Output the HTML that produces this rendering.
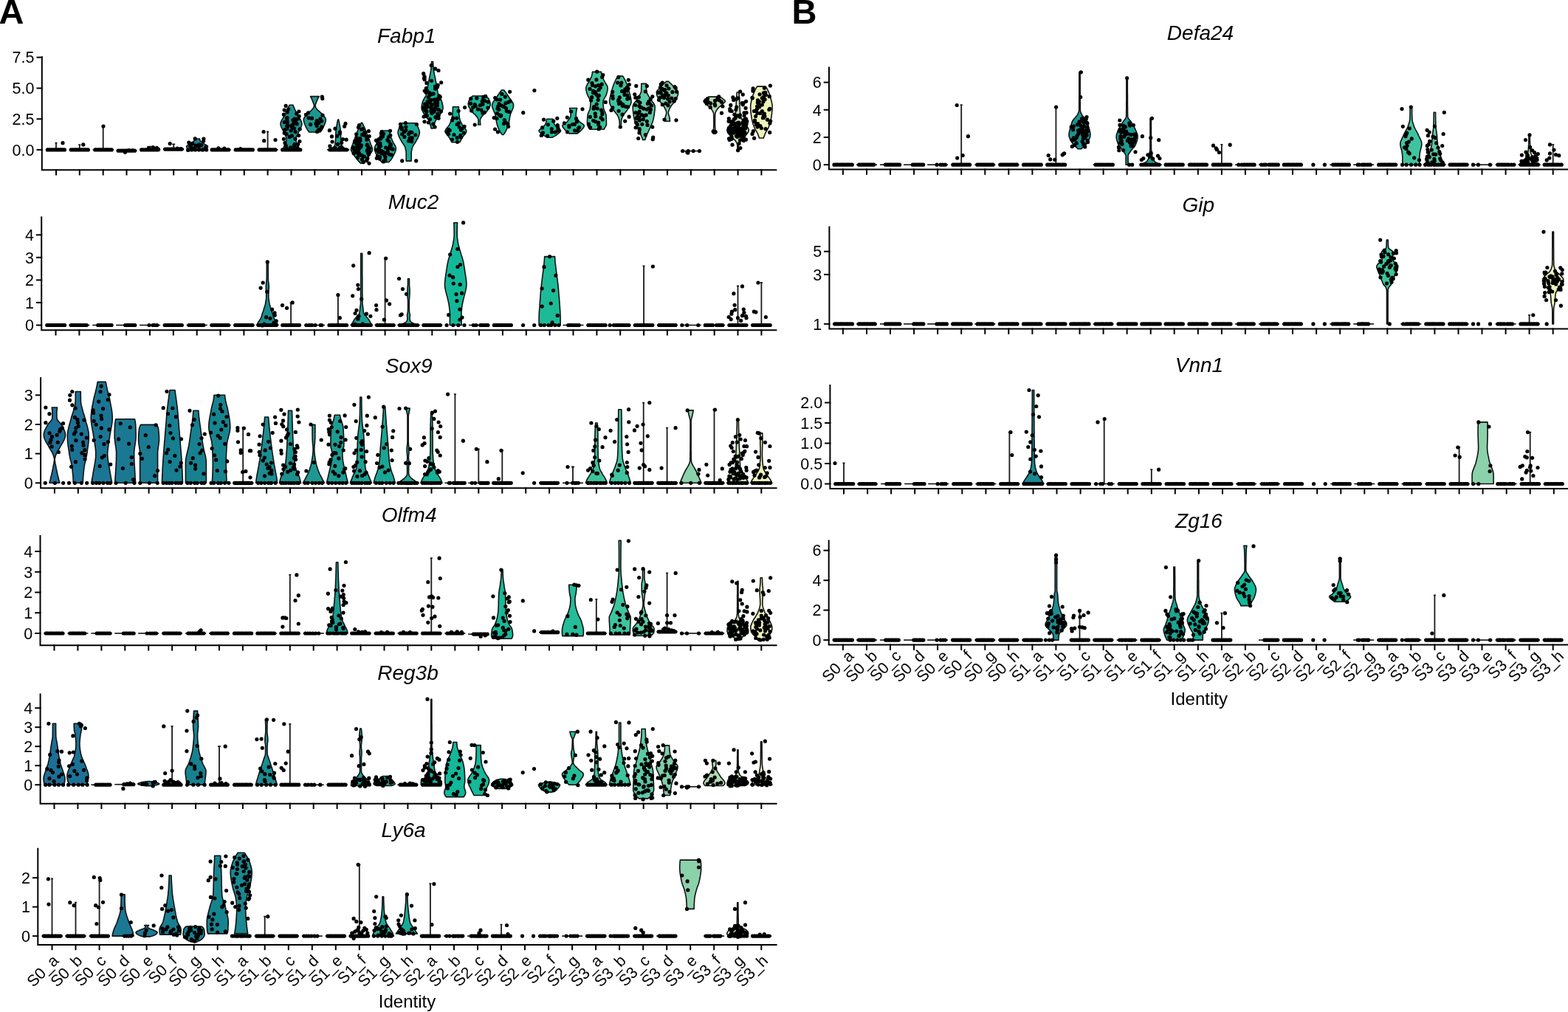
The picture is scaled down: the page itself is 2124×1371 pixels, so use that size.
<!DOCTYPE html>
<html><head><meta charset="utf-8"><title>Violin plots</title>
<style>
html,body{margin:0;padding:0;background:#fff;}
svg{display:block;}
text{font-family:"Liberation Sans", Arial, Helvetica, sans-serif;fill:#000;}
.tl{font-size:21.5px;}
.tt{font-size:28px;font-style:italic;}
.id{font-size:24px;}
.pl{font-size:47px;font-weight:bold;}
.ax{stroke:#000;stroke-width:2;fill:none;stroke-linecap:square;}
.v{stroke:#111;stroke-width:1.6;stroke-linejoin:round;}
.d{fill:none;stroke:#000;stroke-width:5.2;stroke-linecap:round;}
.zl{stroke:#111;stroke-width:1.6;fill:none;}
.vl{stroke:#1a1a1a;stroke-width:1.8;fill:none;}
</style></head><body>
<svg width="2124" height="1371" viewBox="0 0 2124 1371" xmlns="http://www.w3.org/2000/svg">
<rect width="2124" height="1371" fill="#fff"/>
<text x="-1.5" y="32.3" class="pl">A</text>
<text x="1072.5" y="32.3" class="pl">B</text>
<g>
<path d="M62 202.9H90" class="zl"/>
<path d="M76 202.9V193.6M74.5 193.6H77.5" class="vl"/>
<path class="d" d="M64.4 202.9h0M65.7 202.9h0M67.6 202.9h0M68.9 202.9h0M70.6 202.9h0M72.8 202.9h0M74.3 202.9h0M75 202.9h0M77.2 202.9h0M78.2 202.9h0M79.4 202.9h0M80.7 202.9h0M83 202.9h0M84.6 202.9h0M86 202.9h0M87.4 202.9h0M85 193.7h0"/>
<path d="M93.8 202.9H121.8" class="zl"/>
<path d="M107.8 202.9V196.2M106.3 196.2H109.3" class="vl"/>
<path class="d" d="M96.3 202.9h0M98.2 202.9h0M100 202.9h0M101.7 202.9h0M102.7 202.9h0M103.5 202.9h0M105.4 202.9h0M106.5 202.9h0M108.6 202.9h0M110.1 202.9h0M111.8 202.9h0M113.5 202.9h0M114.6 202.9h0M116.1 202.9h0M117.4 202.9h0M119.3 202.9h0M112.8 195.9h0"/>
<path d="M125.7 202.9H153.7" class="zl"/>
<path d="M139.7 202.9V171M138.2 171H141.2" class="vl"/>
<path class="d" d="M128.9 202.9h0M129.6 202.9h0M130.8 202.9h0M132.8 202.9h0M133.2 202.9h0M135 202.9h0M135.8 202.9h0M137.4 202.9h0M138.5 202.9h0M139.9 202.9h0M141.8 202.9h0M143.5 202.9h0M144.3 202.9h0M145.7 202.9h0M146.5 202.9h0M148.2 202.9h0M149.6 202.9h0M151.2 202.9h0M140 171h0"/>
<path d="M157.5 204.2H185.5" class="zl"/>
<path class="d" d="M160.3 204.2h0M162.5 204.2h0M164.7 204.2h0M166.8 204.2h0M168.8 204.2h0M171.1 204.2h0M172.5 204.2h0M175.2 204.2h0M176.4 204.2h0M178.4 204.2h0M180.1 204.2h0M182.5 204.2h0M169.5 206.2h0M174.5 203.7h0M179.5 203.7h0"/>
<path d="M189.4 202.9H217.4" class="zl"/>
<path d="M203.4 202.9V198.7M199.4 198.7H207.4" class="vl"/>
<path class="d" d="M191.6 202.9h0M193.7 202.9h0M196.5 202.9h0M198 202.9h0M200.9 202.9h0M202.4 202.9h0M204.2 202.9h0M205.9 202.9h0M208.9 202.9h0M210.1 202.9h0M212.8 202.9h0M214.1 202.9h0M201.4 200.9h0M207.4 199.6h0M212.4 200.4h0M214.4 202.1h0"/>
<path d="M221.2 202.1H249.2" class="zl"/>
<path d="M235.2 202.1V195.4M233.2 195.4H237.2" class="vl"/>
<path class="d" d="M223.6 202.1h0M225.5 202.1h0M226.9 202.1h0M227.9 202.1h0M229.8 202.1h0M230.5 202.1h0M232.3 202.1h0M232.8 202.1h0M234.2 202.1h0M235.9 202.1h0M236.9 202.1h0M238.3 202.1h0M239.3 202.1h0M240.8 202.1h0M242.8 202.1h0M243.5 202.1h0M244.7 202.1h0M246.3 202.1h0M230.2 194.6h0M240.2 201.2h0M245.2 201.6h0"/>
<path d="M257.1 203.9L256.6 203.6L256.2 203.2L255.7 202.9L255.3 202.6L254.9 202.2L254.6 201.9L254.3 201.5L254.1 201.2L253.8 200.9L253.6 200.5L253.4 200.2L253.2 199.9L253 199.5L252.8 199.2L252.7 198.8L252.7 198.5L252.7 198.2L252.9 197.8L253.2 197.5L253.7 197.2L254.2 196.8L254.7 196.5L255.4 196.1L256 195.8L256.6 195.5L257.2 195.1L257.7 194.8L258.2 194.5L258.7 194.1L259.2 193.8L259.6 193.4L260.1 193.1L260.6 192.8L261.1 192.4L261.5 192.1L262 191.8L262.3 191.4L262.6 191.1L262.9 190.7L263.1 190.4L263.2 190.1L263.3 189.7L263.4 189.4L263.5 189.1L263.6 188.7L263.7 188.4L263.7 188L270.5 188L270.5 188.4L270.5 188.7L270.6 189.1L270.7 189.4L270.8 189.7L271 190.1L271.1 190.4L271.3 190.7L271.5 191.1L271.8 191.4L272.2 191.8L272.6 192.1L273.1 192.4L273.5 192.8L274 193.1L274.5 193.4L275 193.8L275.5 194.1L275.9 194.5L276.4 194.8L276.9 195.1L277.5 195.5L278.2 195.8L278.8 196.1L279.4 196.5L280 196.8L280.5 197.2L280.9 197.5L281.3 197.8L281.4 198.2L281.5 198.5L281.4 198.8L281.3 199.2L281.2 199.5L281 199.9L280.8 200.2L280.6 200.5L280.3 200.9L280.1 201.2L279.8 201.5L279.6 201.9L279.2 202.2L278.8 202.6L278.4 202.9L278 203.2L277.6 203.6L277.1 203.9Z" fill="#178190" class="v"/>
<path class="d" d="M259.5 201.6h0M258.8 199.1h0M272.6 196.6h0M257.9 197.8h0M269.5 195.8h0M256.1 193.4h0M265.1 197h0M264.3 187.9h0M261.7 202.4h0M264.2 200.5h0M255.8 193h0M269.4 198.5h0M254.8 203.4h0M260.1 200.9h0M278.9 199.5h0M275.7 191h0M274.1 203.1h0M260.8 194.4h0M254.6 202.9h0M259.6 202.9h0M264.4 202.9h0M269.5 202.9h0M274.8 202.9h0M279.7 202.9h0M275.9 188h0"/>
<path d="M284.9 202.9H312.9" class="zl"/>
<path class="d" d="M287.3 202.9h0M288.9 202.9h0M290.6 202.9h0M292.2 202.9h0M294.2 202.9h0M295.6 202.9h0M296.5 202.9h0M298 202.9h0M299.1 202.9h0M301 202.9h0M302.7 202.9h0M304.3 202.9h0M305.5 202.9h0M307.6 202.9h0M309.2 202.9h0M309.6 202.9h0M295.9 200.9h0M303.9 201.2h0"/>
<path d="M316.8 202.9H344.8" class="zl"/>
<path class="d" d="M319.3 202.9h0M321.5 202.9h0M322.2 202.9h0M323.8 202.9h0M324.8 202.9h0M327 202.9h0M327.4 202.9h0M328.9 202.9h0M330.5 202.9h0M332 202.9h0M333.5 202.9h0M334.7 202.9h0M336.4 202.9h0M337.4 202.9h0M338.6 202.9h0M340.2 202.9h0M342.3 202.9h0M325.8 201.6h0"/>
<path d="M348.6 202.9H376.6" class="zl"/>
<path d="M362.6 202.9V178.5M361.1 178.5H364.1" class="vl"/>
<path class="d" d="M351.2 202.9h0M352.8 202.9h0M353.9 202.9h0M355.6 202.9h0M357 202.9h0M359.4 202.9h0M360.4 202.9h0M362.4 202.9h0M363.5 202.9h0M364.7 202.9h0M366 202.9h0M367.4 202.9h0M369.1 202.9h0M370.6 202.9h0M372.3 202.9h0M373.2 202.9h0M357.1 178.5h0M357.7 190.7h0M373 189.5h0"/>
<path d="M383 202.9L383.5 201.6L384 200.3L384.5 199L385 197.7L385.6 196.5L386.2 195.2L386.7 193.9L387.3 192.6L387.7 191.3L388.1 190L388.2 188.7L388 187.4L387.7 186.1L387.2 184.9L386.6 183.6L385.9 182.3L385.3 181L384.7 179.7L384.2 178.4L383.6 177.1L382.9 175.8L382.2 174.5L381.6 173.3L381 172L380.5 170.7L380.2 169.4L380.1 168.1L380.1 166.8L380.4 165.5L380.9 164.2L381.6 162.9L382.3 161.7L383.1 160.4L383.8 159.1L384.6 157.8L385.3 156.5L385.9 155.2L386.6 153.9L387.3 152.6L387.9 151.3L388.6 150L389.3 148.8L389.9 147.5L390.5 146.2L391 144.9L391.5 143.6L392 142.3L397 142.3L397.4 143.6L397.9 144.9L398.5 146.2L399.1 147.5L399.7 148.8L400.3 150L401 151.3L401.7 152.6L402.3 153.9L403 155.2L403.6 156.5L404.3 157.8L405.1 159.1L405.9 160.4L406.7 161.7L407.4 162.9L408 164.2L408.5 165.5L408.8 166.8L408.9 168.1L408.7 169.4L408.4 170.7L407.9 172L407.3 173.3L406.7 174.5L406 175.8L405.4 177.1L404.7 178.4L404.2 179.7L403.6 181L403 182.3L402.3 183.6L401.7 184.9L401.2 186.1L400.9 187.4L400.8 188.7L400.9 190L401.2 191.3L401.6 192.6L402.2 193.9L402.8 195.2L403.4 196.5L403.9 197.7L404.4 199L404.9 200.3L405.4 201.6L406 202.9Z" fill="#1c9290" class="v"/>
<path class="d" d="M400.2 164h0M387.3 197.4h0M400.1 178.6h0M395.5 172.1h0M384.4 155.2h0M402.4 200.5h0M398.4 197.7h0M403.6 195.5h0M388.5 201.3h0M385.2 149.1h0M390 171.1h0M400.6 203h0M392.2 185.4h0M386 193.7h0M388.9 163.1h0M389.2 165.5h0M395.7 169.7h0M388.6 170.5h0M388.5 160h0M397.7 167.7h0M388.1 181.6h0M390.6 148h0M385.3 165.5h0M384.4 188.3h0M385.2 180.2h0M399.2 161.1h0M402.2 167.8h0M388.8 174.3h0M389.1 159.5h0M405.2 157.4h0M394.2 177h0M400 188.1h0M398.4 173.7h0M397.1 162.7h0M390.4 170h0M404.9 151h0M404.6 183.6h0M405.9 191.6h0M401.7 154.1h0M385.8 175.9h0M406.2 174.8h0M403.7 160.8h0M395.4 183.9h0M393.6 199.8h0M399.1 195.5h0M389.2 152h0M387.2 143.4h0M382.7 202.9h0M385.4 202.9h0M387.9 202.9h0M391.2 202.9h0M392.6 202.9h0M396.1 202.9h0M398.1 202.9h0M400.8 202.9h0M403.5 202.9h0M406.8 202.9h0"/>
<path d="M418.8 179L418 178L417.3 177L416.6 175.9L415.9 174.9L415.3 173.9L414.8 172.9L414.3 171.8L413.9 170.8L413.4 169.8L413 168.7L412.6 167.7L412.2 166.7L411.9 165.6L411.6 164.6L411.4 163.6L411.3 162.6L411.3 161.5L411.6 160.5L412.2 159.5L412.9 158.4L413.8 157.4L414.7 156.4L415.6 155.3L416.5 154.3L417.5 153.3L418.6 152.3L419.9 151.2L421.1 150.2L422.2 149.2L423.1 148.1L423.8 147.1L424.5 146.1L425.1 145L425.5 144L425.5 143L425.3 142L425 140.9L424.6 139.9L424.2 138.9L423.8 137.8L423.4 136.8L423 135.8L422.6 134.8L422.1 133.7L421.6 132.7L421.1 131.7L420.5 130.6L432.1 130.6L431.6 131.7L431 132.7L430.5 133.7L430.1 134.8L429.6 135.8L429.2 136.8L428.8 137.8L428.4 138.9L428 139.9L427.6 140.9L427.3 142L427.1 143L427.2 144L427.5 145L428.1 146.1L428.8 147.1L429.5 148.1L430.4 149.2L431.6 150.2L432.8 151.2L434 152.3L435.2 153.3L436.2 154.3L437 155.3L438 156.4L438.9 157.4L439.7 158.4L440.4 159.5L441 160.5L441.3 161.5L441.3 162.6L441.2 163.6L441 164.6L440.8 165.6L440.4 166.7L440.1 167.7L439.6 168.7L439.2 169.8L438.7 170.8L438.3 171.8L437.8 172.9L437.3 173.9L436.7 174.9L436.1 175.9L435.3 177L434.6 178L433.8 179Z" fill="#1d9890" class="v"/>
<path class="d" d="M433.9 161.2h0M429.6 178.4h0M434.3 174.7h0M431.5 175.9h0M435.7 164.1h0M417.6 152.8h0M414.5 155.3h0M429.2 163.5h0M429.2 170.6h0M422.5 160.2h0M431.8 166.6h0M435.7 171.8h0M428 167.4h0M418.2 159.8h0M420.6 168.7h0M437 156.2h0M436.3 131.1h0M436.8 133.6h0"/>
<path d="M443.7 202.9L446.4 202L448.8 201.2L450.3 200.3L451.4 199.4L452.3 198.5L453 197.7L453.5 196.8L453.7 195.9L453.9 195.1L454 194.2L454.1 193.3L454.2 192.5L454.3 191.6L454.4 190.7L454.5 189.8L454.5 189L454.6 188.1L454.6 187.2L454.7 186.4L454.7 185.5L454.7 184.6L454.8 183.8L454.8 182.9L454.8 182L454.8 181.1L454.9 180.3L454.9 179.4L454.9 178.5L455 177.7L455 176.8L455.1 175.9L455.2 175.1L455.4 174.2L455.5 173.3L455.7 172.4L455.8 171.6L456 170.7L456.1 169.8L456.3 169L456.4 168.1L456.6 167.2L456.7 166.4L456.9 165.5L457.1 164.6L457.3 163.7L457.5 162.9L457.7 162L458.7 162L458.9 162.9L459 163.7L459.2 164.6L459.4 165.5L459.6 166.4L459.8 167.2L459.9 168.1L460.1 169L460.2 169.8L460.4 170.7L460.5 171.6L460.7 172.4L460.8 173.3L461 174.2L461.1 175.1L461.2 175.9L461.3 176.8L461.3 177.7L461.4 178.5L461.4 179.4L461.5 180.3L461.5 181.1L461.5 182L461.5 182.9L461.6 183.8L461.6 184.6L461.6 185.5L461.7 186.4L461.7 187.2L461.8 188.1L461.8 189L461.9 189.8L461.9 190.7L462 191.6L462.1 192.5L462.2 193.3L462.3 194.2L462.4 195.1L462.6 195.9L462.8 196.8L463.3 197.7L464 198.5L465 199.4L466 200.3L467.6 201.2L469.9 202L472.7 202.9Z" fill="#1c9c92" class="v"/>
<path class="d" d="M454 174.2h0M462.6 199.4h0M462.7 193.4h0M457.5 195.4h0M446.4 176.7h0M469.1 189.2h0M460.7 200.4h0M468 167.4h0M464.4 188.6h0M449.3 202.1h0M467.6 202.7h0M446.9 197.8h0M449.5 184.9h0M453.9 200.7h0M460.4 178.8h0M450.1 192h0M466.6 171.2h0M459.3 202.9h0M456.5 184.3h0M460.4 180.8h0M446.9 202.9h0M448.3 202.9h0M451.2 202.9h0M454.4 202.9h0M457.5 202.9h0M459.4 202.9h0M462.1 202.9h0M465.4 202.9h0M467.9 202.9h0M469.7 202.9h0"/>
<path d="M488.5 221.3L487.4 220.1L486.3 218.9L485.3 217.7L484.3 216.6L483.3 215.4L482.4 214.2L481.5 213.1L480.6 211.9L479.8 210.7L479 209.5L478.3 208.4L477.6 207.2L476.8 206L476.1 204.9L475.6 203.7L475.5 202.5L475.7 201.3L475.9 200.2L476.3 199L476.8 197.8L477.2 196.7L477.7 195.5L478.1 194.3L478.5 193.1L478.9 192L479.3 190.8L479.7 189.6L480.2 188.4L480.6 187.3L481 186.1L481.5 184.9L481.9 183.8L482.3 182.6L482.8 181.4L483.2 180.2L483.7 179.1L484.1 177.9L484.6 176.7L485.1 175.6L485.6 174.4L486.1 173.2L486.6 172L487.2 170.9L487.7 169.7L488.3 168.5L488.9 167.4L489.5 166.2L490.5 166.2L491.1 167.4L491.7 168.5L492.3 169.7L492.8 170.9L493.4 172L493.9 173.2L494.4 174.4L494.9 175.6L495.4 176.7L495.9 177.9L496.3 179.1L496.8 180.2L497.2 181.4L497.7 182.6L498.1 183.8L498.5 184.9L499 186.1L499.4 187.3L499.8 188.4L500.3 189.6L500.7 190.8L501.1 192L501.5 193.1L501.9 194.3L502.3 195.5L502.8 196.7L503.3 197.8L503.7 199L504.1 200.2L504.4 201.3L504.5 202.5L504.4 203.7L503.9 204.9L503.2 206L502.4 207.2L501.7 208.4L501 209.5L500.2 210.7L499.4 211.9L498.5 213.1L497.6 214.2L496.7 215.4L495.7 216.6L494.8 217.7L493.7 218.9L492.6 220.1L491.5 221.3Z" fill="#1aa193" class="v"/>
<path class="d" d="M500.2 184.5h0M480.5 191.6h0M500.6 201.2h0M486.2 193.9h0M487.8 187.6h0M484.6 213.6h0M497.9 214.3h0M489.5 196.8h0M485.9 209.7h0M491.7 174.5h0M496.8 217.7h0M479.1 207.7h0M490.7 182.4h0M499.4 209.2h0M497.4 195.8h0M498.8 208.1h0M486.4 207.3h0M481.8 193.4h0M485.3 191.6h0M483.6 198.2h0M499.3 201.6h0M499.4 177.6h0M492.2 219.7h0M479.3 202.2h0M497.7 188.5h0M483.8 206.7h0M478.5 199.7h0M489.7 175.2h0M488 190.5h0M497.6 215.2h0M482.6 191.1h0M494.4 179.8h0M486.5 169.5h0M482.3 202.9h0M493.2 212h0M483.4 195.3h0M497.6 203.2h0M482 206.3h0M485.6 198.9h0M496.6 189.2h0M500.3 205.3h0M497.1 185.7h0M483.5 187h0M489.9 210.4h0M498.5 198.1h0M485.2 204h0M497.1 196.7h0M493.8 179.6h0M485.5 172.4h0M497.4 204.6h0M486.5 201.3h0M493.4 183.2h0M488.7 199h0M490.5 215.9h0M482.7 181.8h0M500 221.3h0"/>
<path d="M516.9 219.6L516.1 218.7L515.3 217.8L514.5 216.9L513.8 216L513.2 215.1L512.6 214.2L512 213.3L511.6 212.3L511.1 211.4L510.6 210.5L510.1 209.6L509.6 208.7L509.2 207.8L508.8 206.9L508.4 206L508.1 205.1L507.8 204.2L507.6 203.3L507.4 202.4L507.4 201.5L507.4 200.6L507.6 199.7L507.9 198.8L508.2 197.9L508.7 197L509.2 196L509.8 195.1L510.3 194.2L510.8 193.3L511.3 192.4L511.7 191.5L512.1 190.6L512.5 189.7L512.8 188.8L513.2 187.9L513.6 187L513.9 186.1L514.3 185.2L514.6 184.3L514.9 183.4L515.1 182.5L515.3 181.6L515.4 180.7L515.6 179.7L515.7 178.8L515.8 177.9L515.9 177L527.9 177L527.9 177.9L528 178.8L528.1 179.7L528.3 180.7L528.4 181.6L528.6 182.5L528.9 183.4L529.1 184.3L529.4 185.2L529.8 186.1L530.1 187L530.5 187.9L530.9 188.8L531.2 189.7L531.6 190.6L532 191.5L532.4 192.4L532.9 193.3L533.4 194.2L534 195.1L534.5 196L535 197L535.5 197.9L535.8 198.8L536.1 199.7L536.3 200.6L536.4 201.5L536.3 202.4L536.1 203.3L535.9 204.2L535.6 205.1L535.3 206L534.9 206.9L534.5 207.8L534.1 208.7L533.6 209.6L533.1 210.5L532.6 211.4L532.2 212.3L531.7 213.3L531.1 214.2L530.5 215.1L529.9 216L529.2 216.9L528.4 217.8L527.6 218.7L526.9 219.6Z" fill="#19a694" class="v"/>
<path class="d" d="M526.8 191.7h0M520.9 210.2h0M510.2 214.3h0M511.5 211.6h0M514.9 194.1h0M514.5 212.9h0M526.4 185.6h0M527.2 209h0M513.3 188.5h0M517.1 207.9h0M509.5 190.2h0M515.9 186.9h0M518.5 205.4h0M516.4 180.6h0M520.4 217.8h0M519.5 218.9h0M528.8 183.3h0M529.1 195.4h0M512.8 206h0M509.6 203.1h0M519.5 181.2h0M515.6 197.8h0M532.2 202.2h0M528.5 177.3h0M525.1 205.3h0M518.3 185.1h0M529.4 196.8h0M517.1 178.7h0M522.7 200.1h0M522 212.5h0M530.2 209.9h0M525.7 200.9h0M522.5 207h0M524.9 189.8h0M513.5 199.2h0M523.7 206.7h0M527.1 200.9h0M512 193.6h0M512.8 195.6h0M513.1 194.2h0M528.3 197.4h0M530.4 201.5h0M514.1 215.1h0M513.5 202.2h0M516.1 204.4h0M515.7 188h0M521.8 216.6h0"/>
<path d="M550.2 218.1L550.2 217L550.2 215.9L550.2 214.8L550.2 213.7L550.2 212.6L550.2 211.5L550.2 210.4L550.2 209.3L550.2 208.2L550.2 207.2L550.1 206.1L550 205L549.8 203.9L549.5 202.8L549.3 201.7L549 200.6L548.7 199.5L548.3 198.4L547.7 197.3L547 196.2L546.2 195.1L545.4 194L544.7 192.9L544 191.8L543.5 190.7L542.9 189.7L542.3 188.6L541.7 187.5L541.2 186.4L540.7 185.3L540.2 184.2L539.8 183.1L539.4 182L539.2 180.9L539.1 179.8L539.1 178.7L539.3 177.6L539.6 176.5L539.9 175.4L540.4 174.3L540.8 173.2L541.3 172.2L541.8 171.1L542.3 170L542.9 168.9L543.5 167.8L544.2 166.7L563.2 166.7L563.9 167.8L564.5 168.9L565.1 170L565.6 171.1L566.1 172.2L566.6 173.2L567 174.3L567.5 175.4L567.8 176.5L568.1 177.6L568.3 178.7L568.3 179.8L568.2 180.9L568 182L567.6 183.1L567.2 184.2L566.7 185.3L566.2 186.4L565.7 187.5L565.1 188.6L564.5 189.7L563.9 190.7L563.4 191.8L562.7 192.9L562 194L561.2 195.1L560.4 196.2L559.7 197.3L559.1 198.4L558.7 199.5L558.4 200.6L558.1 201.7L557.9 202.8L557.6 203.9L557.4 205L557.3 206.1L557.2 207.2L557.2 208.2L557.2 209.3L557.2 210.4L557.2 211.5L557.2 212.6L557.2 213.7L557.2 214.8L557.2 215.9L557.2 217L557.2 218.1Z" fill="#18aa96" class="v"/>
<path class="d" d="M544.4 175.1h0M557.7 179.4h0M544.2 173.1h0M549.4 166.6h0M547.5 178.8h0M549.9 172h0M558 188.1h0M544.7 181.8h0M558.2 186.5h0M549.8 176.6h0M555.1 186.8h0M542.8 172.4h0M557.8 191.8h0M553.6 181.4h0M547.9 185.4h0M553.6 190.9h0M542.5 168.3h0M564.4 168.5h0M555.4 179.1h0M562.8 182.8h0M544.7 217.9h0M563.7 217.9h0"/>
<path d="M584 174L583.7 172.1L583.2 170.2L582.7 168.3L582.2 166.3L581.5 164.4L580.4 162.5L578.9 160.6L577.3 158.6L575.9 156.7L574.7 154.8L573.6 152.9L572.5 150.9L571.6 149L571.1 147.1L571.1 145.2L571.3 143.2L571.7 141.3L572.1 139.4L572.6 137.5L573.5 135.5L574.6 133.6L575.7 131.7L576.8 129.8L577.5 127.8L578 125.9L578.3 124L578.6 122.1L578.9 120.1L579.2 118.2L579.5 116.3L579.9 114.4L580.3 112.4L580.7 110.5L581.1 108.6L581.4 106.7L581.8 104.7L582.2 102.8L582.6 100.9L583 99L583.4 97L583.7 95.1L583.9 93.2L584.1 91.3L584.2 89.3L584.4 87.4L584.5 85.5L584.5 83.6L586.5 83.6L586.6 85.5L586.7 87.4L586.9 89.3L587 91.3L587.2 93.2L587.4 95.1L587.7 97L588.1 99L588.4 100.9L588.9 102.8L589.3 104.7L589.7 106.7L590 108.6L590.4 110.5L590.8 112.4L591.2 114.4L591.6 116.3L591.9 118.2L592.2 120.1L592.5 122.1L592.8 124L593.1 125.9L593.6 127.8L594.3 129.8L595.4 131.7L596.5 133.6L597.6 135.5L598.4 137.5L599 139.4L599.4 141.3L599.8 143.2L600 145.2L600 147.1L599.5 149L598.6 150.9L597.5 152.9L596.4 154.8L595.2 156.7L593.8 158.6L592.2 160.6L590.7 162.5L589.6 164.4L588.9 166.3L588.4 168.3L587.9 170.2L587.4 172.1L587 174Z" fill="#15b198" class="v"/>
<path class="d" d="M588 151.3h0M594.1 156.7h0M593.2 115.3h0M594 95.5h0M575.2 104.5h0M589.9 145.4h0M592.4 135.5h0M592.1 159.2h0M578.9 144.5h0M589.1 172h0M584.6 147.6h0M592.4 118h0M577.4 123.1h0M595.2 132.4h0M584.4 142.2h0M592.2 134.1h0M585.1 142.4h0M592.3 143h0M595.5 133.6h0M597.7 111.8h0M594.1 160.2h0M575 164.8h0M578.8 141.1h0M582.5 161.5h0M581.8 129.6h0M588.2 135.2h0M589.3 140.2h0M589.6 93.2h0M585.1 153.6h0M584.6 152.2h0M577.9 151.2h0M584.6 109.3h0M577 146.9h0M578.8 143.3h0M585.4 127.3h0M577.2 155.5h0M591.7 118.4h0M574.9 103.7h0M588.8 149.5h0M574.1 158.1h0M592.4 139.9h0M584.7 141.3h0M583.9 150.4h0M575.2 123h0M576.1 149.8h0M578.8 123.4h0M580.2 131.8h0M578.4 156.8h0M580.4 166h0M573.7 99.7h0M596.2 131h0M582 125.9h0M582.7 136.7h0M586.8 168h0M575.7 141.2h0M593 154.4h0M577.9 112.4h0M587.1 127h0M594.1 148.7h0M577.1 125.3h0M587.2 148.3h0M590 158.7h0M574.8 147.5h0M589.5 117h0M579.1 137.5h0M597.4 150.9h0M594.9 129.9h0M584.1 135.6h0M581.6 138.6h0M577.3 119.6h0M583.7 145.5h0M589.5 120.2h0M592.4 137.3h0M574.5 106.2h0M584.2 88.5h0M575.1 107.7h0M577 157.4h0M573.7 145.7h0"/>
<path d="M611.9 192.7L611.4 191.7L610.9 190.7L610.3 189.7L609.8 188.6L609.2 187.6L608.6 186.6L608 185.6L607.2 184.6L606.4 183.5L605.5 182.5L604.7 181.5L603.9 180.5L603.4 179.5L603 178.5L603 177.4L603.3 176.4L603.9 175.4L604.6 174.4L605.5 173.4L606.3 172.3L607.2 171.3L607.9 170.3L608.5 169.3L609 168.3L609.5 167.2L610.1 166.2L610.5 165.2L611 164.2L611.4 163.2L611.8 162.1L612.1 161.1L612.3 160.1L612.4 159.1L612.6 158.1L612.7 157L612.8 156L612.9 155L613 154L613.1 153L613.1 152L613.2 150.9L613.3 149.9L613.3 148.9L613.3 147.9L613.4 146.9L613.4 145.8L613.4 144.8L621.4 144.8L621.4 145.8L621.4 146.9L621.4 147.9L621.5 148.9L621.5 149.9L621.6 150.9L621.7 152L621.7 153L621.8 154L621.9 155L622 156L622.1 157L622.2 158.1L622.3 159.1L622.5 160.1L622.7 161.1L623 162.1L623.4 163.2L623.8 164.2L624.2 165.2L624.7 166.2L625.2 167.2L625.8 168.3L626.3 169.3L626.8 170.3L627.6 171.3L628.4 172.3L629.3 173.4L630.2 174.4L630.9 175.4L631.5 176.4L631.8 177.4L631.7 178.5L631.4 179.5L630.9 180.5L630.1 181.5L629.3 182.5L628.4 183.5L627.6 184.6L626.8 185.6L626.2 186.6L625.6 187.6L625 188.6L624.5 189.7L623.9 190.7L623.4 191.7L622.9 192.7Z" fill="#12b899" class="v"/>
<path class="d" d="M625.9 174.3h0M621.1 166.9h0M613.7 160.2h0M618.7 160h0M606 178.6h0M623.7 183.4h0M622.3 172.3h0M624.3 176.1h0M609.6 154h0M615 182.5h0M619.5 192.3h0M619.1 168.5h0M629 171.4h0M628.2 180h0M619.2 186.7h0M612.4 189h0M607.9 175.6h0M609.2 176.6h0M612.5 163h0M624.5 186.1h0M621.1 150.3h0M607.6 181.5h0M629.6 145.6h0"/>
<path d="M647.4 169L647.7 168.2L647.8 167.4L647.9 166.5L648 165.7L648 164.9L648 164L648 163.2L648 162.4L647.8 161.5L647.5 160.7L647 159.9L646.5 159L646 158.2L645.4 157.4L644.7 156.6L643.9 155.7L643 154.9L642 154.1L641.1 153.2L640.3 152.4L639.5 151.6L639 150.7L638.4 149.9L637.8 149.1L637.2 148.2L636.7 147.4L636.2 146.6L635.7 145.8L635.2 144.9L634.9 144.1L634.6 143.3L634.4 142.4L634.3 141.6L634.2 140.8L634.3 139.9L634.5 139.1L634.7 138.3L635 137.4L635.3 136.6L635.6 135.8L636 135L636.4 134.1L637 133.3L637.6 132.5L638.4 131.6L639.3 130.8L640.2 130L658.2 130L659.2 130.8L660 131.6L660.8 132.5L661.5 133.3L662.1 134.1L662.5 135L662.8 135.8L663.2 136.6L663.5 137.4L663.8 138.3L664 139.1L664.1 139.9L664.2 140.8L664.2 141.6L664.1 142.4L663.9 143.3L663.6 144.1L663.2 144.9L662.8 145.8L662.3 146.6L661.8 147.4L661.3 148.2L660.7 149.1L660.1 149.9L659.5 150.7L658.9 151.6L658.2 152.4L657.4 153.2L656.4 154.1L655.5 154.9L654.6 155.7L653.7 156.6L653 157.4L652.5 158.2L652 159L651.5 159.9L651 160.7L650.7 161.5L650.5 162.4L650.4 163.2L650.4 164L650.5 164.9L650.5 165.7L650.6 166.5L650.7 167.4L650.8 168.2L651 169Z" fill="#15b899" class="v"/>
<path class="d" d="M645.8 133.1h0M637.5 140.2h0M643.1 141.5h0M652 149.1h0M637.8 133.7h0M647.5 148.1h0M653.9 153h0M653.2 137.7h0M654.2 135.3h0M657.7 130.4h0M640.8 145.3h0M656.2 152.3h0M656.5 136.7h0M638.6 149.9h0M653.9 141.3h0M660.9 146.1h0M644.2 143.7h0M654.7 131.3h0M650.4 142.7h0M661 138.1h0M643.2 169h0"/>
<path d="M680.3 182.5L679.3 181.2L678.3 180L677.6 178.7L676.9 177.4L676.2 176.1L675.6 174.8L675 173.5L674.5 172.2L674 170.9L673.6 169.6L673.2 168.4L672.9 167.1L672.6 165.8L672.4 164.5L672.2 163.2L672 161.9L671.9 160.6L671.7 159.3L671.5 158L671.2 156.8L670.9 155.5L670.5 154.2L670 152.9L669.4 151.6L668.8 150.3L668.3 149L667.7 147.7L667.2 146.4L666.9 145.2L666.6 143.9L666.6 142.6L666.8 141.3L667.2 140L667.8 138.7L668.6 137.4L669.5 136.1L670.5 134.8L671.4 133.6L672.3 132.3L673.2 131L674 129.7L674.9 128.4L675.8 127.1L676.7 125.8L677.6 124.5L678.6 123.2L679.6 122L682.6 122L683.6 123.2L684.5 124.5L685.5 125.8L686.4 127.1L687.3 128.4L688.2 129.7L689 131L689.8 132.3L690.8 133.6L691.7 134.8L692.7 136.1L693.5 137.4L694.3 138.7L695 140L695.4 141.3L695.6 142.6L695.5 143.9L695.3 145.2L694.9 146.4L694.5 147.7L693.9 149L693.3 150.3L692.8 151.6L692.2 152.9L691.7 154.2L691.3 155.5L691 156.8L690.7 158L690.5 159.3L690.3 160.6L690.1 161.9L689.9 163.2L689.7 164.5L689.5 165.8L689.3 167.1L689 168.4L688.6 169.6L688.2 170.9L687.7 172.2L687.1 173.5L686.6 174.8L685.9 176.1L685.3 177.4L684.6 178.7L683.8 180L682.9 181.2L681.9 182.5Z" fill="#18b998" class="v"/>
<path class="d" d="M688 167.8h0M673.5 153.5h0M679.6 143.1h0M669.2 159.6h0M674.8 143.8h0M673 134.8h0M691.1 137.2h0M670.7 132.6h0M690.6 124.3h0M685.5 146.6h0M683.4 162.6h0M688.2 138.5h0M686.3 150.6h0M670.6 175h0M682.4 167.4h0M672.9 160.5h0M688.6 171.4h0M684.4 131.1h0M675.9 148.3h0M677.7 135h0M684.9 139.9h0M685 165.8h0M689.6 151.4h0M676.4 155.8h0M679.9 127.4h0M678.8 156.3h0M674 147.2h0M678.4 157.3h0M676.1 140.7h0M674.4 178.8h0M682.3 144.6h0"/>
<path class="d" d="M723.9 122.6h0M708.7 152.7h0"/>
<path d="M741.8 186.2L740.7 185.7L739.6 185.1L738.6 184.6L737.6 184.1L736.7 183.5L736 183L735.3 182.5L734.5 181.9L733.8 181.4L733.1 180.9L732.5 180.4L731.8 179.8L731.3 179.3L730.8 178.8L730.4 178.2L730.2 177.7L730.1 177.2L730.2 176.6L730.5 176.1L731.1 175.6L731.8 175L732.6 174.5L733.4 174L734.1 173.4L734.7 172.9L735.3 172.4L735.8 171.8L736.3 171.3L736.8 170.8L737.2 170.2L737.7 169.7L738.1 169.2L738.4 168.6L738.7 168.1L738.9 167.6L739.1 167L739.3 166.5L739.5 166L739.7 165.4L739.8 164.9L740 164.4L740.1 163.8L740.3 163.3L740.3 162.8L740.4 162.2L740.5 161.7L740.5 161.2L749.1 161.2L749.1 161.7L749.1 162.2L749.2 162.8L749.3 163.3L749.4 163.8L749.6 164.4L749.7 164.9L749.9 165.4L750.1 166L750.3 166.5L750.5 167L750.7 167.6L750.9 168.1L751.2 168.6L751.5 169.2L751.9 169.7L752.3 170.2L752.8 170.8L753.3 171.3L753.8 171.8L754.3 172.4L754.8 172.9L755.4 173.4L756.1 174L756.9 174.5L757.7 175L758.5 175.6L759 176.1L759.4 176.6L759.5 177.2L759.4 177.7L759.1 178.2L758.8 178.8L758.3 179.3L757.7 179.8L757.1 180.4L756.4 180.9L755.7 181.4L755 181.9L754.3 182.5L753.6 183L752.8 183.5L751.9 184.1L751 184.6L750 185.1L748.9 185.7L747.8 186.2Z" fill="#1dba98" class="v"/>
<path class="d" d="M755.6 171.8h0M749.8 164.2h0M755.2 169.5h0M756.3 174.8h0M747.3 174.6h0M755.9 176h0M734.6 172.9h0M756.6 177.2h0M735.5 179.8h0M741.5 184.2h0M736.5 162.1h0M752.1 179h0M742.4 168.8h0M733.3 183.5h0M747.4 178.8h0M734.6 181.6h0M754.8 160.3h0"/>
<path d="M771.1 180.9L770.1 180.1L769.1 179.4L768.2 178.7L767.3 177.9L766.6 177.2L765.9 176.5L765.2 175.7L764.6 175L764 174.3L763.4 173.6L762.8 172.8L762.4 172.1L762.1 171.4L761.9 170.6L762 169.9L762.5 169.2L763.3 168.4L764.3 167.7L765.4 167L766.6 166.2L767.6 165.5L768.4 164.8L769 164L769.5 163.3L770.1 162.6L770.6 161.8L771.2 161.1L771.6 160.4L772.1 159.7L772.4 158.9L772.7 158.2L773 157.5L773.1 156.7L773.1 156L773.1 155.3L773.1 154.5L773 153.8L772.9 153.1L772.8 152.3L772.7 151.6L772.6 150.9L772.5 150.1L772.3 149.4L772.2 148.7L772 148L771.8 147.2L771.6 146.5L781.6 146.5L781.4 147.2L781.3 148L781.1 148.7L780.9 149.4L780.8 150.1L780.7 150.9L780.6 151.6L780.5 152.3L780.4 153.1L780.3 153.8L780.2 154.5L780.2 155.3L780.1 156L780.2 156.7L780.3 157.5L780.5 158.2L780.8 158.9L781.2 159.7L781.6 160.4L782.1 161.1L782.6 161.8L783.2 162.6L783.7 163.3L784.3 164L784.8 164.8L785.7 165.5L786.7 166.2L787.8 167L788.9 167.7L789.9 168.4L790.8 169.2L791.2 169.9L791.3 170.6L791.2 171.4L790.8 172.1L790.4 172.8L789.9 173.6L789.3 174.3L788.6 175L788 175.7L787.4 176.5L786.7 177.2L785.9 177.9L785 178.7L784.1 179.4L783.1 180.1L782.1 180.9Z" fill="#25bc99" class="v"/>
<path class="d" d="M770.8 170.4h0M784.6 172.6h0M780.6 160.7h0M771 172.1h0M778.2 168.5h0M783.6 173.6h0M778.5 176.8h0M781.3 164.9h0M773.6 151h0M768.5 178.8h0M789 147.8h0M782.5 177.1h0M775.6 168.5h0M768.3 159.1h0M764.4 166.9h0"/>
<path d="M799 175.2L797.8 173.5L796.8 171.9L796 170.2L795.5 168.6L795.5 166.9L795.5 165.3L795.5 163.6L795.6 162L795.7 160.3L795.8 158.6L795.9 157L796.1 155.3L796.6 153.7L797.3 152L798.1 150.4L798.8 148.7L799.3 147.1L799.5 145.4L799.7 143.8L799.8 142.1L799.9 140.4L800 138.8L799.9 137.1L799.5 135.5L798.7 133.8L797.7 132.2L796.7 130.5L795.9 128.9L795.3 127.2L794.8 125.6L794.4 123.9L794 122.2L793.8 120.6L793.8 118.9L794.2 117.3L794.9 115.6L795.8 114L796.9 112.3L797.8 110.7L798.7 109L799.5 107.3L800.3 105.7L801.1 104L801.6 102.4L802 100.7L802.3 99.1L802.5 97.4L814.5 97.4L814.7 99.1L815 100.7L815.4 102.4L815.9 104L816.6 105.7L817.4 107.3L818.3 109L819.1 110.7L820.1 112.3L821.1 114L822.1 115.6L822.8 117.3L823.1 118.9L823.1 120.6L822.9 122.2L822.5 123.9L822.1 125.6L821.6 127.2L821.1 128.9L820.3 130.5L819.3 132.2L818.3 133.8L817.5 135.5L817 137.1L817 138.8L817 140.4L817.1 142.1L817.3 143.8L817.4 145.4L817.6 147.1L818.1 148.7L818.9 150.4L819.7 152L820.4 153.7L820.9 155.3L821 157L821.2 158.6L821.3 160.3L821.3 162L821.4 163.6L821.4 165.3L821.5 166.9L821.4 168.6L821 170.2L820.1 171.9L819.1 173.5L818 175.2Z" fill="#3cc39c" class="v"/>
<path class="d" d="M815.8 154.8h0M804.7 144.6h0M810.1 130.6h0M799 120.4h0M811.3 129.4h0M812.7 172.6h0M796.8 108.2h0M806.6 164.8h0M814 159.6h0M814.4 149.1h0M799.4 158.4h0M810.6 168.9h0M810.7 166h0M797.5 168.1h0M811.1 121.7h0M801.7 131.7h0M807.8 127.9h0M802.6 115.5h0M816.1 161.9h0M799.5 172.6h0M803.7 123.4h0M802 112.6h0M806.3 153.9h0M815.9 152.5h0M810.4 115.5h0M806.7 157.8h0M808.7 97.1h0M808.3 141h0M810.2 135.3h0M815.7 104.4h0M806.7 124.8h0M813.2 118.7h0M811.1 174.7h0M804.1 147.2h0M820.3 138.4h0M815.2 114.2h0M806.6 116.8h0M800.6 135.9h0M803.7 163.3h0M803.6 125.7h0M807.9 107.9h0M816.8 101.5h0M809.1 146.9h0"/>
<path d="M839.3 172.9L839.3 171.4L839.3 169.9L839.3 168.4L839.2 166.9L839.2 165.4L839.1 164L838.8 162.5L838.4 161L837.9 159.5L837.4 158L836.7 156.5L835.6 155L834.4 153.6L833.2 152.1L832 150.6L831.1 149.1L830.2 147.6L829.2 146.1L828.2 144.7L827.3 143.2L826.6 141.7L826 140.2L825.7 138.7L825.6 137.2L825.7 135.7L825.9 134.3L826.2 132.8L826.5 131.3L826.9 129.8L827.3 128.3L827.6 126.8L828 125.4L828.4 123.9L828.8 122.4L829.2 120.9L829.6 119.4L830.1 117.9L830.6 116.5L831.1 115L831.7 113.5L832.3 112L833 110.5L833.7 109L834.4 107.5L835.2 106.1L836.1 104.6L836.9 103.1L843.7 103.1L844.6 104.6L845.4 106.1L846.2 107.5L847 109L847.7 110.5L848.3 112L849 113.5L849.5 115L850 116.5L850.5 117.9L851 119.4L851.5 120.9L851.9 122.4L852.3 123.9L852.6 125.4L853 126.8L853.4 128.3L853.7 129.8L854.1 131.3L854.4 132.8L854.7 134.3L854.9 135.7L855 137.2L855 138.7L854.6 140.2L854.1 141.7L853.3 143.2L852.4 144.7L851.5 146.1L850.5 147.6L849.5 149.1L848.6 150.6L847.4 152.1L846.2 153.6L845 155L844 156.5L843.3 158L842.7 159.5L842.2 161L841.8 162.5L841.6 164L841.5 165.4L841.4 166.9L841.4 168.4L841.3 169.9L841.3 171.4L841.3 172.9Z" fill="#3fc4a0" class="v"/>
<path class="d" d="M828 149.4h0M849.6 118.1h0M829.8 145.9h0M843.9 141.7h0M841.8 112.1h0M845.6 124.6h0M838.1 150.3h0M849.4 122.9h0M849.8 134.1h0M836.7 112h0M841 115.8h0M837.6 136.7h0M852.4 114.5h0M849.7 129.1h0M852.1 158.2h0M847.7 144.4h0M839.3 131.9h0M846.9 120.9h0M837.7 104.6h0M830.2 133.3h0M829.8 129.9h0M851.1 119.8h0M846.7 164.1h0M852.5 133.1h0M851.3 108.3h0M829.7 124.4h0M843 141h0M850.7 144.8h0M843.1 155.2h0M842.6 123.7h0M846.1 128.5h0M840.2 138.6h0M838.5 140.6h0M838 135h0M843.3 143.6h0M840.3 172h0"/>
<path d="M870.7 189.4L870.1 187.8L869.5 186.1L868.8 184.5L868.2 182.9L867.5 181.3L866.8 179.7L866 178.1L865.3 176.5L864.5 174.8L863.8 173.2L863.1 171.6L862.4 170L861.7 168.4L861 166.8L860.3 165.1L859.8 163.5L859.3 161.9L859 160.3L858.7 158.7L858.4 157.1L858.2 155.5L857.9 153.8L857.7 152.2L857.5 150.6L857.4 149L857.2 147.4L857.2 145.8L857.2 144.1L857.6 142.5L858.3 140.9L859.4 139.3L860.7 137.7L862 136.1L863.2 134.4L864.2 132.8L865 131.2L866 129.6L866.9 128L867.7 126.4L868.3 124.8L868.7 123.1L868.7 121.5L868.7 119.9L868.7 118.3L868.8 116.7L868.8 115.1L868.8 113.4L875.6 113.4L875.6 115.1L875.6 116.7L875.6 118.3L875.6 119.9L875.6 121.5L875.7 123.1L876 124.8L876.6 126.4L877.4 128L878.3 129.6L879.3 131.2L880.2 132.8L881.2 134.4L882.4 136.1L883.7 137.7L884.9 139.3L886 140.9L886.8 142.5L887.2 144.1L887.2 145.8L887.1 147.4L887 149L886.8 150.6L886.6 152.2L886.4 153.8L886.2 155.5L885.9 157.1L885.6 158.7L885.3 160.3L885 161.9L884.6 163.5L884 165.1L883.4 166.8L882.7 168.4L881.9 170L881.2 171.6L880.5 173.2L879.8 174.8L879.1 176.5L878.3 178.1L877.6 179.7L876.8 181.3L876.1 182.9L875.5 184.5L874.9 186.1L874.3 187.8L873.7 189.4Z" fill="#5bc9a6" class="v"/>
<path class="d" d="M880.1 140.3h0M869.8 168.3h0M860.8 132.2h0M861.8 116.4h0M863.4 168.9h0M866.9 139.1h0M869.3 155.7h0M874.4 182.7h0M862.2 160.2h0M868.4 145.4h0M875.2 155.8h0M882.7 143h0M876.3 116.5h0M877.4 140.4h0M883.8 172.1h0M883.8 130.8h0M866 179.9h0M872.5 156.9h0M877 169.4h0M864.2 137h0M880.3 152.5h0M866.4 163h0M866.3 176.3h0M879.1 146.6h0M876.3 164.3h0M863.4 158.2h0M859.8 127.8h0M866 143.7h0M866.2 151.1h0M860.7 142.5h0M874.3 124.1h0M866.2 161.8h0M876.4 148.2h0M871.3 161.7h0M881.4 148.4h0M871.9 147.2h0M865.9 159.1h0M864.7 187.5h0M864.7 153.5h0M861.1 152.7h0M861.7 166.2h0M878.8 137.7h0M866.2 174.7h0M881.2 134.3h0M865.4 131.5h0M861.1 172.8h0M867.7 145.5h0M884.2 188.7h0M884.7 186.2h0"/>
<path d="M900.5 164.3L900.6 163.2L900.7 162.1L900.8 160.9L901 159.8L901.2 158.6L901.5 157.5L901.9 156.3L902.3 155.2L902.6 154L902.7 152.9L902.6 151.7L902.4 150.6L902 149.4L901.5 148.3L900.9 147.1L900.3 146L899.7 144.8L899.1 143.7L898.3 142.6L897.4 141.4L896.4 140.3L895.3 139.1L894.3 138L893.4 136.8L892.6 135.7L892 134.5L891.6 133.4L891.1 132.2L890.6 131.1L890.2 129.9L889.8 128.8L889.6 127.6L889.4 126.5L889.3 125.3L889.5 124.2L890.1 123.1L891 121.9L892.1 120.8L893.2 119.6L894.4 118.5L895.4 117.3L896.5 116.2L897.6 115L898.7 113.9L900 112.7L901.2 111.6L902.5 110.4L905.5 110.4L906.8 111.6L908.1 112.7L909.3 113.9L910.4 115L911.6 116.2L912.6 117.3L913.6 118.5L914.8 119.6L915.9 120.8L917 121.9L917.9 123.1L918.5 124.2L918.7 125.3L918.6 126.5L918.5 127.6L918.2 128.8L917.8 129.9L917.4 131.1L917 132.2L916.5 133.4L916 134.5L915.4 135.7L914.6 136.8L913.7 138L912.7 139.1L911.7 140.3L910.7 141.4L909.7 142.6L909 143.7L908.3 144.8L907.7 146L907.1 147.1L906.6 148.3L906.1 149.4L905.7 150.6L905.4 151.7L905.3 152.9L905.4 154L905.7 155.2L906.1 156.3L906.5 157.5L906.8 158.6L907 159.8L907.2 160.9L907.3 162.1L907.4 163.2L907.5 164.3Z" fill="#7ccdaa" class="v"/>
<path class="d" d="M904.7 134.1h0M916.5 124.3h0M892.5 135.3h0M900.6 122.8h0M894.4 118.6h0M913.3 137.1h0M910.9 124.7h0M905.3 129.3h0M915.2 119.2h0M900.7 121.6h0M907.1 137.8h0M895.3 114.2h0M897.3 141.8h0M891.7 125.6h0M903.1 115.8h0M897.3 131.2h0M896 121.8h0M901.4 127.6h0M898.4 130.3h0M899.6 132.5h0M906 120h0M903 128.8h0M914 117.6h0M894 132h0M897.2 112.2h0M905 142.8h0M892.9 125h0M909.8 133h0M895.4 126.1h0M903 126h0M915.2 133.6h0M912.8 137h0M901.9 140.2h0M899.4 129.5h0M897 120.3h0M916 162.8h0M900 162h0"/>
<path d="M921.9 204.6H949.9" class="zl"/>
<path class="d" d="M924.8 204.6h0M932.2 204.6h0M939.2 204.6h0M947.4 204.6h0M930.9 206.2h0M931.9 207.1h0"/>
<path d="M966.2 180.7L964.9 179.6L964.9 178.6L965.7 177.5L966.4 176.5L966.6 175.4L966.6 174.4L966.7 173.3L966.8 172.3L966.8 171.2L966.9 170.2L966.9 169.1L966.9 168L966.9 167L966.9 165.9L966.9 164.9L966.9 163.8L966.9 162.8L966.9 161.7L966.9 160.7L966.8 159.6L966.8 158.6L966.8 157.5L966.8 156.4L966.7 155.4L966.7 154.3L966.5 153.3L966.2 152.2L965.7 151.2L965.1 150.1L964.5 149.1L963.8 148L963.1 147L962.1 145.9L960.9 144.8L959.7 143.8L958.4 142.7L957.2 141.7L956.2 140.6L954.9 139.6L953.8 138.5L953.1 137.5L953.2 136.4L954.3 135.4L955.8 134.3L957.2 133.2L958.6 132.2L960.1 131.1L975.3 131.1L976.8 132.2L978.2 133.2L979.6 134.3L981.1 135.4L982.2 136.4L982.3 137.5L981.6 138.5L980.5 139.6L979.2 140.6L978.2 141.7L977 142.7L975.8 143.8L974.5 144.8L973.4 145.9L972.4 147L971.6 148L970.9 149.1L970.3 150.1L969.7 151.2L969.2 152.2L968.9 153.3L968.7 154.3L968.7 155.4L968.6 156.4L968.6 157.5L968.6 158.6L968.6 159.6L968.5 160.7L968.5 161.7L968.5 162.8L968.5 163.8L968.5 164.9L968.5 165.9L968.5 167L968.5 168L968.5 169.1L968.6 170.2L968.6 171.2L968.6 172.3L968.7 173.3L968.8 174.4L968.8 175.4L969 176.5L969.7 177.5L970.5 178.6L970.5 179.6L969.2 180.7Z" fill="#afdcb0" class="v"/>
<path class="d" d="M978.9 144h0M974.9 136h0M962.2 145.4h0M956.2 135.6h0M973.7 130.9h0M968.7 142.9h0M968.6 136.4h0M960.1 138.6h0M973.2 135.3h0M972 132.7h0M955.9 138h0M968.3 141.2h0M962.7 140h0M957.4 140.4h0M977.4 138.2h0M958.5 133.5h0M977.5 153.2h0M967.7 179.5h0M966.2 177.9h0M969.2 178.7h0"/>
<path d="M999.1 204.1L999 202.4L999 200.7L998.9 199L998.8 197.3L998.7 195.7L998.1 194L997.2 192.3L996.1 190.6L994.4 188.9L992.5 187.2L991 185.6L989.5 183.9L988 182.2L986.6 180.5L985.6 178.8L985 177.1L984.9 175.5L985.5 173.8L986.5 172.1L987.8 170.4L989 168.7L990.1 167L991.3 165.4L992.7 163.7L994 162L995.1 160.3L995.9 158.6L996.2 156.9L996.4 155.3L996.5 153.6L996.6 151.9L996.8 150.2L996.8 148.5L996.9 146.8L997 145.2L997.1 143.5L997.2 141.8L997.2 140.1L997.3 138.4L997.4 136.7L997.4 135.1L997.5 133.4L997.6 131.7L997.8 130L998 128.3L998.1 126.6L998.4 125L1000.8 125L1001 126.6L1001.2 128.3L1001.3 130L1001.5 131.7L1001.6 133.4L1001.7 135.1L1001.7 136.7L1001.8 138.4L1001.9 140.1L1001.9 141.8L1002 143.5L1002.1 145.2L1002.2 146.8L1002.3 148.5L1002.4 150.2L1002.5 151.9L1002.6 153.6L1002.7 155.3L1002.9 156.9L1003.2 158.6L1004 160.3L1005.1 162L1006.4 163.7L1007.8 165.4L1009 167L1010.1 168.7L1011.3 170.4L1012.6 172.1L1013.6 173.8L1014.2 175.5L1014.2 177.1L1013.5 178.8L1012.5 180.5L1011.1 182.2L1009.6 183.9L1008.1 185.6L1006.6 187.2L1004.7 188.9L1003 190.6L1001.9 192.3L1001 194L1000.4 195.7L1000.3 197.3L1000.2 199L1000.1 200.7L1000.1 202.4L1000.1 204.1Z" fill="#c6e5b4" class="v"/>
<path class="d" d="M1006.3 141.8h0M1004 174.3h0M1010 173.4h0M1007.6 170.8h0M1002.8 178.9h0M1005.8 166.4h0M991.1 188.3h0M1010.4 189.2h0M1008.1 152.9h0M1006.2 184.2h0M1010.6 137.3h0M1001.9 184.2h0M996.1 178.5h0M1011.7 164.2h0M1002.9 181.6h0M989.8 170.6h0M1003.3 184.2h0M998.9 156.8h0M1001.3 168.7h0M1010.1 146.4h0M989.6 172.6h0M1008.8 172.3h0M994.2 173.9h0M1000.5 166.2h0M1011.1 152.7h0M1007.1 187.6h0M987.4 173.4h0M995.1 178h0M994 175.1h0M1004.6 179.1h0M990.3 174.4h0M988 179.8h0M1006.9 170.7h0M996.1 160h0M989.5 164.4h0M993 165.8h0M1001.7 176.7h0M1008.1 156.8h0M988.2 189.5h0M998.9 166.7h0M999.8 132.8h0M991.1 166.5h0M1002.6 189.9h0M991.2 186.1h0M1009.2 180.1h0M994.2 161.7h0M990.6 177.4h0M1006.4 165.6h0M989.8 142.4h0M998.6 177.7h0M997 167.9h0M992 196.2h0M988.8 147.7h0M993.8 176.8h0M999.8 182.8h0M1002.2 158.3h0M998.1 183h0M1006.3 128.1h0M1010.6 161.2h0M1008.2 175.2h0M994.9 155.2h0M1009.4 171.7h0M1007.7 170.7h0M1008 183.6h0M1001.1 194.6h0M989.6 181h0M1008.3 179.7h0M1009.5 168.5h0M1007.8 162.4h0M1002.4 182.2h0M987.1 164.3h0M998.5 175.7h0M1002.7 124.1h0M987.8 175.7h0M1007.1 139.5h0M1000.9 177.2h0M995 170.1h0M987.1 177.6h0M988.9 150.1h0M994.1 168.6h0M1009.5 172.4h0M996.5 175.2h0M988.3 176.3h0M992.9 131.9h0M1004.2 182.2h0M1000.3 172.2h0M987.3 160.5h0M997.8 177.7h0M1011 168.5h0M995 167.4h0M1007.5 190.6h0M1011.5 165.4h0M998.5 185.3h0M993.7 135.5h0M1005.6 185.9h0M999.1 179.6h0M1007.2 178.6h0M1005.4 139.7h0M1002.4 155.8h0M997.7 134.1h0M993.1 180.2h0M1008 175.4h0M987.5 187.8h0M997.4 184.1h0M1008.2 178.3h0M991 185h0M1000.7 179.7h0M1002.9 200.6h0M1007.3 187.1h0M999.4 171.7h0M989.7 173.3h0M991.2 150.5h0M996.9 148.6h0M1007.9 166.6h0M997.8 145h0M999.9 179.8h0M995.9 170.4h0M999.6 203.7h0"/>
<path d="M1028.4 187L1028 185.6L1027.5 184.1L1026.9 182.6L1026.4 181.1L1025.6 179.6L1024.8 178.1L1023.9 176.6L1023 175.1L1022.2 173.7L1021.6 172.2L1021.1 170.7L1020.5 169.2L1020 167.7L1019.6 166.2L1019.1 164.7L1018.8 163.2L1018.5 161.8L1018.3 160.3L1018 158.8L1017.8 157.3L1017.6 155.8L1017.4 154.3L1017.2 152.8L1017.1 151.3L1016.9 149.8L1016.8 148.4L1016.7 146.9L1016.7 145.4L1016.7 143.9L1016.8 142.4L1017 140.9L1017.3 139.4L1017.6 137.9L1017.9 136.5L1018.3 135L1018.8 133.5L1019.2 132L1019.6 130.5L1020 129L1020.5 127.5L1021.1 126L1021.6 124.6L1022.3 123.1L1023 121.6L1023.8 120.1L1024.7 118.6L1025.6 117.1L1037.2 117.1L1038.1 118.6L1039 120.1L1039.8 121.6L1040.5 123.1L1041.2 124.6L1041.7 126L1042.3 127.5L1042.8 129L1043.2 130.5L1043.6 132L1044 133.5L1044.5 135L1044.9 136.5L1045.2 137.9L1045.5 139.4L1045.8 140.9L1046 142.4L1046.1 143.9L1046.1 145.4L1046.1 146.9L1046 148.4L1045.9 149.8L1045.7 151.3L1045.6 152.8L1045.4 154.3L1045.2 155.8L1045 157.3L1044.8 158.8L1044.5 160.3L1044.3 161.8L1044 163.2L1043.7 164.7L1043.2 166.2L1042.8 167.7L1042.3 169.2L1041.7 170.7L1041.2 172.2L1040.6 173.7L1039.8 175.1L1038.9 176.6L1038 178.1L1037.2 179.6L1036.4 181.1L1035.9 182.6L1035.3 184.1L1034.8 185.6L1034.4 187Z" fill="#edf4b8" class="v"/>
<path class="d" d="M1032.3 142h0M1042.7 147.4h0M1036.8 125.3h0M1035 130h0M1042.9 166.9h0M1023.6 157.5h0M1035.4 119.3h0M1036.1 134.7h0M1037.1 174.6h0M1020.4 177.7h0M1026.5 167.7h0M1042.3 130.7h0M1034.2 159.7h0M1026 172h0M1029.8 170.5h0M1033.9 137.8h0M1022.5 163.2h0M1029.8 153.4h0M1032.4 132.9h0M1028.1 141.1h0M1026.3 139h0M1032.3 150.7h0M1034.4 156.4h0M1042.7 179.4h0M1019 181.4h0M1020.1 119.9h0M1025.9 153.3h0M1027.5 140.7h0M1020 122.1h0M1028.4 137.5h0M1021.5 150.5h0M1034.5 125.8h0M1043.7 164h0M1031.4 173.6h0M1026.6 144.7h0M1019.4 132.8h0M1029.1 127.8h0M1022.6 165h0M1024.7 149.4h0M1026.5 135.9h0M1020 123.2h0M1033.5 159.7h0M1025.6 147.3h0M1035.5 154h0M1039.5 162.2h0M1041.9 148.5h0M1028.8 144.8h0M1026.3 168.2h0M1034.7 155.9h0M1024.4 169.1h0M1018.9 132.4h0M1037.5 128.5h0M1035.9 157.6h0M1025.6 144h0M1021.6 187.2h0M1043.4 116.1h0"/>
<path d="M56.8 77.2V230.2H1051.4" class="ax"/>
<path d="M50.5 202.9H56.8" class="ax"/>
<text x="46.5" y="210.6" class="tl" text-anchor="end">0.0</text>
<path d="M50.5 161.2H56.8" class="ax"/>
<text x="46.5" y="168.9" class="tl" text-anchor="end">2.5</text>
<path d="M50.5 119.5H56.8" class="ax"/>
<text x="46.5" y="127.2" class="tl" text-anchor="end">5.0</text>
<path d="M50.5 77.7H56.8" class="ax"/>
<text x="46.5" y="85.4" class="tl" text-anchor="end">7.5</text>
<path d="M76 230.2V236.5" class="ax"/>
<path d="M107.8 230.2V236.5" class="ax"/>
<path d="M139.7 230.2V236.5" class="ax"/>
<path d="M171.5 230.2V236.5" class="ax"/>
<path d="M203.4 230.2V236.5" class="ax"/>
<path d="M235.2 230.2V236.5" class="ax"/>
<path d="M267.1 230.2V236.5" class="ax"/>
<path d="M298.9 230.2V236.5" class="ax"/>
<path d="M330.8 230.2V236.5" class="ax"/>
<path d="M362.6 230.2V236.5" class="ax"/>
<path d="M394.5 230.2V236.5" class="ax"/>
<path d="M426.3 230.2V236.5" class="ax"/>
<path d="M458.2 230.2V236.5" class="ax"/>
<path d="M490 230.2V236.5" class="ax"/>
<path d="M521.9 230.2V236.5" class="ax"/>
<path d="M553.7 230.2V236.5" class="ax"/>
<path d="M585.5 230.2V236.5" class="ax"/>
<path d="M617.4 230.2V236.5" class="ax"/>
<path d="M649.2 230.2V236.5" class="ax"/>
<path d="M681.1 230.2V236.5" class="ax"/>
<path d="M712.9 230.2V236.5" class="ax"/>
<path d="M744.8 230.2V236.5" class="ax"/>
<path d="M776.6 230.2V236.5" class="ax"/>
<path d="M808.5 230.2V236.5" class="ax"/>
<path d="M840.3 230.2V236.5" class="ax"/>
<path d="M872.2 230.2V236.5" class="ax"/>
<path d="M904 230.2V236.5" class="ax"/>
<path d="M935.9 230.2V236.5" class="ax"/>
<path d="M967.7 230.2V236.5" class="ax"/>
<path d="M999.6 230.2V236.5" class="ax"/>
<path d="M1031.4 230.2V236.5" class="ax"/>
<text x="550.7" y="58.4" class="tt" text-anchor="middle">Fabp1</text>
</g>
<g>
<path d="M61.5 440.5H89.5" class="zl"/>
<path class="d" d="M63.8 440.5h0M65.1 440.5h0M66.8 440.5h0M68.1 440.5h0M69.6 440.5h0M70.4 440.5h0M72.3 440.5h0M73.6 440.5h0M74.9 440.5h0M76.7 440.5h0M77.7 440.5h0M79 440.5h0M80.9 440.5h0M82.6 440.5h0M83.4 440.5h0M85.3 440.5h0M86.3 440.5h0M87.7 440.5h0"/>
<path d="M93.4 440.5H121.4" class="zl"/>
<path class="d" d="M96.3 440.5h0M97.5 440.5h0M98.8 440.5h0M100.2 440.5h0M101.2 440.5h0M102.8 440.5h0M104.2 440.5h0M105.5 440.5h0M107.5 440.5h0M108.5 440.5h0M110 440.5h0M110.9 440.5h0M113 440.5h0M113.7 440.5h0M115.1 440.5h0M117.2 440.5h0"/>
<path d="M125.2 440.5H153.2" class="zl"/>
<path class="d" d="M132.7 440.5h0M134.3 440.5h0M134.9 440.5h0M136.3 440.5h0M137.7 440.5h0M139 440.5h0M140.8 440.5h0M141.6 440.5h0M143.1 440.5h0M144 440.5h0M145.7 440.5h0M147.1 440.5h0M148.3 440.5h0M149.5 440.5h0M151.1 440.5h0"/>
<path d="M157.1 440.5H185.1" class="zl"/>
<path class="d" d="M169.7 440.5h0M171.5 440.5h0M172.6 440.5h0M174.2 440.5h0M175.3 440.5h0M177 440.5h0M178.6 440.5h0M180 440.5h0M181 440.5h0M182.8 440.5h0"/>
<path d="M189 440.5H217" class="zl"/>
<path class="d" d="M202 440.5h0M207 440.5h0M209.6 440.5h0M212.7 440.5h0"/>
<path d="M220.8 440.5H248.8" class="zl"/>
<path class="d" d="M223.2 440.5h0M224.5 440.5h0M226.2 440.5h0M227.3 440.5h0M228.8 440.5h0M229.9 440.5h0M231.7 440.5h0M233.2 440.5h0M234.1 440.5h0M235.8 440.5h0M236.5 440.5h0M238 440.5h0M239.6 440.5h0M240.8 440.5h0M241.9 440.5h0M243.7 440.5h0M245 440.5h0M246.3 440.5h0"/>
<path d="M252.7 440.5H280.7" class="zl"/>
<path class="d" d="M256 440.5h0M257.9 440.5h0M259.3 440.5h0M260.5 440.5h0M261.7 440.5h0M263 440.5h0M264.8 440.5h0M266 440.5h0M267.5 440.5h0M268.9 440.5h0M270.5 440.5h0M271.1 440.5h0M272.9 440.5h0M274.6 440.5h0M275.8 440.5h0"/>
<path d="M284.5 440.5H312.5" class="zl"/>
<path class="d" d="M286.9 440.5h0M288.8 440.5h0M290 440.5h0M291 440.5h0M292.5 440.5h0M294.2 440.5h0M294.9 440.5h0M296.8 440.5h0M298.3 440.5h0M299.4 440.5h0M300.7 440.5h0M301.6 440.5h0M303.5 440.5h0M304.9 440.5h0M306.1 440.5h0M307.4 440.5h0M308.3 440.5h0M309.6 440.5h0"/>
<path d="M316.4 440.5H344.4" class="zl"/>
<path class="d" d="M318.7 440.5h0M320 440.5h0M321.9 440.5h0M323.1 440.5h0M324.7 440.5h0M325.5 440.5h0M327.1 440.5h0M328.8 440.5h0M329.8 440.5h0M331.1 440.5h0M332.7 440.5h0M334.1 440.5h0M335.5 440.5h0M336.3 440.5h0M337.7 440.5h0M339.3 440.5h0M340.9 440.5h0M342.1 440.5h0"/>
<path d="M347.8 440.5L348.7 438.7L349.7 436.9L350.8 435L352.1 433.2L353.2 431.4L353.9 429.6L354.5 427.7L355 425.9L355.6 424.1L356.3 422.3L356.9 420.5L357.4 418.6L358 416.8L358.5 415L359.1 413.2L359.5 411.4L359.8 409.5L360.1 407.7L360.4 405.9L360.6 404.1L360.7 402.2L360.8 400.4L360.7 398.6L360.6 396.8L360.5 395L360.4 393.1L360.3 391.3L360.3 389.5L360.3 387.7L360.4 385.9L360.6 384L360.8 382.2L361 380.4L361.2 378.6L361.3 376.7L361.3 374.9L361.3 373.1L361.3 371.3L361.3 369.5L361.3 367.6L361.3 365.8L361.3 364L361.3 362.2L361.3 360.4L361.3 358.5L361.3 356.7L361.3 354.9L363.3 354.9L363.3 356.7L363.3 358.5L363.3 360.4L363.3 362.2L363.3 364L363.3 365.8L363.3 367.6L363.3 369.5L363.3 371.3L363.3 373.1L363.3 374.9L363.3 376.7L363.4 378.6L363.5 380.4L363.7 382.2L364 384L364.1 385.9L364.3 387.7L364.3 389.5L364.2 391.3L364.1 393.1L364 395L363.9 396.8L363.8 398.6L363.8 400.4L363.8 402.2L363.9 404.1L364.2 405.9L364.4 407.7L364.7 409.5L365 411.4L365.5 413.2L366 415L366.5 416.8L367.1 418.6L367.7 420.5L368.3 422.3L368.9 424.1L369.5 425.9L370 427.7L370.6 429.6L371.3 431.4L372.4 433.2L373.7 435L374.8 436.9L375.8 438.7L376.8 440.5Z" fill="#1b8d91" class="v"/>
<path class="d" d="M372.3 427.1h0M371.1 437.2h0M366 431.3h0M368.6 419.2h0M372 423.8h0M360.6 429.7h0M355.3 440.9h0M374.2 434.8h0M358 439.1h0M350 440.5h0M352.4 440.5h0M354.4 440.5h0M357.4 440.5h0M359.8 440.5h0M361.9 440.5h0M363.5 440.5h0M366.1 440.5h0M367.7 440.5h0M370.1 440.5h0M371.3 440.5h0M374.2 440.5h0M356.2 383h0M353.1 390.1h0M362.3 354.9h0M361.7 395.2h0"/>
<path d="M380.1 440.5H408.1" class="zl"/>
<path d="M394.1 440.5V410.5M392.6 410.5H395.6" class="vl"/>
<path class="d" d="M382.9 440.5h0M384 440.5h0M385.3 440.5h0M386.7 440.5h0M388.1 440.5h0M390 440.5h0M391.5 440.5h0M392.7 440.5h0M394.3 440.5h0M395.7 440.5h0M396.9 440.5h0M398.2 440.5h0M400 440.5h0M401.7 440.5h0M402.4 440.5h0M404.2 440.5h0M405.5 440.5h0M396.1 409.9h0M382.5 413.6h0M388.6 417.3h0"/>
<path d="M412 440.5H440" class="zl"/>
<path class="d" d="M415 440.5h0M418.7 440.5h0M421 440.5h0M422.8 440.5h0M427 440.5h0M434.2 440.5h0M435.8 440.5h0"/>
<path d="M443.9 440.5H471.9" class="zl"/>
<path d="M457.9 440.5V399.5M456.4 399.5H459.4" class="vl"/>
<path class="d" d="M446 440.5h0M447.7 440.5h0M449.1 440.5h0M451.1 440.5h0M451.9 440.5h0M453.5 440.5h0M455.4 440.5h0M456.3 440.5h0M457.5 440.5h0M459 440.5h0M460.4 440.5h0M462 440.5h0M463.9 440.5h0M464.8 440.5h0M466.5 440.5h0M468.3 440.5h0M469.6 440.5h0M457.9 399.5h0M460.3 430.7h0"/>
<path d="M475.2 440.5L476.7 438.4L478 436.4L479.1 434.3L480.4 432.2L482.1 430.2L483.9 428.1L485.9 426L486.9 424L487.2 421.9L487.5 419.8L487.7 417.7L487.9 415.7L488.2 413.6L488.5 411.5L488.5 409.5L488.5 407.4L488.6 405.3L488.6 403.3L488.6 401.2L488.6 399.1L488.6 397.1L488.6 395L488.6 392.9L488.6 390.9L488.6 388.8L488.7 386.7L488.7 384.6L488.7 382.6L488.7 380.5L488.7 378.4L488.7 376.4L488.7 374.3L488.7 372.2L488.7 370.2L488.7 368.1L488.7 366L488.7 364L488.7 361.9L488.7 359.8L488.7 357.8L488.7 355.7L488.7 353.6L488.7 351.5L488.7 349.5L488.7 347.4L488.7 345.3L488.7 343.3L490.7 343.3L490.7 345.3L490.7 347.4L490.7 349.5L490.7 351.5L490.7 353.6L490.7 355.7L490.7 357.8L490.7 359.8L490.7 361.9L490.7 364L490.7 366L490.7 368.1L490.7 370.2L490.7 372.2L490.8 374.3L490.8 376.4L490.8 378.4L490.8 380.5L490.8 382.6L490.8 384.6L490.8 386.7L490.8 388.8L490.8 390.9L490.8 392.9L490.8 395L490.8 397.1L490.9 399.1L490.9 401.2L490.9 403.3L490.9 405.3L490.9 407.4L490.9 409.5L491 411.5L491.2 413.6L491.5 415.7L491.8 417.7L492 419.8L492.2 421.9L492.6 424L493.6 426L495.6 428.1L497.3 430.2L499.1 432.2L500.4 434.3L501.5 436.4L502.7 438.4L504.2 440.5Z" fill="#1aa193" class="v"/>
<path class="d" d="M480.8 439h0M491.3 438.9h0M484.9 432.2h0M477.8 440.5h0M480.2 440.5h0M482 440.5h0M482.9 440.5h0M485.4 440.5h0M487.5 440.5h0M489.5 440.5h0M489.9 440.5h0M491.7 440.5h0M494.1 440.5h0M496.6 440.5h0M497.9 440.5h0M499.9 440.5h0M502.3 440.5h0M478.7 359.8h0M484.8 386.1h0M485.4 391.6h0M477.7 400.8h0M489.7 405h0M500.1 342.7h0M496.4 425.2h0M501.9 428.3h0M481.1 424.6h0M483 420.3h0M486 428.3h0"/>
<path d="M507.6 440.5H535.6" class="zl"/>
<path d="M521.6 440.5V350M520.1 350H523.1" class="vl"/>
<path class="d" d="M510.5 440.5h0M511.2 440.5h0M513.1 440.5h0M514.6 440.5h0M515.6 440.5h0M516.9 440.5h0M518.3 440.5h0M519.9 440.5h0M521.3 440.5h0M522.9 440.5h0M524.4 440.5h0M526.3 440.5h0M527.3 440.5h0M529 440.5h0M529.8 440.5h0M532 440.5h0M533.1 440.5h0M522.6 350h0M509.6 413.6h0M510 419.7h0M523.4 406.9h0M527.6 411.8h0M520.4 433.2h0"/>
<path d="M539 440.5L544.1 439.2L547.5 437.8L549.9 436.5L550.9 435.1L551.5 433.8L551.8 432.5L551.9 431.1L551.8 429.8L551.6 428.4L551.5 427.1L551.6 425.8L552 424.4L552.3 423.1L552.5 421.7L552.5 420.4L552.5 419.1L552.6 417.7L552.6 416.4L552.6 415L552.6 413.7L552.6 412.4L552.6 411L552.6 409.7L552.6 408.3L552.5 407L552.5 405.7L552.3 404.3L552.2 403L552.1 401.6L552 400.3L552 399L552 397.6L552 396.3L552 394.9L552 393.6L552 392.3L552 390.9L552.1 389.6L552.2 388.2L552.4 386.9L552.4 385.6L552.5 384.2L552.5 382.9L552.5 381.5L552.5 380.2L552.5 378.9L552.5 377.5L554.5 377.5L554.5 378.9L554.5 380.2L554.5 381.5L554.5 382.9L554.5 384.2L554.5 385.6L554.5 386.9L554.7 388.2L554.8 389.6L554.9 390.9L555 392.3L555 393.6L555 394.9L555 396.3L555 397.6L554.9 399L554.9 400.3L554.8 401.6L554.7 403L554.6 404.3L554.4 405.7L554.4 407L554.3 408.3L554.3 409.7L554.3 411L554.3 412.4L554.3 413.7L554.3 415L554.3 416.4L554.3 417.7L554.4 419.1L554.4 420.4L554.4 421.7L554.6 423.1L554.9 424.4L555.3 425.8L555.4 427.1L555.3 428.4L555.1 429.8L555 431.1L555.1 432.5L555.4 433.8L556 435.1L557 436.5L559.4 437.8L562.8 439.2L568 440.5Z" fill="#18aa96" class="v"/>
<path class="d" d="M541.4 440.5h0M543 440.5h0M544.7 440.5h0M547.5 440.5h0M549 440.5h0M550.8 440.5h0M552.2 440.5h0M554.6 440.5h0M556 440.5h0M558.8 440.5h0M559.9 440.5h0M561.9 440.5h0M563.3 440.5h0M565.5 440.5h0M540.6 377.5h0M545.5 391.6h0M550.5 398.3h0M542.5 427h0M544.2 425.8h0"/>
<path d="M571.3 440.5H599.3" class="zl"/>
<path class="d" d="M573.9 440.5h0M575.5 440.5h0M576.8 440.5h0M577.7 440.5h0M579.7 440.5h0M581.4 440.5h0M582.2 440.5h0M583.9 440.5h0M585.5 440.5h0M587 440.5h0M588.3 440.5h0M589.9 440.5h0M590.9 440.5h0M592.3 440.5h0M594.3 440.5h0M595.6 440.5h0M596.4 440.5h0"/>
<path d="M609.2 440.5L609.3 437.5L609.3 434.6L609.4 431.6L609.4 428.7L609.4 425.7L609.3 422.8L609.1 419.8L608.7 416.9L608.3 413.9L607.8 411L607.2 408L606.5 405.1L605.8 402.1L605 399.2L604.2 396.2L603.5 393.2L602.9 390.3L602.5 387.3L602.5 384.4L602.7 381.4L603 378.5L603.4 375.5L603.8 372.6L604.3 369.6L604.7 366.7L605.2 363.7L605.6 360.8L606.1 357.8L606.7 354.9L607.4 351.9L608.3 348.9L609.2 346L610.2 343L611 340.1L611.9 337.1L612.7 334.2L613.4 331.2L614 328.3L614.5 325.3L614.9 322.4L615.1 319.4L615.2 316.5L615.2 313.5L615.1 310.5L615.1 307.6L615 304.6L614.8 301.7L619.6 301.7L619.4 304.6L619.3 307.6L619.2 310.5L619.2 313.5L619.2 316.5L619.2 319.4L619.5 322.4L619.9 325.3L620.3 328.3L620.9 331.2L621.7 334.2L622.5 337.1L623.3 340.1L624.2 343L625.1 346L626.1 348.9L626.9 351.9L627.7 354.9L628.2 357.8L628.7 360.8L629.2 363.7L629.6 366.7L630 369.6L630.5 372.6L631 375.5L631.4 378.5L631.7 381.4L631.9 384.4L631.8 387.3L631.4 390.3L630.8 393.2L630.1 396.2L629.3 399.2L628.6 402.1L627.9 405.1L627.2 408L626.5 411L626 413.9L625.6 416.9L625.3 419.8L625 422.8L625 425.7L625 428.7L625 431.6L625 434.6L625.1 437.5L625.2 440.5Z" fill="#12b899" class="v"/>
<path class="d" d="M623.2 385.4h0M622.8 433h0M619.9 361.5h0M625.6 397.2h0M614.2 384.1h0M609.7 344.8h0M618.9 407.7h0M619.8 337.3h0M618 398.6h0M626 430.1h0M622.8 419.1h0M613.7 375.7h0M609.1 373h0M623.6 358.5h0M605.1 440.5h0M613.8 440.5h0M620.9 440.5h0M629 440.5h0M627.6 301.7h0M607.7 426.7h0"/>
<path d="M635 440.5H663" class="zl"/>
<path class="d" d="M641.3 440.5h0M645 440.5h0M650.8 440.5h0M653.1 440.5h0M654 440.5h0M656.2 440.5h0M657.9 440.5h0M659.6 440.5h0M660.9 440.5h0"/>
<path d="M666.9 440.5H694.9" class="zl"/>
<path class="d" d="M669.3 440.5h0M670.8 440.5h0M672.2 440.5h0M673.6 440.5h0M674.9 440.5h0M676.9 440.5h0M678.1 440.5h0M679.7 440.5h0M680.8 440.5h0M682.1 440.5h0M684 440.5h0M685.2 440.5h0M686.6 440.5h0M688.3 440.5h0M689.9 440.5h0M690.8 440.5h0M692.4 440.5h0"/>
<path class="d" d="M708.6 440.5h0M723.7 440.5h0"/>
<path d="M730.1 440.5L730.1 438.5L730.1 436.5L730.1 434.6L730.1 432.6L730.1 430.6L730.2 428.6L730.2 426.7L730.3 424.7L730.4 422.7L730.6 420.7L730.7 418.7L730.9 416.8L731 414.8L731.1 412.8L731.3 410.8L731.4 408.9L731.6 406.9L731.7 404.9L731.9 402.9L732 400.9L732.2 399L732.3 397L732.5 395L732.7 393L732.9 391.1L733.1 389.1L733.3 387.1L733.5 385.1L733.7 383.1L734 381.2L734.2 379.2L734.5 377.2L734.7 375.2L735 373.3L735.2 371.3L735.5 369.3L735.7 367.3L736 365.4L736.2 363.4L736.4 361.4L736.7 359.4L736.9 357.4L737.1 355.5L737.3 353.5L737.4 351.5L737.6 349.5L737.6 347.6L751.6 347.6L751.7 349.5L751.8 351.5L751.9 353.5L752.1 355.5L752.3 357.4L752.6 359.4L752.8 361.4L753.1 363.4L753.3 365.4L753.5 367.3L753.8 369.3L754 371.3L754.3 373.3L754.5 375.2L754.8 377.2L755.1 379.2L755.3 381.2L755.5 383.1L755.8 385.1L756 387.1L756.2 389.1L756.4 391.1L756.6 393L756.7 395L756.9 397L757.1 399L757.2 400.9L757.4 402.9L757.6 404.9L757.7 406.9L757.9 408.9L758 410.8L758.1 412.8L758.3 414.8L758.4 416.8L758.5 418.7L758.7 420.7L758.8 422.7L758.9 424.7L759 426.7L759.1 428.6L759.1 430.6L759.1 432.6L759.1 434.6L759.1 436.5L759.1 438.5L759.1 440.5Z" fill="#1dba98" class="v"/>
<path class="d" d="M734.1 390.8h0M734.2 415.1h0M737 361.7h0M752.9 373.2h0M755.2 427.4h0M746.2 411h0M749.6 393.6h0M748.1 436.9h0M732.5 440.5h0M737.2 440.5h0M743 440.5h0M746.6 440.5h0M751.9 440.5h0M756.9 440.5h0M744.6 347.6h0"/>
<path d="M762.5 440.5H790.5" class="zl"/>
<path class="d" d="M769.7 440.5h0M771.7 440.5h0M774.1 440.5h0M776 440.5h0M778.1 440.5h0M780.2 440.5h0M782.1 440.5h0M784.2 440.5h0"/>
<path d="M794.4 440.5H822.4" class="zl"/>
<path class="d" d="M796.9 440.5h0M798.5 440.5h0M799.5 440.5h0M800.9 440.5h0M803 440.5h0M804.3 440.5h0M805.2 440.5h0M807.1 440.5h0M808.1 440.5h0M809.4 440.5h0M811 440.5h0M813 440.5h0M814.4 440.5h0M815.4 440.5h0M817.3 440.5h0M818.6 440.5h0M820 440.5h0"/>
<path d="M826.2 440.5H854.2" class="zl"/>
<path class="d" d="M826.2 440.5h0M831.4 440.5h0M832.7 440.5h0M834.9 440.5h0M836.4 440.5h0M838.2 440.5h0M839.5 440.5h0M841.4 440.5h0M843 440.5h0M844.2 440.5h0M846.2 440.5h0M848.9 440.5h0M850.4 440.5h0M851.9 440.5h0"/>
<path d="M858.1 440.5H886.1" class="zl"/>
<path d="M872.1 440.5V360.4M870.6 360.4H873.6" class="vl"/>
<path class="d" d="M860.4 440.5h0M862 440.5h0M863.6 440.5h0M864.5 440.5h0M866.3 440.5h0M867.5 440.5h0M869.1 440.5h0M870.8 440.5h0M872.1 440.5h0M873.1 440.5h0M874.9 440.5h0M876.5 440.5h0M877.6 440.5h0M879 440.5h0M881.1 440.5h0M882 440.5h0M883.9 440.5h0M884.4 361h0"/>
<path d="M889.9 440.5H917.9" class="zl"/>
<path class="d" d="M892.8 440.5h0M893.5 440.5h0M894.9 440.5h0M896.4 440.5h0M898.4 440.5h0M899.3 440.5h0M901.1 440.5h0M902 440.5h0M903.7 440.5h0M905.5 440.5h0M906.7 440.5h0M907.8 440.5h0M909.1 440.5h0M910.9 440.5h0M911.9 440.5h0M913.2 440.5h0M915 440.5h0"/>
<path d="M921.8 440.5H949.8" class="zl"/>
<path class="d" d="M923.8 440.5h0M930.8 440.5h0M945.8 440.5h0"/>
<path d="M953.7 440.5H981.7" class="zl"/>
<path class="d" d="M955.3 440.5h0M957.5 440.5h0M958.7 440.5h0M960.7 440.5h0M962.4 440.5h0M964.1 440.5h0M965.5 440.5h0M970.6 440.5h0M972.6 440.5h0M975 440.5h0M976.3 440.5h0M978.9 440.5h0"/>
<path d="M985.5 440.5H1013.5" class="zl"/>
<path d="M999.5 440.5V387.3M998 387.3H1001" class="vl"/>
<path class="d" d="M988 440.5h0M989.5 440.5h0M991.2 440.5h0M992.4 440.5h0M993.9 440.5h0M994.8 440.5h0M996.6 440.5h0M998.2 440.5h0M999.6 440.5h0M1000.6 440.5h0M1002.3 440.5h0M1004.2 440.5h0M1005.3 440.5h0M1006.5 440.5h0M1007.9 440.5h0M1009.8 440.5h0M1010.8 440.5h0M993.9 397.7h0M1005.5 387.9h0M995.1 413.3h0M995.7 419.7h0M991.5 422.2h0M990.9 425.2h0M987.2 429.5h0M990.2 432.6h0M999.5 430.7h0M1003.7 434.4h0M1007.3 419.1h0M1007.9 423.4h0M1005.5 427.7h0M1011 430.7h0M1010.5 428.3h0"/>
<path d="M1017.4 440.5H1045.4" class="zl"/>
<path d="M1031.4 440.5V383M1029.9 383H1032.9" class="vl"/>
<path class="d" d="M1019.6 440.5h0M1021.3 440.5h0M1022.5 440.5h0M1024.6 440.5h0M1026 440.5h0M1026.8 440.5h0M1028.5 440.5h0M1030.1 440.5h0M1031.7 440.5h0M1033 440.5h0M1034.6 440.5h0M1035.7 440.5h0M1037 440.5h0M1038.3 440.5h0M1040 440.5h0M1041.6 440.5h0M1043.2 440.5h0M1027 383h0M1021.4 422.2h0M1023.9 422.8h0M1037.4 429.5h0"/>
<path d="M56.2 294.3V447.2H1051.4" class="ax"/>
<path d="M49.9 440.5H56.2" class="ax"/>
<text x="45.9" y="448.2" class="tl" text-anchor="end">0</text>
<path d="M49.9 409.9H56.2" class="ax"/>
<text x="45.9" y="417.6" class="tl" text-anchor="end">1</text>
<path d="M49.9 379.4H56.2" class="ax"/>
<text x="45.9" y="387.1" class="tl" text-anchor="end">2</text>
<path d="M49.9 348.8H56.2" class="ax"/>
<text x="45.9" y="356.5" class="tl" text-anchor="end">3</text>
<path d="M49.9 318.2H56.2" class="ax"/>
<text x="45.9" y="325.9" class="tl" text-anchor="end">4</text>
<path d="M75.5 447.2V453.5" class="ax"/>
<path d="M107.4 447.2V453.5" class="ax"/>
<path d="M139.2 447.2V453.5" class="ax"/>
<path d="M171.1 447.2V453.5" class="ax"/>
<path d="M203 447.2V453.5" class="ax"/>
<path d="M234.8 447.2V453.5" class="ax"/>
<path d="M266.7 447.2V453.5" class="ax"/>
<path d="M298.5 447.2V453.5" class="ax"/>
<path d="M330.4 447.2V453.5" class="ax"/>
<path d="M362.3 447.2V453.5" class="ax"/>
<path d="M394.1 447.2V453.5" class="ax"/>
<path d="M426 447.2V453.5" class="ax"/>
<path d="M457.9 447.2V453.5" class="ax"/>
<path d="M489.7 447.2V453.5" class="ax"/>
<path d="M521.6 447.2V453.5" class="ax"/>
<path d="M553.5 447.2V453.5" class="ax"/>
<path d="M585.3 447.2V453.5" class="ax"/>
<path d="M617.2 447.2V453.5" class="ax"/>
<path d="M649 447.2V453.5" class="ax"/>
<path d="M680.9 447.2V453.5" class="ax"/>
<path d="M712.8 447.2V453.5" class="ax"/>
<path d="M744.6 447.2V453.5" class="ax"/>
<path d="M776.5 447.2V453.5" class="ax"/>
<path d="M808.4 447.2V453.5" class="ax"/>
<path d="M840.2 447.2V453.5" class="ax"/>
<path d="M872.1 447.2V453.5" class="ax"/>
<path d="M903.9 447.2V453.5" class="ax"/>
<path d="M935.8 447.2V453.5" class="ax"/>
<path d="M967.7 447.2V453.5" class="ax"/>
<path d="M999.5 447.2V453.5" class="ax"/>
<path d="M1031.4 447.2V453.5" class="ax"/>
<text x="560" y="282.8" class="tt" text-anchor="middle">Muc2</text>
</g>
<g>
<path d="M66.9 654.3L67.5 652.1L68.1 649.9L68.6 647.8L69.1 645.6L69.7 643.4L70.2 641.2L70.7 639.1L71.1 636.9L71.6 634.7L72 632.5L72.4 630.3L72.9 628.2L73.3 626L73.5 623.8L73.6 621.6L73.1 619.5L72.4 617.3L71.6 615.1L70.6 612.9L69.3 610.7L68 608.6L66.7 606.4L65.6 604.2L64.3 602L63 599.9L61.8 597.7L60.7 595.5L59.9 593.3L59.4 591.1L59.2 589L59.5 586.8L60.1 584.6L60.9 582.4L62 580.3L63.2 578.1L64.4 575.9L65.7 573.7L67.7 571.6L69.7 569.4L70.7 567.2L70.8 565L70.9 562.8L70.9 560.7L70.9 558.5L70.8 556.3L70.5 554.1L70.2 552L77.6 552L77.3 554.1L77 556.3L76.9 558.5L76.9 560.7L76.9 562.8L77 565L77.1 567.2L78.1 569.4L80.1 571.6L82.1 573.7L83.4 575.9L84.6 578.1L85.8 580.3L86.9 582.4L87.7 584.6L88.3 586.8L88.6 589L88.4 591.1L87.9 593.3L87.1 595.5L86 597.7L84.8 599.9L83.5 602L82.2 604.2L81.1 606.4L79.8 608.6L78.5 610.7L77.2 612.9L76.2 615.1L75.4 617.3L74.7 619.5L74.2 621.6L74.3 623.8L74.5 626L74.9 628.2L75.4 630.3L75.8 632.5L76.2 634.7L76.7 636.9L77.1 639.1L77.6 641.2L78.1 643.4L78.7 645.6L79.2 647.8L79.7 649.9L80.3 652.1L80.9 654.3Z" fill="#1c6f96" class="v"/>
<path class="d" d="M69 595.9h0M84.5 579.9h0M79.4 612.4h0M81.6 581.7h0M61.9 572.7h0M78.3 599.3h0M67.7 599.7h0M67.1 586.8h0M70.5 591.7h0M77.1 589.3h0M70.1 605h0M85.5 573.7h0M80.8 584.6h0M61.3 654.3h0M74.4 654.3h0M85.6 654.3h0M61.9 552h0M66.9 560.7h0"/>
<path d="M99.3 654.3L99.2 651.7L99.1 649L99 646.4L98.8 643.8L98.5 641.1L98.2 638.5L98 635.9L97.7 633.2L97.2 630.6L96.7 628L96.1 625.3L95.4 622.7L94.8 620.1L94.3 617.4L93.8 614.8L93.5 612.2L93.1 609.5L92.7 606.9L92.3 604.3L92 601.6L91.7 599L91.5 596.4L91.4 593.7L91.3 591.1L91.4 588.5L91.7 585.8L92.1 583.2L92.7 580.6L93.3 577.9L94 575.3L94.8 572.7L95.5 570L96.2 567.4L96.9 564.8L97.7 562.1L98.6 559.5L99.4 556.9L100 554.2L100.7 551.6L101.4 549L101.9 546.3L102.2 543.7L102.2 541.1L102.3 538.4L102.3 535.8L102.3 533.2L102.3 530.5L109.3 530.5L109.3 533.2L109.3 535.8L109.4 538.4L109.4 541.1L109.4 543.7L109.7 546.3L110.2 549L110.9 551.6L111.6 554.2L112.3 556.9L113 559.5L113.9 562.1L114.7 564.8L115.4 567.4L116.1 570L116.8 572.7L117.6 575.3L118.3 577.9L119 580.6L119.5 583.2L120 585.8L120.2 588.5L120.3 591.1L120.3 593.7L120.1 596.4L119.9 599L119.6 601.6L119.3 604.3L118.9 606.9L118.5 609.5L118.2 612.2L117.8 614.8L117.3 617.4L116.8 620.1L116.2 622.7L115.6 625.3L114.9 628L114.4 630.6L114 633.2L113.7 635.9L113.4 638.5L113.1 641.1L112.9 643.8L112.7 646.4L112.5 649L112.4 651.7L112.3 654.3Z" fill="#1c7295" class="v"/>
<path class="d" d="M97.3 604.3h0M117.2 593h0M110.3 588h0M110.9 613.7h0M94.5 542.2h0M100.4 588h0M112.6 599.1h0M115 622h0M102.9 596.7h0M102.1 553h0M105 568.4h0M106.2 577.4h0M102.9 579.8h0M97.9 548.8h0M96.6 632.3h0M113.1 603.3h0M114.9 616.4h0M113.9 569.1h0M114.7 609.7h0M102.2 585.1h0M102.4 625.7h0M105.5 572.6h0M101.3 565.4h0M97.7 609.3h0M93.5 654.3h0M101.4 654.3h0M110.3 654.3h0M117.7 654.3h0M94.8 535.3h0M97.8 530.5h0"/>
<path d="M123.7 654.3L124.3 651.4L124.8 648.5L125.4 645.6L125.9 642.7L126.3 639.7L126.8 636.8L127.4 633.9L127.9 631L128.4 628.1L128.9 625.2L129.3 622.3L129.6 619.4L129.7 616.4L129.7 613.5L129.6 610.6L129.3 607.7L128.9 604.8L128.5 601.9L128 599L127.5 596.1L127.1 593.1L126.6 590.2L126.2 587.3L125.7 584.4L125.1 581.5L124.6 578.6L124.1 575.7L123.7 572.8L123.4 569.9L123.2 566.9L123.3 564L123.5 561.1L123.8 558.2L124.2 555.3L124.7 552.4L125.2 549.5L125.8 546.6L126.3 543.6L126.9 540.7L127.6 537.8L128.3 534.9L129.1 532L129.8 529.1L130.5 526.2L131.1 523.3L131.7 520.4L132.2 517.4L143.2 517.4L143.8 520.4L144.4 523.3L145 526.2L145.6 529.1L146.4 532L147.2 534.9L147.9 537.8L148.6 540.7L149.1 543.6L149.7 546.6L150.2 549.5L150.8 552.4L151.3 555.3L151.7 558.2L152 561.1L152.2 564L152.2 566.9L152.1 569.9L151.8 572.8L151.4 575.7L150.9 578.6L150.3 581.5L149.8 584.4L149.3 587.3L148.8 590.2L148.4 593.1L147.9 596.1L147.5 599L147 601.9L146.6 604.8L146.2 607.7L145.9 610.6L145.7 613.5L145.7 616.4L145.9 619.4L146.2 622.3L146.6 625.2L147 628.1L147.6 631L148.1 633.9L148.6 636.8L149.1 639.7L149.6 642.7L150.1 645.6L150.6 648.5L151.2 651.4L151.7 654.3Z" fill="#1b7594" class="v"/>
<path class="d" d="M139.5 553.7h0M138.2 619.8h0M133.7 544.1h0M127.2 570.3h0M137.1 523.2h0M148 534.5h0M137.3 579.9h0M149.7 629.1h0M136.1 591.5h0M126.1 555.7h0M146.1 541.6h0M130.2 575.3h0M137 563h0M146.4 598.6h0M136 530.6h0M147.9 581.9h0M137.6 567.6h0M127.2 596.4h0M135.1 631.6h0M141.3 617.6h0M141 601.7h0M126.6 559.4h0M125.7 654.3h0M130.5 654.3h0M134.6 654.3h0M140 654.3h0M145.7 654.3h0M149.4 654.3h0"/>
<path d="M155.6 654.3L155.8 652.5L155.9 650.6L156 648.8L156.1 646.9L156.3 645.1L156.4 643.3L156.5 641.4L156.6 639.6L156.7 637.7L156.8 635.9L156.9 634.1L157 632.2L157.1 630.4L157.2 628.5L157.3 626.7L157.4 624.9L157.5 623L157.5 621.2L157.6 619.3L157.6 617.5L157.6 615.7L157.6 613.8L157.6 612L157.4 610.1L157.2 608.3L157 606.5L156.7 604.6L156.4 602.8L156.1 600.9L155.8 599.1L155.6 597.3L155.4 595.4L155.2 593.6L155.2 591.7L155.1 589.9L155.2 588.1L155.2 586.2L155.2 584.4L155.3 582.5L155.4 580.7L155.4 578.9L155.5 577L155.6 575.2L155.8 573.3L156.1 571.5L156.4 569.7L156.7 567.8L182.5 567.8L182.9 569.7L183.2 571.5L183.5 573.3L183.7 575.2L183.8 577L183.8 578.9L183.9 580.7L184 582.5L184 584.4L184.1 586.2L184.1 588.1L184.1 589.9L184.1 591.7L184 593.6L183.9 595.4L183.7 597.3L183.4 599.1L183.2 600.9L182.9 602.8L182.6 604.6L182.3 606.5L182.1 608.3L181.9 610.1L181.7 612L181.6 613.8L181.6 615.7L181.7 617.5L181.7 619.3L181.8 621.2L181.8 623L181.9 624.9L182 626.7L182.1 628.5L182.2 630.4L182.3 632.2L182.4 634.1L182.5 635.9L182.6 637.7L182.7 639.6L182.8 641.4L182.9 643.3L183 645.1L183.1 646.9L183.3 648.8L183.4 650.6L183.5 652.5L183.6 654.3Z" fill="#1b7893" class="v"/>
<path class="d" d="M180.6 649.7h0M163.2 573.8h0M160.6 594.9h0M166.4 634.5h0M178.3 619.5h0M178.3 628.5h0M174.6 601.2h0M176.2 578.9h0M157.1 654.3h0M170.2 654.3h0M181.9 654.3h0"/>
<path d="M189.6 654.3L189.6 652.6L189.6 650.9L189.6 649.3L189.6 647.6L189.6 645.9L189.6 644.2L189.6 642.5L189.6 640.9L189.6 639.2L189.6 637.5L189.6 635.8L189.6 634.1L189.6 632.5L189.6 630.8L189.6 629.1L189.6 627.4L189.6 625.7L189.6 624.1L189.6 622.4L189.6 620.7L189.6 619L189.6 617.3L189.6 615.7L189.5 614L189.5 612.3L189.3 610.6L189.2 608.9L188.9 607.3L188.7 605.6L188.4 603.9L188.2 602.2L188 600.6L187.8 598.9L187.6 597.2L187.6 595.5L187.6 593.8L187.6 592.2L187.7 590.5L187.8 588.8L187.9 587.1L188 585.4L188.2 583.8L188.4 582.1L188.6 580.4L189.1 578.7L189.8 577L190.6 575.4L212.6 575.4L213.3 577L214 578.7L214.5 580.4L214.7 582.1L214.9 583.8L215.1 585.4L215.2 587.1L215.3 588.8L215.4 590.5L215.5 592.2L215.5 593.8L215.5 595.5L215.5 597.2L215.3 598.9L215.1 600.6L214.9 602.2L214.7 603.9L214.4 605.6L214.2 607.3L214 608.9L213.8 610.6L213.6 612.3L213.6 614L213.6 615.7L213.6 617.3L213.6 619L213.6 620.7L213.6 622.4L213.6 624.1L213.6 625.7L213.6 627.4L213.6 629.1L213.6 630.8L213.6 632.5L213.6 634.1L213.6 635.8L213.6 637.5L213.6 639.2L213.6 640.9L213.6 642.5L213.6 644.2L213.6 645.9L213.6 647.6L213.6 649.3L213.6 650.9L213.6 652.6L213.6 654.3Z" fill="#1a7b92" class="v"/>
<path class="d" d="M213.5 637.5h0M201.2 605.7h0M192.4 621.3h0M211.2 575.8h0M209.7 644.7h0M189.8 614.6h0M197.3 589.7h0M189.8 654.3h0M202.3 654.3h0M213.2 654.3h0"/>
<path d="M219.5 654.3L219.5 651.6L219.6 648.9L219.7 646.3L219.8 643.6L220 640.9L220.1 638.2L220.2 635.6L220.3 632.9L220.5 630.2L220.6 627.5L220.8 624.9L221 622.2L221.2 619.5L221.4 616.8L221.6 614.2L221.8 611.5L222 608.8L222.2 606.1L222.4 603.5L222.6 600.8L222.8 598.1L223.1 595.4L223.3 592.8L223.5 590.1L223.7 587.4L224 584.7L224.2 582.1L224.4 579.4L224.6 576.7L224.9 574L225.1 571.4L225.3 568.7L225.5 566L225.7 563.3L225.9 560.7L226.2 558L226.4 555.3L226.7 552.6L227.1 550L227.4 547.3L227.7 544.6L228.1 541.9L228.5 539.2L228.8 536.6L229.2 533.9L229.6 531.2L230 528.5L237 528.5L237.4 531.2L237.7 533.9L238.1 536.6L238.5 539.2L238.8 541.9L239.2 544.6L239.5 547.3L239.9 550L240.2 552.6L240.5 555.3L240.7 558L241 560.7L241.2 563.3L241.4 566L241.7 568.7L241.9 571.4L242.1 574L242.3 576.7L242.5 579.4L242.7 582.1L243 584.7L243.2 587.4L243.4 590.1L243.7 592.8L243.9 595.4L244.1 598.1L244.3 600.8L244.5 603.5L244.7 606.1L244.9 608.8L245.2 611.5L245.4 614.2L245.6 616.8L245.8 619.5L246 622.2L246.1 624.9L246.3 627.5L246.5 630.2L246.6 632.9L246.7 635.6L246.9 638.2L247 640.9L247.1 643.6L247.2 646.3L247.3 648.9L247.4 651.6L247.5 654.3Z" fill="#187e91" class="v"/>
<path class="d" d="M234.4 593.8h0M230.1 625.5h0M236.8 617.4h0M233.8 553h0M227.7 609h0M230.9 586.6h0M226 530.3h0M239 637.1h0M245.3 627.1h0M243.8 632h0M227.4 560.5h0M245.5 594.8h0M238.4 564.7h0M225.5 613.8h0M229.8 576.6h0M221.2 654.3h0M225.5 654.3h0M229.4 654.3h0M232.9 654.3h0M238.1 654.3h0M241.8 654.3h0M245.4 654.3h0M221.2 552.7h0"/>
<path d="M251.4 654.3L251.4 652.2L251.4 650.1L251.4 648L251.4 646L251.4 643.9L251.4 641.8L251.4 639.7L251.4 637.6L251.4 635.5L251.4 633.5L251.4 631.4L251.4 629.3L251.4 627.2L251.5 625.1L251.6 623L251.9 620.9L252.3 618.9L252.7 616.8L253.2 614.7L253.7 612.6L254.2 610.5L254.7 608.4L255.2 606.3L255.6 604.3L256 602.2L256.3 600.1L256.6 598L256.9 595.9L257.2 593.8L257.5 591.8L257.8 589.7L258.1 587.6L258.4 585.5L258.7 583.4L259 581.3L259.3 579.2L259.6 577.2L259.9 575.1L260.2 573L260.5 570.9L260.7 568.8L261 566.7L261.2 564.7L261.4 562.6L261.6 560.5L261.7 558.4L261.9 556.3L268.9 556.3L269 558.4L269.2 560.5L269.3 562.6L269.5 564.7L269.8 566.7L270 568.8L270.3 570.9L270.6 573L270.9 575.1L271.2 577.2L271.5 579.2L271.8 581.3L272 583.4L272.3 585.5L272.6 587.6L272.9 589.7L273.2 591.8L273.5 593.8L273.8 595.9L274.1 598L274.5 600.1L274.8 602.2L275.1 604.3L275.6 606.3L276 608.4L276.5 610.5L277 612.6L277.5 614.7L278 616.8L278.5 618.9L278.8 620.9L279.1 623L279.3 625.1L279.4 627.2L279.4 629.3L279.4 631.4L279.4 633.5L279.4 635.5L279.4 637.6L279.4 639.7L279.4 641.8L279.4 643.9L279.4 646L279.4 648L279.4 650.1L279.4 652.2L279.4 654.3Z" fill="#178190" class="v"/>
<path class="d" d="M277.3 588h0M264.6 630.2h0M273 593.6h0M263.2 568.4h0M261.2 620.7h0M258.6 627.3h0M270.1 601.6h0M264.6 635.1h0M275.9 641.8h0M273.8 610h0M260.5 575.8h0M271.1 613.8h0M254 654.3h0M258.2 654.3h0M263.7 654.3h0M267.1 654.3h0M273.1 654.3h0M276.6 654.3h0M257 556.3h0"/>
<path d="M287.3 654.3L287.5 651.8L287.6 649.2L287.8 646.7L287.9 644.2L288 641.6L288.1 639.1L288.2 636.6L288.2 634L288.3 631.5L288.3 629L288.3 626.4L288.3 623.9L288.2 621.4L288.1 618.9L288.1 616.3L287.9 613.8L287.8 611.3L287.7 608.7L287.5 606.2L287.4 603.7L287.1 601.1L286.8 598.6L286.2 596.1L285.6 593.5L284.9 591L284.3 588.5L283.7 585.9L283.2 583.4L282.9 580.9L282.8 578.3L282.9 575.8L283 573.3L283.3 570.7L283.7 568.2L284.1 565.7L284.5 563.1L285 560.6L285.5 558.1L286 555.5L286.5 553L287.1 550.5L287.7 548L288.4 545.4L289 542.9L289.4 540.4L289.7 537.8L290 535.3L304.6 535.3L304.8 537.8L305.2 540.4L305.6 542.9L306.2 545.4L306.8 548L307.5 550.5L308.1 553L308.6 555.5L309.1 558.1L309.6 560.6L310.1 563.1L310.5 565.7L310.9 568.2L311.3 570.7L311.5 573.3L311.7 575.8L311.8 578.3L311.7 580.9L311.4 583.4L310.9 585.9L310.3 588.5L309.6 591L309 593.5L308.4 596.1L307.8 598.6L307.4 601.1L307.2 603.7L307.1 606.2L306.9 608.7L306.8 611.3L306.6 613.8L306.5 616.3L306.4 618.9L306.4 621.4L306.3 623.9L306.3 626.4L306.3 629L306.3 631.5L306.4 634L306.4 636.6L306.5 639.1L306.6 641.6L306.7 644.2L306.8 646.7L306.9 649.2L307.1 651.8L307.3 654.3Z" fill="#16848f" class="v"/>
<path class="d" d="M304.6 601.3h0M289.6 561.2h0M295.7 536.1h0M292.7 622.9h0M294.3 637.6h0M305.4 638.7h0M287.1 607.6h0M305.7 576.4h0M298.4 553.6h0M307.7 624.9h0M295.1 590.3h0M298.2 593.3h0M302.4 571.7h0M299.8 582h0M290.5 616.8h0M307 564.6h0M298.7 548.3h0M301 557.4h0M291 573h0M285.5 586.1h0M286.1 654.3h0M289.8 654.3h0M295.5 654.3h0M299.3 654.3h0M304.6 654.3h0M309.9 654.3h0"/>
<path d="M315.2 654.3H343.2" class="zl"/>
<path d="M329.2 654.3V579.7M327.7 579.7H330.7" class="vl"/>
<path class="d" d="M317.8 654.3h0M318.8 654.3h0M320.3 654.3h0M321.6 654.3h0M323.3 654.3h0M324.6 654.3h0M325.8 654.3h0M327.3 654.3h0M328.5 654.3h0M330.1 654.3h0M331.1 654.3h0M332.6 654.3h0M334.1 654.3h0M335.4 654.3h0M336.7 654.3h0M337.7 654.3h0M339.6 654.3h0M340.8 654.3h0M321.9 579.7h0M321.9 583.3h0M330.4 580.1h0M336.5 588.4h0M322.5 598.8h0M326.2 609.9h0M326.2 613.4h0M338.4 610.7h0M339.6 610.7h0M328.6 639.6h0M332.9 638.4h0M339 646.8h0"/>
<path d="M346.6 654.3L346.8 652.4L347 650.5L347.3 648.6L347.6 646.7L347.9 644.8L348.2 642.9L348.6 641L349 639.1L349.3 637.2L349.7 635.3L350 633.4L350.4 631.5L350.7 629.6L351 627.7L351.3 625.8L351.7 623.9L352 622L352.3 620.1L352.6 618.2L352.9 616.3L353.2 614.4L353.4 612.5L353.7 610.6L353.9 608.7L354.2 606.8L354.4 604.9L354.7 603L354.9 601.1L355.1 599.2L355.4 597.3L355.6 595.4L355.8 593.5L356 591.6L356.2 589.7L356.5 587.8L356.7 585.9L356.9 584L357.1 582.1L357.3 580.2L357.5 578.3L357.7 576.4L357.9 574.5L358 572.6L358.2 570.7L358.3 568.8L358.5 566.9L358.6 565L363.6 565L363.8 566.9L363.9 568.8L364.1 570.7L364.2 572.6L364.4 574.5L364.6 576.4L364.7 578.3L364.9 580.2L365.1 582.1L365.3 584L365.6 585.9L365.8 587.8L366 589.7L366.2 591.6L366.4 593.5L366.7 595.4L366.9 597.3L367.1 599.2L367.3 601.1L367.6 603L367.8 604.9L368.1 606.8L368.3 608.7L368.6 610.6L368.8 612.5L369.1 614.4L369.4 616.3L369.7 618.2L370 620.1L370.3 622L370.6 623.9L370.9 625.8L371.2 627.7L371.5 629.6L371.9 631.5L372.2 633.4L372.6 635.3L372.9 637.2L373.2 639.1L373.6 641L374 642.9L374.4 644.8L374.7 646.7L374.9 648.6L375.2 650.5L375.4 652.4L375.6 654.3Z" fill="#1b8d91" class="v"/>
<path class="d" d="M351.1 602.2h0M363.6 598.3h0M359.2 609.9h0M367.8 637.4h0M356.2 623.9h0M366.4 606.8h0M369.2 586.3h0M361.2 629h0M365.1 632.8h0M351.2 612.3h0M352 616.7h0M367.5 627h0M365.1 641.2h0M358.4 620.1h0M356.2 575.1h0M373.4 573.4h0M362.9 634.4h0M358.5 644.8h0M352.1 590.8h0M367.9 642h0M349.7 654.3h0M353.9 654.3h0M358.7 654.3h0M363.7 654.3h0M367.5 654.3h0M373.1 654.3h0M372.6 565h0"/>
<path d="M378.5 654.3L379 652.2L379.5 650.1L380 648L380.7 646L381.5 643.9L382.5 641.8L383.5 639.7L384.5 637.6L385.3 635.5L385.7 633.5L386.1 631.4L386.5 629.3L386.8 627.2L387 625.1L387.3 623L387.5 620.9L387.7 618.9L387.9 616.8L388 614.7L388.2 612.6L388.3 610.5L388.5 608.4L388.6 606.3L388.7 604.3L388.8 602.2L388.9 600.1L389 598L389.1 595.9L389.2 593.8L389.3 591.8L389.4 589.7L389.5 587.6L389.6 585.5L389.7 583.4L389.7 581.3L389.8 579.2L389.9 577.2L390 575.1L390 573L390.1 570.9L390.2 568.8L390.3 566.7L390.3 564.7L390.4 562.6L390.4 560.5L390.5 558.4L390.5 556.3L395.5 556.3L395.6 558.4L395.6 560.5L395.7 562.6L395.8 564.7L395.8 566.7L395.9 568.8L395.9 570.9L396 573L396.1 575.1L396.2 577.2L396.2 579.2L396.3 581.3L396.4 583.4L396.5 585.5L396.6 587.6L396.7 589.7L396.7 591.8L396.8 593.8L396.9 595.9L397 598L397.1 600.1L397.2 602.2L397.4 604.3L397.5 606.3L397.6 608.4L397.7 610.5L397.9 612.6L398 614.7L398.2 616.8L398.4 618.9L398.6 620.9L398.8 623L399 625.1L399.3 627.2L399.6 629.3L400 631.4L400.3 633.5L400.8 635.5L401.6 637.6L402.5 639.7L403.6 641.8L404.6 643.9L405.4 646L406 648L406.6 650.1L407.1 652.2L407.5 654.3Z" fill="#1c9290" class="v"/>
<path class="d" d="M380.8 610.3h0M404.9 572h0M402.4 603.8h0M383.7 577.7h0M380.8 555.3h0M388.6 581.9h0M380.9 597.2h0M381.8 574.8h0M384 635.5h0M397.4 633.2h0M403 606.2h0M402.5 642.6h0M390.4 587.4h0M399 608.4h0M398.3 620.6h0M381.8 642h0M398.5 629h0M386.6 632.4h0M389.8 639.2h0M398.9 635.2h0M403.2 564.1h0M400.6 622.6h0M399 619.9h0M389.2 589.9h0M403.6 639.9h0M393.8 637.1h0M393.4 627.6h0M383.6 630.1h0M381.2 614.3h0M387.5 592.9h0M400.1 618.2h0M393.5 601.5h0M400.4 612.6h0M383.5 569.9h0M400.4 585.4h0M381.1 654.3h0M383.9 654.3h0M387.4 654.3h0M391.4 654.3h0M394.7 654.3h0M398.3 654.3h0M402.3 654.3h0M404.7 654.3h0M403.3 555.1h0M385 561.1h0"/>
<path d="M410.4 654.3L411.3 652.6L412.2 650.9L413.1 649.3L414 647.6L414.9 645.9L415.8 644.2L416.7 642.5L417.4 640.9L418.1 639.2L418.7 637.5L419.4 635.8L419.9 634.1L420.5 632.5L421 630.8L421.4 629.1L421.8 627.4L422.1 625.7L422.4 624.1L422.7 622.4L423 620.7L423.3 619L423.5 617.3L423.7 615.7L423.9 614L424 612.3L424.1 610.6L424.1 608.9L424.1 607.3L424 605.6L423.9 603.9L423.7 602.2L423.5 600.6L423.4 598.9L423.3 597.2L423.2 595.5L423.1 593.8L423.1 592.2L423.1 590.5L423 588.8L423 587.1L423 585.4L423 583.8L423 582.1L423 580.4L423 578.7L422.9 577L422.9 575.4L426.9 575.4L426.9 577L426.9 578.7L426.9 580.4L426.9 582.1L426.9 583.8L426.9 585.4L426.9 587.1L426.8 588.8L426.8 590.5L426.8 592.2L426.8 593.8L426.7 595.5L426.6 597.2L426.5 598.9L426.4 600.6L426.2 602.2L426 603.9L425.9 605.6L425.8 607.3L425.7 608.9L425.8 610.6L425.9 612.3L426 614L426.2 615.7L426.4 617.3L426.6 619L426.9 620.7L427.2 622.4L427.5 624.1L427.8 625.7L428.1 627.4L428.5 629.1L428.9 630.8L429.4 632.5L430 634.1L430.5 635.8L431.1 637.5L431.8 639.2L432.5 640.9L433.2 642.5L434.1 644.2L435 645.9L435.9 647.6L436.8 649.3L437.7 650.9L438.6 652.6L439.4 654.3Z" fill="#1d9890" class="v"/>
<path class="d" d="M413.1 654.3h0M417 654.3h0M423.1 654.3h0M427.6 654.3h0M432.2 654.3h0M436.4 654.3h0M421 575h0M435.2 596h0M425.3 626.5h0M414.9 638h0"/>
<path d="M442.4 654.3L442.9 652.3L443.3 650.4L443.8 648.4L444.3 646.5L444.7 644.5L445.2 642.6L445.6 640.6L446.1 638.6L446.5 636.7L447 634.7L447.5 632.8L448 630.8L448.4 628.8L448.8 626.9L449.1 624.9L449.3 623L449.5 621L449.7 619.1L449.8 617.1L449.9 615.1L449.8 613.2L449.5 611.2L449 609.3L448.5 607.3L448.1 605.3L447.9 603.4L447.9 601.4L447.9 599.5L447.9 597.5L448 595.6L448 593.6L448.1 591.6L448.2 589.7L448.3 587.7L448.4 585.8L448.5 583.8L448.6 581.8L448.8 579.9L449 577.9L449.4 576L450 574L450.7 572.1L451.5 570.1L452.1 568.1L452.5 566.2L452.9 564.2L453.3 562.3L460.5 562.3L460.8 564.2L461.2 566.2L461.6 568.1L462.3 570.1L463 572.1L463.7 574L464.3 576L464.7 577.9L464.9 579.9L465.1 581.8L465.2 583.8L465.3 585.8L465.4 587.7L465.5 589.7L465.6 591.6L465.7 593.6L465.8 595.6L465.8 597.5L465.8 599.5L465.9 601.4L465.8 603.4L465.6 605.3L465.2 607.3L464.7 609.3L464.3 611.2L463.9 613.2L463.9 615.1L463.9 617.1L464.1 619.1L464.2 621L464.4 623L464.6 624.9L465 626.9L465.3 628.8L465.8 630.8L466.2 632.8L466.7 634.7L467.2 636.7L467.6 638.6L468.1 640.6L468.5 642.6L469 644.5L469.4 646.5L469.9 648.4L470.4 650.4L470.9 652.3L471.4 654.3Z" fill="#1c9c92" class="v"/>
<path class="d" d="M446.2 626h0M453.8 631.3h0M454 602.3h0M453.8 641.9h0M468.1 595.8h0M449.9 616.3h0M459.6 604.6h0M452.6 613.6h0M446.5 588.8h0M458.8 620.9h0M467.7 634.5h0M466.5 635.6h0M449.3 578.5h0M462 592.4h0M445.8 628.8h0M445.3 581.6h0M451.2 639h0M460.7 570.5h0M445.8 585.2h0M464.8 640.1h0M447.9 622.9h0M468.7 578.5h0M448.3 572.6h0M458.8 644.7h0M445 602.2h0M457.2 584.8h0M465.2 610h0M455 613.9h0M461.7 599.6h0M467.1 562.9h0M445 654.3h0M449.7 654.3h0M454.7 654.3h0M459.7 654.3h0M464.1 654.3h0M468.7 654.3h0M446.4 563.1h0M446.4 569h0"/>
<path d="M474.3 654.3L475.3 651.8L476.3 649.4L477.2 646.9L478.3 644.4L479.5 641.9L480.7 639.5L481.8 637L482.6 634.5L482.9 632L483.1 629.6L483.2 627.1L483.4 624.6L483.5 622.2L483.6 619.7L483.7 617.2L483.8 614.7L483.9 612.3L484 609.8L484.1 607.3L484.2 604.8L484.2 602.4L484.3 599.9L484.4 597.4L484.6 594.9L484.7 592.5L484.8 590L485 587.5L485.3 585.1L485.6 582.6L486 580.1L486.3 577.6L486.6 575.2L486.9 572.7L487.1 570.2L487.2 567.7L487.3 565.3L487.4 562.8L487.5 560.3L487.5 557.9L487.6 555.4L487.6 552.9L487.7 550.4L487.7 548L487.7 545.5L487.8 543L487.8 540.5L487.8 538.1L489.8 538.1L489.8 540.5L489.8 543L489.8 545.5L489.8 548L489.9 550.4L489.9 552.9L490 555.4L490 557.9L490.1 560.3L490.2 562.8L490.2 565.3L490.3 567.7L490.4 570.2L490.7 572.7L490.9 575.2L491.3 577.6L491.6 580.1L491.9 582.6L492.2 585.1L492.5 587.5L492.7 590L492.9 592.5L493 594.9L493.1 597.4L493.2 599.9L493.3 602.4L493.4 604.8L493.5 607.3L493.6 609.8L493.7 612.3L493.8 614.7L493.9 617.2L494 619.7L494.1 622.2L494.2 624.6L494.3 627.1L494.5 629.6L494.7 632L495 634.5L495.7 637L496.8 639.5L498.1 641.9L499.3 644.4L500.3 646.9L501.3 649.4L502.3 651.8L503.3 654.3Z" fill="#1aa193" class="v"/>
<path class="d" d="M496.9 576.4h0M496 640.1h0M482.4 610h0M483.9 645.4h0M497.3 563.2h0M482.7 593.3h0M490.4 602.3h0M498.3 588.1h0M479.6 638.1h0M490.5 644.5h0M478.9 632.6h0M487.4 637.7h0M483.7 626.2h0M481.5 630.3h0M489.2 599.5h0M494 642.6h0M489.3 609.4h0M495.1 625.7h0M490.2 618.9h0M493.7 583.6h0M480 613.8h0M496.6 611.5h0M482.2 570.6h0M479.9 548.3h0M490.5 597.7h0M476.8 654.3h0M479.6 654.3h0M483 654.3h0M486.3 654.3h0M490.1 654.3h0M494.7 654.3h0M497.5 654.3h0M500.7 654.3h0M499.4 538.1h0"/>
<path d="M506.2 654.3L506.6 652.1L507.2 649.9L507.8 647.7L508.5 645.5L509.3 643.3L510.2 641.1L510.9 638.9L511.6 636.7L512.2 634.5L512.7 632.3L513.2 630.1L513.6 627.9L513.9 625.7L514.1 623.5L514.3 621.3L514.5 619.1L514.7 616.8L514.9 614.6L515 612.4L515.1 610.2L515.3 608L515.4 605.8L515.6 603.6L515.8 601.4L516 599.2L516.2 597L516.3 594.8L516.5 592.6L516.7 590.4L516.9 588.2L517.1 586L517.3 583.8L517.4 581.6L517.6 579.4L517.8 577.2L518 575L518.1 572.8L518.3 570.6L518.5 568.4L518.6 566.2L518.8 564L518.9 561.8L519.1 559.6L519.2 557.4L519.4 555.2L519.5 553L519.7 550.8L521.7 550.8L521.8 553L522 555.2L522.1 557.4L522.3 559.6L522.4 561.8L522.6 564L522.8 566.2L522.9 568.4L523.1 570.6L523.2 572.8L523.4 575L523.6 577.2L523.8 579.4L523.9 581.6L524.1 583.8L524.3 586L524.5 588.2L524.7 590.4L524.8 592.6L525 594.8L525.2 597L525.4 599.2L525.6 601.4L525.8 603.6L525.9 605.8L526.1 608L526.2 610.2L526.4 612.4L526.5 614.6L526.7 616.8L526.8 619.1L527 621.3L527.2 623.5L527.5 625.7L527.8 627.9L528.1 630.1L528.6 632.3L529.2 634.5L529.8 636.7L530.5 638.9L531.2 641.1L532.1 643.3L532.9 645.5L533.6 647.7L534.2 649.9L534.7 652.1L535.2 654.3Z" fill="#19a694" class="v"/>
<path class="d" d="M532.7 583.8h0M508.3 565.7h0M517.9 632h0M520.2 606.8h0M511.8 616.3h0M531.1 623.6h0M518.1 578.1h0M514.2 633.3h0M523.7 601.6h0M531.6 592.4h0M530.3 610.1h0M526.1 637.1h0M510.5 627.5h0M521.4 639.8h0M509.3 654.3h0M514 654.3h0M517.7 654.3h0M523.2 654.3h0M528.3 654.3h0M533.1 654.3h0M519.7 551.2h0"/>
<path d="M538.1 654.3L542 652.1L545.2 650L548 647.8L549.9 645.7L551.3 643.5L551.6 641.4L551.6 639.2L551.6 637.1L551.6 634.9L551.6 632.8L551.4 630.6L550.9 628.5L550.9 626.3L551.3 624.2L551.7 622L551.8 619.9L551.7 617.7L551.5 615.6L551.3 613.4L551.2 611.3L551.1 609.1L551.2 606.9L551.4 604.8L551.7 602.6L551.9 600.5L552 598.3L552 596.2L552 594L552 591.9L552 589.7L552 587.6L552 585.4L552 583.3L552 581.1L552 579L552 576.8L552 574.7L552 572.5L552 570.4L552 568.2L552 566.1L552 563.9L551.8 561.8L551.2 559.6L550.8 557.4L550.4 555.3L550.1 553.1L555.1 553.1L554.8 555.3L554.4 557.4L554 559.6L553.4 561.8L553.2 563.9L553.2 566.1L553.2 568.2L553.2 570.4L553.2 572.5L553.2 574.7L553.2 576.8L553.2 579L553.2 581.1L553.2 583.3L553.2 585.4L553.2 587.6L553.2 589.7L553.2 591.9L553.2 594L553.2 596.2L553.2 598.3L553.3 600.5L553.5 602.6L553.8 604.8L554 606.9L554.1 609.1L554 611.3L553.9 613.4L553.7 615.6L553.5 617.7L553.4 619.9L553.5 622L553.9 624.2L554.3 626.3L554.3 628.5L553.8 630.6L553.6 632.8L553.6 634.9L553.6 637.1L553.6 639.2L553.6 641.4L553.9 643.5L555.3 645.7L557.2 647.8L560 650L563.2 652.1L567.1 654.3Z" fill="#18aa96" class="v"/>
<path class="d" d="M539.9 654.3h0M543.5 654.3h0M544.2 654.3h0M547 654.3h0M549.4 654.3h0M551.2 654.3h0M553.4 654.3h0M555.5 654.3h0M557.6 654.3h0M561 654.3h0M562.1 654.3h0M564.8 654.3h0M541 553.5h0M549.6 553.1h0M555.6 608.3h0M549.6 627.3h0M554.4 627.7h0"/>
<path d="M570 654.3L570.7 652.3L571.6 650.2L572.6 648.2L573.8 646.2L575.2 644.1L576.5 642.1L577.6 640.1L578.6 638L579.6 636L580.3 634L580.8 631.9L581.2 629.9L581.6 627.9L581.9 625.8L582.1 623.8L582.3 621.8L582.4 619.7L582.6 617.7L582.7 615.7L582.8 613.6L582.9 611.6L582.9 609.5L582.9 607.5L582.9 605.5L582.9 603.4L583 601.4L583 599.4L583 597.3L583 595.3L583 593.3L583 591.2L583 589.2L583 587.2L583 585.1L583 583.1L583 581.1L583.1 579L583.1 577L583.1 575L583.2 572.9L583.3 570.9L583.3 568.9L583.4 566.8L583.5 564.8L583.5 562.8L583.6 560.7L583.7 558.7L585.3 558.7L585.4 560.7L585.5 562.8L585.6 564.8L585.6 566.8L585.7 568.9L585.8 570.9L585.8 572.9L585.9 575L585.9 577L586 579L586 581.1L586 583.1L586 585.1L586 587.2L586 589.2L586 591.2L586.1 593.3L586.1 595.3L586.1 597.3L586.1 599.4L586.1 601.4L586.1 603.4L586.1 605.5L586.1 607.5L586.1 609.5L586.2 611.6L586.2 613.6L586.3 615.7L586.5 617.7L586.6 619.7L586.7 621.8L586.9 623.8L587.2 625.8L587.5 627.9L587.8 629.9L588.2 631.9L588.7 634L589.4 636L590.4 638L591.5 640.1L592.6 642.1L593.8 644.1L595.2 646.2L596.4 648.2L597.4 650.2L598.3 652.3L599 654.3Z" fill="#15b198" class="v"/>
<path class="d" d="M594.1 572h0M575.1 600.6h0M575.6 631.6h0M580.9 620.7h0M575.6 642.5h0M583.2 635.8h0M578.6 625.3h0M593.4 637.5h0M585.2 580.6h0M591.8 610.1h0M587.8 567.4h0M596.2 592.4h0M578.2 642.7h0M592.5 640.2h0M572.2 602.9h0M574.4 592.7h0M586.6 629.1h0M593.4 585.6h0M585.4 559.2h0M575.9 624h0M580.1 639.2h0M596.2 617h0M595.3 639.1h0M583.9 628.4h0M593.2 612.3h0M583.4 636.2h0M587.9 633h0M596.7 577.6h0M572.3 654.3h0M574.8 654.3h0M577.5 654.3h0M580.1 654.3h0M583.4 654.3h0M585.5 654.3h0M587.9 654.3h0M590.6 654.3h0M593.2 654.3h0M596.1 654.3h0M589.5 557.1h0"/>
<path d="M602.4 654.3H630.4" class="zl"/>
<path d="M616.4 654.3V534.1M614.9 534.1H617.9" class="vl"/>
<path class="d" d="M608.4 654.3h0M609.7 654.3h0M614.4 654.3h0M615.8 654.3h0M618 654.3h0M619.5 654.3h0M620.7 654.3h0M623 654.3h0M624.6 654.3h0M626.1 654.3h0M627.5 654.3h0M629.3 654.3h0M606.6 534.1h0M627.4 597.2h0"/>
<path d="M634.3 654.3H662.3" class="zl"/>
<path d="M648.3 654.3V608.3M646.8 608.3H649.8" class="vl"/>
<path class="d" d="M639.3 654.3h0M643.6 654.3h0M650.5 654.3h0M651.6 654.3h0M653.3 654.3h0M654.8 654.3h0M656.8 654.3h0M658.4 654.3h0M660.1 654.3h0M661.1 654.3h0M645.3 608.3h0M659.9 625.7h0"/>
<path d="M666.3 654.3H694.3" class="zl"/>
<path d="M680.3 654.3V610.3M678.8 610.3H681.8" class="vl"/>
<path class="d" d="M668.6 654.3h0M669.6 654.3h0M671.2 654.3h0M673.4 654.3h0M674.7 654.3h0M676.1 654.3h0M678.2 654.3h0M679.5 654.3h0M680.8 654.3h0M682.7 654.3h0M684.6 654.3h0M686.1 654.3h0M687.6 654.3h0M688.9 654.3h0M690.4 654.3h0M692.2 654.3h0M679 610.3h0M675.3 648.7h0"/>
<path class="d" d="M708.2 640.8h0M723.6 654.3h0"/>
<path d="M730.1 654.3H758.1" class="zl"/>
<path class="d" d="M733 654.3h0M734.5 654.3h0M736.2 654.3h0M737.8 654.3h0M739.7 654.3h0M741.3 654.3h0M743.1 654.3h0M745.1 654.3h0M746.4 654.3h0M748.2 654.3h0M750.4 654.3h0M751.6 654.3h0M753.2 654.3h0M755.4 654.3h0"/>
<path d="M762 654.3H790" class="zl"/>
<path d="M776 654.3V632.5M774 632.5H778" class="vl"/>
<path class="d" d="M768 654.3h0M775.6 654.3h0M778.5 654.3h0M780.6 654.3h0M783.3 654.3h0M769 632.5h0"/>
<path d="M793.4 654.3L794 652.6L794.7 650.8L795.5 649.1L796.4 647.4L797.6 645.6L798.7 643.9L799.8 642.2L800.8 640.5L801.7 638.7L802.6 637L803.4 635.3L803.9 633.5L804.2 631.8L804.4 630.1L804.7 628.3L804.9 626.6L805.1 624.9L805.3 623.2L805.4 621.4L805.5 619.7L805.6 618L805.7 616.2L805.7 614.5L805.7 612.8L805.8 611L805.8 609.3L805.8 607.6L805.8 605.9L805.8 604.1L805.8 602.4L805.8 600.7L805.8 598.9L805.8 597.2L805.9 595.5L805.9 593.7L805.9 592L805.9 590.3L806 588.5L806 586.8L806.1 585.1L806.1 583.4L806.2 581.6L806.3 579.9L806.4 578.2L806.5 576.4L806.6 574.7L806.7 573L809.1 573L809.2 574.7L809.3 576.4L809.4 578.2L809.5 579.9L809.6 581.6L809.7 583.4L809.7 585.1L809.8 586.8L809.9 588.5L809.9 590.3L809.9 592L809.9 593.7L810 595.5L810 597.2L810 598.9L810 600.7L810 602.4L810 604.1L810 605.9L810 607.6L810 609.3L810.1 611L810.1 612.8L810.1 614.5L810.1 616.2L810.2 618L810.3 619.7L810.4 621.4L810.5 623.2L810.7 624.9L810.9 626.6L811.1 628.3L811.4 630.1L811.7 631.8L812 633.5L812.5 635.3L813.2 637L814.1 638.7L815.1 640.5L816 642.2L817.1 643.9L818.3 645.6L819.4 647.4L820.3 649.1L821.1 650.8L821.8 652.6L822.4 654.3Z" fill="#3cc39c" class="v"/>
<path class="d" d="M811.3 581.5h0M809.4 641.4h0M806.6 595.9h0M804.1 630.7h0M799.7 634.6h0M811.8 624h0M802.8 638.6h0M808 577.5h0M802.9 626.7h0M820 592.7h0M816.1 605.7h0M796.6 637.1h0M805.8 604.9h0M803.8 610.3h0M807.9 641.3h0M805.7 619.5h0M796.4 654.3h0M797.8 654.3h0M800.6 654.3h0M804.4 654.3h0M806.9 654.3h0M808.7 654.3h0M812.7 654.3h0M813.9 654.3h0M817.8 654.3h0M820.2 654.3h0M800.9 573h0"/>
<path d="M825.3 654.3L825.9 652.2L826.5 650.1L827.2 647.9L827.9 645.8L828.6 643.7L829.4 641.6L830.3 639.5L831.2 637.4L832.1 635.2L832.9 633.1L833.6 631L834.4 628.9L835.1 626.8L835.7 624.6L836.2 622.5L836.4 620.4L836.6 618.3L836.7 616.2L836.8 614L836.9 611.9L837 609.8L837.1 607.7L837.2 605.6L837.2 603.5L837.2 601.3L837.3 599.2L837.3 597.1L837.3 595L837.4 592.9L837.4 590.7L837.4 588.6L837.4 586.5L837.4 584.4L837.5 582.3L837.5 580.2L837.5 578L837.5 575.9L837.5 573.8L837.6 571.7L837.6 569.6L837.6 567.4L837.6 565.3L837.7 563.2L837.7 561.1L837.7 559L837.8 556.8L837.8 554.7L841.8 554.7L841.9 556.8L841.9 559L841.9 561.1L842 563.2L842 565.3L842 567.4L842.1 569.6L842.1 571.7L842.1 573.8L842.1 575.9L842.1 578L842.2 580.2L842.2 582.3L842.2 584.4L842.2 586.5L842.2 588.6L842.2 590.7L842.3 592.9L842.3 595L842.3 597.1L842.4 599.2L842.4 601.3L842.4 603.5L842.5 605.6L842.5 607.7L842.6 609.8L842.7 611.9L842.8 614L842.9 616.2L843.1 618.3L843.2 620.4L843.5 622.5L843.9 624.6L844.5 626.8L845.2 628.9L846 631L846.8 633.1L847.5 635.2L848.4 637.4L849.3 639.5L850.2 641.6L851 643.7L851.7 645.8L852.4 647.9L853.1 650.1L853.7 652.2L854.3 654.3Z" fill="#3fc4a0" class="v"/>
<path class="d" d="M839.3 630.1h0M848.8 591.6h0M851.8 571.8h0M851.1 612.4h0M829.3 644.3h0M828.8 643.2h0M837.2 637.2h0M849.6 601.8h0M828.4 654.3h0M833.2 654.3h0M837.5 654.3h0M841.8 654.3h0M846.9 654.3h0M852.5 654.3h0M851.6 554.7h0M827.1 583.3h0M832.6 598.4h0M835.7 568.6h0M849.3 626.5h0M849.8 632.5h0M849.3 640.4h0"/>
<path d="M857.7 654.3H885.7" class="zl"/>
<path d="M871.7 654.3V545.6M870.2 545.6H873.2" class="vl"/>
<path class="d" d="M859.9 654.3h0M861.4 654.3h0M863.3 654.3h0M864.9 654.3h0M866.1 654.3h0M868.2 654.3h0M869.8 654.3h0M871.2 654.3h0M872.5 654.3h0M874 654.3h0M875.8 654.3h0M877.4 654.3h0M878.9 654.3h0M880.2 654.3h0M882 654.3h0M883.1 654.3h0M879.8 545.6h0M871.1 575h0M863.1 577.3h0M859.5 582.9h0M877.3 590.8h0M868 600.3h0M869.2 609.9h0M871.7 629.7h0M873.5 631.7h0M866.2 634.1h0M879.8 636.4h0"/>
<path d="M889.6 654.3H917.6" class="zl"/>
<path d="M903.6 654.3V579.7M902.1 579.7H905.1" class="vl"/>
<path class="d" d="M891.8 654.3h0M894 654.3h0M895.4 654.3h0M897.1 654.3h0M898.1 654.3h0M900 654.3h0M901.7 654.3h0M902.9 654.3h0M904.5 654.3h0M905.7 654.3h0M907.7 654.3h0M909.1 654.3h0M910.2 654.3h0M912.2 654.3h0M913.8 654.3h0M915.4 654.3h0M915.1 579.7h0M896.1 634.1h0"/>
<path d="M921.1 654.3L921.9 652.2L922.8 650.1L923.7 648L924.6 645.9L925.5 643.8L926.4 641.7L927.4 639.6L928.4 637.6L929.6 635.5L930.9 633.4L932.1 631.3L933.2 629.2L934.1 627.1L934.6 625L934.8 622.9L934.8 620.8L934.9 618.7L934.9 616.6L934.9 614.5L935 612.4L935 610.3L935 608.2L935 606.2L935 604.1L935 602L935.1 599.9L935.1 597.8L935.1 595.7L935.1 593.6L935.1 591.5L935.1 589.4L935.1 587.3L935.1 585.2L935.1 583.1L935.1 581L935.1 578.9L935.1 576.9L935.1 574.8L935.1 572.7L935.1 570.6L934.8 568.5L934.2 566.4L933.7 564.3L933.2 562.2L932.7 560.1L932.3 558L931.9 555.9L939.3 555.9L938.8 558L938.4 560.1L937.9 562.2L937.5 564.3L936.9 566.4L936.3 568.5L936.1 570.6L936.1 572.7L936.1 574.8L936.1 576.9L936.1 578.9L936.1 581L936.1 583.1L936.1 585.2L936.1 587.3L936.1 589.4L936.1 591.5L936.1 593.6L936.1 595.7L936.1 597.8L936.1 599.9L936.1 602L936.1 604.1L936.1 606.2L936.1 608.2L936.1 610.3L936.2 612.4L936.2 614.5L936.2 616.6L936.3 618.7L936.3 620.8L936.3 622.9L936.5 625L937 627.1L937.9 629.2L939 631.3L940.3 633.4L941.5 635.5L942.7 637.6L943.7 639.6L944.7 641.7L945.6 643.8L946.5 645.9L947.4 648L948.3 650.1L949.2 652.2L950.1 654.3Z" fill="#8bd1aa" class="v"/>
<path class="d" d="M922.9 654.3h0M935.8 654.3h0M947.4 654.3h0M931.2 555.9h0M947 636.4h0M945.9 642h0"/>
<path d="M953.5 654.3H981.5" class="zl"/>
<path d="M967.5 654.3V555.1M965.5 555.1H969.5" class="vl"/>
<path class="d" d="M955.9 654.3h0M957.9 654.3h0M959.2 654.3h0M961.1 654.3h0M963.1 654.3h0M964.9 654.3h0M966 654.3h0M967.8 654.3h0M969.7 654.3h0M971.8 654.3h0M973.3 654.3h0M975.3 654.3h0M977 654.3h0M978.8 654.3h0M968.5 555.1h0M956.9 629.3h0M958.7 644h0M978.3 634.9h0M975.2 650.7h0"/>
<path d="M984.9 654.3L985.8 652.5L986.8 650.7L987.8 648.8L989 647L990.1 645.2L991.2 643.4L992.3 641.5L993.4 639.7L994.4 637.9L995.2 636.1L995.7 634.2L996 632.4L996.1 630.6L996.3 628.8L996.4 627L996.5 625.1L996.6 623.3L996.6 621.5L996.7 619.7L996.8 617.8L996.8 616L996.9 614.2L997 612.4L997.1 610.5L997.2 608.7L997.3 606.9L997.3 605.1L997.4 603.3L997.5 601.4L997.6 599.6L997.7 597.8L997.7 596L997.8 594.1L997.8 592.3L997.9 590.5L997.9 588.7L998 586.8L998 585L998.1 583.2L998.1 581.4L998.2 579.6L998.2 577.7L998.3 575.9L998.3 574.1L998.3 572.3L998.4 570.4L998.4 568.6L1000.4 568.6L1000.4 570.4L1000.4 572.3L1000.5 574.1L1000.5 575.9L1000.5 577.7L1000.6 579.6L1000.6 581.4L1000.7 583.2L1000.7 585L1000.8 586.8L1000.8 588.7L1000.9 590.5L1000.9 592.3L1001 594.1L1001.1 596L1001.1 597.8L1001.2 599.6L1001.3 601.4L1001.3 603.3L1001.4 605.1L1001.5 606.9L1001.6 608.7L1001.7 610.5L1001.8 612.4L1001.8 614.2L1001.9 616L1002 617.8L1002.1 619.7L1002.1 621.5L1002.2 623.3L1002.3 625.1L1002.4 627L1002.5 628.8L1002.6 630.6L1002.8 632.4L1003 634.2L1003.6 636.1L1004.4 637.9L1005.3 639.7L1006.4 641.5L1007.6 643.4L1008.7 645.2L1009.8 647L1011 648.8L1012 650.7L1013 652.5L1013.9 654.3Z" fill="#c6e5b4" class="v"/>
<path class="d" d="M993.4 641.4h0M994.1 624.2h0M996.2 618.2h0M1003.2 595h0M992.2 626.7h0M1011.2 646.8h0M998.4 599h0M1006.4 643.4h0M986.9 649.4h0M994.8 639.7h0M1001.8 589.3h0M990.2 626.8h0M998.6 649.5h0M1011.2 637.2h0M1009.5 596.5h0M998.7 630.9h0M988.1 629.4h0M1003.8 645.3h0M1007.9 604.6h0M999.8 643.5h0M1001.9 648.4h0M1010.8 633.3h0M998.1 618.8h0M1002.6 635.4h0M994.1 649.2h0M1000.6 641.1h0M992.3 599.5h0M1006.6 642.3h0M1011.5 604.7h0M992.1 634.9h0M1000.2 632.7h0M1000.7 618.1h0M989 639.2h0M996.3 648.4h0M1007.1 613.5h0M1009.1 646.4h0M989.8 604.1h0M996.6 647.9h0M997 642.4h0M990.1 636h0M999.4 643.4h0M1008.8 645.5h0M996.4 591.7h0M1005.4 614.1h0M1003.7 646h0M1001.7 644.4h0M991.2 606.5h0M993.9 622h0M998.6 626.3h0M1008.9 611.3h0M1004.4 621.6h0M991.6 638.2h0M987.9 645.2h0M1006.2 616.5h0M989.5 646.4h0M1007.1 647.3h0M993.3 611.5h0M1003.9 638.6h0M997 634.3h0M1004.5 647.2h0M987 654.3h0M989.4 654.3h0M992.2 654.3h0M993.2 654.3h0M995.6 654.3h0M997.6 654.3h0M1000.8 654.3h0M1002 654.3h0M1004.4 654.3h0M1006.5 654.3h0M1009.9 654.3h0M1011.7 654.3h0M999.4 568.6h0"/>
<path d="M1016.8 654.3L1017.5 652.9L1018.2 651.4L1019 650L1019.9 648.6L1021 647.1L1022.1 645.7L1023.1 644.3L1024 642.8L1024.9 641.4L1025.8 640L1026.7 638.5L1027.5 637.1L1028.2 635.6L1028.6 634.2L1028.9 632.8L1029 631.3L1029.2 629.9L1029.4 628.5L1029.5 627L1029.6 625.6L1029.8 624.2L1029.9 622.7L1029.9 621.3L1030 619.9L1030.1 618.4L1030.1 617L1030.1 615.6L1030.1 614.1L1030.1 612.7L1030.1 611.3L1030 609.8L1030 608.4L1030 606.9L1029.9 605.5L1029.9 604.1L1029.8 602.6L1029.8 601.2L1029.8 599.8L1029.8 598.3L1029.8 596.9L1029.8 595.5L1029.8 594L1029.8 592.6L1029.8 591.2L1029.8 589.7L1029.8 588.3L1029.8 586.9L1032.8 586.9L1032.8 588.3L1032.8 589.7L1032.8 591.2L1032.8 592.6L1032.8 594L1032.8 595.5L1032.8 596.9L1032.8 598.3L1032.8 599.8L1032.8 601.2L1032.8 602.6L1032.7 604.1L1032.7 605.5L1032.6 606.9L1032.6 608.4L1032.6 609.8L1032.5 611.3L1032.5 612.7L1032.5 614.1L1032.5 615.6L1032.5 617L1032.5 618.4L1032.6 619.9L1032.7 621.3L1032.7 622.7L1032.8 624.2L1033 625.6L1033.1 627L1033.2 628.5L1033.4 629.9L1033.6 631.3L1033.7 632.8L1034 634.2L1034.4 635.6L1035.1 637.1L1035.9 638.5L1036.8 640L1037.7 641.4L1038.6 642.8L1039.5 644.3L1040.5 645.7L1041.6 647.1L1042.7 648.6L1043.6 650L1044.4 651.4L1045.1 652.9L1045.8 654.3Z" fill="#edf4b8" class="v"/>
<path class="d" d="M1029.4 645.6h0M1036.3 633.5h0M1024.7 637.1h0M1041.7 624.3h0M1020.6 639.4h0M1036.5 599.3h0M1039.1 640.9h0M1028.6 646.9h0M1027 619.4h0M1035.7 646.4h0M1042.9 604.5h0M1026.3 586.3h0M1027.8 629.8h0M1022.7 638.2h0M1023.6 612.1h0M1030.8 593.7h0M1037.1 645.5h0M1030.6 643.2h0M1043 633.4h0M1022 643.9h0M1019.3 654.3h0M1021.9 654.3h0M1024.6 654.3h0M1027.6 654.3h0M1029.4 654.3h0M1032.1 654.3h0M1035.7 654.3h0M1037.3 654.3h0M1039.9 654.3h0M1043.5 654.3h0M1028.3 586.9h0"/>
<path d="M55.1 512V661.3H1051.6" class="ax"/>
<path d="M48.8 654.3H55.1" class="ax"/>
<text x="44.8" y="662" class="tl" text-anchor="end">0</text>
<path d="M48.8 614.6H55.1" class="ax"/>
<text x="44.8" y="622.3" class="tl" text-anchor="end">1</text>
<path d="M48.8 575H55.1" class="ax"/>
<text x="44.8" y="582.7" class="tl" text-anchor="end">2</text>
<path d="M48.8 535.3H55.1" class="ax"/>
<text x="44.8" y="543" class="tl" text-anchor="end">3</text>
<path d="M73.9 661.3V667.6" class="ax"/>
<path d="M105.8 661.3V667.6" class="ax"/>
<path d="M137.7 661.3V667.6" class="ax"/>
<path d="M169.6 661.3V667.6" class="ax"/>
<path d="M201.6 661.3V667.6" class="ax"/>
<path d="M233.5 661.3V667.6" class="ax"/>
<path d="M265.4 661.3V667.6" class="ax"/>
<path d="M297.3 661.3V667.6" class="ax"/>
<path d="M329.2 661.3V667.6" class="ax"/>
<path d="M361.1 661.3V667.6" class="ax"/>
<path d="M393 661.3V667.6" class="ax"/>
<path d="M424.9 661.3V667.6" class="ax"/>
<path d="M456.9 661.3V667.6" class="ax"/>
<path d="M488.8 661.3V667.6" class="ax"/>
<path d="M520.7 661.3V667.6" class="ax"/>
<path d="M552.6 661.3V667.6" class="ax"/>
<path d="M584.5 661.3V667.6" class="ax"/>
<path d="M616.4 661.3V667.6" class="ax"/>
<path d="M648.3 661.3V667.6" class="ax"/>
<path d="M680.3 661.3V667.6" class="ax"/>
<path d="M712.2 661.3V667.6" class="ax"/>
<path d="M744.1 661.3V667.6" class="ax"/>
<path d="M776 661.3V667.6" class="ax"/>
<path d="M807.9 661.3V667.6" class="ax"/>
<path d="M839.8 661.3V667.6" class="ax"/>
<path d="M871.7 661.3V667.6" class="ax"/>
<path d="M903.6 661.3V667.6" class="ax"/>
<path d="M935.6 661.3V667.6" class="ax"/>
<path d="M967.5 661.3V667.6" class="ax"/>
<path d="M999.4 661.3V667.6" class="ax"/>
<path d="M1031.3 661.3V667.6" class="ax"/>
<text x="553.7" y="505" class="tt" text-anchor="middle">Sox9</text>
</g>
<g>
<path d="M59.5 858H87.5" class="zl"/>
<path class="d" d="M62.2 858h0M63.4 858h0M64.4 858h0M65.8 858h0M67.7 858h0M69.1 858h0M69.8 858h0M71.5 858h0M72.5 858h0M74.3 858h0M75.7 858h0M77.1 858h0M78 858h0M79.7 858h0M80.6 858h0M82.6 858h0M84 858h0M84.9 858h0"/>
<path d="M91.4 858H119.4" class="zl"/>
<path class="d" d="M94.8 858h0M96.1 858h0M97.9 858h0M99.2 858h0M99.9 858h0M101.6 858h0M103.2 858h0M104 858h0M105.8 858h0M106.9 858h0M107.9 858h0M109.9 858h0M110.6 858h0M112.1 858h0M113.2 858h0M114.6 858h0"/>
<path d="M123.4 858H151.4" class="zl"/>
<path class="d" d="M131.1 858h0M132.3 858h0M133.7 858h0M134.7 858h0M136.2 858h0M137.9 858h0M138.9 858h0M140.4 858h0M142 858h0M143 858h0M145 858h0M146 858h0M147.3 858h0M149 858h0"/>
<path d="M155.3 858H183.3" class="zl"/>
<path class="d" d="M167.4 858h0M169 858h0M171 858h0M171.8 858h0M173.5 858h0M175.2 858h0M176.1 858h0M178 858h0M179.3 858h0M181.1 858h0"/>
<path d="M187.2 858H215.2" class="zl"/>
<path class="d" d="M199.2 858h0M203.2 858h0M206.2 858h0M209.2 858h0M211.5 858h0"/>
<path d="M219.1 858H247.1" class="zl"/>
<path class="d" d="M222 858h0M223.1 858h0M224.7 858h0M225.8 858h0M227.3 858h0M228.6 858h0M229.9 858h0M230.9 858h0M232.9 858h0M234.2 858h0M235.2 858h0M236.8 858h0M238.3 858h0M239.2 858h0M240.6 858h0M242.3 858h0M243.7 858h0"/>
<path d="M251.1 858H279.1" class="zl"/>
<path class="d" d="M254.9 858h0M255.8 858h0M257.6 858h0M258.5 858h0M260.5 858h0M261.5 858h0M263.2 858h0M264.3 858h0M265.9 858h0M267.5 858h0M268.7 858h0M269.8 858h0M271.7 858h0M273.1 858h0M273.9 858h0M275.9 858h0M270.1 855.8h0M272.1 853.8h0"/>
<path d="M283 858H311" class="zl"/>
<path class="d" d="M286.7 858h0M287.8 858h0M289.2 858h0M290.8 858h0M291.9 858h0M293.6 858h0M294.9 858h0M295.7 858h0M297.5 858h0M298.7 858h0M300.3 858h0M301.4 858h0M303.1 858h0M304.8 858h0M305.6 858h0M307.5 858h0M308.2 858h0"/>
<path d="M314.9 858H342.9" class="zl"/>
<path class="d" d="M317.5 858h0M318.4 858h0M320.3 858h0M321.3 858h0M322.6 858h0M323.9 858h0M325.3 858h0M326.8 858h0M327.8 858h0M329.3 858h0M331.1 858h0M332.7 858h0M333.8 858h0M335.1 858h0M336.7 858h0M338 858h0M339 858h0M340.6 858h0"/>
<path d="M346.8 858H374.8" class="zl"/>
<path class="d" d="M348.9 858h0M350.4 858h0M351.9 858h0M353.7 858h0M354.7 858h0M356.5 858h0M357.9 858h0M359.2 858h0M360 858h0M362 858h0M363.1 858h0M364.5 858h0M365.9 858h0M367 858h0M368.2 858h0M369.8 858h0M371.6 858h0"/>
<path d="M378.8 858H406.8" class="zl"/>
<path d="M392.8 858V778.6M391.3 778.6H394.3" class="vl"/>
<path class="d" d="M380.9 858h0M382.4 858h0M383.9 858h0M385.9 858h0M386.8 858h0M388.2 858h0M389.5 858h0M391 858h0M392.8 858h0M393.8 858h0M395.3 858h0M396.9 858h0M398.6 858h0M399.7 858h0M401 858h0M402.5 858h0M404.2 858h0M401.9 778.9h0M404.3 806.7h0M400 813.6h0M382.9 836.9h0M385.9 836.9h0M387.8 837.5h0M382.9 849.1h0M404.3 845h0"/>
<path d="M410.7 858H438.7" class="zl"/>
<path class="d" d="M413.7 858h0M416.8 858h0M419.9 858h0M423.6 858h0M427.5 858h0M431.7 858h0"/>
<path d="M442.1 858L442.5 856L443.1 853.9L443.9 851.9L445 849.8L446 847.8L447.1 845.7L448.1 843.7L449 841.6L449.8 839.6L450.4 837.5L450.8 835.5L451.1 833.4L451.4 831.4L451.6 829.3L451.8 827.3L452 825.2L452.2 823.2L452.4 821.1L452.5 819.1L452.7 817L452.9 815L453.1 812.9L453.2 810.9L453.4 808.8L453.6 806.8L453.7 804.7L453.9 802.7L454 800.6L454.1 798.6L454.3 796.5L454.4 794.5L454.5 792.4L454.6 790.4L454.6 788.3L454.7 786.3L454.8 784.2L454.9 782.2L455 780.1L455 778.1L455.1 776L455.1 774L455.2 772L455.2 769.9L455.3 767.9L455.3 765.8L455.4 763.8L455.4 761.7L457.8 761.7L457.9 763.8L457.9 765.8L457.9 767.9L458 769.9L458 772L458.1 774L458.2 776L458.2 778.1L458.3 780.1L458.4 782.2L458.4 784.2L458.5 786.3L458.6 788.3L458.7 790.4L458.8 792.4L458.9 794.5L459 796.5L459.1 798.6L459.2 800.6L459.4 802.7L459.5 804.7L459.7 806.8L459.8 808.8L460 810.9L460.2 812.9L460.4 815L460.5 817L460.7 819.1L460.9 821.1L461.1 823.2L461.2 825.2L461.4 827.3L461.6 829.3L461.9 831.4L462.2 833.4L462.5 835.5L462.9 837.5L463.5 839.6L464.2 841.6L465.1 843.7L466.2 845.7L467.2 847.8L468.2 849.8L469.3 851.9L470.1 853.9L470.7 856L471.1 858Z" fill="#1c9c92" class="v"/>
<path class="d" d="M450.8 843.3h0M465 851.5h0M450.5 824h0M449.2 836.3h0M445.7 846.8h0M448.1 847.6h0M448 828.5h0M461.3 808.2h0M448.8 826.5h0M465 830.1h0M468.9 816.6h0M449.5 841.5h0M450.3 839.6h0M458.9 834h0M465.1 819.6h0M462.3 838h0M461 844.9h0M444.4 804.2h0M459.3 845.5h0M455.4 849.7h0M466.1 814.8h0M463.8 800.1h0M464.8 850.4h0M454.9 799.6h0M455.4 852.8h0M444 858h0M447.4 858h0M451.6 858h0M455.4 858h0M458.1 858h0M462.4 858h0M465.3 858h0M468 858h0M447.1 770.9h0M468.4 761.7h0M466 793.3h0M465.3 805.6h0M444.6 824.7h0M465.6 810.3h0"/>
<path d="M474.5 858H502.5" class="zl"/>
<path class="d" d="M476.7 858h0M478.3 858h0M479.6 858h0M481.4 858h0M483.2 858h0M484.5 858h0M485.8 858h0M487 858h0M488.2 858h0M490 858h0M491.2 858h0M493.1 858h0M494.3 858h0M495.9 858h0M497.3 858h0M498.3 858h0M500 858h0M480.8 852.5h0M485.5 855.8h0M490.5 856.3h0M494.5 855.8h0"/>
<path d="M506.5 858H534.5" class="zl"/>
<path class="d" d="M509.3 858h0M510.6 858h0M512.1 858h0M513.4 858h0M514.6 858h0M516.3 858h0M517.4 858h0M519.4 858h0M520.2 858h0M522.2 858h0M523.7 858h0M525.1 858h0M526.1 858h0M527.5 858h0M529.3 858h0M530.4 858h0M532.3 858h0M516.5 856.6h0M524.5 856.3h0"/>
<path d="M538.4 858H566.4" class="zl"/>
<path class="d" d="M542 858h0M543 858h0M545 858h0M546.3 858h0M547.6 858h0M548.9 858h0M550.5 858h0M551.2 858h0M552.8 858h0M554.6 858h0M555.9 858h0M556.9 858h0M558 858h0M559.6 858h0M561.3 858h0M562.7 858h0M564.1 858h0M546.4 856.3h0M555.4 856.6h0"/>
<path d="M570.3 858H598.3" class="zl"/>
<path d="M584.3 858V756.2M582.8 756.2H585.8" class="vl"/>
<path class="d" d="M572.6 858h0M574.6 858h0M576 858h0M576.9 858h0M578.3 858h0M580.1 858h0M581.7 858h0M582.9 858h0M584.2 858h0M585.5 858h0M587.2 858h0M588.8 858h0M589.7 858h0M591.6 858h0M592.7 858h0M594.4 858h0M596 858h0M595.1 756.2h0M596.3 783.6h0M579.8 788.6h0M584.7 807.8h0M581.6 808.9h0M586.5 809.4h0M593.8 810h0M580.4 821.1h0M585.9 822.2h0M572.4 825.3h0M571.3 827.2h0M573 833.3h0M589 835.2h0M584.7 837.5h0M579.8 843.3h0M595.7 848.3h0"/>
<path d="M602.3 858H630.3" class="zl"/>
<path class="d" d="M605.9 858h0M607.7 858h0M609.6 858h0M611.1 858h0M612.4 858h0M613.6 858h0M615.1 858h0M616.7 858h0M618.8 858h0M620.1 858h0M621.7 858h0M623.3 858h0M624.5 858h0M626.2 858h0M611.3 856.3h0M619.3 855.8h0M625.3 856.3h0"/>
<path d="M634.2 859.1H662.2" class="zl"/>
<path class="d" d="M641.3 859.1h0M642.9 859.1h0M644.9 859.1h0M646.1 859.1h0M647.7 859.1h0M650.2 859.1h0M651.2 859.1h0M652.9 859.1h0M655.4 859.1h0M656.7 859.1h0M658.1 859.1h0M660.2 859.1h0M651.2 862.2h0M657.2 860.8h0"/>
<path d="M667.1 865.2L666.2 863.2L665.6 861.2L665.6 859.3L665.8 857.3L666.1 855.3L666.4 853.3L667 851.3L668.1 849.3L669.5 847.4L670.7 845.4L671.5 843.4L672.3 841.4L672.8 839.4L673.3 837.4L673.8 835.5L674.1 833.5L674.4 831.5L674.7 829.5L674.9 827.5L675 825.5L675.1 823.6L675.2 821.6L675.3 819.6L675.3 817.6L675.3 815.6L675.4 813.6L675.4 811.7L675.5 809.7L675.5 807.7L675.6 805.7L675.8 803.7L676 801.7L676.3 799.7L676.6 797.8L677 795.8L677.3 793.8L677.6 791.8L677.8 789.8L678.1 787.8L678.4 785.9L678.6 783.9L678.8 781.9L678.9 779.9L679 777.9L679.1 775.9L679.1 774L679.1 772L681.1 772L681.1 774L681.2 775.9L681.2 777.9L681.3 779.9L681.4 781.9L681.6 783.9L681.8 785.9L682.1 787.8L682.4 789.8L682.7 791.8L682.9 793.8L683.3 795.8L683.6 797.8L683.9 799.7L684.2 801.7L684.4 803.7L684.6 805.7L684.7 807.7L684.7 809.7L684.8 811.7L684.8 813.6L684.9 815.6L684.9 817.6L684.9 819.6L685 821.6L685.1 823.6L685.2 825.5L685.3 827.5L685.5 829.5L685.8 831.5L686.1 833.5L686.5 835.5L686.9 837.4L687.4 839.4L688 841.4L688.7 843.4L689.5 845.4L690.7 847.4L692.1 849.3L693.2 851.3L693.8 853.3L694.1 855.3L694.4 857.3L694.6 859.3L694.6 861.2L694 863.2L693.1 865.2Z" fill="#18b998" class="v"/>
<path class="d" d="M684.8 859h0M684.9 854.5h0M683.1 841.4h0M671.3 856.4h0M682.6 860.9h0M684.8 821.6h0M691 842.6h0M690.2 814.9h0M669.5 857.3h0M668.6 862.8h0M688.4 826.5h0M686.3 830.1h0M671.7 858.6h0M686.8 811h0M681.3 850.4h0M674.7 846.8h0M688.8 852.3h0M690.5 834.3h0M672.5 847.2h0M674.5 864.7h0M682.8 853.9h0M681.2 837h0M667.9 807.8h0M668.5 836.9h0M689.3 808.9h0M689.3 815.8h0M683.8 803.6h0M678.9 772h0M672.1 863.5h0M676.1 864.1h0M680.1 863.5h0"/>
<path class="d" d="M708.3 813.9h0M723.6 854.9h0"/>
<path d="M730 856.6H758" class="zl"/>
<path class="d" d="M733.6 856.6h0M735.6 856.6h0M737.3 856.6h0M738.6 856.6h0M740.6 856.6h0M742.1 856.6h0M743.3 856.6h0M745.3 856.6h0M746.5 856.6h0M748.5 856.6h0M749.4 856.6h0M750.9 856.6h0M753 856.6h0M754.5 856.6h0M755.7 856.6h0M749 855.2h0"/>
<path d="M761.9 861.6L761.7 860.1L761.5 858.7L761.4 857.2L761.4 855.7L761.4 854.2L761.5 852.8L761.7 851.3L762 849.8L762.3 848.3L762.7 846.8L763.1 845.4L763.6 843.9L764 842.4L764.5 840.9L765.1 839.5L765.8 838L766.5 836.5L767.3 835L768 833.6L768.7 832.1L769.3 830.6L769.8 829.1L770.3 827.7L770.7 826.2L771.2 824.7L771.6 823.2L772 821.8L772.2 820.3L772.4 818.8L772.6 817.3L772.7 815.8L772.8 814.4L772.9 812.9L772.9 811.4L772.8 809.9L772.5 808.5L772.2 807L771.9 805.5L771.6 804L771.4 802.6L771.3 801.1L771.1 799.6L771 798.1L770.9 796.7L770.8 795.2L770.7 793.7L770.7 792.2L781.1 792.2L781 793.7L781 795.2L780.9 796.7L780.8 798.1L780.7 799.6L780.5 801.1L780.4 802.6L780.2 804L779.9 805.5L779.5 807L779.2 808.5L779 809.9L778.9 811.4L778.9 812.9L779 814.4L779.1 815.8L779.2 817.3L779.4 818.8L779.5 820.3L779.8 821.8L780.2 823.2L780.6 824.7L781 826.2L781.5 827.7L782 829.1L782.5 830.6L783.1 832.1L783.8 833.6L784.5 835L785.2 836.5L786 838L786.7 839.5L787.3 840.9L787.8 842.4L788.2 843.9L788.6 845.4L789.1 846.8L789.4 848.3L789.8 849.8L790.1 851.3L790.3 852.8L790.4 854.2L790.4 855.7L790.3 857.2L790.3 858.7L790.1 860.1L789.9 861.6Z" fill="#25bc99" class="v"/>
<path class="d" d="M777.9 792.2h0M780.9 792.8h0M783.9 793.3h0M768.9 834.7h0M779.3 849.4h0M767.9 859.4h0M775.9 859.4h0M780.9 860.2h0"/>
<path d="M793.8 858H821.8" class="zl"/>
<path d="M807.8 858V811.9M806.3 811.9H809.3" class="vl"/>
<path class="d" d="M796.4 858h0M797.7 858h0M799.5 858h0M800.8 858h0M801.9 858h0M803.6 858h0M805.3 858h0M806.7 858h0M808.1 858h0M809.1 858h0M810.3 858h0M812 858h0M813.5 858h0M815.3 858h0M816.6 858h0M817.8 858h0M818.9 858h0M800.3 812.5h0M809.9 839.1h0"/>
<path d="M826.2 859.9L826.1 857.2L826 854.5L825.9 851.8L825.8 849.1L825.6 846.4L825.5 843.6L825.3 840.9L825.3 838.2L825.3 835.5L826.5 832.8L827.8 830.1L828.9 827.4L830 824.6L831 821.9L831.9 819.2L832.6 816.5L833.3 813.8L833.9 811.1L834.4 808.3L835 805.6L835.4 802.9L835.9 800.2L836.2 797.5L836.6 794.8L836.9 792L837.2 789.3L837.4 786.6L837.7 783.9L838 781.2L838.2 778.5L838.3 775.7L838.5 773L838.5 770.3L838.5 767.6L838.5 764.9L838.5 762.2L838.5 759.5L838.5 756.7L838.5 754L838.5 751.3L838.5 748.6L838.5 745.9L838.4 743.2L838.4 740.4L838.4 737.7L838.3 735L838.2 732.3L841.2 732.3L841.2 735L841.1 737.7L841.1 740.4L841 743.2L841 745.9L841 748.6L841 751.3L841 754L841 756.7L840.9 759.5L840.9 762.2L840.9 764.9L840.9 767.6L840.9 770.3L841 773L841.1 775.7L841.3 778.5L841.5 781.2L841.8 783.9L842 786.6L842.3 789.3L842.6 792L842.9 794.8L843.2 797.5L843.6 800.2L844 802.9L844.5 805.6L845 808.3L845.6 811.1L846.2 813.8L846.9 816.5L847.6 819.2L848.4 821.9L849.5 824.6L850.6 827.4L851.7 830.1L853 832.8L854.1 835.5L854.2 838.2L854.1 840.9L854 843.6L853.9 846.4L853.7 849.1L853.6 851.8L853.5 854.5L853.4 857.2L853.2 859.9Z" fill="#3fc4a0" class="v"/>
<path class="d" d="M841.5 798.8h0M849.9 821.7h0M830.2 812h0M839.4 833.1h0M840.2 847.5h0M832.2 849.4h0M849.8 837.7h0M848.9 832.2h0M836.2 829.9h0M845.2 851.1h0M843.9 819.3h0M848.8 795.3h0M850.8 835.2h0M829 815.3h0M839.3 840.3h0M833.4 846.6h0M827.4 858h0M834.2 858h0M839.1 858h0M845.9 858h0M851.1 858h0M851.4 732.8h0M836.2 772h0"/>
<path d="M861.7 861.3L859.5 859.4L858 857.5L857.5 855.6L857.2 853.6L857.2 851.7L858 849.8L859.4 847.9L861.1 845.9L862.7 844L863.9 842.1L864.8 840.2L865.7 838.2L866.6 836.3L867.3 834.4L868 832.5L868.6 830.5L869.1 828.6L869.6 826.7L870.1 824.8L870.6 822.8L870.9 820.9L871 819L871.1 817.1L870.9 815.1L870.8 813.2L870.5 811.3L870.3 809.4L870.1 807.4L869.8 805.5L869.5 803.6L869.3 801.7L869.2 799.7L869.2 797.8L869.2 795.9L869.2 794L869.2 792L869.3 790.1L869.6 788.2L870 786.3L870.4 784.3L870.5 782.4L870.5 780.5L870.5 778.6L870.5 776.6L870.5 774.7L870.5 772.8L870.5 770.9L872.9 770.9L872.9 772.8L872.9 774.7L872.9 776.6L872.9 778.6L872.9 780.5L872.9 782.4L872.9 784.3L873.3 786.3L873.7 788.2L874.1 790.1L874.2 792L874.2 794L874.2 795.9L874.2 797.8L874.2 799.7L874.1 801.7L873.8 803.6L873.5 805.5L873.2 807.4L873 809.4L872.8 811.3L872.6 813.2L872.4 815.1L872.3 817.1L872.3 819L872.5 820.9L872.8 822.8L873.2 824.8L873.7 826.7L874.2 828.6L874.7 830.5L875.3 832.5L876 834.4L876.8 836.3L877.6 838.2L878.5 840.2L879.5 842.1L880.6 844L882.2 845.9L883.9 847.9L885.3 849.8L886.1 851.7L886.1 853.6L885.9 855.6L885.4 857.5L883.9 859.4L881.7 861.3Z" fill="#5bc9a6" class="v"/>
<path class="d" d="M879.9 855.3h0M873.8 861.3h0M865.1 842.2h0M868.3 830.2h0M860.3 853.9h0M875.8 792.9h0M881.4 845.1h0M879.4 848.2h0M871.1 770.7h0M864.9 808.6h0M859.6 860h0M874.4 849.1h0M875.1 796.2h0M871 842.3h0M863.8 857.1h0M874.9 833.8h0M868.8 829.2h0M862 852h0M879.3 850.4h0M861.5 838.3h0M868.1 857.1h0M868.6 845.8h0M879.7 817.1h0M874.8 853.8h0M879.8 860.2h0M865.7 782.5h0M872 856h0M879.9 861.8h0M883 854.4h0M879.6 844.4h0M881.2 852.1h0M872.9 801.1h0M869.2 838.7h0M880.7 847.2h0M859.7 770.9h0M879.7 775h0"/>
<path d="M889.6 855.8H917.6" class="zl"/>
<path d="M903.6 855.8V776.4M902.1 776.4H905.1" class="vl"/>
<path class="d" d="M892.2 855.8h0M894 855.8h0M895 855.8h0M896.6 855.8h0M898.1 855.8h0M899.9 855.8h0M901.2 855.8h0M903.1 855.8h0M904 855.8h0M906.2 855.8h0M907.8 855.8h0M908.7 855.8h0M910.7 855.8h0M912 855.8h0M913.3 855.8h0M914.8 855.8h0M915.2 776.4h0M914 833.6h0M903.6 833.6h0M891.4 844.4h0M903.6 843.8h0M908.5 843.8h0M898.6 852.5h0M900.6 851.1h0M905.6 852.5h0M909.6 853.8h0M912.6 854.7h0"/>
<path d="M921.5 858H949.5" class="zl"/>
<path class="d" d="M923.5 858h0M930.5 858h0M946.5 858h0"/>
<path d="M953.4 858H981.4" class="zl"/>
<path class="d" d="M956.3 858h0M958.2 858h0M959.4 858h0M961 858h0M963.1 858h0M964.7 858h0M966.5 858h0M967.5 858h0M969.1 858h0M970.8 858h0M972.9 858h0M973.9 858h0M975.7 858h0M977.6 858h0M964.4 856.6h0M972.4 856.3h0"/>
<path d="M998.4 866.3L995.7 864.6L993.2 863L991 861.3L988.9 859.6L986.7 857.9L985.2 856.2L984.9 854.5L985.3 852.9L985.9 851.2L986.7 849.5L987.7 847.8L989.4 846.1L991.5 844.4L993.3 842.8L994.7 841.1L996.1 839.4L997.1 837.7L997.8 836L998.2 834.4L998.4 832.7L998.6 831L998.6 829.3L998.6 827.6L998.6 825.9L998.6 824.3L998.7 822.6L998.7 820.9L998.7 819.2L998.7 817.5L998.7 815.8L998.7 814.2L998.7 812.5L998.7 810.8L998.7 809.1L998.7 807.4L998.7 805.7L998.8 804.1L998.8 802.4L998.8 800.7L998.8 799L998.8 797.3L998.8 795.7L998.8 794L998.8 792.3L998.8 790.6L998.8 788.9L998.8 787.2L1000 787.2L1000 788.9L1000 790.6L1000 792.3L1000 794L1000 795.7L1000 797.3L1000 799L1000 800.7L1000 802.4L1000 804.1L1000 805.7L1000 807.4L1000 809.1L1000 810.8L1000 812.5L1000 814.2L1000 815.8L1000.1 817.5L1000.1 819.2L1000.1 820.9L1000.1 822.6L1000.1 824.3L1000.1 825.9L1000.1 827.6L1000.2 829.3L1000.2 831L1000.3 832.7L1000.6 834.4L1000.9 836L1001.6 837.7L1002.7 839.4L1004 841.1L1005.4 842.8L1007.2 844.4L1009.3 846.1L1011.1 847.8L1012 849.5L1012.9 851.2L1013.5 852.9L1013.8 854.5L1013.6 856.2L1012 857.9L1009.9 859.6L1007.8 861.3L1005.6 863L1003.1 864.6L1000.4 866.3Z" fill="#c6e5b4" class="v"/>
<path class="d" d="M986.9 846.1h0M993.8 850.7h0M1011.4 848.1h0M996.8 854.3h0M988.1 845.2h0M987.4 847h0M989.9 847.7h0M1006.4 842h0M1009.5 855.7h0M989 853.2h0M1011.7 857h0M987 851.1h0M993 853.8h0M1008.2 846.5h0M995.8 853.8h0M990.5 858.7h0M992 855.7h0M1002.9 853.1h0M997.2 842.2h0M1005.8 840.4h0M1011.6 843.8h0M988.9 862.1h0M1004.2 857.8h0M1001.5 846h0M1008.3 859.8h0M1010.1 857.2h0M1006.8 856.2h0M1005.4 853.2h0M995.6 850.8h0M990.6 856.7h0M987.6 857.9h0M993.3 860.2h0M988.8 849.4h0M1011 853.4h0M988.5 859.8h0M997.1 853.8h0M989.5 861.9h0M1003 865.1h0M1011 852.7h0M1004.4 845.3h0M1002.5 842h0M1008 857.1h0M996.9 859.4h0M1000.3 865.4h0M1000.3 844.4h0M1004 853.4h0M996.2 854.6h0M994.4 848.8h0M1000.8 860.8h0M1002.4 863.1h0M991.7 841.4h0M1004.3 856.1h0M1004.1 838.6h0M1002.9 849.1h0M1002.5 851.3h0M993.5 850.1h0M1001.6 851.6h0M1008.9 849.6h0M989 847.9h0M1000.3 863h0M991.8 787.8h0M997.8 790h0M1005.2 799.4h0M1004.6 802.5h0M1002.7 812.8h0M1005.2 818h0M1011.9 822.2h0M1000.9 827.8h0M1008.2 827.8h0M1011.9 828.9h0M1006.9 834.7h0M996.6 866.3h0M989.4 844.1h0M994.4 842.7h0"/>
<path d="M1027.3 866.9L1025.4 865.1L1023.6 863.3L1021.9 861.5L1020.4 859.7L1018.8 857.9L1017.6 856.1L1017.2 854.4L1016.9 852.6L1016.8 850.8L1016.9 849L1017.3 847.2L1018 845.4L1018.8 843.6L1019.6 841.8L1020.5 840L1021.6 838.3L1022.8 836.5L1023.9 834.7L1025 832.9L1025.9 831.1L1026.7 829.3L1027.4 827.5L1028.1 825.7L1028.7 823.9L1029.2 822.2L1029.6 820.4L1029.8 818.6L1029.8 816.8L1029.7 815L1029.7 813.2L1029.6 811.4L1029.5 809.6L1029.4 807.8L1029.3 806.1L1029.2 804.3L1029.1 802.5L1029.1 800.7L1029.1 798.9L1029.2 797.1L1029.4 795.3L1029.6 793.5L1029.8 791.7L1029.9 790L1030 788.2L1030 786.4L1030.1 784.6L1030.1 782.8L1032.5 782.8L1032.5 784.6L1032.6 786.4L1032.6 788.2L1032.7 790L1032.8 791.7L1033 793.5L1033.2 795.3L1033.4 797.1L1033.5 798.9L1033.5 800.7L1033.5 802.5L1033.4 804.3L1033.3 806.1L1033.2 807.8L1033.1 809.6L1033 811.4L1032.9 813.2L1032.9 815L1032.8 816.8L1032.8 818.6L1033 820.4L1033.4 822.2L1033.9 823.9L1034.5 825.7L1035.2 827.5L1035.9 829.3L1036.7 831.1L1037.6 832.9L1038.7 834.7L1039.8 836.5L1041 838.3L1042.1 840L1043 841.8L1043.8 843.6L1044.6 845.4L1045.3 847.2L1045.7 849L1045.8 850.8L1045.7 852.6L1045.4 854.4L1045 856.1L1043.8 857.9L1042.2 859.7L1040.7 861.5L1039 863.3L1037.2 865.1L1035.3 866.9Z" fill="#edf4b8" class="v"/>
<path class="d" d="M1035.8 840.7h0M1026.4 846.9h0M1041.7 827.3h0M1043.7 830.3h0M1025 858.7h0M1041.1 860.4h0M1019.9 831.3h0M1034.6 837h0M1031.3 834.2h0M1040.1 849.8h0M1028.4 846.9h0M1040 842.9h0M1030 867h0M1031.8 836.8h0M1035.3 850.3h0M1041.5 862.7h0M1036.2 845.4h0M1037.1 851.9h0M1034.7 860h0M1023.6 859.9h0M1023.6 843.5h0M1029.9 853.8h0M1024.4 845.6h0M1040.1 851.5h0M1031.4 838.1h0M1027.1 841.9h0M1037.6 833.7h0M1043 855.5h0M1020.1 854.9h0M1022.5 857.6h0M1023.8 864.5h0M1036.5 854.8h0M1040.6 837.7h0M1031.3 827.4h0M1022.8 856h0M1025.5 852h0M1023.9 849.6h0M1042.2 863.9h0M1038.2 843.4h0M1039 849.2h0M1028.7 843.4h0M1036.7 852.2h0M1042.4 848.3h0M1038.6 862h0M1027.5 839.8h0M1020.3 787h0M1043.7 782.8h0M1041.3 800.6h0M1025.3 799.7h0M1033.3 802.5h0M1034.3 805.3h0M1028.3 866.3h0M1034.3 866.3h0M1039.3 866.3h0"/>
<path d="M54.5 725.9V874.3H1051.6" class="ax"/>
<path d="M48.2 858H54.5" class="ax"/>
<text x="44.2" y="865.7" class="tl" text-anchor="end">0</text>
<path d="M48.2 830.2H54.5" class="ax"/>
<text x="44.2" y="838" class="tl" text-anchor="end">1</text>
<path d="M48.2 802.5H54.5" class="ax"/>
<text x="44.2" y="810.2" class="tl" text-anchor="end">2</text>
<path d="M48.2 774.8H54.5" class="ax"/>
<text x="44.2" y="782.5" class="tl" text-anchor="end">3</text>
<path d="M48.2 747H54.5" class="ax"/>
<text x="44.2" y="754.7" class="tl" text-anchor="end">4</text>
<path d="M73.5 874.3V880.6" class="ax"/>
<path d="M105.4 874.3V880.6" class="ax"/>
<path d="M137.4 874.3V880.6" class="ax"/>
<path d="M169.3 874.3V880.6" class="ax"/>
<path d="M201.2 874.3V880.6" class="ax"/>
<path d="M233.1 874.3V880.6" class="ax"/>
<path d="M265.1 874.3V880.6" class="ax"/>
<path d="M297 874.3V880.6" class="ax"/>
<path d="M328.9 874.3V880.6" class="ax"/>
<path d="M360.8 874.3V880.6" class="ax"/>
<path d="M392.8 874.3V880.6" class="ax"/>
<path d="M424.7 874.3V880.6" class="ax"/>
<path d="M456.6 874.3V880.6" class="ax"/>
<path d="M488.5 874.3V880.6" class="ax"/>
<path d="M520.5 874.3V880.6" class="ax"/>
<path d="M552.4 874.3V880.6" class="ax"/>
<path d="M584.3 874.3V880.6" class="ax"/>
<path d="M616.3 874.3V880.6" class="ax"/>
<path d="M648.2 874.3V880.6" class="ax"/>
<path d="M680.1 874.3V880.6" class="ax"/>
<path d="M712 874.3V880.6" class="ax"/>
<path d="M744 874.3V880.6" class="ax"/>
<path d="M775.9 874.3V880.6" class="ax"/>
<path d="M807.8 874.3V880.6" class="ax"/>
<path d="M839.7 874.3V880.6" class="ax"/>
<path d="M871.7 874.3V880.6" class="ax"/>
<path d="M903.6 874.3V880.6" class="ax"/>
<path d="M935.5 874.3V880.6" class="ax"/>
<path d="M967.4 874.3V880.6" class="ax"/>
<path d="M999.4 874.3V880.6" class="ax"/>
<path d="M1031.3 874.3V880.6" class="ax"/>
<text x="554.2" y="706.9" class="tt" text-anchor="middle">Olfm4</text>
</g>
<g>
<path d="M60.5 1063.2L59.9 1061.4L59.5 1059.7L59.2 1057.9L59 1056.1L59 1054.4L59.2 1052.6L59.7 1050.8L60.2 1049.1L60.8 1047.3L61.4 1045.6L62 1043.8L62.6 1042L63.2 1040.3L63.8 1038.5L64.4 1036.7L65 1035L65.5 1033.2L65.8 1031.4L66.2 1029.7L66.5 1027.9L66.9 1026.1L67.2 1024.4L67.4 1022.6L67.7 1020.8L68 1019.1L68.2 1017.3L68.5 1015.6L68.7 1013.8L69 1012L69.2 1010.3L69.5 1008.5L69.8 1006.7L70.1 1005L70.4 1003.2L70.8 1001.4L71 999.7L71.2 997.9L71.3 996.1L71.3 994.4L71.3 992.6L71.4 990.8L71.4 989.1L71.4 987.3L71.4 985.6L71.4 983.8L71.4 982L71.4 980.3L75.6 980.3L75.6 982L75.6 983.8L75.6 985.6L75.6 987.3L75.6 989.1L75.6 990.8L75.7 992.6L75.7 994.4L75.7 996.1L75.8 997.9L76 999.7L76.2 1001.4L76.6 1003.2L76.9 1005L77.2 1006.7L77.5 1008.5L77.8 1010.3L78 1012L78.3 1013.8L78.5 1015.6L78.8 1017.3L79 1019.1L79.3 1020.8L79.6 1022.6L79.8 1024.4L80.1 1026.1L80.5 1027.9L80.8 1029.7L81.2 1031.4L81.5 1033.2L82 1035L82.6 1036.7L83.2 1038.5L83.8 1040.3L84.4 1042L85 1043.8L85.6 1045.6L86.2 1047.3L86.8 1049.1L87.3 1050.8L87.8 1052.6L88 1054.4L88 1056.1L87.8 1057.9L87.5 1059.7L87.1 1061.4L86.5 1063.2Z" fill="#1c6f96" class="v"/>
<path class="d" d="M77.9 1017.7h0M79.7 1032.6h0M79.8 1052.2h0M80 1030.1h0M71.5 1046.5h0M67 1054.7h0M73.1 1058.7h0M79.2 1038.4h0M63.8 1041.7h0M67.7 1022.4h0M83.5 1049h0M69 1043.4h0M61.7 1063.2h0M66.9 1063.2h0M73.9 1063.2h0M79.5 1063.2h0M85.5 1063.2h0M65.9 980.3h0M83.5 1018.2h0"/>
<path d="M93.9 1063.2L93.1 1061.4L92.4 1059.7L91.8 1057.9L91.4 1056.1L91.1 1054.4L91 1052.6L90.9 1050.8L91.1 1049.1L91.5 1047.3L92 1045.6L92.7 1043.8L93.3 1042L94 1040.3L94.6 1038.5L95.3 1036.7L96 1035L96.8 1033.2L97.6 1031.4L98.4 1029.7L99.1 1027.9L99.9 1026.1L100.5 1024.4L101 1022.6L101.4 1020.8L101.7 1019.1L102 1017.3L102.3 1015.6L102.6 1013.8L102.7 1012L102.9 1010.3L102.9 1008.5L102.9 1006.7L102.8 1005L102.7 1003.2L102.6 1001.4L102.4 999.7L102.2 997.9L102 996.1L101.7 994.4L101.3 992.6L100.8 990.8L100.5 989.1L100.4 987.3L100.3 985.6L100.3 983.8L100.2 982L100.2 980.3L110.6 980.3L110.6 982L110.6 983.8L110.5 985.6L110.5 987.3L110.4 989.1L110 990.8L109.6 992.6L109.1 994.4L108.9 996.1L108.7 997.9L108.5 999.7L108.3 1001.4L108.1 1003.2L108 1005L107.9 1006.7L107.9 1008.5L108 1010.3L108.1 1012L108.3 1013.8L108.5 1015.6L108.8 1017.3L109.1 1019.1L109.4 1020.8L109.8 1022.6L110.4 1024.4L111 1026.1L111.7 1027.9L112.5 1029.7L113.3 1031.4L114.1 1033.2L114.9 1035L115.6 1036.7L116.3 1038.5L116.9 1040.3L117.5 1042L118.2 1043.8L118.8 1045.6L119.4 1047.3L119.7 1049.1L119.9 1050.8L119.9 1052.6L119.7 1054.4L119.4 1056.1L119 1057.9L118.5 1059.7L117.8 1061.4L116.9 1063.2Z" fill="#1c7295" class="v"/>
<path class="d" d="M110.6 1031.1h0M117.5 1057.5h0M94.2 1019.8h0M93.6 1037.8h0M94.7 1051.6h0M104.5 1048.8h0M98.5 1035.4h0M113.6 1043.2h0M117.8 1053.9h0M100.9 1044.4h0M92.7 1063.2h0M99.7 1063.2h0M106.2 1063.2h0M111.7 1063.2h0M118.1 1063.2h0M107.4 980.3h0M108.9 981.3h0M109.4 983.9h0M110.4 982.6h0M115.4 986.5h0M98.9 996.9h0M99.4 1019h0"/>
<path d="M123.4 1063.2H151.4" class="zl"/>
<path class="d" d="M129.9 1063.2h0M131.8 1063.2h0M133.6 1063.2h0M135.4 1063.2h0M136.9 1063.2h0M138.8 1063.2h0M139.8 1063.2h0M142.3 1063.2h0M144 1063.2h0M145.8 1063.2h0M147.2 1063.2h0M148.9 1063.2h0"/>
<path d="M155.3 1062.7H183.3" class="zl"/>
<path class="d" d="M167.8 1062.7h0M169.2 1062.7h0M171.4 1062.7h0M172.4 1062.7h0M174.7 1062.7h0M175.7 1062.7h0M177.2 1062.7h0M179.1 1062.7h0M180.7 1062.7h0M166.9 1068.4h0M172.3 1061.9h0M176.3 1061.1h0"/>
<path d="M198.2 1064.8L197.2 1064.6L196.2 1064.5L195.2 1064.4L194.3 1064.2L193.4 1064.1L192.6 1064L191.9 1063.8L191.2 1063.7L190.5 1063.6L190 1063.4L189.5 1063.3L189.1 1063.2L188.7 1063L188.4 1062.9L188 1062.8L187.7 1062.6L187.4 1062.5L187.1 1062.4L186.9 1062.2L186.8 1062.1L186.7 1062L186.7 1061.8L186.8 1061.7L186.9 1061.6L187.1 1061.4L187.4 1061.3L187.7 1061.2L188 1061L188.4 1060.9L188.8 1060.8L189.3 1060.6L189.7 1060.5L190.2 1060.4L190.6 1060.2L191.1 1060.1L191.6 1060L192.1 1059.8L192.6 1059.7L193.2 1059.6L193.9 1059.4L194.5 1059.3L195.2 1059.2L196 1059.1L196.8 1058.9L197.6 1058.8L198.4 1058.7L199.2 1058.5L203.2 1058.5L204 1058.7L204.9 1058.8L205.7 1058.9L206.4 1059.1L207.2 1059.2L207.9 1059.3L208.6 1059.4L209.2 1059.6L209.8 1059.7L210.3 1059.8L210.9 1060L211.3 1060.1L211.8 1060.2L212.2 1060.4L212.7 1060.5L213.1 1060.6L213.6 1060.8L214 1060.9L214.4 1061L214.7 1061.2L215 1061.3L215.3 1061.4L215.5 1061.6L215.6 1061.7L215.7 1061.8L215.7 1062L215.6 1062.1L215.5 1062.2L215.3 1062.4L215 1062.5L214.7 1062.6L214.4 1062.8L214 1062.9L213.7 1063L213.3 1063.2L212.9 1063.3L212.4 1063.4L211.9 1063.6L211.2 1063.7L210.5 1063.8L209.8 1064L209 1064.1L208.1 1064.2L207.2 1064.4L206.2 1064.5L205.2 1064.6L204.2 1064.8Z" fill="#1a7b92" class="v"/>
<path class="d" d="M196.2 1062h0M208.7 1059.7h0M193 1061.4h0M207.2 1064.8h0M198.8 1062.6h0M207.4 1060.7h0M210.2 1059.3h0M193.2 1062.4h0M198.2 1061.9h0"/>
<path d="M219.1 1063.2H247.1" class="zl"/>
<path d="M233.1 1063.2V983.9M231.6 983.9H234.6" class="vl"/>
<path class="d" d="M221.9 1063.2h0M223.1 1063.2h0M224.4 1063.2h0M225.8 1063.2h0M228 1063.2h0M229.1 1063.2h0M230.7 1063.2h0M232.6 1063.2h0M233.7 1063.2h0M235.6 1063.2h0M236.6 1063.2h0M238.5 1063.2h0M239.9 1063.2h0M241.2 1063.2h0M243.3 1063.2h0M245 1063.2h0M221.8 983.9h0M223.7 1047.6h0M233.1 1044h0M223.1 1058h0M226.1 1060.1h0M229.1 1058.5h0M232.1 1057.5h0M235.1 1059.3h0M238.1 1060.6h0M241.1 1059.6h0M243.1 1061.1h0M227.1 1061.9h0M236.1 1061.9h0M231.1 1056.7h0"/>
<path d="M253.1 1063.2L252.8 1061.1L252.5 1058.9L252.3 1056.8L252 1054.7L251.8 1052.6L251.5 1050.4L251.2 1048.3L251.1 1046.2L251.2 1044L251.8 1041.9L252.7 1039.8L253.9 1037.6L255 1035.5L255.9 1033.4L256.7 1031.3L257.4 1029.1L258.1 1027L258.7 1024.9L259.3 1022.7L259.9 1020.6L260.4 1018.5L260.8 1016.3L261.1 1014.2L261.4 1012.1L261.6 1010L261.9 1007.8L262.1 1005.7L262.2 1003.6L262.4 1001.4L262.5 999.3L262.6 997.2L262.5 995L262.4 992.9L262.2 990.8L261.9 988.7L261.7 986.5L261.6 984.4L261.6 982.3L261.6 980.1L261.7 978L261.9 975.9L262 973.7L262.1 971.6L262.2 969.5L262.3 967.4L262.4 965.2L262.6 963.1L267.6 963.1L267.7 965.2L267.8 967.4L267.9 969.5L268 971.6L268.1 973.7L268.3 975.9L268.4 978L268.5 980.1L268.5 982.3L268.6 984.4L268.4 986.5L268.2 988.7L268 990.8L267.7 992.9L267.6 995L267.6 997.2L267.6 999.3L267.7 1001.4L267.9 1003.6L268.1 1005.7L268.3 1007.8L268.5 1010L268.8 1012.1L269 1014.2L269.3 1016.3L269.7 1018.5L270.2 1020.6L270.8 1022.7L271.4 1024.9L272.1 1027L272.8 1029.1L273.5 1031.3L274.2 1033.4L275.1 1035.5L276.2 1037.6L277.4 1039.8L278.4 1041.9L279 1044L279 1046.2L278.9 1048.3L278.6 1050.4L278.4 1052.6L278.1 1054.7L277.8 1056.8L277.6 1058.9L277.3 1061.1L277.1 1063.2Z" fill="#178190" class="v"/>
<path class="d" d="M263.6 1038h0M272.8 1027.9h0M271.8 1047.4h0M267.2 1010.4h0M253 990h0M267.6 969h0M258.8 1034.9h0M267.9 1053.6h0M253 1017.6h0M263.8 1041.6h0M254.5 1059.7h0M272.2 1051.7h0M253.6 1063.2h0M261.8 1063.2h0M268.4 1063.2h0M277.1 1063.2h0M253.8 963.1h0M262.1 977.4h0M266.1 972.2h0"/>
<path d="M283 1063.2H311" class="zl"/>
<path d="M297 1063.2V1011.2M295 1011.2H299" class="vl"/>
<path class="d" d="M285.7 1063.2h0M287.1 1063.2h0M288.7 1063.2h0M289.8 1063.2h0M291.6 1063.2h0M293.4 1063.2h0M294.6 1063.2h0M296 1063.2h0M297.9 1063.2h0M299 1063.2h0M300.9 1063.2h0M302 1063.2h0M303.6 1063.2h0M305.8 1063.2h0M306.8 1063.2h0M308.1 1063.2h0M305.2 1011.2h0M297.9 1054.9h0M291 1061.1h0M300 1060.6h0M306 1061.6h0"/>
<path d="M314.9 1063.2H342.9" class="zl"/>
<path class="d" d="M317.7 1063.2h0M318.8 1063.2h0M320.2 1063.2h0M321.6 1063.2h0M322.7 1063.2h0M324.4 1063.2h0M325.5 1063.2h0M327.2 1063.2h0M328.5 1063.2h0M329.2 1063.2h0M331.3 1063.2h0M332.2 1063.2h0M333.7 1063.2h0M334.8 1063.2h0M336 1063.2h0M338 1063.2h0M338.8 1063.2h0M340.1 1063.2h0"/>
<path d="M346.3 1063.2L346.9 1061.3L347.4 1059.4L347.9 1057.6L348.5 1055.7L349.1 1053.8L349.6 1051.9L350.2 1050L350.8 1048.2L351.4 1046.3L352.1 1044.4L352.7 1042.5L353.3 1040.6L353.9 1038.7L354.5 1036.9L355.2 1035L355.8 1033.1L356.4 1031.2L357 1029.3L357.6 1027.5L358.3 1025.6L359 1023.7L359.5 1021.8L359.6 1019.9L359.6 1018.1L359.6 1016.2L359.6 1014.3L359.6 1012.4L359.6 1010.5L359.5 1008.7L359.2 1006.8L359 1004.9L358.9 1003L358.9 1001.1L359 999.3L359.2 997.4L359.4 995.5L359.6 993.6L359.8 991.7L359.8 989.8L359.8 988L359.8 986.1L359.8 984.2L359.8 982.3L359.7 980.4L359.6 978.6L359.5 976.7L359.3 974.8L362.3 974.8L362.2 976.7L362.1 978.6L362 980.4L361.9 982.3L361.9 984.2L361.9 986.1L361.8 988L361.8 989.8L361.9 991.7L362 993.6L362.2 995.5L362.5 997.4L362.7 999.3L362.8 1001.1L362.8 1003L362.7 1004.9L362.4 1006.8L362.2 1008.7L362.1 1010.5L362 1012.4L362 1014.3L362 1016.2L362 1018.1L362 1019.9L362.1 1021.8L362.7 1023.7L363.4 1025.6L364 1027.5L364.6 1029.3L365.3 1031.2L365.9 1033.1L366.5 1035L367.1 1036.9L367.8 1038.7L368.4 1040.6L369 1042.5L369.6 1044.4L370.2 1046.3L370.9 1048.2L371.5 1050L372 1051.9L372.6 1053.8L373.2 1055.7L373.7 1057.6L374.3 1059.4L374.8 1061.3L375.3 1063.2Z" fill="#1b8d91" class="v"/>
<path class="d" d="M364.1 1039.2h0M354.8 1044.9h0M370.5 1052.6h0M365.8 1049.5h0M358.8 1048.7h0M358.4 1056.6h0M352.6 1041.2h0M372.8 1034.5h0M371.5 1047.2h0M359 1058.4h0M371.3 1054.3h0M348.6 1063.2h0M354.2 1063.2h0M360.6 1063.2h0M366.5 1063.2h0M373.1 1063.2h0M370.6 975.3h0M347.9 1001.6h0M354.1 1001.1h0M355.3 1013.3h0M361.4 974.8h0"/>
<path d="M378.8 1063.2H406.8" class="zl"/>
<path d="M392.8 1063.2V980.8M391.3 980.8H394.3" class="vl"/>
<path class="d" d="M381.1 1063.2h0M382.5 1063.2h0M384.3 1063.2h0M386.1 1063.2h0M387 1063.2h0M388.8 1063.2h0M390.3 1063.2h0M391.6 1063.2h0M393.5 1063.2h0M395.4 1063.2h0M396.7 1063.2h0M398 1063.2h0M399.6 1063.2h0M401.1 1063.2h0M402.9 1063.2h0M404.7 1063.2h0M384.8 980.8h0M390.2 1018.2h0M387.2 1034.1h0M381.2 1040.3h0M384.2 1043.4h0"/>
<path d="M410.7 1063.2H438.7" class="zl"/>
<path class="d" d="M413.7 1063.2h0M417.5 1063.2h0M421.8 1063.2h0M425.7 1063.2h0M433.7 1063.2h0"/>
<path d="M442.6 1063.2H470.6" class="zl"/>
<path class="d" d="M445.2 1063.2h0M446.9 1063.2h0M448.2 1063.2h0M449.7 1063.2h0M451.1 1063.2h0M452.3 1063.2h0M454 1063.2h0M455.1 1063.2h0M456.8 1063.2h0M457.8 1063.2h0M459.5 1063.2h0M460.8 1063.2h0M462.7 1063.2h0M463.4 1063.2h0M465.5 1063.2h0M466.8 1063.2h0M468 1063.2h0"/>
<path d="M475.5 1064.5L475.6 1062.9L475.9 1061.2L476.3 1059.6L477 1057.9L478.9 1056.3L481.2 1054.6L483.2 1053L484.5 1051.3L485.7 1049.7L486.7 1048L487.4 1046.4L487.5 1044.7L487.5 1043.1L487.5 1041.4L487.5 1039.8L487.5 1038.1L487.5 1036.5L487.5 1034.8L487.5 1033.2L487.5 1031.5L487.5 1029.9L487.5 1028.2L487.5 1026.6L487.5 1024.9L487.3 1023.3L487.1 1021.6L487.1 1020L487.1 1018.3L487.2 1016.7L487.4 1015L487.6 1013.4L487.7 1011.7L487.7 1010.1L487.6 1008.5L487.4 1006.8L487.2 1005.2L487 1003.5L486.8 1001.9L486.7 1000.2L486.8 998.6L486.8 996.9L486.9 995.3L487 993.6L487.1 992L487.3 990.3L487.5 988.7L487.7 987L489.3 987L489.6 988.7L489.8 990.3L490 992L490.1 993.6L490.2 995.3L490.3 996.9L490.3 998.6L490.3 1000.2L490.3 1001.9L490.1 1003.5L489.9 1005.2L489.7 1006.8L489.5 1008.5L489.4 1010.1L489.4 1011.7L489.5 1013.4L489.7 1015L489.9 1016.7L490 1018.3L490 1020L489.9 1021.6L489.8 1023.3L489.6 1024.9L489.5 1026.6L489.5 1028.2L489.5 1029.9L489.5 1031.5L489.5 1033.2L489.5 1034.8L489.5 1036.5L489.5 1038.1L489.5 1039.8L489.5 1041.4L489.5 1043.1L489.5 1044.7L489.7 1046.4L490.3 1048L491.4 1049.7L492.6 1051.3L493.9 1053L495.9 1054.6L498.2 1056.3L500.1 1057.9L500.8 1059.6L501.2 1061.2L501.4 1062.9L501.5 1064.5Z" fill="#1aa193" class="v"/>
<path class="d" d="M492.9 1059.4h0M479 1063.9h0M488.4 1056.1h0M482.6 1060.8h0M499.8 1054.2h0M491.2 1062h0M485 1056.1h0M480.7 1063.1h0M488.2 1056.8h0M494.6 1057.6h0M494.6 1064.9h0M495.2 1059.4h0M500.4 1062.9h0M477.8 1058.8h0M480.4 1054.1h0M493.1 1056.7h0M492.6 1053.5h0M494.5 1065.3h0M480 1063.5h0M487.7 1065h0M494 1058.9h0M482.2 1058.5h0M496.1 1063.5h0M480.4 1058.2h0M498 1060.4h0M482.5 987.5h0M489.2 998.7h0M486.8 1001.6h0M476.5 1023.7h0M498.5 1018.2h0M500.3 1020.8h0M492.9 1035.4h0M486.2 1037.7h0"/>
<path d="M510.5 1064.5L509.7 1064.2L509 1063.9L508.4 1063.7L507.7 1063.4L507.2 1063.1L506.7 1062.8L506.4 1062.6L506.1 1062.3L506 1062L506 1061.7L506 1061.5L506.1 1061.2L506.2 1060.9L506.3 1060.6L506.5 1060.4L506.7 1060.1L506.9 1059.8L507.1 1059.5L507.3 1059.2L507.6 1059L507.8 1058.7L508.1 1058.4L508.3 1058.1L508.6 1057.9L509 1057.6L509.4 1057.3L509.8 1057L510.3 1056.8L510.9 1056.5L511.4 1056.2L512 1055.9L512.6 1055.6L513.2 1055.4L513.8 1055.1L514.3 1054.8L514.8 1054.5L515.2 1054.3L515.6 1054L516 1053.7L516.4 1053.4L516.7 1053.2L517 1052.9L517.4 1052.6L517.7 1052.3L517.9 1052.1L518.2 1051.8L518.5 1051.5L522.5 1051.5L522.7 1051.8L523 1052.1L523.3 1052.3L523.6 1052.6L523.9 1052.9L524.2 1053.2L524.6 1053.4L524.9 1053.7L525.3 1054L525.7 1054.3L526.2 1054.5L526.7 1054.8L527.2 1055.1L527.8 1055.4L528.3 1055.6L528.9 1055.9L529.5 1056.2L530.1 1056.5L530.6 1056.8L531.1 1057L531.6 1057.3L532 1057.6L532.3 1057.9L532.6 1058.1L532.9 1058.4L533.1 1058.7L533.4 1059L533.6 1059.2L533.9 1059.5L534.1 1059.8L534.3 1060.1L534.5 1060.4L534.6 1060.6L534.7 1060.9L534.9 1061.2L534.9 1061.5L535 1061.7L535 1062L534.8 1062.3L534.6 1062.6L534.2 1062.8L533.8 1063.1L533.2 1063.4L532.6 1063.7L531.9 1063.9L531.2 1064.2L530.5 1064.5Z" fill="#19a694" class="v"/>
<path class="d" d="M518.3 1057.8h0M518.3 1063h0M523.1 1058.5h0M529.2 1056.9h0M518.5 1064h0M518.8 1064.5h0M529.4 1060.6h0M509.3 1055.7h0M512 1057.2h0M520.9 1061.9h0M531.2 1059.5h0M508.2 1056.4h0M510.8 1062.4h0M514.9 1061.9h0M523.3 1058.9h0M524.6 1053.2h0M516.7 1061.6h0M518.4 1062.9h0M509.7 1061h0M512.2 1059.9h0M518.2 1055h0M517.1 1054h0M509.5 1052.8h0M528.5 1052.3h0"/>
<path d="M538.4 1063.2H566.4" class="zl"/>
<path class="d" d="M542.2 1063.2h0M543.1 1063.2h0M544.6 1063.2h0M546.1 1063.2h0M547.7 1063.2h0M549.1 1063.2h0M550.8 1063.2h0M552.4 1063.2h0M553.5 1063.2h0M555 1063.2h0M556.9 1063.2h0M558 1063.2h0M559.5 1063.2h0M561.3 1063.2h0M562.3 1063.2h0M563.6 1063.2h0M548.4 1061.6h0M555.4 1061.1h0M559.4 1061.9h0"/>
<path d="M570.3 1063.2L570.3 1060.7L570.4 1058.3L573.1 1055.8L575.7 1053.3L577.1 1050.9L578.3 1048.4L579.1 1045.9L579.7 1043.5L580.2 1041L580.6 1038.5L580.9 1036.1L581.2 1033.6L581.6 1031.1L581.9 1028.7L582.3 1026.2L582.5 1023.7L582.8 1021.3L583 1018.8L583.2 1016.3L583.4 1013.9L583.5 1011.4L583.6 1008.9L583.6 1006.5L583.6 1004L583.7 1001.5L583.7 999.1L583.7 996.6L583.7 994.1L583.7 991.7L583.7 989.2L583.7 986.7L583.7 984.2L583.7 981.8L583.7 979.3L583.7 976.8L583.7 974.4L583.7 971.9L583.7 969.4L583.7 967L583.7 964.5L583.7 962L583.7 959.6L583.7 957.1L583.7 954.6L583.7 952.2L583.7 949.7L583.7 947.2L584.9 947.2L584.9 949.7L584.9 952.2L584.9 954.6L584.9 957.1L584.9 959.6L584.9 962L584.9 964.5L584.9 967L584.9 969.4L584.9 971.9L584.9 974.4L584.9 976.8L584.9 979.3L585 981.8L585 984.2L585 986.7L585 989.2L585 991.7L585 994.1L585 996.6L585 999.1L585 1001.5L585 1004L585 1006.5L585 1008.9L585.1 1011.4L585.2 1013.9L585.4 1016.3L585.7 1018.8L585.9 1021.3L586.1 1023.7L586.4 1026.2L586.7 1028.7L587.1 1031.1L587.4 1033.6L587.7 1036.1L588.1 1038.5L588.5 1041L588.9 1043.5L589.5 1045.9L590.4 1048.4L591.5 1050.9L593 1053.3L595.5 1055.8L598.2 1058.3L598.3 1060.7L598.3 1063.2Z" fill="#15b198" class="v"/>
<path class="d" d="M594.9 1029.2h0M588.4 1052.1h0M579.9 1040.5h0M588.4 1047h0M577.3 1051.2h0M583.1 1043.5h0M580.1 1049.1h0M594.9 1054.2h0M580.7 1055.1h0M575.4 1040h0M581.1 1053.7h0M588.7 1032.8h0M595.6 1047.9h0M584.8 1044.8h0M586.1 1055h0M584 1020.3h0M593.8 1053.5h0M577.1 1055.9h0M575.7 1038.9h0M583.5 1059.2h0M578.6 1058.1h0M573 1043.6h0M592.3 1027.4h0M577.9 1034.5h0M586.6 1035.2h0M575.2 1057.9h0M579.2 1025.1h0M572.4 1056.6h0M595.2 1059.2h0M592.1 1055.6h0M577 1057.8h0M575.3 1037.7h0M590 1049.7h0M579.2 1048.7h0M582.2 1057.9h0M582.2 1044.2h0M576.9 1057.8h0M590.9 1049.8h0M572.8 1063.2h0M575.6 1063.2h0M578.1 1063.2h0M580.8 1063.2h0M583.3 1063.2h0M585.3 1063.2h0M588.2 1063.2h0M590.8 1063.2h0M593.5 1063.2h0M596.1 1063.2h0M579 947.2h0M584.3 1006h0M584.3 1015.1h0"/>
<path d="M604.3 1079.6L603.2 1078L602.4 1076.4L601.9 1074.9L601.8 1073.3L602.1 1071.7L602.6 1070.1L603.2 1068.5L603.6 1067L603.7 1065.4L603.6 1063.8L603.3 1062.2L603 1060.7L602.8 1059.1L602.8 1057.5L602.8 1055.9L602.8 1054.4L602.9 1052.8L602.9 1051.2L603 1049.6L603.1 1048L603.2 1046.5L603.3 1044.9L603.4 1043.3L603.6 1041.7L603.8 1040.2L604.1 1038.6L604.4 1037L604.7 1035.4L605.1 1033.9L605.5 1032.3L606 1030.7L606.6 1029.1L607.3 1027.6L608 1026L608.8 1024.4L609.5 1022.8L610.1 1021.2L610.7 1019.7L611.3 1018.1L611.8 1016.5L612.4 1014.9L612.8 1013.4L613.2 1011.8L613.4 1010.2L613.6 1008.6L613.7 1007.1L613.8 1005.5L618.8 1005.5L618.8 1007.1L618.9 1008.6L619.1 1010.2L619.3 1011.8L619.7 1013.4L620.1 1014.9L620.7 1016.5L621.2 1018.1L621.8 1019.7L622.4 1021.2L623 1022.8L623.7 1024.4L624.5 1026L625.2 1027.6L625.9 1029.1L626.5 1030.7L627.1 1032.3L627.4 1033.9L627.8 1035.4L628.1 1037L628.4 1038.6L628.7 1040.2L628.9 1041.7L629.1 1043.3L629.2 1044.9L629.3 1046.5L629.4 1048L629.5 1049.6L629.6 1051.2L629.7 1052.8L629.7 1054.4L629.7 1055.9L629.8 1057.5L629.7 1059.1L629.5 1060.7L629.2 1062.2L628.9 1063.8L628.8 1065.4L628.9 1067L629.3 1068.5L629.9 1070.1L630.5 1071.7L630.7 1073.3L630.6 1074.9L630.1 1076.4L629.3 1078L628.3 1079.6Z" fill="#12b899" class="v"/>
<path class="d" d="M624.1 1022.7h0M614.5 1075.7h0M621 1040.6h0M606.1 1036h0M618.1 1076.5h0M617.6 1048h0M606.4 1067.9h0M613.4 1051.3h0M605.1 1041.3h0M603.8 1046.8h0M619.8 1072.6h0M610.9 1060.1h0M621.6 1054.6h0M608 1018.8h0M609.3 1063.1h0M605.5 1064.4h0M607.8 1029.1h0M622.6 1030.2h0M609.3 1005.5h0M623.3 1018.2h0"/>
<path d="M642.2 1077.5L641.4 1076.1L640.6 1074.6L639.8 1073.2L639.1 1071.7L638.4 1070.3L637.8 1068.8L637.1 1067.4L636.4 1065.9L635.7 1064.5L635 1063.1L634.5 1061.6L634 1060.2L633.8 1058.7L633.7 1057.3L633.9 1055.8L634.5 1054.4L635.3 1053L636.2 1051.5L637.2 1050.1L638.3 1048.6L639.2 1047.2L640 1045.7L640.6 1044.3L641.2 1042.8L641.8 1041.4L642.3 1040L642.8 1038.5L643.3 1037.1L643.7 1035.6L644 1034.2L644.2 1032.7L644.4 1031.3L644.5 1029.9L644.6 1028.4L644.7 1027L644.8 1025.5L644.9 1024.1L644.9 1022.6L645 1021.2L645 1019.7L645.1 1018.3L645.1 1016.9L645.1 1015.4L645.1 1014L645.2 1012.5L645.2 1011.1L645.2 1009.6L651.2 1009.6L651.2 1011.1L651.2 1012.5L651.2 1014L651.2 1015.4L651.3 1016.9L651.3 1018.3L651.3 1019.7L651.4 1021.2L651.4 1022.6L651.5 1024.1L651.5 1025.5L651.6 1027L651.7 1028.4L651.9 1029.9L652 1031.3L652.1 1032.7L652.3 1034.2L652.7 1035.6L653 1037.1L653.5 1038.5L654 1040L654.6 1041.4L655.2 1042.8L655.8 1044.3L656.4 1045.7L657.2 1047.2L658.1 1048.6L659.1 1050.1L660.1 1051.5L661.1 1053L661.9 1054.4L662.4 1055.8L662.7 1057.3L662.6 1058.7L662.3 1060.2L661.9 1061.6L661.3 1063.1L660.7 1064.5L660 1065.9L659.3 1067.4L658.6 1068.8L657.9 1070.3L657.3 1071.7L656.5 1073.2L655.8 1074.6L655 1076.1L654.2 1077.5Z" fill="#15b899" class="v"/>
<path class="d" d="M654.6 1056.5h0M652.5 1064h0M654.6 1062.4h0M643.6 1053.6h0M655.7 1057.6h0M643.2 1047.2h0M639.4 1043h0M646.5 1049.7h0M656.7 1075.7h0M637.2 1027.3h0M647.6 1039.2h0M651.6 1068.7h0M639 1009.3h0M636 1059.1h0M657.5 1070.1h0M642.7 1009.6h0M654.3 1019.5h0M658 1032h0M660.4 1077.5h0"/>
<path d="M675.1 1068.4L674.2 1068.1L673.4 1067.8L672.6 1067.6L671.8 1067.3L671 1067L670.3 1066.7L669.7 1066.5L669 1066.2L668.5 1065.9L667.9 1065.6L667.5 1065.4L667 1065.1L666.7 1064.8L666.3 1064.5L666.1 1064.3L665.9 1064L665.7 1063.7L665.6 1063.4L665.6 1063.1L665.6 1062.9L665.7 1062.6L665.8 1062.3L665.9 1062L666 1061.8L666.2 1061.5L666.4 1061.2L666.6 1060.9L666.8 1060.7L667.1 1060.4L667.3 1060.1L667.6 1059.8L667.9 1059.5L668.1 1059.3L668.5 1059L668.8 1058.7L669.3 1058.4L669.8 1058.2L670.3 1057.9L670.9 1057.6L671.6 1057.3L672.3 1057.1L673 1056.8L673.8 1056.5L674.6 1056.2L675.4 1056L676.2 1055.7L677.1 1055.4L683.1 1055.4L684 1055.7L684.8 1056L685.6 1056.2L686.4 1056.5L687.2 1056.8L687.9 1057.1L688.6 1057.3L689.3 1057.6L689.9 1057.9L690.4 1058.2L690.9 1058.4L691.4 1058.7L691.8 1059L692.1 1059.3L692.4 1059.5L692.6 1059.8L692.9 1060.1L693.1 1060.4L693.4 1060.7L693.6 1060.9L693.8 1061.2L694 1061.5L694.2 1061.8L694.3 1062L694.4 1062.3L694.5 1062.6L694.6 1062.9L694.6 1063.1L694.6 1063.4L694.5 1063.7L694.4 1064L694.1 1064.3L693.9 1064.5L693.6 1064.8L693.2 1065.1L692.8 1065.4L692.3 1065.6L691.7 1065.9L691.2 1066.2L690.5 1066.5L689.9 1066.7L689.2 1067L688.4 1067.3L687.7 1067.6L686.8 1067.8L686 1068.1L685.1 1068.4Z" fill="#18b998" class="v"/>
<path class="d" d="M686.9 1065.3h0M667.9 1062.8h0M670.9 1060.1h0M683.8 1061.7h0M674.8 1063.2h0M682.7 1058.2h0M680.6 1063.6h0M691.2 1056.1h0M678.7 1064.5h0M681.6 1058.9h0M673.4 1058.1h0M681.2 1066.6h0M675.2 1064h0M690.7 1059.6h0M688.8 1068h0M689.5 1056.6h0M674.4 1061.1h0M690 1058.9h0M688.2 1067.6h0M671.9 1066.9h0M678.5 1064.8h0M684.3 1057.3h0M680.8 1066.1h0M675.3 1060.5h0M691.8 1063.5h0M684.8 1061h0M672.9 1065.6h0M675.9 1062h0M686 1060.3h0M675.8 1062.5h0"/>
<path class="d" d="M708.2 1046.6h0M723.5 1041.6h0"/>
<path d="M740 1073.1L739.3 1072.8L738.7 1072.5L738.1 1072.2L737.5 1071.9L737 1071.6L736.4 1071.3L735.9 1071L735.4 1070.7L735 1070.4L734.5 1070.1L734.2 1069.9L733.8 1069.6L733.5 1069.3L733.1 1069L732.8 1068.7L732.5 1068.4L732.2 1068.1L731.9 1067.8L731.7 1067.5L731.4 1067.2L731.2 1066.9L731 1066.6L730.8 1066.3L730.6 1066L730.4 1065.8L730.3 1065.5L730.1 1065.2L730 1064.9L729.8 1064.6L729.7 1064.3L729.6 1064L729.5 1063.7L729.5 1063.4L729.5 1063.1L729.7 1062.8L730.1 1062.5L730.8 1062.2L731.6 1061.9L732.5 1061.6L733.5 1061.4L734.5 1061.1L735.4 1060.8L736.4 1060.5L737.4 1060.2L738.5 1059.9L739.7 1059.6L741 1059.3L747 1059.3L748.2 1059.6L749.4 1059.9L750.5 1060.2L751.6 1060.5L752.5 1060.8L753.5 1061.1L754.5 1061.4L755.4 1061.6L756.3 1061.9L757.1 1062.2L757.8 1062.5L758.2 1062.8L758.4 1063.1L758.5 1063.4L758.4 1063.7L758.3 1064L758.2 1064.3L758.1 1064.6L758 1064.9L757.8 1065.2L757.6 1065.5L757.5 1065.8L757.3 1066L757.1 1066.3L756.9 1066.6L756.7 1066.9L756.5 1067.2L756.3 1067.5L756 1067.8L755.7 1068.1L755.4 1068.4L755.1 1068.7L754.8 1069L754.5 1069.3L754.1 1069.6L753.8 1069.9L753.4 1070.1L753 1070.4L752.5 1070.7L752 1071L751.5 1071.3L751 1071.6L750.4 1071.9L749.8 1072.2L749.2 1072.5L748.6 1072.8L748 1073.1Z" fill="#1dba98" class="v"/>
<path class="d" d="M734.9 1067.8h0M748.1 1063.3h0M750.2 1070.7h0M754.7 1062.3h0M738.4 1064.7h0M751.2 1061.7h0M744.1 1064.9h0M739.8 1071.3h0M749.1 1065.4h0M747.9 1065.7h0M734.8 1068.5h0M748.6 1066.9h0M739.3 1059.8h0M747 1063.8h0M745.1 1060.9h0M750.6 1069.5h0M732.4 1062.7h0M740.9 1072.8h0M745.2 1066.3h0M752.3 1068.9h0"/>
<path d="M770.9 1063.2L769.4 1061.7L768 1060.1L766.7 1058.6L765.6 1057.1L764.5 1055.5L763.5 1054L762.5 1052.5L761.8 1050.9L761.4 1049.4L761.7 1047.9L763 1046.3L765 1044.8L767 1043.3L768.8 1041.7L770.2 1040.2L771.7 1038.7L773.2 1037.2L774.4 1035.6L775.1 1034.1L775.3 1032.6L775.1 1031L774.9 1029.5L774.6 1028L774.3 1026.4L774.1 1024.9L773.9 1023.4L773.7 1021.8L773.7 1020.3L773.9 1018.8L774.2 1017.2L774.6 1015.7L774.9 1014.2L775 1012.6L775.1 1011.1L775.2 1009.6L775.2 1008L775.3 1006.5L775.3 1005L775.4 1003.4L775.4 1001.9L775 1000.4L774.3 998.8L773.5 997.3L773 995.8L772.6 994.2L772.2 992.7L771.9 991.2L779.9 991.2L779.6 992.7L779.2 994.2L778.7 995.8L778.2 997.3L777.5 998.8L776.8 1000.4L776.4 1001.9L776.4 1003.4L776.4 1005L776.5 1006.5L776.5 1008L776.6 1009.6L776.7 1011.1L776.8 1012.6L776.9 1014.2L777.2 1015.7L777.5 1017.2L777.9 1018.8L778.1 1020.3L778.1 1021.8L777.9 1023.4L777.7 1024.9L777.4 1026.4L777.2 1028L776.9 1029.5L776.7 1031L776.5 1032.6L776.7 1034.1L777.4 1035.6L778.6 1037.2L780 1038.7L781.6 1040.2L783 1041.7L784.7 1043.3L786.8 1044.8L788.8 1046.3L790.1 1047.9L790.4 1049.4L790 1050.9L789.3 1052.5L788.3 1054L787.2 1055.5L786.2 1057.1L785.1 1058.6L783.8 1060.1L782.4 1061.7L780.9 1063.2Z" fill="#25bc99" class="v"/>
<path class="d" d="M777.9 1050.9h0M764.8 1051.8h0M770.6 1040.6h0M766.6 1059.3h0M776.3 1054.8h0M766.4 1046.4h0M782.4 991.2h0M779.3 1023.2h0M782.9 1063.7h0"/>
<path d="M793.3 1063.2L794.4 1061.7L795.8 1060.1L797.8 1058.6L800.3 1057.1L802.3 1055.5L803.2 1054L803.8 1052.5L804.3 1050.9L804.7 1049.4L805 1047.9L805.2 1046.3L805.3 1044.8L805.4 1043.3L805.4 1041.7L805.5 1040.2L805.5 1038.7L805.5 1037.2L805.6 1035.6L805.6 1034.1L805.6 1032.6L805.6 1031L805.6 1029.5L805.7 1028L805.7 1026.4L805.7 1024.9L805.7 1023.4L805.8 1021.8L805.8 1020.3L805.9 1018.8L806 1017.2L806.2 1015.7L806.4 1014.2L806.5 1012.6L806.7 1011.1L806.8 1009.6L806.9 1008L807 1006.5L807 1005L807.1 1003.4L807.1 1001.9L807.1 1000.4L807.2 998.8L807.2 997.3L807.2 995.8L807.2 994.2L807.2 992.7L807.2 991.2L808.4 991.2L808.4 992.7L808.4 994.2L808.4 995.8L808.5 997.3L808.5 998.8L808.5 1000.4L808.5 1001.9L808.6 1003.4L808.6 1005L808.6 1006.5L808.7 1008L808.8 1009.6L809 1011.1L809.1 1012.6L809.3 1014.2L809.4 1015.7L809.6 1017.2L809.7 1018.8L809.8 1020.3L809.8 1021.8L809.9 1023.4L809.9 1024.9L810 1026.4L810 1028L810 1029.5L810 1031L810 1032.6L810 1034.1L810.1 1035.6L810.1 1037.2L810.1 1038.7L810.1 1040.2L810.2 1041.7L810.2 1043.3L810.3 1044.8L810.4 1046.3L810.6 1047.9L810.9 1049.4L811.3 1050.9L811.8 1052.5L812.4 1054L813.3 1055.5L815.3 1057.1L817.8 1058.6L819.9 1060.1L821.2 1061.7L822.3 1063.2Z" fill="#3cc39c" class="v"/>
<path class="d" d="M808.3 1032.8h0M812.6 1028.2h0M809.1 999.6h0M808.4 1055.5h0M814.9 1059h0M814.3 1049.9h0M809.9 1059.2h0M818.8 1010.9h0M800.8 1030.3h0M801.7 1043.2h0M805.4 1056.4h0M804.3 1016.7h0M804.4 1052.4h0M812.5 1059.9h0M797 1022.8h0M818.7 1046.7h0M811 1042.3h0M807 1058.5h0M796.1 1063.2h0M799.2 1063.2h0M800.8 1063.2h0M803 1063.2h0M806.1 1063.2h0M808.5 1063.2h0M811.9 1063.2h0M814.5 1063.2h0M816.6 1063.2h0M819.5 1063.2h0M800.1 991.2h0M806.8 1019h0M807.8 1025.5h0"/>
<path d="M825.2 1063.2L825.7 1061.4L826.1 1059.6L826.6 1057.8L827.2 1056L827.7 1054.2L828.3 1052.4L828.9 1050.7L829.5 1048.9L830.1 1047.1L830.7 1045.3L831.3 1043.5L832 1041.7L832.6 1039.9L833.3 1038.1L833.9 1036.3L834.4 1034.5L834.8 1032.7L835.2 1030.9L835.6 1029.1L835.9 1027.4L836.2 1025.6L836.6 1023.8L836.8 1022L837.1 1020.2L837.3 1018.4L837.5 1016.6L837.7 1014.8L837.9 1013L838 1011.2L838.2 1009.4L838.3 1007.6L838.4 1005.8L838.5 1004.1L838.5 1002.3L838.5 1000.5L838.5 998.7L838.5 996.9L838.5 995.1L838.5 993.3L838.5 991.5L838.5 989.7L838.5 987.9L838.5 986.1L838.5 984.3L838.5 982.5L838.5 980.8L838.5 979L840.9 979L840.9 980.8L840.9 982.5L840.9 984.3L840.9 986.1L840.9 987.9L840.9 989.7L840.9 991.5L840.9 993.3L840.9 995.1L840.9 996.9L840.9 998.7L840.9 1000.5L840.9 1002.3L841 1004.1L841 1005.8L841.1 1007.6L841.3 1009.4L841.4 1011.2L841.6 1013L841.8 1014.8L841.9 1016.6L842.1 1018.4L842.4 1020.2L842.6 1022L842.9 1023.8L843.2 1025.6L843.6 1027.4L843.9 1029.1L844.3 1030.9L844.7 1032.7L845.1 1034.5L845.6 1036.3L846.2 1038.1L846.8 1039.9L847.5 1041.7L848.1 1043.5L848.7 1045.3L849.3 1047.1L849.9 1048.9L850.6 1050.7L851.2 1052.4L851.7 1054.2L852.3 1056L852.8 1057.8L853.3 1059.6L853.8 1061.4L854.2 1063.2Z" fill="#3fc4a0" class="v"/>
<path class="d" d="M841 1059h0M851.7 1027.4h0M835 1040h0M828.9 1050.9h0M845 1033.6h0M849 1013.8h0M845.2 1007.1h0M837.2 1043.9h0M834.7 1046.9h0M831.2 1054.7h0M832 1057.4h0M829.1 1055.4h0M845.7 1027.9h0M852 978.9h0M836.2 1045h0M850.8 1037.9h0M830.8 1057h0M850.2 1050.4h0M828.1 1063.2h0M832.5 1063.2h0M837.8 1063.2h0M842 1063.2h0M846.6 1063.2h0M851.2 1063.2h0M834.4 978.4h0M836.7 1008.6h0M838.7 1012.5h0"/>
<path d="M865.7 1081.9L863.2 1079.9L861.2 1077.9L859.8 1075.9L858.8 1073.9L858 1071.9L857.7 1069.9L857.7 1067.9L857.8 1065.9L857.8 1063.8L857.9 1061.8L858.1 1059.8L858.2 1057.8L858.2 1055.8L858.3 1053.8L858.4 1051.8L858.4 1049.8L858.5 1047.8L858.6 1045.8L858.8 1043.8L859.2 1041.8L859.7 1039.8L860.3 1037.7L860.9 1035.7L861.5 1033.7L862 1031.7L862.5 1029.7L863.1 1027.7L863.6 1025.7L864.1 1023.7L864.6 1021.7L865.2 1019.7L865.7 1017.7L866.2 1015.7L866.7 1013.6L867.1 1011.6L867.5 1009.6L867.8 1007.6L868 1005.6L868.2 1003.6L868.4 1001.6L868.6 999.6L868.8 997.6L868.9 995.6L869 993.6L869.1 991.6L869.1 989.5L869.2 987.5L874.2 987.5L874.2 989.5L874.3 991.6L874.4 993.6L874.5 995.6L874.6 997.6L874.7 999.6L874.9 1001.6L875.1 1003.6L875.3 1005.6L875.6 1007.6L875.9 1009.6L876.2 1011.6L876.7 1013.6L877.2 1015.7L877.7 1017.7L878.2 1019.7L878.7 1021.7L879.2 1023.7L879.7 1025.7L880.3 1027.7L880.8 1029.7L881.3 1031.7L881.8 1033.7L882.4 1035.7L883 1037.7L883.6 1039.8L884.1 1041.8L884.5 1043.8L884.7 1045.8L884.8 1047.8L884.9 1049.8L885 1051.8L885 1053.8L885.1 1055.8L885.2 1057.8L885.3 1059.8L885.4 1061.8L885.5 1063.8L885.6 1065.9L885.6 1067.9L885.7 1069.9L885.3 1071.9L884.5 1073.9L883.6 1075.9L882.1 1077.9L880.1 1079.9L877.7 1081.9Z" fill="#5bc9a6" class="v"/>
<path class="d" d="M877.4 1045.7h0M876.2 1005.1h0M872.2 1065.3h0M882.4 1063.4h0M877.7 1070.7h0M882.8 1055.6h0M878.5 1064.6h0M883.1 1075.9h0M879.8 1039.1h0M880.8 1049.5h0M873.6 1042.9h0M873.5 1072.2h0M870.6 1053.5h0M875.5 1071.1h0M883.7 1080.8h0M875.8 1001.9h0M868.5 1009.7h0M860.8 1057.7h0M860.6 1048.7h0M859.2 1051.9h0M883.4 1050.9h0M880.6 1034.1h0M873.9 1028.5h0M878.5 1071.3h0M883.7 1024.2h0M883.3 1031h0M860.3 1017.7h0M871.1 1082.9h0M864.6 991.9h0M861.6 1027.5h0M871.7 1066.2h0M873.7 1049.1h0M876.3 1046.1h0M865.1 1062.7h0M865 1074.2h0M872.5 1039.4h0M869 1035.5h0M872.3 1040.8h0M880.4 1025.9h0M861.3 1068.8h0M864.5 1044.3h0M881.5 1020.6h0M876.9 1036.5h0M860.9 1061.3h0M870.3 1073.8h0M872.3 1055h0M877.5 1021.2h0M874 1059h0M871 1013.1h0M860.1 1077h0M861.3 995.6h0M865.9 1063h0M873.5 1055.6h0M875.1 1034.2h0M860.2 1037.5h0M884.3 987.5h0M860.7 1081.4h0M882.2 1081.4h0"/>
<path d="M899.6 1077.5L899.4 1076.1L899.2 1074.6L899.1 1073.2L898.9 1071.7L898.7 1070.3L898.5 1068.9L898.3 1067.4L898.1 1066L897.8 1064.6L897.6 1063.1L897.2 1061.7L896.8 1060.2L896.4 1058.8L895.9 1057.4L895.3 1055.9L894.8 1054.5L894.2 1053L893.7 1051.6L893.2 1050.2L892.5 1048.7L891.9 1047.3L891.2 1045.9L890.5 1044.4L889.9 1043L889.4 1041.5L889.2 1040.1L889.1 1038.7L889.5 1037.2L890.4 1035.8L891.6 1034.4L892.8 1032.9L894.1 1031.5L895.2 1030L896 1028.6L896.9 1027.2L897.7 1025.7L898.4 1024.3L899 1022.8L899.5 1021.4L899.7 1020L899.9 1018.5L900.1 1017.1L900.3 1015.7L900.4 1014.2L900.5 1012.8L900.6 1011.3L900.6 1009.9L906.6 1009.9L906.6 1011.3L906.7 1012.8L906.8 1014.2L906.9 1015.7L907.1 1017.1L907.3 1018.5L907.5 1020L907.7 1021.4L908.1 1022.8L908.8 1024.3L909.5 1025.7L910.3 1027.2L911.1 1028.6L912 1030L913.1 1031.5L914.3 1032.9L915.6 1034.4L916.8 1035.8L917.6 1037.2L918.1 1038.7L918 1040.1L917.7 1041.5L917.3 1043L916.7 1044.4L916 1045.9L915.3 1047.3L914.6 1048.7L914 1050.2L913.5 1051.6L912.9 1053L912.4 1054.5L911.9 1055.9L911.3 1057.4L910.8 1058.8L910.4 1060.2L909.9 1061.7L909.6 1063.1L909.3 1064.6L909.1 1066L908.9 1067.4L908.7 1068.9L908.5 1070.3L908.3 1071.7L908.1 1073.2L907.9 1074.6L907.8 1076.1L907.6 1077.5Z" fill="#7ccdaa" class="v"/>
<path class="d" d="M891.2 1053.9h0M901 1044.3h0M892.8 1017.6h0M907.1 1072.7h0M902.2 1037.1h0M912.2 1038.9h0M914.4 1049.3h0M897.7 1050.8h0M895.3 1054.5h0M892.1 1036.3h0M895 1066.5h0M913.5 1034.4h0M902.6 1040.9h0M899.9 1065.4h0M915.3 1040.7h0M901.1 1031.3h0M903.3 1026.3h0M897.1 1020.8h0M914.4 1074.6h0M914.8 1030.2h0M912.6 1052.2h0M909 1047.7h0M907.1 1044.5h0M900.2 1050.4h0M906.1 1057.1h0M902.6 1026.5h0M909.5 1038h0M908.5 1042.2h0M905.6 1025.1h0M902.3 1069.2h0M891.7 1033.6h0M910.8 1043.3h0M891.6 1011.5h0M916 1061.2h0M906.4 1060.2h0M898.2 1009.6h0M914.1 1018h0M898.7 1077.5h0"/>
<path d="M921.5 1065.8H949.5" class="zl"/>
<path class="d" d="M923.5 1065.8h0M930.5 1065.8h0M932.6 1065.8h0M946.5 1065.8h0M930.5 1067.1h0"/>
<path d="M955.4 1064.5L954.7 1063.8L953.9 1063.1L953.4 1062.3L953 1061.6L953 1060.9L953.1 1060.2L953.3 1059.4L953.7 1058.7L954.1 1058L954.6 1057.3L955.2 1056.5L955.8 1055.8L956.5 1055.1L957.1 1054.4L957.7 1053.6L958.3 1052.9L958.8 1052.2L959.3 1051.5L959.7 1050.7L960.2 1050L960.6 1049.3L961.1 1048.6L961.6 1047.8L962.1 1047.1L962.5 1046.4L963 1045.7L963.4 1044.9L963.8 1044.2L964.2 1043.5L964.6 1042.8L964.8 1042L965.1 1041.3L965.3 1040.6L965.4 1039.9L965.4 1039.1L965.4 1038.4L965.3 1037.7L965.2 1037L965.1 1036.2L965 1035.5L964.9 1034.8L964.9 1034.1L964.9 1033.3L964.9 1032.6L964.9 1031.9L964.9 1031.2L964.9 1030.4L969.9 1030.4L969.9 1031.2L969.9 1031.9L969.9 1032.6L969.9 1033.3L969.9 1034.1L969.9 1034.8L969.9 1035.5L969.8 1036.2L969.7 1037L969.6 1037.7L969.5 1038.4L969.4 1039.1L969.5 1039.9L969.6 1040.6L969.8 1041.3L970 1042L970.3 1042.8L970.7 1043.5L971.1 1044.2L971.5 1044.9L971.9 1045.7L972.4 1046.4L972.8 1047.1L973.3 1047.8L973.8 1048.6L974.3 1049.3L974.7 1050L975.2 1050.7L975.6 1051.5L976 1052.2L976.6 1052.9L977.2 1053.6L977.8 1054.4L978.4 1055.1L979.1 1055.8L979.7 1056.5L980.3 1057.3L980.8 1058L981.2 1058.7L981.6 1059.4L981.8 1060.2L981.9 1060.9L981.9 1061.6L981.5 1062.3L980.9 1063.1L980.2 1063.8L979.4 1064.5Z" fill="#afdcb0" class="v"/>
<path class="d" d="M962.2 1059.2h0M968.9 1040.9h0M966.2 1063.6h0M968.2 1053.2h0M963.3 1055.6h0M965.3 1045.8h0M958.4 1062.1h0M976.6 1060.4h0M955.4 1030.3h0M963.9 1058.3h0M955 1052h0M971.8 1061.6h0M965.5 1057.4h0M957.6 1050.2h0M957.4 1034.1h0M973.9 1034.1h0M965.9 1030.4h0"/>
<path d="M989.4 1064.5L987.5 1063.5L986 1062.4L985.1 1061.4L984.9 1060.4L985.3 1059.3L986.1 1058.3L987.3 1057.3L988.5 1056.2L989.6 1055.2L991 1054.2L992.7 1053.1L994.3 1052.1L995.6 1051.1L996.5 1050L997.1 1049L997.6 1047.9L998 1046.9L998.3 1045.9L998.4 1044.8L998.4 1043.8L998.4 1042.8L998.5 1041.7L998.5 1040.7L998.5 1039.7L998.6 1038.6L998.6 1037.6L998.6 1036.6L998.6 1035.5L998.6 1034.5L998.7 1033.5L998.7 1032.4L998.7 1031.4L998.7 1030.4L998.7 1029.3L998.7 1028.3L998.7 1027.3L998.7 1026.2L998.7 1025.2L998.8 1024.2L998.8 1023.1L998.8 1022.1L998.8 1021.1L998.8 1020L998.8 1019L998.8 1017.9L998.8 1016.9L998.8 1015.9L1000 1015.9L1000 1016.9L1000 1017.9L1000 1019L1000 1020L1000 1021.1L1000 1022.1L1000 1023.1L1000 1024.2L1000 1025.2L1000 1026.2L1000 1027.3L1000 1028.3L1000 1029.3L1000 1030.4L1000.1 1031.4L1000.1 1032.4L1000.1 1033.5L1000.1 1034.5L1000.1 1035.5L1000.1 1036.6L1000.2 1037.6L1000.2 1038.6L1000.2 1039.7L1000.2 1040.7L1000.3 1041.7L1000.3 1042.8L1000.3 1043.8L1000.4 1044.8L1000.5 1045.9L1000.7 1046.9L1001.2 1047.9L1001.7 1049L1002.3 1050L1003.1 1051.1L1004.5 1052.1L1006.1 1053.1L1007.7 1054.2L1009.1 1055.2L1010.3 1056.2L1011.5 1057.3L1012.6 1058.3L1013.4 1059.3L1013.9 1060.4L1013.6 1061.4L1012.7 1062.4L1011.3 1063.5L1009.4 1064.5Z" fill="#c6e5b4" class="v"/>
<path class="d" d="M993.7 1058.8h0M1002.9 1061.6h0M1009.9 1061.4h0M1006.6 1057.6h0M988 1063.2h0M989.1 1064.8h0M1002.2 1056.3h0M1009 1054.8h0M1011.7 1059.6h0M987.9 1057.3h0M988.9 1053.4h0M1008.8 1055.5h0M1002.7 1062.3h0M1005.7 1055.8h0M991.6 1060.8h0M991.3 1051.9h0M1000 1062.8h0M999.1 1064.2h0M996.9 1063.8h0M991.1 1064.7h0M1000.3 1059.3h0M1001 1063.1h0M1002.1 1060.1h0M998 1052.3h0M993.9 1056.8h0M1006.5 1061.4h0M987.8 1059.2h0M999.1 1063.1h0M998.3 1064.3h0M990.5 1059.2h0M1005.6 1058.3h0M1011.3 1060.7h0M1009.4 1059.1h0M996.5 1057.3h0M992.4 1056.8h0M1006.4 1054h0M1009.6 1054.6h0M1002.3 1055.7h0M1002.4 1062.2h0M1003.3 1061.8h0M1005.8 1058.5h0M990.6 1056h0M986.9 1062.7h0M995.3 1052.9h0M1002.9 1060.7h0M1008.4 1054.3h0M989.6 1053.1h0M991.8 1059.8h0M997.4 1060.9h0M1001.6 1058.1h0M1005 1060.9h0M989.9 1059.5h0M1007.2 1062.3h0M1002.1 1056.2h0M1001.8 1057.9h0M994.1 1015.9h0M987.4 1034.1h0M1009.4 1045.8h0M1000.3 1039.8h0M997.2 1045.8h0"/>
<path d="M1016.8 1063.2L1017.7 1062L1018.6 1060.7L1019.6 1059.5L1020.7 1058.2L1021.8 1057L1023.1 1055.7L1024.5 1054.5L1025.9 1053.2L1026.9 1052L1027.5 1050.8L1027.9 1049.5L1028.2 1048.3L1028.5 1047L1028.7 1045.8L1028.9 1044.5L1029.1 1043.3L1029.3 1042L1029.5 1040.8L1029.7 1039.6L1029.9 1038.3L1030 1037.1L1030.2 1035.8L1030.2 1034.6L1030.3 1033.3L1030.3 1032.1L1030.3 1030.8L1030.3 1029.6L1030.4 1028.3L1030.4 1027.1L1030.4 1025.9L1030.4 1024.6L1030.4 1023.4L1030.4 1022.1L1030.4 1020.9L1030.4 1019.6L1030.5 1018.4L1030.5 1017.1L1030.5 1015.9L1030.5 1014.7L1030.5 1013.4L1030.5 1012.2L1030.5 1010.9L1030.5 1009.7L1030.5 1008.4L1030.5 1007.2L1030.5 1005.9L1030.5 1004.7L1032.1 1004.7L1032.1 1005.9L1032.1 1007.2L1032.1 1008.4L1032.1 1009.7L1032.1 1010.9L1032.1 1012.2L1032.1 1013.4L1032.1 1014.7L1032.1 1015.9L1032.1 1017.1L1032.1 1018.4L1032.2 1019.6L1032.2 1020.9L1032.2 1022.1L1032.2 1023.4L1032.2 1024.6L1032.2 1025.9L1032.2 1027.1L1032.2 1028.3L1032.3 1029.6L1032.3 1030.8L1032.3 1032.1L1032.3 1033.3L1032.4 1034.6L1032.4 1035.8L1032.6 1037.1L1032.7 1038.3L1032.9 1039.6L1033.1 1040.8L1033.3 1042L1033.5 1043.3L1033.7 1044.5L1033.9 1045.8L1034.1 1047L1034.4 1048.3L1034.7 1049.5L1035.1 1050.8L1035.7 1052L1036.7 1053.2L1038.1 1054.5L1039.5 1055.7L1040.8 1057L1041.9 1058.2L1043 1059.5L1044 1060.7L1044.9 1062L1045.8 1063.2Z" fill="#edf4b8" class="v"/>
<path class="d" d="M1040.9 1052.6h0M1043.6 1055h0M1025.4 1050.3h0M1038.7 1063.8h0M1027.6 1055.5h0M1033.2 1057.8h0M1023.3 1056.3h0M1040.6 1059.9h0M1032 1063.2h0M1043.6 1062.5h0M1034.1 1062.1h0M1034.1 1054.7h0M1031.6 1048.6h0M1034.1 1046.6h0M1034.2 1060.5h0M1033.6 1050.6h0M1035.6 1062h0M1032.1 1058.2h0M1038 1059.4h0M1023.1 1045.8h0M1027 1063h0M1035.5 1062.1h0M1034.2 1060.8h0M1031.9 1063.4h0M1037.8 1060.3h0M1034.7 1048.9h0M1041.7 1045.4h0M1019.1 1056.5h0M1024.6 1058.3h0M1027.8 1052.5h0M1019.2 1063.2h0M1022.3 1055.3h0M1038.2 1061.7h0M1023.5 1059.7h0M1038.7 1059.4h0M1039.3 1057.6h0M1028.4 1058.5h0M1033.2 1057h0M1033.7 1052.9h0M1043.2 1060.7h0M1036.4 1004.2h0M1018.6 1020.8h0M1042.6 1028.1h0M1021 1033h0M1023.4 1032h0"/>
<path d="M54.6 940.6V1088.7H1051.6" class="ax"/>
<path d="M48.3 1063.2H54.6" class="ax"/>
<text x="44.3" y="1070.9" class="tl" text-anchor="end">0</text>
<path d="M48.3 1037.2H54.6" class="ax"/>
<text x="44.3" y="1044.9" class="tl" text-anchor="end">1</text>
<path d="M48.3 1011.2H54.6" class="ax"/>
<text x="44.3" y="1018.9" class="tl" text-anchor="end">2</text>
<path d="M48.3 985.2H54.6" class="ax"/>
<text x="44.3" y="992.9" class="tl" text-anchor="end">3</text>
<path d="M48.3 959.2H54.6" class="ax"/>
<text x="44.3" y="966.9" class="tl" text-anchor="end">4</text>
<path d="M73.5 1088.7V1095" class="ax"/>
<path d="M105.4 1088.7V1095" class="ax"/>
<path d="M137.4 1088.7V1095" class="ax"/>
<path d="M169.3 1088.7V1095" class="ax"/>
<path d="M201.2 1088.7V1095" class="ax"/>
<path d="M233.1 1088.7V1095" class="ax"/>
<path d="M265.1 1088.7V1095" class="ax"/>
<path d="M297 1088.7V1095" class="ax"/>
<path d="M328.9 1088.7V1095" class="ax"/>
<path d="M360.8 1088.7V1095" class="ax"/>
<path d="M392.8 1088.7V1095" class="ax"/>
<path d="M424.7 1088.7V1095" class="ax"/>
<path d="M456.6 1088.7V1095" class="ax"/>
<path d="M488.5 1088.7V1095" class="ax"/>
<path d="M520.5 1088.7V1095" class="ax"/>
<path d="M552.4 1088.7V1095" class="ax"/>
<path d="M584.3 1088.7V1095" class="ax"/>
<path d="M616.3 1088.7V1095" class="ax"/>
<path d="M648.2 1088.7V1095" class="ax"/>
<path d="M680.1 1088.7V1095" class="ax"/>
<path d="M712 1088.7V1095" class="ax"/>
<path d="M744 1088.7V1095" class="ax"/>
<path d="M775.9 1088.7V1095" class="ax"/>
<path d="M807.8 1088.7V1095" class="ax"/>
<path d="M839.7 1088.7V1095" class="ax"/>
<path d="M871.7 1088.7V1095" class="ax"/>
<path d="M903.6 1088.7V1095" class="ax"/>
<path d="M935.5 1088.7V1095" class="ax"/>
<path d="M967.4 1088.7V1095" class="ax"/>
<path d="M999.4 1088.7V1095" class="ax"/>
<path d="M1031.3 1088.7V1095" class="ax"/>
<text x="552.5" y="920.7" class="tt" text-anchor="middle">Reg3b</text>
</g>
<g>
<path d="M56.5 1268.1H84.5" class="zl"/>
<path d="M70.5 1268.1V1190.4M69 1190.4H72" class="vl"/>
<path class="d" d="M59.3 1268.1h0M60 1268.1h0M61.7 1268.1h0M62.9 1268.1h0M64.4 1268.1h0M66 1268.1h0M66.8 1268.1h0M68.9 1268.1h0M70.2 1268.1h0M71 1268.1h0M72.3 1268.1h0M74.2 1268.1h0M75.3 1268.1h0M76.4 1268.1h0M78.2 1268.1h0M79.1 1268.1h0M80.8 1268.1h0M82.2 1268.1h0M65.4 1190.8h0M66 1225.1h0"/>
<path d="M88.5 1268.1H116.5" class="zl"/>
<path d="M102.5 1268.1V1222.7M101 1222.7H104" class="vl"/>
<path class="d" d="M91.2 1268.1h0M92.3 1268.1h0M93.9 1268.1h0M95.2 1268.1h0M96.3 1268.1h0M98.3 1268.1h0M99.2 1268.1h0M100.5 1268.1h0M101.9 1268.1h0M103.7 1268.1h0M105.2 1268.1h0M106.1 1268.1h0M107.5 1268.1h0M109.3 1268.1h0M110.8 1268.1h0M112.2 1268.1h0M113.6 1268.1h0M94.8 1222.7h0M100.2 1226.7h0"/>
<path d="M120.6 1268.1H148.6" class="zl"/>
<path d="M134.6 1268.1V1189.2M133.1 1189.2H136.1" class="vl"/>
<path class="d" d="M123.9 1268.1h0M125.1 1268.1h0M126.5 1268.1h0M128.4 1268.1h0M129.2 1268.1h0M131.1 1268.1h0M132.9 1268.1h0M134 1268.1h0M135.2 1268.1h0M137.4 1268.1h0M138.4 1268.1h0M139.9 1268.1h0M141.2 1268.1h0M143 1268.1h0M144.8 1268.1h0M146.3 1268.1h0M127.3 1188.4h0M135.2 1189.6h0M135.8 1192.4h0M139.5 1222.3h0M129.7 1226.7h0M133.4 1229h0M130.9 1251.5h0"/>
<path d="M152.1 1268.1L152.3 1266.9L152.5 1265.7L152.8 1264.5L153.1 1263.3L153.4 1262.1L153.7 1260.9L154.1 1259.7L154.6 1258.5L155.1 1257.3L155.6 1256.1L156.2 1254.9L156.7 1253.7L157.3 1252.5L157.8 1251.3L158.3 1250.1L158.7 1248.9L159.1 1247.7L159.5 1246.5L159.9 1245.3L160.3 1244.1L160.7 1242.9L161.1 1241.7L161.5 1240.5L161.9 1239.3L162.2 1238.1L162.5 1236.9L162.8 1235.7L163.1 1234.5L163.3 1233.3L163.4 1232.1L163.6 1230.9L163.6 1229.7L163.7 1228.5L163.8 1227.3L163.8 1226.1L163.9 1224.9L163.9 1223.7L164 1222.5L164 1221.3L164 1220.1L164.1 1218.9L164.1 1217.7L164.1 1216.5L164.1 1215.3L164.1 1214.1L164.1 1212.9L164.1 1211.7L169.1 1211.7L169.1 1212.9L169.1 1214.1L169.1 1215.3L169.1 1216.5L169.1 1217.7L169.1 1218.9L169.1 1220.1L169.1 1221.3L169.2 1222.5L169.2 1223.7L169.3 1224.9L169.3 1226.1L169.4 1227.3L169.5 1228.5L169.5 1229.7L169.6 1230.9L169.7 1232.1L169.9 1233.3L170.1 1234.5L170.3 1235.7L170.6 1236.9L170.9 1238.1L171.3 1239.3L171.6 1240.5L172 1241.7L172.4 1242.9L172.8 1244.1L173.3 1245.3L173.7 1246.5L174.1 1247.7L174.5 1248.9L174.9 1250.1L175.4 1251.3L175.9 1252.5L176.4 1253.7L177 1254.9L177.5 1256.1L178.1 1257.3L178.6 1258.5L179 1259.7L179.4 1260.9L179.8 1262.1L180.1 1263.3L180.4 1264.5L180.6 1265.7L180.9 1266.9L181.1 1268.1Z" fill="#1b7893" class="v"/>
<path class="d" d="M164.5 1212.1h0M164.5 1230.6h0M177.3 1249.6h0M168.6 1268.1h0M171.6 1268.1h0M174.6 1268.1h0M177.6 1268.1h0M178.6 1267.3h0"/>
<path d="M193.6 1268.9L192.5 1268.6L191.5 1268.2L190.5 1267.9L189.6 1267.6L188.8 1267.3L188 1266.9L187.4 1266.6L186.8 1266.3L186.4 1265.9L185.9 1265.6L185.5 1265.3L185.1 1265L184.8 1264.6L184.5 1264.3L184.3 1264L184.1 1263.7L184.1 1263.3L184.2 1263L184.4 1262.7L184.8 1262.3L185.3 1262L185.8 1261.7L186.4 1261.4L187 1261L187.7 1260.7L188.3 1260.4L188.9 1260.1L189.7 1259.7L190.6 1259.4L191.6 1259.1L192.6 1258.7L193.6 1258.4L194.4 1258.1L195.1 1257.8L195.6 1257.4L196 1257.1L196.3 1256.8L196.6 1256.4L196.9 1256.1L197.1 1255.8L197.1 1255.5L197.1 1255.1L196.9 1254.8L196.7 1254.5L196.4 1254.2L196.1 1253.8L195.6 1253.5L201.6 1253.5L201.2 1253.8L200.8 1254.2L200.5 1254.5L200.3 1254.8L200.2 1255.1L200.1 1255.5L200.2 1255.8L200.3 1256.1L200.6 1256.4L200.9 1256.8L201.2 1257.1L201.6 1257.4L202.1 1257.8L202.8 1258.1L203.6 1258.4L204.6 1258.7L205.6 1259.1L206.6 1259.4L207.5 1259.7L208.3 1260.1L208.9 1260.4L209.6 1260.7L210.2 1261L210.8 1261.4L211.4 1261.7L211.9 1262L212.4 1262.3L212.8 1262.7L213 1263L213.1 1263.3L213.1 1263.7L212.9 1264L212.7 1264.3L212.4 1264.6L212.1 1265L211.7 1265.3L211.3 1265.6L210.9 1265.9L210.4 1266.3L209.9 1266.6L209.2 1266.9L208.5 1267.3L207.6 1267.6L206.7 1267.9L205.7 1268.2L204.7 1268.6L203.6 1268.9Z" fill="#1a7b92" class="v"/>
<path class="d" d="M208.2 1253.9h0M196.4 1264.2h0M198.2 1260.2h0M196 1267.7h0"/>
<path d="M216.6 1266.1L216.4 1264.4L216.2 1262.7L216.1 1261L216.1 1259.3L216.3 1257.6L217 1255.9L217.9 1254.2L219 1252.5L220 1250.8L220.7 1249.1L221.2 1247.4L221.6 1245.7L222 1244L222.4 1242.3L222.8 1240.6L223.1 1238.9L223.5 1237.2L223.8 1235.5L224.1 1233.8L224.4 1232L224.7 1230.3L225 1228.6L225.3 1226.9L225.6 1225.2L225.9 1223.5L226.2 1221.8L226.4 1220.1L226.7 1218.4L227 1216.7L227.2 1215L227.4 1213.3L227.7 1211.6L227.8 1209.9L228 1208.2L228.1 1206.5L228.3 1204.8L228.4 1203.1L228.5 1201.4L228.6 1199.7L228.7 1198L228.8 1196.3L228.9 1194.6L229 1192.9L229 1191.2L229.1 1189.5L229.1 1187.7L229.1 1186L232.1 1186L232.1 1187.7L232.2 1189.5L232.2 1191.2L232.3 1192.9L232.4 1194.6L232.5 1196.3L232.6 1198L232.7 1199.7L232.8 1201.4L232.9 1203.1L233 1204.8L233.1 1206.5L233.3 1208.2L233.4 1209.9L233.6 1211.6L233.8 1213.3L234 1215L234.3 1216.7L234.5 1218.4L234.8 1220.1L235.1 1221.8L235.4 1223.5L235.7 1225.2L236 1226.9L236.3 1228.6L236.6 1230.3L236.9 1232L237.2 1233.8L237.5 1235.5L237.8 1237.2L238.1 1238.9L238.5 1240.6L238.8 1242.3L239.2 1244L239.7 1245.7L240.1 1247.4L240.6 1249.1L241.3 1250.8L242.3 1252.5L243.3 1254.2L244.3 1255.9L244.9 1257.6L245.1 1259.3L245.1 1261L245.1 1262.7L244.9 1264.4L244.6 1266.1Z" fill="#187e91" class="v"/>
<path class="d" d="M219.8 1257.9h0M224.8 1259.1h0M238.7 1265.1h0M242.3 1260.9h0M235.3 1266.2h0M239.7 1266.9h0M220.6 1262.6h0M234.9 1259h0M231.6 1261.7h0M230.8 1263.5h0M219 1186h0M218.8 1202.6h0M223.8 1226.7h0M219.6 1231.4h0M232.4 1232.6h0M227.5 1234.2h0M234.9 1242.9h0M226.9 1255.9h0M241.6 1255.9h0"/>
<path d="M258.7 1276L257.7 1275.5L256.7 1275.1L255.8 1274.7L254.9 1274.2L254 1273.8L253.3 1273.3L252.6 1272.9L252.1 1272.4L251.6 1272L251.2 1271.5L250.8 1271.1L250.4 1270.7L250.1 1270.2L249.7 1269.8L249.4 1269.3L249.1 1268.9L248.8 1268.4L248.6 1268L248.4 1267.5L248.3 1267.1L248.2 1266.6L248.2 1266.2L248.2 1265.8L248.2 1265.3L248.2 1264.9L248.2 1264.4L248.2 1264L248.3 1263.5L248.3 1263.1L248.3 1262.6L248.4 1262.2L248.4 1261.8L248.5 1261.3L248.6 1260.9L248.6 1260.4L248.7 1260L248.8 1259.5L248.9 1259.1L249.1 1258.6L249.3 1258.2L249.6 1257.8L249.9 1257.3L250.2 1256.9L250.5 1256.4L251 1256L251.8 1255.5L252.7 1255.1L272.7 1255.1L273.5 1255.5L274.3 1256L274.8 1256.4L275.1 1256.9L275.5 1257.3L275.7 1257.8L276 1258.2L276.2 1258.6L276.4 1259.1L276.5 1259.5L276.6 1260L276.7 1260.4L276.8 1260.9L276.8 1261.3L276.9 1261.8L276.9 1262.2L277 1262.6L277 1263.1L277.1 1263.5L277.1 1264L277.1 1264.4L277.1 1264.9L277.1 1265.3L277.2 1265.8L277.2 1266.2L277.1 1266.6L277 1267.1L276.9 1267.5L276.7 1268L276.5 1268.4L276.2 1268.9L275.9 1269.3L275.6 1269.8L275.3 1270.2L274.9 1270.7L274.5 1271.1L274.1 1271.5L273.7 1272L273.3 1272.4L272.7 1272.9L272 1273.3L271.3 1273.8L270.4 1274.2L269.6 1274.7L268.6 1275.1L267.7 1275.5L266.7 1276Z" fill="#178190" class="v"/>
<path class="d" d="M268.4 1265.9h0M269.6 1259.4h0M264.7 1255.5h0M259.4 1272.7h0M265.7 1268.7h0M258.2 1256.4h0M272.7 1260.7h0M261.6 1274.3h0M263.7 1263.6h0M252.5 1270.5h0M256.7 1258.2h0M270.1 1257.8h0M250.4 1269.5h0M270 1262.1h0M263.7 1275.2h0M253.9 1264.9h0M268.1 1267.5h0M254.6 1266.3h0M268.1 1268.1h0M266.9 1271.4h0M269.3 1258.8h0M258.7 1260.5h0M255.4 1262.5h0M272.2 1264.4h0"/>
<path d="M281.7 1264.9L280.9 1262.7L280.6 1260.4L280.5 1258.2L280.3 1255.9L280.3 1253.7L280.2 1251.4L280.2 1249.2L280.3 1246.9L280.5 1244.7L280.9 1242.4L281.4 1240.2L281.9 1238L282.4 1235.7L283 1233.5L283.6 1231.2L284.1 1229L284.8 1226.7L285.5 1224.5L286.3 1222.2L287 1220L287.7 1217.7L288.2 1215.5L288.6 1213.2L288.8 1211L288.9 1208.7L289 1206.5L289 1204.2L289.1 1202L289.2 1199.7L289.2 1197.5L289.3 1195.2L289.3 1193L289.4 1190.7L289.4 1188.5L289.5 1186.2L289.5 1184L289.6 1181.7L289.7 1179.5L289.8 1177.2L289.9 1175L290.1 1172.7L290.2 1170.5L290.4 1168.2L290.5 1166L290.6 1163.7L290.6 1161.5L290.7 1159.2L298.7 1159.2L298.7 1161.5L298.8 1163.7L298.9 1166L299 1168.2L299.1 1170.5L299.3 1172.7L299.4 1175L299.6 1177.2L299.7 1179.5L299.8 1181.7L299.8 1184L299.9 1186.2L300 1188.5L300 1190.7L300.1 1193L300.1 1195.2L300.1 1197.5L300.2 1199.7L300.3 1202L300.3 1204.2L300.4 1206.5L300.5 1208.7L300.6 1211L300.8 1213.2L301.1 1215.5L301.7 1217.7L302.4 1220L303.1 1222.2L303.9 1224.5L304.6 1226.7L305.3 1229L305.8 1231.2L306.4 1233.5L306.9 1235.7L307.5 1238L308 1240.2L308.5 1242.4L308.9 1244.7L309.1 1246.9L309.2 1249.2L309.2 1251.4L309.1 1253.7L309 1255.9L308.9 1258.2L308.8 1260.4L308.4 1262.7L307.7 1264.9Z" fill="#16848f" class="v"/>
<path class="d" d="M289.8 1238.2h0M285.4 1215.4h0M292 1190.9h0M282.3 1192.7h0M294.6 1263.1h0M299.7 1167.5h0M306.6 1206.6h0M294.3 1252.6h0M286.5 1252.2h0M303.1 1226.1h0M305.4 1261.9h0M307.1 1235.7h0M282.9 1242.2h0M287.9 1245.8h0M287.2 1258.9h0M300.8 1228.7h0M290.9 1217h0M298.3 1173h0M305.9 1160h0M305.3 1173.4h0M285.1 1167.1h0M285.1 1188.4h0M304.1 1221.5h0"/>
<path d="M317.7 1264.9L318.1 1262.6L318.4 1260.3L318.8 1257.9L319.1 1255.6L319.3 1253.3L319.6 1250.9L319.8 1248.6L319.9 1246.3L320.1 1243.9L320.3 1241.6L320.4 1239.3L320.6 1236.9L320.6 1234.6L320.7 1232.3L320.7 1229.9L320.6 1227.6L320.4 1225.3L320.2 1222.9L319.9 1220.6L319.6 1218.3L319.2 1215.9L318.6 1213.6L317.9 1211.3L317.2 1208.9L316.4 1206.6L315.7 1204.3L315.1 1201.9L314.6 1199.6L314.2 1197.3L313.7 1194.9L313.3 1192.6L312.9 1190.3L312.6 1187.9L312.4 1185.6L312.2 1183.3L312.2 1180.9L312.4 1178.6L312.9 1176.3L313.4 1173.9L314.1 1171.6L314.8 1169.3L315.7 1166.9L316.8 1164.6L318 1162.3L319.2 1159.9L320.6 1157.6L322.1 1155.3L331.3 1155.3L332.8 1157.6L334.2 1159.9L335.5 1162.3L336.7 1164.6L337.8 1166.9L338.7 1169.3L339.3 1171.6L340 1173.9L340.6 1176.3L341 1178.6L341.2 1180.9L341.2 1183.3L341 1185.6L340.8 1187.9L340.5 1190.3L340.1 1192.6L339.7 1194.9L339.3 1197.3L338.8 1199.6L338.4 1201.9L337.7 1204.3L337 1206.6L336.3 1208.9L335.5 1211.3L334.8 1213.6L334.2 1215.9L333.8 1218.3L333.5 1220.6L333.2 1222.9L333 1225.3L332.8 1227.6L332.7 1229.9L332.7 1232.3L332.8 1234.6L332.9 1236.9L333 1239.3L333.1 1241.6L333.3 1243.9L333.5 1246.3L333.7 1248.6L333.9 1250.9L334.1 1253.3L334.4 1255.6L334.7 1257.9L335 1260.3L335.3 1262.6L335.7 1264.9Z" fill="#1a8791" class="v"/>
<path class="d" d="M331.6 1197.7h0M324.6 1216.7h0M322.1 1208.9h0M321.3 1168.8h0M324.3 1163.1h0M337.5 1208h0M330.5 1166.8h0M337.5 1197.9h0M336.7 1218.3h0M315.2 1175.4h0M314.7 1223.2h0M321.4 1177.5h0M327.4 1199.3h0M320.1 1183.6h0M323.8 1211h0M330.1 1167.3h0M333 1175.8h0M333.2 1230h0M337.7 1181.4h0M320.9 1183.8h0M324.1 1227.2h0M336.4 1186.6h0M328.3 1173.7h0M334 1204.1h0M329.9 1159.6h0M316.9 1190.5h0M321.5 1171.3h0M316.7 1195.1h0M336.9 1201.2h0M335.9 1164.9h0M332.3 1171.1h0M334.8 1192.2h0M337.7 1187.4h0M331.8 1188h0M331.1 1189.5h0M338.7 1212.8h0M332.2 1224h0M320.8 1202.1h0M330.1 1180.5h0M333.6 1207.3h0M314.5 1268.1h0M316.9 1268.1h0M319.9 1268.1h0M320.8 1268.1h0M322.9 1268.1h0M325.8 1268.1h0M327.2 1268.1h0M329.3 1268.1h0M332 1268.1h0M334.7 1268.1h0M336.4 1268.1h0M338.2 1268.1h0M317.7 1161.6h0M323.7 1232.6h0M318.7 1228.6h0M335.7 1244.4h0M337.7 1216.8h0"/>
<path d="M344.7 1268.1H372.7" class="zl"/>
<path d="M358.7 1268.1V1241.7M357.2 1241.7H360.2" class="vl"/>
<path class="d" d="M347.6 1268.1h0M349.1 1268.1h0M350.5 1268.1h0M351.5 1268.1h0M353.3 1268.1h0M354.5 1268.1h0M356.5 1268.1h0M357.6 1268.1h0M359.2 1268.1h0M360.4 1268.1h0M362.4 1268.1h0M364.1 1268.1h0M365.4 1268.1h0M367 1268.1h0M368 1268.1h0M369.7 1268.1h0M362.8 1241.7h0"/>
<path d="M376.8 1268.1H404.8" class="zl"/>
<path class="d" d="M379 1268.1h0M380.5 1268.1h0M382 1268.1h0M383.4 1268.1h0M385.1 1268.1h0M386.6 1268.1h0M387.9 1268.1h0M389.2 1268.1h0M391 1268.1h0M392.5 1268.1h0M393.9 1268.1h0M395.1 1268.1h0M396.8 1268.1h0M398.1 1268.1h0M399.3 1268.1h0M400.8 1268.1h0M402.1 1268.1h0"/>
<path d="M408.8 1268.1H436.8" class="zl"/>
<path class="d" d="M411.8 1268.1h0M415 1268.1h0M418.1 1268.1h0M422 1268.1h0M426 1268.1h0M429.8 1268.1h0"/>
<path d="M440.8 1268.1H468.8" class="zl"/>
<path class="d" d="M443.7 1268.1h0M444.9 1268.1h0M446.5 1268.1h0M447.8 1268.1h0M448.9 1268.1h0M450.2 1268.1h0M452 1268.1h0M453.7 1268.1h0M454.8 1268.1h0M456.5 1268.1h0M457.6 1268.1h0M458.9 1268.1h0M460.7 1268.1h0M461.7 1268.1h0M463.1 1268.1h0M464.9 1268.1h0M466.4 1268.1h0"/>
<path d="M472.8 1268.1H500.8" class="zl"/>
<path d="M486.8 1268.1V1171.4M485.3 1171.4H488.3" class="vl"/>
<path class="d" d="M475.1 1268.1h0M477.2 1268.1h0M478.6 1268.1h0M479.8 1268.1h0M481.6 1268.1h0M483.3 1268.1h0M484.3 1268.1h0M486.3 1268.1h0M487.3 1268.1h0M488.8 1268.1h0M490.3 1268.1h0M492.1 1268.1h0M493.4 1268.1h0M495.5 1268.1h0M496.4 1268.1h0M498.7 1268.1h0M485.2 1171.4h0M479.1 1244.4h0M482.8 1248.4h0M488.9 1249.6h0M493.8 1257.4h0M496.3 1259.4h0M479.1 1271.3h0M476.8 1264.2h0M480.8 1262.2h0M483.8 1260.2h0M486.8 1263.4h0M489.8 1264.2h0M491.8 1261h0M485.8 1256.3h0M497.8 1264.2h0"/>
<path d="M504.4 1268.1L504.7 1267L505.2 1265.8L505.6 1264.7L506.2 1263.6L506.8 1262.4L507.5 1261.3L508.2 1260.2L508.9 1259L509.6 1257.9L510.4 1256.8L511.2 1255.6L512 1254.5L512.8 1253.4L513.5 1252.2L514.1 1251.1L514.6 1250L515 1248.8L515.3 1247.7L515.5 1246.6L515.8 1245.4L516 1244.3L516.2 1243.2L516.4 1242L516.6 1240.9L516.7 1239.8L516.9 1238.6L517 1237.5L517.1 1236.4L517.2 1235.2L517.3 1234.1L517.4 1233L517.5 1231.8L517.6 1230.7L517.6 1229.6L517.7 1228.4L517.7 1227.3L517.8 1226.2L517.8 1225L517.9 1223.9L517.9 1222.8L517.9 1221.6L518 1220.5L518 1219.4L518 1218.2L518.1 1217.1L518.1 1216L518.1 1214.8L519.7 1214.8L519.7 1216L519.7 1217.1L519.7 1218.2L519.7 1219.4L519.8 1220.5L519.8 1221.6L519.8 1222.8L519.9 1223.9L519.9 1225L520 1226.2L520 1227.3L520.1 1228.4L520.1 1229.6L520.2 1230.7L520.2 1231.8L520.3 1233L520.4 1234.1L520.5 1235.2L520.6 1236.4L520.7 1237.5L520.9 1238.6L521 1239.8L521.2 1240.9L521.3 1242L521.5 1243.2L521.7 1244.3L522 1245.4L522.2 1246.6L522.5 1247.7L522.8 1248.8L523.1 1250L523.6 1251.1L524.3 1252.2L525 1253.4L525.8 1254.5L526.6 1255.6L527.4 1256.8L528.2 1257.9L528.9 1259L529.6 1260.2L530.3 1261.3L531 1262.4L531.6 1263.6L532.1 1264.7L532.6 1265.8L533 1267L533.4 1268.1Z" fill="#19a694" class="v"/>
<path class="d" d="M522.5 1259.7h0M516.3 1266.4h0M509.2 1256.8h0M515.2 1258.6h0M523.2 1254.8h0M519.7 1263.7h0M512.2 1267.2h0M512.2 1258.3h0M509.8 1256.8h0M529 1267.6h0M517.8 1255.7h0M527 1264.7h0M509.4 1258.7h0M519.3 1265.6h0M518.4 1263.9h0M529.6 1268.2h0M507 1260.6h0M529.8 1266.6h0M521.4 1262.4h0M528.1 1265.3h0M516.7 1262.3h0M519.9 1262h0M506.5 1268.1h0M511.8 1268.1h0M517.2 1268.1h0M521.9 1268.1h0M526.2 1268.1h0M530.2 1268.1h0M509.7 1214.8h0M506.7 1234.6h0M507.9 1243.6h0M507.9 1251.5h0M522 1241.7h0M523.2 1243.6h0"/>
<path d="M536.4 1264.9L537.2 1263.8L538 1262.7L538.7 1261.5L539.5 1260.4L540.2 1259.3L541 1258.1L541.7 1257L542.5 1255.9L543.4 1254.7L544.2 1253.6L544.9 1252.5L545.6 1251.3L546.1 1250.2L546.4 1249.1L546.7 1247.9L546.9 1246.8L547.1 1245.7L547.3 1244.5L547.5 1243.4L547.7 1242.3L547.8 1241.1L548 1240L548.1 1238.9L548.2 1237.7L548.3 1236.6L548.4 1235.5L548.5 1234.3L548.7 1233.2L548.8 1232.1L548.9 1230.9L549 1229.8L549.1 1228.7L549.2 1227.6L549.3 1226.4L549.4 1225.3L549.5 1224.2L549.6 1223L549.7 1221.9L549.7 1220.8L549.7 1219.6L549.8 1218.5L549.8 1217.4L549.8 1216.2L549.9 1215.1L549.9 1214L549.9 1212.8L549.9 1211.7L551.9 1211.7L551.9 1212.8L551.9 1214L551.9 1215.1L552 1216.2L552 1217.4L552 1218.5L552.1 1219.6L552.1 1220.8L552.1 1221.9L552.2 1223L552.3 1224.2L552.4 1225.3L552.5 1226.4L552.6 1227.6L552.7 1228.7L552.8 1229.8L552.9 1230.9L553 1232.1L553.1 1233.2L553.3 1234.3L553.4 1235.5L553.5 1236.6L553.6 1237.7L553.7 1238.9L553.8 1240L554 1241.1L554.1 1242.3L554.3 1243.4L554.5 1244.5L554.7 1245.7L554.9 1246.8L555.1 1247.9L555.4 1249.1L555.7 1250.2L556.2 1251.3L556.9 1252.5L557.6 1253.6L558.4 1254.7L559.3 1255.9L560.1 1257L560.8 1258.1L561.6 1259.3L562.3 1260.4L563.1 1261.5L563.8 1262.7L564.6 1263.8L565.4 1264.9Z" fill="#18aa96" class="v"/>
<path class="d" d="M545.4 1260h0M541.2 1263.5h0M562.3 1257.6h0M546.1 1265.2h0M546.6 1261h0M555.2 1264h0M540 1252h0M557.8 1259h0M541.4 1254.7h0M543.4 1258.6h0M557.5 1227.1h0M543.4 1240.1h0M539.7 1246.8h0M561.9 1246.8h0M551.4 1211.7h0M542.9 1264.2h0M547.9 1264.9h0M553.9 1264.2h0M559.9 1264.9h0"/>
<path d="M568.9 1268.1H596.9" class="zl"/>
<path d="M582.9 1268.1V1197.1M581.4 1197.1H584.4" class="vl"/>
<path class="d" d="M571.4 1268.1h0M573.1 1268.1h0M574.2 1268.1h0M576.1 1268.1h0M577.9 1268.1h0M578.9 1268.1h0M580.4 1268.1h0M582.1 1268.1h0M583.9 1268.1h0M585.2 1268.1h0M587 1268.1h0M588.1 1268.1h0M590.2 1268.1h0M591.1 1268.1h0M593 1268.1h0M594.7 1268.1h0M587.9 1197.5h0M584.9 1252.7h0"/>
<path d="M601 1268.1H629" class="zl"/>
<path class="d" d="M605 1268.1h0M609 1268.1h0M613.6 1268.1h0M615.7 1268.1h0M617.9 1268.1h0M620.4 1268.1h0M622.3 1268.1h0M624.9 1268.1h0M626.8 1268.1h0"/>
<path d="M633 1268.1H661" class="zl"/>
<path class="d" d="M638.2 1268.1h0M639.8 1268.1h0M642.2 1268.1h0M643.7 1268.1h0M645.8 1268.1h0M647.6 1268.1h0M649.3 1268.1h0M651.5 1268.1h0M653.1 1268.1h0M655.5 1268.1h0M656.9 1268.1h0M659.1 1268.1h0M651 1260.2h0M649 1264.2h0"/>
<path d="M665 1268.1H693" class="zl"/>
<path d="M679 1268.1V1252.7M677.5 1252.7H680.5" class="vl"/>
<path class="d" d="M667.4 1268.1h0M669.1 1268.1h0M671 1268.1h0M672.5 1268.1h0M674.1 1268.1h0M675.9 1268.1h0M678.1 1268.1h0M680.3 1268.1h0M681.4 1268.1h0M683.6 1268.1h0M685.7 1268.1h0M687.4 1268.1h0M689.4 1268.1h0M691.3 1268.1h0M686.5 1253.5h0M688 1265.7h0"/>
<path class="d" d="M707.5 1268.1h0M722.5 1268.1h0"/>
<path d="M729.1 1268.1H757.1" class="zl"/>
<path class="d" d="M731.7 1268.1h0M734.4 1268.1h0M736.9 1268.1h0M739.3 1268.1h0M743.3 1268.1h0M745.3 1268.1h0M747.3 1268.1h0M749.6 1268.1h0M751.7 1268.1h0M754.4 1268.1h0"/>
<path d="M761.1 1268.1H789.1" class="zl"/>
<path class="d" d="M767.1 1268.1h0M773 1268.1h0M776.4 1268.1h0M778.9 1268.1h0M782.1 1268.1h0"/>
<path d="M793.1 1268.1H821.1" class="zl"/>
<path class="d" d="M795.5 1268.1h0M797.3 1268.1h0M798.7 1268.1h0M800.2 1268.1h0M801.5 1268.1h0M803 1268.1h0M803.9 1268.1h0M805.9 1268.1h0M806.9 1268.1h0M808.5 1268.1h0M809.9 1268.1h0M811.5 1268.1h0M812.5 1268.1h0M814 1268.1h0M816.1 1268.1h0M817.4 1268.1h0M819 1268.1h0"/>
<path d="M825.1 1268.1H853.1" class="zl"/>
<path class="d" d="M827.1 1268.1h0M831 1268.1h0M832.8 1268.1h0M834.8 1268.1h0M836.5 1268.1h0M838.7 1268.1h0M840.7 1268.1h0M842.5 1268.1h0M844.1 1268.1h0M845.9 1268.1h0M848.4 1268.1h0M850.5 1268.1h0"/>
<path d="M857.2 1268.1H885.2" class="zl"/>
<path class="d" d="M859.9 1268.1h0M861.5 1268.1h0M862.7 1268.1h0M864.1 1268.1h0M865.9 1268.1h0M867 1268.1h0M868.8 1268.1h0M870.5 1268.1h0M872.3 1268.1h0M873.1 1268.1h0M874.6 1268.1h0M876.5 1268.1h0M877.8 1268.1h0M880 1268.1h0M881.5 1268.1h0M882.6 1268.1h0M860.8 1257.4h0M868.7 1260.2h0M871.2 1263.4h0"/>
<path d="M889.2 1268.1H917.2" class="zl"/>
<path class="d" d="M893 1268.1h0M893.9 1268.1h0M895.8 1268.1h0M897.8 1268.1h0M898.7 1268.1h0M900.8 1268.1h0M902.3 1268.1h0M903.7 1268.1h0M905.1 1268.1h0M906.9 1268.1h0M908.4 1268.1h0M909.8 1268.1h0M911.5 1268.1h0M912.8 1268.1h0M915 1268.1h0"/>
<path d="M930.2 1231.4L930.2 1230L930.2 1228.6L930.2 1227.2L930.1 1225.8L930.1 1224.4L930 1223L929.9 1221.5L929.8 1220.1L929.7 1218.7L929.6 1217.3L929.4 1215.9L929.2 1214.5L928.9 1213.1L928.6 1211.7L928.3 1210.3L927.9 1208.8L927.5 1207.4L927.2 1206L926.8 1204.6L926.3 1203.2L925.8 1201.8L925.3 1200.4L924.7 1199L924.2 1197.6L923.8 1196.2L923.4 1194.7L923.1 1193.3L922.8 1191.9L922.5 1190.5L922.3 1189.1L922 1187.7L921.8 1186.3L921.5 1184.9L921.3 1183.5L921.2 1182.1L921 1180.6L920.9 1179.2L920.8 1177.8L920.7 1176.4L920.7 1175L920.7 1173.6L920.8 1172.2L920.9 1170.8L921 1169.4L921.1 1168L921.2 1166.5L921.4 1165.1L949 1165.1L949.2 1166.5L949.4 1168L949.5 1169.4L949.6 1170.8L949.7 1172.2L949.7 1173.6L949.7 1175L949.7 1176.4L949.7 1177.8L949.6 1179.2L949.4 1180.6L949.3 1182.1L949.1 1183.5L948.9 1184.9L948.7 1186.3L948.4 1187.7L948.2 1189.1L947.9 1190.5L947.6 1191.9L947.3 1193.3L947 1194.7L946.7 1196.2L946.2 1197.6L945.7 1199L945.2 1200.4L944.6 1201.8L944.1 1203.2L943.7 1204.6L943.3 1206L942.9 1207.4L942.5 1208.8L942.2 1210.3L941.8 1211.7L941.5 1213.1L941.2 1214.5L941 1215.9L940.8 1217.3L940.7 1218.7L940.6 1220.1L940.5 1221.5L940.5 1223L940.4 1224.4L940.3 1225.8L940.3 1227.2L940.2 1228.6L940.2 1230L940.2 1231.4Z" fill="#8bd1aa" class="v"/>
<path class="d" d="M946.5 1165.1h0M946.7 1166.7h0M946.5 1175h0M923.8 1186h0M931.2 1193.9h0M931.8 1205.8h0M930.5 1231.4h0"/>
<path d="M953.2 1268.1H981.2" class="zl"/>
<path class="d" d="M956.2 1268.1h0M958.3 1268.1h0M960 1268.1h0M962.1 1268.1h0M966.6 1268.1h0M968.2 1268.1h0M970.4 1268.1h0M972.4 1268.1h0M973.9 1268.1h0M975.9 1268.1h0"/>
<path d="M989.3 1269.3L987.6 1268.3L986.3 1267.3L985.3 1266.3L984.8 1265.3L984.8 1264.3L985.1 1263.3L985.7 1262.4L986.4 1261.4L987.1 1260.4L988.3 1259.4L990.2 1258.4L992.3 1257.4L994.1 1256.4L995.4 1255.4L996.7 1254.4L997.8 1253.4L998.3 1252.4L998.3 1251.5L998.3 1250.5L998.4 1249.5L998.4 1248.5L998.4 1247.5L998.4 1246.5L998.5 1245.5L998.5 1244.5L998.5 1243.5L998.5 1242.5L998.5 1241.6L998.6 1240.6L998.6 1239.6L998.6 1238.6L998.6 1237.6L998.6 1236.6L998.6 1235.6L998.6 1234.6L998.6 1233.6L998.6 1232.6L998.7 1231.6L998.7 1230.7L998.7 1229.7L998.7 1228.7L998.7 1227.7L998.7 1226.7L998.7 1225.7L998.7 1224.7L998.7 1223.7L998.7 1222.7L999.9 1222.7L999.9 1223.7L999.9 1224.7L999.9 1225.7L999.9 1226.7L999.9 1227.7L999.9 1228.7L999.9 1229.7L999.9 1230.7L999.9 1231.6L999.9 1232.6L999.9 1233.6L999.9 1234.6L999.9 1235.6L999.9 1236.6L999.9 1237.6L1000 1238.6L1000 1239.6L1000 1240.6L1000 1241.6L1000 1242.5L1000 1243.5L1000.1 1244.5L1000.1 1245.5L1000.1 1246.5L1000.1 1247.5L1000.2 1248.5L1000.2 1249.5L1000.2 1250.5L1000.2 1251.5L1000.3 1252.4L1000.8 1253.4L1001.8 1254.4L1003.1 1255.4L1004.5 1256.4L1006.2 1257.4L1008.3 1258.4L1010.2 1259.4L1011.4 1260.4L1012.2 1261.4L1012.9 1262.4L1013.4 1263.3L1013.7 1264.3L1013.7 1265.3L1013.2 1266.3L1012.3 1267.3L1010.9 1268.3L1009.3 1269.3Z" fill="#c6e5b4" class="v"/>
<path class="d" d="M991.1 1263.4h0M997.5 1263.9h0M1005.1 1267.5h0M989.4 1266.4h0M994.1 1266.6h0M999.5 1264.9h0M1004.8 1259.4h0M995.2 1265.5h0M1001.3 1268.8h0M1010.4 1264.7h0M1002.4 1263.3h0M1006.3 1261.1h0M999.3 1260.4h0M998.5 1267.1h0M988.3 1268.4h0M1004.6 1268.1h0M990.9 1261.2h0M988.7 1258.9h0M1009.8 1264.9h0M1003.9 1256.6h0M999.5 1269.5h0M1002.8 1260.6h0M1011 1262.9h0M1002.8 1264.2h0M995.6 1254.4h0M994 1257.9h0M992.6 1259.4h0M998.5 1257.8h0M1001.8 1261.8h0M1005.4 1262.4h0M987.4 1268.1h0M990.3 1268.1h0M994.8 1268.1h0M997.6 1268.1h0M1000.7 1268.1h0M1004.4 1268.1h0M1007.9 1268.1h0M1011.6 1268.1h0M995.5 1231.4h0M1009.5 1222.7h0M999.8 1253.9h0M1009.5 1253.1h0"/>
<path d="M1017.3 1268.1H1045.3" class="zl"/>
<path class="d" d="M1019.5 1268.1h0M1021.4 1268.1h0M1022.5 1268.1h0M1024.2 1268.1h0M1026 1268.1h0M1027.6 1268.1h0M1028.7 1268.1h0M1030.2 1268.1h0M1031.5 1268.1h0M1033.1 1268.1h0M1034.4 1268.1h0M1036.1 1268.1h0M1037.5 1268.1h0M1039.3 1268.1h0M1040.8 1268.1h0M1042 1268.1h0M1029.3 1266.1h0M1035.3 1265.7h0"/>
<path d="M51.3 1149.8V1279.9H1051.6" class="ax"/>
<path d="M45 1268.1H51.3" class="ax"/>
<text x="41" y="1275.8" class="tl" text-anchor="end">0</text>
<path d="M45 1228.6H51.3" class="ax"/>
<text x="41" y="1236.3" class="tl" text-anchor="end">1</text>
<path d="M45 1189.2H51.3" class="ax"/>
<text x="41" y="1196.9" class="tl" text-anchor="end">2</text>
<path d="M70.5 1279.9V1286.2" class="ax"/>
<text transform="translate(69.9,1292.1) rotate(-45)" class="tl" text-anchor="end" dominant-baseline="hanging">S0_a</text>
<path d="M102.5 1279.9V1286.2" class="ax"/>
<text transform="translate(101.9,1292.1) rotate(-45)" class="tl" text-anchor="end" dominant-baseline="hanging">S0_b</text>
<path d="M134.6 1279.9V1286.2" class="ax"/>
<text transform="translate(134,1292.1) rotate(-45)" class="tl" text-anchor="end" dominant-baseline="hanging">S0_c</text>
<path d="M166.6 1279.9V1286.2" class="ax"/>
<text transform="translate(166,1292.1) rotate(-45)" class="tl" text-anchor="end" dominant-baseline="hanging">S0_d</text>
<path d="M198.6 1279.9V1286.2" class="ax"/>
<text transform="translate(198,1292.1) rotate(-45)" class="tl" text-anchor="end" dominant-baseline="hanging">S0_e</text>
<path d="M230.6 1279.9V1286.2" class="ax"/>
<text transform="translate(230,1292.1) rotate(-45)" class="tl" text-anchor="end" dominant-baseline="hanging">S0_f</text>
<path d="M262.7 1279.9V1286.2" class="ax"/>
<text transform="translate(262.1,1292.1) rotate(-45)" class="tl" text-anchor="end" dominant-baseline="hanging">S0_g</text>
<path d="M294.7 1279.9V1286.2" class="ax"/>
<text transform="translate(294.1,1292.1) rotate(-45)" class="tl" text-anchor="end" dominant-baseline="hanging">S0_h</text>
<path d="M326.7 1279.9V1286.2" class="ax"/>
<text transform="translate(326.1,1292.1) rotate(-45)" class="tl" text-anchor="end" dominant-baseline="hanging">S1_a</text>
<path d="M358.7 1279.9V1286.2" class="ax"/>
<text transform="translate(358.1,1292.1) rotate(-45)" class="tl" text-anchor="end" dominant-baseline="hanging">S1_b</text>
<path d="M390.8 1279.9V1286.2" class="ax"/>
<text transform="translate(390.2,1292.1) rotate(-45)" class="tl" text-anchor="end" dominant-baseline="hanging">S1_c</text>
<path d="M422.8 1279.9V1286.2" class="ax"/>
<text transform="translate(422.2,1292.1) rotate(-45)" class="tl" text-anchor="end" dominant-baseline="hanging">S1_d</text>
<path d="M454.8 1279.9V1286.2" class="ax"/>
<text transform="translate(454.2,1292.1) rotate(-45)" class="tl" text-anchor="end" dominant-baseline="hanging">S1_e</text>
<path d="M486.8 1279.9V1286.2" class="ax"/>
<text transform="translate(486.2,1292.1) rotate(-45)" class="tl" text-anchor="end" dominant-baseline="hanging">S1_f</text>
<path d="M518.9 1279.9V1286.2" class="ax"/>
<text transform="translate(518.3,1292.1) rotate(-45)" class="tl" text-anchor="end" dominant-baseline="hanging">S1_g</text>
<path d="M550.9 1279.9V1286.2" class="ax"/>
<text transform="translate(550.3,1292.1) rotate(-45)" class="tl" text-anchor="end" dominant-baseline="hanging">S1_h</text>
<path d="M582.9 1279.9V1286.2" class="ax"/>
<text transform="translate(582.3,1292.1) rotate(-45)" class="tl" text-anchor="end" dominant-baseline="hanging">S2_a</text>
<path d="M615 1279.9V1286.2" class="ax"/>
<text transform="translate(614.4,1292.1) rotate(-45)" class="tl" text-anchor="end" dominant-baseline="hanging">S2_b</text>
<path d="M647 1279.9V1286.2" class="ax"/>
<text transform="translate(646.4,1292.1) rotate(-45)" class="tl" text-anchor="end" dominant-baseline="hanging">S2_c</text>
<path d="M679 1279.9V1286.2" class="ax"/>
<text transform="translate(678.4,1292.1) rotate(-45)" class="tl" text-anchor="end" dominant-baseline="hanging">S2_d</text>
<path d="M711 1279.9V1286.2" class="ax"/>
<text transform="translate(710.4,1292.1) rotate(-45)" class="tl" text-anchor="end" dominant-baseline="hanging">S2_e</text>
<path d="M743.1 1279.9V1286.2" class="ax"/>
<text transform="translate(742.5,1292.1) rotate(-45)" class="tl" text-anchor="end" dominant-baseline="hanging">S2_f</text>
<path d="M775.1 1279.9V1286.2" class="ax"/>
<text transform="translate(774.5,1292.1) rotate(-45)" class="tl" text-anchor="end" dominant-baseline="hanging">S2_g</text>
<path d="M807.1 1279.9V1286.2" class="ax"/>
<text transform="translate(806.5,1292.1) rotate(-45)" class="tl" text-anchor="end" dominant-baseline="hanging">S3_a</text>
<path d="M839.1 1279.9V1286.2" class="ax"/>
<text transform="translate(838.5,1292.1) rotate(-45)" class="tl" text-anchor="end" dominant-baseline="hanging">S3_b</text>
<path d="M871.2 1279.9V1286.2" class="ax"/>
<text transform="translate(870.6,1292.1) rotate(-45)" class="tl" text-anchor="end" dominant-baseline="hanging">S3_c</text>
<path d="M903.2 1279.9V1286.2" class="ax"/>
<text transform="translate(902.6,1292.1) rotate(-45)" class="tl" text-anchor="end" dominant-baseline="hanging">S3_d</text>
<path d="M935.2 1279.9V1286.2" class="ax"/>
<text transform="translate(934.6,1292.1) rotate(-45)" class="tl" text-anchor="end" dominant-baseline="hanging">S3_e</text>
<path d="M967.2 1279.9V1286.2" class="ax"/>
<text transform="translate(966.6,1292.1) rotate(-45)" class="tl" text-anchor="end" dominant-baseline="hanging">S3_f</text>
<path d="M999.3 1279.9V1286.2" class="ax"/>
<text transform="translate(998.7,1292.1) rotate(-45)" class="tl" text-anchor="end" dominant-baseline="hanging">S3_g</text>
<path d="M1031.3 1279.9V1286.2" class="ax"/>
<text transform="translate(1030.7,1292.1) rotate(-45)" class="tl" text-anchor="end" dominant-baseline="hanging">S3_h</text>
<text x="546.5" y="1133.8" class="tt" text-anchor="middle">Ly6a</text>
<text x="551.5" y="1364.9" class="id" text-anchor="middle">Identity</text>
</g>
<g>
<path d="M1127.9 223.2H1155.9" class="zl"/>
<path class="d" d="M1130 223.2h0M1132.1 223.2h0M1133.5 223.2h0M1134.7 223.2h0M1135.7 223.2h0M1137.4 223.2h0M1139.2 223.2h0M1140.3 223.2h0M1141.5 223.2h0M1142.9 223.2h0M1144.9 223.2h0M1146.2 223.2h0M1147.5 223.2h0M1148.7 223.2h0M1150.5 223.2h0M1151.2 223.2h0M1153.3 223.2h0M1154.3 223.2h0"/>
<path d="M1160 223.2H1188" class="zl"/>
<path class="d" d="M1163.6 223.2h0M1164.5 223.2h0M1166.3 223.2h0M1167.7 223.2h0M1169.1 223.2h0M1170.4 223.2h0M1171.5 223.2h0M1172.6 223.2h0M1174.3 223.2h0M1175.6 223.2h0M1177 223.2h0M1178 223.2h0M1179.5 223.2h0M1180.8 223.2h0M1182 223.2h0M1183.6 223.2h0"/>
<path d="M1192 223.2H1220" class="zl"/>
<path class="d" d="M1199.4 223.2h0M1200.5 223.2h0M1202.4 223.2h0M1203.7 223.2h0M1205.1 223.2h0M1206.3 223.2h0M1207.3 223.2h0M1208.9 223.2h0M1210.1 223.2h0M1211.9 223.2h0M1213.2 223.2h0M1214.3 223.2h0M1215.6 223.2h0M1216.8 223.2h0M1218.6 223.2h0"/>
<path d="M1224.1 223.2H1252.1" class="zl"/>
<path class="d" d="M1236.3 223.2h0M1237.9 223.2h0M1239.6 223.2h0M1240.4 223.2h0M1242.1 223.2h0M1243.8 223.2h0M1245.1 223.2h0M1246.3 223.2h0M1247.5 223.2h0M1249.5 223.2h0M1250.6 223.2h0"/>
<path d="M1256.1 223.2H1284.1" class="zl"/>
<path class="d" d="M1269.1 223.2h0M1274.1 223.2h0M1277.1 223.2h0M1280.4 223.2h0"/>
<path d="M1288.2 223.2H1316.2" class="zl"/>
<path d="M1302.2 223.2V142.1M1300.7 142.1H1303.7" class="vl"/>
<path class="d" d="M1291 223.2h0M1291.9 223.2h0M1293.5 223.2h0M1295.1 223.2h0M1296.7 223.2h0M1297.7 223.2h0M1299.6 223.2h0M1300.7 223.2h0M1302.5 223.2h0M1303.2 223.2h0M1305.3 223.2h0M1306.5 223.2h0M1308.1 223.2h0M1309.5 223.2h0M1310.8 223.2h0M1312.2 223.2h0M1313.5 223.2h0M1296.2 142.5h0M1311.4 184.7h0M1304.2 210.6h0M1296.7 214.1h0"/>
<path d="M1320.3 223.2H1348.3" class="zl"/>
<path class="d" d="M1323.8 223.2h0M1325.2 223.2h0M1326.7 223.2h0M1328.1 223.2h0M1329.3 223.2h0M1331 223.2h0M1332 223.2h0M1333.6 223.2h0M1334.6 223.2h0M1336.8 223.2h0M1337.5 223.2h0M1339.1 223.2h0M1340.8 223.2h0M1342.1 223.2h0M1343.8 223.2h0M1345 223.2h0"/>
<path d="M1352.3 223.2H1380.3" class="zl"/>
<path class="d" d="M1354.9 223.2h0M1356.6 223.2h0M1357.5 223.2h0M1359.4 223.2h0M1360.3 223.2h0M1362 223.2h0M1363.1 223.2h0M1364.7 223.2h0M1366.4 223.2h0M1367.9 223.2h0M1369.1 223.2h0M1370.7 223.2h0M1372.2 223.2h0M1373.2 223.2h0M1375.3 223.2h0M1376.7 223.2h0M1377.6 223.2h0"/>
<path d="M1384.4 223.2H1412.4" class="zl"/>
<path class="d" d="M1386.6 223.2h0M1388 223.2h0M1389.8 223.2h0M1390.8 223.2h0M1392.5 223.2h0M1394.3 223.2h0M1395.3 223.2h0M1397.3 223.2h0M1398.4 223.2h0M1400.1 223.2h0M1401.1 223.2h0M1403.1 223.2h0M1404.4 223.2h0M1405.9 223.2h0M1407.3 223.2h0M1408.5 223.2h0M1410.2 223.2h0"/>
<path d="M1416.4 223.2H1444.4" class="zl"/>
<path d="M1430.4 223.2V145.1M1428.9 145.1H1431.9" class="vl"/>
<path class="d" d="M1418.7 223.2h0M1420.1 223.2h0M1422.1 223.2h0M1423.4 223.2h0M1424.5 223.2h0M1425.9 223.2h0M1427.4 223.2h0M1429 223.2h0M1430.4 223.2h0M1431.9 223.2h0M1433.7 223.2h0M1434.7 223.2h0M1436.3 223.2h0M1438.3 223.2h0M1439.7 223.2h0M1440.7 223.2h0M1442.6 223.2h0M1430.6 145.1h0M1420.2 210.6h0M1422.7 215.9h0M1428.8 216.3h0M1439.2 209.8h0M1441.7 207.8h0M1440.4 208.7h0"/>
<path d="M1460.5 201.8L1458.1 199.6L1455.7 197.4L1453.5 195.2L1452.1 193L1450.7 190.7L1449.5 188.5L1448.6 186.3L1448.1 184.1L1448 181.9L1448.3 179.7L1448.8 177.5L1449.3 175.3L1450 173.1L1450.6 170.8L1451.1 168.6L1451.8 166.4L1452.6 164.2L1454.1 162L1456.1 159.8L1457.9 157.6L1459.5 155.4L1460.6 153.1L1461.4 150.9L1461.7 148.7L1461.7 146.5L1461.7 144.3L1461.7 142.1L1461.7 139.9L1461.7 137.7L1461.8 135.4L1461.8 133.2L1461.8 131L1461.8 128.8L1461.8 126.6L1461.8 124.4L1461.8 122.2L1461.8 120L1461.8 117.7L1461.8 115.5L1461.8 113.3L1461.8 111.1L1461.8 108.9L1461.8 106.7L1461.8 104.5L1461.8 102.3L1461.8 100L1461.8 97.8L1463.2 97.8L1463.2 100L1463.2 102.3L1463.2 104.5L1463.2 106.7L1463.2 108.9L1463.2 111.1L1463.2 113.3L1463.2 115.5L1463.2 117.7L1463.2 120L1463.2 122.2L1463.2 124.4L1463.2 126.6L1463.2 128.8L1463.2 131L1463.2 133.2L1463.2 135.4L1463.3 137.7L1463.3 139.9L1463.3 142.1L1463.3 144.3L1463.3 146.5L1463.3 148.7L1463.6 150.9L1464.4 153.1L1465.5 155.4L1467.1 157.6L1468.9 159.8L1470.9 162L1472.4 164.2L1473.2 166.4L1473.9 168.6L1474.4 170.8L1475 173.1L1475.7 175.3L1476.2 177.5L1476.7 179.7L1477 181.9L1476.9 184.1L1476.4 186.3L1475.5 188.5L1474.3 190.7L1472.9 193L1471.5 195.2L1469.3 197.4L1466.9 199.6L1464.5 201.8Z" fill="#1c9290" class="v"/>
<path class="d" d="M1458.2 186.4h0M1452.3 198.4h0M1472 158.6h0M1454.2 171.1h0M1466.2 191.7h0M1466 179.7h0M1469.1 177h0M1467 164.6h0M1471.7 166h0M1463.5 175.1h0M1467.4 187.7h0M1468.2 171.1h0M1473.4 177.7h0M1459.1 183.8h0M1459.4 168.8h0M1462.6 168.8h0M1471.2 161.4h0M1465.6 160.7h0M1456 189h0M1472.1 182.9h0M1469 195.6h0M1473.6 192.6h0M1455.7 196.7h0M1463.1 178.6h0M1469.4 180.9h0M1472.2 183h0M1454.4 186.9h0M1465.1 173.9h0M1472.4 172.4h0M1471.6 183.5h0M1460.7 181.4h0M1471.1 180.2h0M1469.9 186.4h0M1467.8 195.7h0M1453.7 189.8h0M1460.6 176.8h0M1472.7 174.3h0M1466.3 175.4h0M1458.2 193.9h0M1473.1 190.6h0M1463.3 169.4h0M1468.4 166.1h0M1451.2 171.9h0M1453.7 175.7h0M1469.7 198.9h0M1462.1 164.9h0M1472.9 166.9h0M1466.5 161.8h0M1466.7 182.9h0M1452 189.6h0M1464.3 97.8h0M1463.7 131.5h0"/>
<path d="M1480.6 223.2H1508.6" class="zl"/>
<path class="d" d="M1484.2 223.2h0M1486.2 223.2h0M1488.4 223.2h0M1490 223.2h0M1492.2 223.2h0M1494.6 223.2h0M1496.8 223.2h0M1498.9 223.2h0M1500.8 223.2h0M1502.5 223.2h0M1504.7 223.2h0M1507.3 223.2h0"/>
<path d="M1525.1 223.2L1525.1 220.7L1525.1 218.2L1525.1 215.7L1525.1 213.2L1525.1 210.7L1524 208.2L1522.2 205.7L1520.5 203.2L1518.5 200.7L1516.4 198.2L1514.9 195.7L1513.9 193.2L1513.1 190.7L1512.4 188.2L1512.1 185.7L1512.3 183.2L1513 180.7L1514 178.3L1515 175.8L1516.2 173.3L1517.6 170.8L1519.2 168.3L1520.8 165.8L1522.5 163.3L1524.6 160.8L1525.6 158.3L1525.7 155.8L1525.7 153.3L1525.7 150.8L1525.8 148.3L1525.8 145.8L1525.8 143.3L1525.8 140.8L1525.8 138.3L1525.9 135.8L1525.9 133.3L1525.9 130.8L1525.9 128.3L1525.9 125.8L1525.9 123.3L1525.9 120.8L1525.9 118.3L1525.9 115.8L1525.9 113.3L1525.9 110.8L1525.9 108.3L1525.9 105.8L1527.3 105.8L1527.3 108.3L1527.3 110.8L1527.3 113.3L1527.3 115.8L1527.3 118.3L1527.3 120.8L1527.3 123.3L1527.3 125.8L1527.4 128.3L1527.4 130.8L1527.4 133.3L1527.4 135.8L1527.4 138.3L1527.4 140.8L1527.4 143.3L1527.5 145.8L1527.5 148.3L1527.5 150.8L1527.5 153.3L1527.6 155.8L1527.6 158.3L1528.6 160.8L1530.8 163.3L1532.5 165.8L1534.1 168.3L1535.6 170.8L1537 173.3L1538.2 175.8L1539.2 178.3L1540.2 180.7L1540.9 183.2L1541.1 185.7L1540.8 188.2L1540.2 190.7L1539.3 193.2L1538.4 195.7L1536.8 198.2L1534.8 200.7L1532.7 203.2L1531 205.7L1529.2 208.2L1528.1 210.7L1528.1 213.2L1528.1 215.7L1528.1 218.2L1528.1 220.7L1528.1 223.2Z" fill="#1c9c92" class="v"/>
<path class="d" d="M1536.8 190.2h0M1516.8 163h0M1518.3 187.1h0M1536 192.5h0M1517 169.4h0M1527.3 181.2h0M1530.5 193.2h0M1515.8 203.7h0M1517.3 193.2h0M1531.9 182.4h0M1521.5 174.5h0M1530.6 170.1h0M1517.1 175.5h0M1535.4 169.5h0M1518.2 184.5h0M1521.7 203.6h0M1521.1 178.6h0M1532.1 197.7h0M1529.8 166.9h0M1537.6 186.4h0M1524.5 171.8h0M1533.2 196.3h0M1527.3 190.5h0M1522.7 185.2h0M1516.1 177.3h0M1535 197.8h0M1518.7 179.2h0M1522 170.4h0M1536 182h0M1538 205.8h0M1522.7 172.2h0M1520 195.2h0M1533 188.8h0M1519.3 191h0M1538.6 182.2h0M1515.5 199h0M1521.9 174.3h0M1517.7 187.7h0M1528.6 187.9h0M1524.1 182.4h0M1525.6 178.2h0M1538.1 181.8h0M1533.5 194.5h0M1517.8 184.6h0M1515.5 200.1h0M1526.6 105.8h0M1529.6 223.2h0M1533.6 223.2h0"/>
<path d="M1544.2 223.2L1547.5 221.9L1550.7 220.5L1553 219.2L1554.1 217.8L1554.9 216.5L1555.6 215.2L1556 213.8L1556.4 212.5L1556.6 211.2L1556.9 209.8L1557 208.5L1557.2 207.1L1557.4 205.8L1557.6 204.5L1557.7 203.1L1557.9 201.8L1557.9 200.5L1557.9 199.1L1557.9 197.8L1557.9 196.4L1557.9 195.1L1557.9 193.8L1557.9 192.4L1557.9 191.1L1557.9 189.8L1557.9 188.4L1557.9 187.1L1557.9 185.7L1558 184.4L1558 183.1L1558 181.7L1558 180.4L1558 179.1L1558 177.7L1558 176.4L1558 175L1558 173.7L1558 172.4L1558 171L1558 169.7L1558 168.4L1558 167L1558 165.7L1558 164.3L1558 163L1558 161.7L1558 160.3L1559.4 160.3L1559.4 161.7L1559.4 163L1559.4 164.3L1559.4 165.7L1559.4 167L1559.4 168.4L1559.4 169.7L1559.4 171L1559.4 172.4L1559.4 173.7L1559.4 175L1559.4 176.4L1559.4 177.7L1559.4 179.1L1559.4 180.4L1559.4 181.7L1559.4 183.1L1559.4 184.4L1559.4 185.7L1559.4 187.1L1559.4 188.4L1559.4 189.8L1559.4 191.1L1559.4 192.4L1559.4 193.8L1559.4 195.1L1559.5 196.4L1559.5 197.8L1559.5 199.1L1559.5 200.5L1559.5 201.8L1559.6 203.1L1559.8 204.5L1560 205.8L1560.1 207.1L1560.3 208.5L1560.5 209.8L1560.7 211.2L1561 212.5L1561.3 213.8L1561.8 215.2L1562.4 216.5L1563.3 217.8L1564.4 219.2L1566.7 220.5L1569.9 221.9L1573.2 223.2Z" fill="#1aa193" class="v"/>
<path class="d" d="M1545.9 223.2h0M1548.4 223.2h0M1550.5 223.2h0M1553.7 223.2h0M1555.1 223.2h0M1557.2 223.2h0M1560.1 223.2h0M1561.9 223.2h0M1564.9 223.2h0M1566.8 223.2h0M1568.5 223.2h0M1570.2 223.2h0M1547.4 184.7h0M1569.7 189.7h0M1560.4 160.3h0M1558.7 186.7h0M1559.2 207.4h0M1554.9 209.8h0M1557.4 212.2h0M1546.3 216.5h0M1548.8 214.6h0M1568.5 211.1h0M1570.9 214.6h0M1561.7 215.2h0"/>
<path d="M1576.7 223.2H1604.7" class="zl"/>
<path class="d" d="M1579.3 223.2h0M1580.3 223.2h0M1582.2 223.2h0M1583.5 223.2h0M1584.9 223.2h0M1586.5 223.2h0M1587.7 223.2h0M1589 223.2h0M1590.5 223.2h0M1592.1 223.2h0M1593.4 223.2h0M1595.4 223.2h0M1596.4 223.2h0M1597.7 223.2h0M1599.1 223.2h0M1600.6 223.2h0M1602.1 223.2h0"/>
<path d="M1608.8 223.2H1636.8" class="zl"/>
<path class="d" d="M1611.6 223.2h0M1613.1 223.2h0M1613.8 223.2h0M1615.4 223.2h0M1617.4 223.2h0M1618.2 223.2h0M1619.9 223.2h0M1621.8 223.2h0M1622.8 223.2h0M1624.6 223.2h0M1626 223.2h0M1627.3 223.2h0M1628.8 223.2h0M1629.7 223.2h0M1631.4 223.2h0M1632.6 223.2h0M1634.4 223.2h0"/>
<path d="M1640.9 223.2H1668.9" class="zl"/>
<path d="M1654.9 223.2V195.9M1653.4 195.9H1656.4" class="vl"/>
<path class="d" d="M1643.4 223.2h0M1644.9 223.2h0M1646.5 223.2h0M1647.5 223.2h0M1649.1 223.2h0M1650.7 223.2h0M1652 223.2h0M1653.9 223.2h0M1654.9 223.2h0M1656.3 223.2h0M1658.1 223.2h0M1659.8 223.2h0M1660.7 223.2h0M1662.2 223.2h0M1663.6 223.2h0M1665.2 223.2h0M1666.9 223.2h0M1643.5 197.2h0M1647.3 200.9h0M1648.4 202.7h0M1651.5 206.5h0M1666.2 196.2h0"/>
<path d="M1672.9 223.2H1700.9" class="zl"/>
<path class="d" d="M1677.8 223.2h0M1681.9 223.2h0M1685 223.2h0M1686.3 223.2h0M1688.7 223.2h0M1690 223.2h0M1692.2 223.2h0M1693.4 223.2h0M1695.4 223.2h0M1696.8 223.2h0M1699.1 223.2h0"/>
<path d="M1705 223.2H1733" class="zl"/>
<path class="d" d="M1708.7 223.2h0M1712.3 223.2h0M1714.6 223.2h0M1719 223.2h0M1720.8 223.2h0M1722.6 223.2h0M1723.9 223.2h0M1725.5 223.2h0M1727.8 223.2h0M1729.1 223.2h0M1731.3 223.2h0"/>
<path d="M1737 223.2H1765" class="zl"/>
<path class="d" d="M1739.4 223.2h0M1740.9 223.2h0M1742.5 223.2h0M1743.9 223.2h0M1745.5 223.2h0M1746.5 223.2h0M1748 223.2h0M1749.9 223.2h0M1750.8 223.2h0M1752.6 223.2h0M1753.6 223.2h0M1755.7 223.2h0M1756.8 223.2h0M1758.6 223.2h0M1759.4 223.2h0M1761 223.2h0M1762.4 223.2h0"/>
<path class="d" d="M1778.9 223.2h0M1794.4 223.2h0"/>
<path d="M1801.2 223.2H1829.2" class="zl"/>
<path class="d" d="M1805.8 223.2h0M1808 223.2h0M1809.5 223.2h0M1811.6 223.2h0M1813.1 223.2h0M1814.5 223.2h0M1817 223.2h0M1818.4 223.2h0M1820.4 223.2h0M1822.2 223.2h0M1823.3 223.2h0M1825.4 223.2h0M1827.3 223.2h0"/>
<path d="M1833.2 223.2H1861.2" class="zl"/>
<path class="d" d="M1839.3 223.2h0M1841.1 223.2h0M1845.1 223.2h0M1847.1 223.2h0M1848.5 223.2h0M1850.4 223.2h0M1852.5 223.2h0M1854.2 223.2h0M1856.2 223.2h0"/>
<path d="M1865.3 223.2H1893.3" class="zl"/>
<path class="d" d="M1867.7 223.2h0M1869.3 223.2h0M1870.8 223.2h0M1872.3 223.2h0M1873.4 223.2h0M1875.1 223.2h0M1876.2 223.2h0M1877.5 223.2h0M1879.4 223.2h0M1880.9 223.2h0M1882 223.2h0M1883.4 223.2h0M1884.7 223.2h0M1886.8 223.2h0M1887.6 223.2h0M1889.3 223.2h0M1890.5 223.2h0"/>
<path d="M1899.8 223.2L1899.8 221.5L1899.8 219.9L1899.8 218.2L1899.8 216.6L1899.8 214.9L1899.8 213.2L1899.8 211.6L1899.6 209.9L1899.4 208.2L1899.2 206.6L1898.9 204.9L1898.5 203.3L1898 201.6L1897.6 199.9L1897.2 198.3L1896.9 196.6L1896.8 194.9L1897 193.3L1897.4 191.6L1898 190L1898.8 188.3L1899.6 186.6L1900.4 185L1901.1 183.3L1901.9 181.6L1902.7 180L1903.6 178.3L1904.5 176.7L1905.5 175L1906.3 173.3L1907 171.7L1907.6 170L1908.2 168.3L1908.7 166.7L1909.2 165L1909.5 163.4L1909.8 161.7L1909.9 160L1909.9 158.4L1910 156.7L1910 155.1L1910.1 153.4L1910.1 151.7L1910.1 150.1L1910.1 148.4L1910.1 146.7L1910.1 145.1L1912.5 145.1L1912.5 146.7L1912.6 148.4L1912.6 150.1L1912.6 151.7L1912.6 153.4L1912.7 155.1L1912.7 156.7L1912.8 158.4L1912.8 160L1912.9 161.7L1913.1 163.4L1913.5 165L1914 166.7L1914.5 168.3L1915.1 170L1915.7 171.7L1916.4 173.3L1917.2 175L1918.1 176.7L1919.1 178.3L1920 180L1920.8 181.6L1921.5 183.3L1922.3 185L1923.1 186.6L1923.9 188.3L1924.7 190L1925.3 191.6L1925.7 193.3L1925.8 194.9L1925.8 196.6L1925.5 198.3L1925.1 199.9L1924.7 201.6L1924.2 203.3L1923.8 204.9L1923.5 206.6L1923.2 208.2L1923.1 209.9L1922.9 211.6L1922.8 213.2L1922.8 214.9L1922.8 216.6L1922.8 218.2L1922.8 219.9L1922.8 221.5L1922.8 223.2Z" fill="#3fc4a0" class="v"/>
<path class="d" d="M1905.7 180.2h0M1899 147.6h0M1905 181.7h0M1902.6 199.8h0M1912.2 187.9h0M1906.1 197.3h0M1915.7 213.8h0M1904 184.7h0M1907.6 206.2h0M1904.8 201.4h0M1900.3 171.3h0M1922.5 216.8h0M1905.5 193.6h0M1909.2 207.9h0M1908.3 192.1h0M1899.6 223.2h0M1905.1 223.2h0M1911.5 223.2h0M1917.7 223.2h0M1923.1 223.2h0M1911.3 145.1h0M1909.3 173.9h0"/>
<path d="M1928.9 223.2L1930.1 221.7L1931.3 220.2L1932.4 218.7L1933.4 217.2L1934 215.7L1934.5 214.2L1935 212.6L1935.4 211.1L1935.8 209.6L1936.2 208.1L1936.6 206.6L1937 205.1L1937.5 203.6L1937.9 202.1L1938.3 200.6L1938.7 199.1L1939 197.6L1939.3 196.1L1939.5 194.6L1939.6 193L1939.8 191.5L1939.9 190L1940 188.5L1940.1 187L1940.2 185.5L1940.3 184L1940.4 182.5L1940.6 181L1940.8 179.5L1941.1 178L1941.3 176.5L1941.5 175L1941.7 173.4L1941.8 171.9L1941.9 170.4L1942 168.9L1942 167.4L1942 165.9L1942.1 164.4L1942.1 162.9L1942.1 161.4L1942.1 159.9L1942.2 158.4L1942.2 156.9L1942.2 155.3L1942.2 153.8L1942.2 152.3L1944.6 152.3L1944.6 153.8L1944.6 155.3L1944.6 156.9L1944.6 158.4L1944.7 159.9L1944.7 161.4L1944.7 162.9L1944.7 164.4L1944.8 165.9L1944.8 167.4L1944.8 168.9L1944.9 170.4L1945 171.9L1945.1 173.4L1945.3 175L1945.5 176.5L1945.7 178L1946 179.5L1946.2 181L1946.4 182.5L1946.5 184L1946.6 185.5L1946.7 187L1946.8 188.5L1946.9 190L1947 191.5L1947.2 193L1947.3 194.6L1947.5 196.1L1947.8 197.6L1948.1 199.1L1948.5 200.6L1948.9 202.1L1949.3 203.6L1949.8 205.1L1950.2 206.6L1950.6 208.1L1951 209.6L1951.4 211.1L1951.8 212.6L1952.3 214.2L1952.8 215.7L1953.4 217.2L1954.4 218.7L1955.5 220.2L1956.7 221.7L1957.9 223.2Z" fill="#5bc9a6" class="v"/>
<path class="d" d="M1935.1 211.3h0M1934.3 206.2h0M1933.8 202.6h0M1934.4 183.7h0M1950.7 214.8h0M1935.3 195.7h0M1941.7 208.9h0M1948 200h0M1941.1 185.2h0M1953.7 197.5h0M1936.3 212.7h0M1939.9 219.9h0M1949.8 205.6h0M1945.6 193.8h0M1950.7 208.3h0M1942.9 215.4h0M1944.1 186.7h0M1932.5 215.3h0M1933.3 212.2h0M1932.9 216.6h0M1933.3 197.4h0M1943.2 218h0M1951.7 217h0M1944.8 209.2h0M1939.3 203h0M1936.7 191.4h0M1934.3 220.7h0M1954.2 220.2h0M1930.7 223.2h0M1934.8 223.2h0M1938.2 223.2h0M1942.5 223.2h0M1944.8 223.2h0M1948.2 223.2h0M1951.5 223.2h0M1955.1 223.2h0M1956.3 152.3h0M1955.1 181.5h0M1933.1 176.3h0M1936.2 179.1h0M1943.4 171.1h0"/>
<path d="M1961.5 223.2H1989.5" class="zl"/>
<path class="d" d="M1964.3 223.2h0M1965.8 223.2h0M1967 223.2h0M1968.5 223.2h0M1969.9 223.2h0M1971.3 223.2h0M1972.4 223.2h0M1974.3 223.2h0M1975.8 223.2h0M1977 223.2h0M1978.3 223.2h0M1979.6 223.2h0M1981.4 223.2h0M1982.6 223.2h0M1983.7 223.2h0M1985.2 223.2h0M1987 223.2h0"/>
<path d="M1993.5 223.2H2021.5" class="zl"/>
<path class="d" d="M1995.5 223.2h0M2002.5 223.2h0M2018.5 223.2h0"/>
<path d="M2025.6 223.2H2053.6" class="zl"/>
<path class="d" d="M2029 223.2h0M2030.6 223.2h0M2032 223.2h0M2034.3 223.2h0M2035.8 223.2h0M2037.9 223.2h0M2039.8 223.2h0M2041.5 223.2h0M2043.9 223.2h0M2047.5 223.2h0M2050.7 223.2h0"/>
<path d="M2057.1 223.2L2058.3 222.3L2059.5 221.5L2060.5 220.6L2061.5 219.8L2062.4 218.9L2063.3 218L2064 217.2L2064.7 216.3L2065.4 215.5L2066.1 214.6L2066.7 213.8L2067.2 212.9L2067.6 212L2068 211.2L2068.4 210.3L2068.8 209.5L2069.1 208.6L2069.5 207.7L2069.7 206.9L2069.9 206L2070.1 205.2L2070.2 204.3L2070.2 203.4L2070.3 202.6L2070.3 201.7L2070.4 200.9L2070.4 200L2070.5 199.2L2070.5 198.3L2070.6 197.4L2070.6 196.6L2070.7 195.7L2070.7 194.9L2070.7 194L2070.8 193.1L2070.8 192.3L2070.8 191.4L2070.8 190.6L2070.9 189.7L2070.9 188.8L2070.9 188L2070.9 187.1L2070.9 186.3L2070.9 185.4L2070.9 184.6L2070.9 183.7L2070.9 182.8L2072.3 182.8L2072.3 183.7L2072.3 184.6L2072.4 185.4L2072.4 186.3L2072.4 187.1L2072.4 188L2072.4 188.8L2072.4 189.7L2072.4 190.6L2072.5 191.4L2072.5 192.3L2072.5 193.1L2072.5 194L2072.6 194.9L2072.6 195.7L2072.7 196.6L2072.7 197.4L2072.7 198.3L2072.8 199.2L2072.8 200L2072.9 200.9L2072.9 201.7L2073 202.6L2073.1 203.4L2073.1 204.3L2073.2 205.2L2073.3 206L2073.6 206.9L2073.8 207.7L2074.1 208.6L2074.5 209.5L2074.9 210.3L2075.2 211.2L2075.6 212L2076.1 212.9L2076.6 213.8L2077.2 214.6L2077.8 215.5L2078.5 216.3L2079.3 217.2L2080 218L2080.9 218.9L2081.8 219.8L2082.8 220.6L2083.8 221.5L2084.9 222.3L2086.1 223.2Z" fill="#c6e5b4" class="v"/>
<path class="d" d="M2068.1 215.8h0M2080.1 211.6h0M2068.8 209.7h0M2069.6 219.5h0M2078.3 218.6h0M2075.8 217.6h0M2068.3 219.3h0M2067.5 216h0M2062.7 219.6h0M2082.1 216.5h0M2075.5 217h0M2069.4 210.9h0M2061.4 210.1h0M2064.9 218.8h0M2061 218.4h0M2078.6 206.7h0M2083.3 208.5h0M2075.8 212.8h0M2076.8 219.6h0M2067 206h0M2072 214.9h0M2063.2 218.3h0M2080.3 215.7h0M2075.7 203.8h0M2081.7 213.8h0M2077.8 214.2h0M2066 217.4h0M2068.8 211.8h0M2078.5 218.8h0M2070.5 214.3h0M2060.2 223.2h0M2062.8 223.2h0M2064.5 223.2h0M2067.3 223.2h0M2070.2 223.2h0M2073.4 223.2h0M2076.1 223.2h0M2077.8 223.2h0M2081.4 223.2h0M2083.3 223.2h0M2066.5 189.5h0M2072 182.8h0M2072.6 199.4h0"/>
<path d="M2089.7 223.2H2117.7" class="zl"/>
<path d="M2103.7 223.2V195.9M2102.2 195.9H2105.2" class="vl"/>
<path class="d" d="M2092.3 223.2h0M2093.6 223.2h0M2095.1 223.2h0M2096.4 223.2h0M2097.6 223.2h0M2099.7 223.2h0M2101.2 223.2h0M2102.5 223.2h0M2103.9 223.2h0M2104.9 223.2h0M2106.7 223.2h0M2108.3 223.2h0M2109.2 223.2h0M2110.8 223.2h0M2112 223.2h0M2114 223.2h0M2115.2 223.2h0M2099.5 195.9h0M2105 203.1h0M2099.5 207.9h0M2107.5 209.6h0M2111.8 210.7h0M2098.9 214.1h0M2095.2 216.9h0"/>
<path d="M1123 91.5V229.5H2130" class="ax"/>
<path d="M1116.7 223.2H1123" class="ax"/>
<text x="1112.7" y="230.9" class="tl" text-anchor="end">0</text>
<path d="M1116.7 186H1123" class="ax"/>
<text x="1112.7" y="193.7" class="tl" text-anchor="end">2</text>
<path d="M1116.7 148.8H1123" class="ax"/>
<text x="1112.7" y="156.5" class="tl" text-anchor="end">4</text>
<path d="M1116.7 111.6H1123" class="ax"/>
<text x="1112.7" y="119.3" class="tl" text-anchor="end">6</text>
<path d="M1141.9 229.5V235.8" class="ax"/>
<path d="M1174 229.5V235.8" class="ax"/>
<path d="M1206 229.5V235.8" class="ax"/>
<path d="M1238.1 229.5V235.8" class="ax"/>
<path d="M1270.1 229.5V235.8" class="ax"/>
<path d="M1302.2 229.5V235.8" class="ax"/>
<path d="M1334.3 229.5V235.8" class="ax"/>
<path d="M1366.3 229.5V235.8" class="ax"/>
<path d="M1398.4 229.5V235.8" class="ax"/>
<path d="M1430.4 229.5V235.8" class="ax"/>
<path d="M1462.5 229.5V235.8" class="ax"/>
<path d="M1494.6 229.5V235.8" class="ax"/>
<path d="M1526.6 229.5V235.8" class="ax"/>
<path d="M1558.7 229.5V235.8" class="ax"/>
<path d="M1590.7 229.5V235.8" class="ax"/>
<path d="M1622.8 229.5V235.8" class="ax"/>
<path d="M1654.9 229.5V235.8" class="ax"/>
<path d="M1686.9 229.5V235.8" class="ax"/>
<path d="M1719 229.5V235.8" class="ax"/>
<path d="M1751 229.5V235.8" class="ax"/>
<path d="M1783.1 229.5V235.8" class="ax"/>
<path d="M1815.2 229.5V235.8" class="ax"/>
<path d="M1847.2 229.5V235.8" class="ax"/>
<path d="M1879.3 229.5V235.8" class="ax"/>
<path d="M1911.3 229.5V235.8" class="ax"/>
<path d="M1943.4 229.5V235.8" class="ax"/>
<path d="M1975.5 229.5V235.8" class="ax"/>
<path d="M2007.5 229.5V235.8" class="ax"/>
<path d="M2039.6 229.5V235.8" class="ax"/>
<path d="M2071.6 229.5V235.8" class="ax"/>
<path d="M2103.7 229.5V235.8" class="ax"/>
<text x="1626" y="54.3" class="tt" text-anchor="middle">Defa24</text>
</g>
<g>
<path d="M1127.9 438.9H1155.9" class="zl"/>
<path class="d" d="M1130.8 438.9h0M1131.9 438.9h0M1133.2 438.9h0M1134.5 438.9h0M1136.1 438.9h0M1137.9 438.9h0M1139.2 438.9h0M1140.2 438.9h0M1141.4 438.9h0M1142.8 438.9h0M1144.8 438.9h0M1145.8 438.9h0M1147.3 438.9h0M1148.4 438.9h0M1150.3 438.9h0M1151.3 438.9h0M1152.6 438.9h0M1154.5 438.9h0"/>
<path d="M1160 438.9H1188" class="zl"/>
<path class="d" d="M1163.4 438.9h0M1164.9 438.9h0M1165.9 438.9h0M1167.4 438.9h0M1169.2 438.9h0M1170.6 438.9h0M1171.4 438.9h0M1173.1 438.9h0M1174.4 438.9h0M1175.5 438.9h0M1176.8 438.9h0M1178.7 438.9h0M1180.1 438.9h0M1181.6 438.9h0M1182.9 438.9h0M1183.8 438.9h0M1185.1 438.9h0"/>
<path d="M1192 438.9H1220" class="zl"/>
<path class="d" d="M1199.4 438.9h0M1201 438.9h0M1202.7 438.9h0M1203.9 438.9h0M1205.8 438.9h0M1206.8 438.9h0M1208.3 438.9h0M1209.5 438.9h0M1211 438.9h0M1212.7 438.9h0M1214 438.9h0M1215.9 438.9h0M1217 438.9h0M1218.8 438.9h0"/>
<path d="M1224.1 438.9H1252.1" class="zl"/>
<path class="d" d="M1237.9 438.9h0M1238.7 438.9h0M1240.2 438.9h0M1241.4 438.9h0M1242.7 438.9h0M1244.2 438.9h0M1245.7 438.9h0M1247.1 438.9h0M1248.2 438.9h0M1249.7 438.9h0M1250.8 438.9h0"/>
<path d="M1256.1 438.9H1284.1" class="zl"/>
<path class="d" d="M1269 438.9h0M1271.7 438.9h0M1273.2 438.9h0M1275.3 438.9h0M1277.6 438.9h0M1279.9 438.9h0M1282.4 438.9h0"/>
<path d="M1288.2 438.9H1316.2" class="zl"/>
<path class="d" d="M1290.8 438.9h0M1291.9 438.9h0M1293.7 438.9h0M1295.1 438.9h0M1296 438.9h0M1297.4 438.9h0M1299.1 438.9h0M1300.6 438.9h0M1301.7 438.9h0M1303.5 438.9h0M1304.9 438.9h0M1306.3 438.9h0M1307.7 438.9h0M1309.3 438.9h0M1310.2 438.9h0M1311.5 438.9h0M1313 438.9h0M1315 438.9h0"/>
<path d="M1320.3 438.9H1348.3" class="zl"/>
<path class="d" d="M1324.1 438.9h0M1324.9 438.9h0M1326.8 438.9h0M1327.8 438.9h0M1329.7 438.9h0M1330.4 438.9h0M1332.2 438.9h0M1333.4 438.9h0M1334.9 438.9h0M1336 438.9h0M1337.6 438.9h0M1339.3 438.9h0M1340.5 438.9h0M1342 438.9h0M1343 438.9h0M1344.6 438.9h0"/>
<path d="M1352.3 438.9H1380.3" class="zl"/>
<path class="d" d="M1354.4 438.9h0M1356.6 438.9h0M1358 438.9h0M1359 438.9h0M1361 438.9h0M1362.3 438.9h0M1363.2 438.9h0M1364.7 438.9h0M1366 438.9h0M1367.8 438.9h0M1369.2 438.9h0M1370.8 438.9h0M1371.8 438.9h0M1373.8 438.9h0M1374.6 438.9h0M1376.6 438.9h0M1377.9 438.9h0"/>
<path d="M1384.4 438.9H1412.4" class="zl"/>
<path class="d" d="M1386.5 438.9h0M1388.3 438.9h0M1389.8 438.9h0M1391.4 438.9h0M1392.5 438.9h0M1394.2 438.9h0M1395.6 438.9h0M1397.2 438.9h0M1398.6 438.9h0M1400.1 438.9h0M1401 438.9h0M1403.1 438.9h0M1403.8 438.9h0M1405.2 438.9h0M1407.3 438.9h0M1408.1 438.9h0M1409.8 438.9h0"/>
<path d="M1416.4 438.9H1444.4" class="zl"/>
<path class="d" d="M1418.9 438.9h0M1420.4 438.9h0M1421.8 438.9h0M1422.8 438.9h0M1424.7 438.9h0M1425.9 438.9h0M1427.5 438.9h0M1428.5 438.9h0M1430.5 438.9h0M1432 438.9h0M1433.1 438.9h0M1434.8 438.9h0M1435.9 438.9h0M1437.3 438.9h0M1438.8 438.9h0M1439.8 438.9h0M1441.1 438.9h0M1442.9 438.9h0"/>
<path d="M1448.5 438.9H1476.5" class="zl"/>
<path class="d" d="M1450.8 438.9h0M1452.8 438.9h0M1454.1 438.9h0M1455.2 438.9h0M1456.3 438.9h0M1457.8 438.9h0M1459.7 438.9h0M1460.7 438.9h0M1462.4 438.9h0M1463.4 438.9h0M1465.5 438.9h0M1466.6 438.9h0M1468.2 438.9h0M1469.4 438.9h0M1470.6 438.9h0M1472.1 438.9h0M1473.9 438.9h0M1475 438.9h0"/>
<path d="M1480.6 438.9H1508.6" class="zl"/>
<path class="d" d="M1484.2 438.9h0M1487.2 438.9h0M1490.2 438.9h0M1492.2 438.9h0M1494.8 438.9h0M1497.8 438.9h0M1500.4 438.9h0M1503.2 438.9h0M1505.5 438.9h0"/>
<path d="M1512.6 438.9H1540.6" class="zl"/>
<path class="d" d="M1515.1 438.9h0M1516.4 438.9h0M1517.8 438.9h0M1519 438.9h0M1521 438.9h0M1522 438.9h0M1523.8 438.9h0M1525.1 438.9h0M1526.3 438.9h0M1528.1 438.9h0M1529.6 438.9h0M1530.6 438.9h0M1532 438.9h0M1533.7 438.9h0M1534.7 438.9h0M1536.4 438.9h0M1537.5 438.9h0M1538.9 438.9h0"/>
<path d="M1544.7 438.9H1572.7" class="zl"/>
<path class="d" d="M1546.9 438.9h0M1549 438.9h0M1550 438.9h0M1551.8 438.9h0M1552.5 438.9h0M1554.2 438.9h0M1555.6 438.9h0M1556.9 438.9h0M1558.1 438.9h0M1559.8 438.9h0M1561.3 438.9h0M1562.5 438.9h0M1564.5 438.9h0M1565.5 438.9h0M1567.1 438.9h0M1568.6 438.9h0M1569.8 438.9h0M1571.3 438.9h0"/>
<path d="M1576.7 438.9H1604.7" class="zl"/>
<path class="d" d="M1579.2 438.9h0M1580.3 438.9h0M1582.2 438.9h0M1583.6 438.9h0M1585 438.9h0M1586.7 438.9h0M1588 438.9h0M1589.6 438.9h0M1590.8 438.9h0M1592.3 438.9h0M1593.7 438.9h0M1595 438.9h0M1596.5 438.9h0M1598.2 438.9h0M1599.1 438.9h0M1600.7 438.9h0M1602.3 438.9h0"/>
<path d="M1608.8 438.9H1636.8" class="zl"/>
<path class="d" d="M1611 438.9h0M1612.8 438.9h0M1614.5 438.9h0M1615.7 438.9h0M1617.3 438.9h0M1618.6 438.9h0M1620.2 438.9h0M1621.2 438.9h0M1622.6 438.9h0M1624 438.9h0M1625.4 438.9h0M1626.9 438.9h0M1628.4 438.9h0M1630.2 438.9h0M1631.2 438.9h0M1632.5 438.9h0M1634.6 438.9h0"/>
<path d="M1640.9 438.9H1668.9" class="zl"/>
<path class="d" d="M1643.2 438.9h0M1644.9 438.9h0M1646.6 438.9h0M1647.3 438.9h0M1649 438.9h0M1650.4 438.9h0M1652.1 438.9h0M1653.2 438.9h0M1654.9 438.9h0M1656.3 438.9h0M1657.2 438.9h0M1658.6 438.9h0M1660 438.9h0M1662.1 438.9h0M1663 438.9h0M1664.4 438.9h0M1665.7 438.9h0M1667 438.9h0"/>
<path d="M1672.9 438.9H1700.9" class="zl"/>
<path class="d" d="M1677.6 438.9h0M1679 438.9h0M1680.7 438.9h0M1682 438.9h0M1683.6 438.9h0M1685.1 438.9h0M1686.1 438.9h0M1688 438.9h0M1689.3 438.9h0M1690.6 438.9h0M1692.7 438.9h0M1694.3 438.9h0M1695.5 438.9h0M1697.2 438.9h0M1698.1 438.9h0"/>
<path d="M1705 438.9H1733" class="zl"/>
<path class="d" d="M1709.2 438.9h0M1711.1 438.9h0M1712.4 438.9h0M1714.3 438.9h0M1716 438.9h0M1717.5 438.9h0M1718.5 438.9h0M1719.9 438.9h0M1721.5 438.9h0M1723.7 438.9h0M1725.2 438.9h0M1726.1 438.9h0M1727.9 438.9h0M1729.5 438.9h0"/>
<path d="M1737 438.9H1765" class="zl"/>
<path class="d" d="M1739.8 438.9h0M1740.6 438.9h0M1742.2 438.9h0M1743.7 438.9h0M1745.3 438.9h0M1746.8 438.9h0M1748.5 438.9h0M1749.6 438.9h0M1750.8 438.9h0M1752.6 438.9h0M1754 438.9h0M1755.1 438.9h0M1756.7 438.9h0M1757.9 438.9h0M1759.3 438.9h0M1761.3 438.9h0M1762.3 438.9h0"/>
<path class="d" d="M1778.9 438.9h0M1794.4 438.9h0"/>
<path d="M1801.2 438.9H1829.2" class="zl"/>
<path class="d" d="M1805.5 438.9h0M1807.5 438.9h0M1809 438.9h0M1810.6 438.9h0M1812 438.9h0M1813.5 438.9h0M1815.2 438.9h0M1817.1 438.9h0M1818.5 438.9h0M1819.9 438.9h0M1822.2 438.9h0M1823.1 438.9h0M1824.9 438.9h0M1826.6 438.9h0"/>
<path d="M1833.2 438.9H1861.2" class="zl"/>
<path class="d" d="M1840.4 438.9h0M1842.3 438.9h0M1844.2 438.9h0M1846.5 438.9h0M1849.1 438.9h0M1850.7 438.9h0M1853.4 438.9h0"/>
<path d="M1878.5 438.9L1878.5 432.2L1878.5 426.2L1878.5 420.7L1878.5 415.6L1878.5 411L1878.5 406.6L1878.5 402.6L1878.5 398.8L1878.5 395.2L1878.2 391.9L1877 388.7L1874.2 385.6L1872.8 382.8L1871.7 380L1870.7 377.4L1869.8 374.8L1868.9 372.4L1867.9 370.1L1866.9 367.8L1865.9 365.6L1865.2 363.5L1864.8 361.5L1865.1 359.6L1866.5 357.7L1868.6 355.8L1870.7 354L1872 352.3L1872.3 350.6L1872.1 349L1871.9 347.4L1871.7 345.8L1871.4 344.3L1871.3 342.8L1871.4 341.3L1872.8 339.9L1874.8 338.5L1876.7 337.2L1877.7 335.9L1877.9 334.6L1878 333.3L1878.1 332.1L1878.1 330.8L1878.2 329.7L1878.2 328.5L1878.3 327.3L1878.3 326.2L1878.3 325.1L1880.3 325.1L1880.3 326.2L1880.3 327.3L1880.3 328.5L1880.4 329.7L1880.4 330.8L1880.5 332.1L1880.6 333.3L1880.7 334.6L1880.8 335.9L1881.9 337.2L1883.8 338.5L1885.8 339.9L1887.1 341.3L1887.3 342.8L1887.1 344.3L1886.9 345.8L1886.6 347.4L1886.4 349L1886.3 350.6L1886.5 352.3L1887.9 354L1890 355.8L1892 357.7L1893.5 359.6L1893.7 361.5L1893.4 363.5L1892.6 365.6L1891.7 367.8L1890.7 370.1L1889.6 372.4L1888.7 374.8L1887.9 377.4L1886.9 380L1885.8 382.8L1884.3 385.6L1881.6 388.7L1880.3 391.9L1880.1 395.2L1880.1 398.8L1880.1 402.6L1880.1 406.6L1880.1 411L1880.1 415.6L1880.1 420.7L1880.1 426.2L1880.1 432.2L1880.1 438.9Z" fill="#3cc39c" class="v"/>
<path class="d" d="M1878 357.4h0M1890.3 362.9h0M1887.2 377.6h0M1883.4 353h0M1875.8 341.8h0M1884.3 359.6h0M1880.6 354.9h0M1891.1 365.7h0M1874 347.2h0M1879 370.3h0M1875.2 339h0M1871 345.1h0M1890.1 364.3h0M1882.4 362.3h0M1869.3 368.7h0M1878.5 383.9h0M1880.6 344.7h0M1870 375.8h0M1884 348.6h0M1880.6 353.7h0M1888.4 350h0M1883.5 360.1h0M1885 382.3h0M1891.7 360.9h0M1890.3 357.1h0M1870.6 354.9h0M1885.9 376.2h0M1891.2 371.6h0M1872.1 369.4h0M1873.3 367.6h0M1874.6 360.9h0M1891.2 339.5h0M1869.7 353.5h0M1891.5 342.8h0M1868.4 364.9h0M1871.4 347.8h0M1887.5 343.2h0M1884.3 378.7h0M1880.4 373.4h0M1872.5 365.9h0M1869.7 325.1h0M1882.3 438.9h0"/>
<path d="M1897.3 438.9H1925.3" class="zl"/>
<path class="d" d="M1900.8 438.9h0M1904.7 438.9h0M1906.1 438.9h0M1907.1 438.9h0M1909.1 438.9h0M1910.3 438.9h0M1911.5 438.9h0M1913.6 438.9h0M1914.7 438.9h0M1916.2 438.9h0M1917.6 438.9h0M1919 438.9h0M1920.9 438.9h0"/>
<path d="M1929.4 438.9H1957.4" class="zl"/>
<path class="d" d="M1931.9 438.9h0M1933.5 438.9h0M1934.8 438.9h0M1936.6 438.9h0M1937.9 438.9h0M1939.4 438.9h0M1940.9 438.9h0M1941.8 438.9h0M1943 438.9h0M1944.6 438.9h0M1946.2 438.9h0M1947.9 438.9h0M1949.5 438.9h0M1950.8 438.9h0M1951.8 438.9h0M1953.3 438.9h0M1954.8 438.9h0"/>
<path d="M1961.5 438.9H1989.5" class="zl"/>
<path class="d" d="M1963.8 438.9h0M1965.2 438.9h0M1966.7 438.9h0M1968.6 438.9h0M1969.4 438.9h0M1971.3 438.9h0M1972.6 438.9h0M1974.2 438.9h0M1975.9 438.9h0M1976.9 438.9h0M1978.5 438.9h0M1980.4 438.9h0M1981.4 438.9h0M1983.2 438.9h0M1984.4 438.9h0M1986.2 438.9h0"/>
<path class="d" d="M1995.5 438.9h0M2002.5 438.9h0M2018.5 438.9h0"/>
<path d="M2025.6 438.9H2053.6" class="zl"/>
<path class="d" d="M2029 438.9h0M2030.9 438.9h0M2032.1 438.9h0M2033.9 438.9h0M2035.8 438.9h0M2037.7 438.9h0M2041.3 438.9h0M2043.1 438.9h0M2045 438.9h0M2046.7 438.9h0M2048.4 438.9h0"/>
<path d="M2057.6 438.9H2085.6" class="zl"/>
<path d="M2071.6 438.9V426.8M2070.1 426.8H2073.1" class="vl"/>
<path class="d" d="M2060.1 438.9h0M2061.7 438.9h0M2063.2 438.9h0M2064.4 438.9h0M2065.7 438.9h0M2066.9 438.9h0M2069.1 438.9h0M2070 438.9h0M2071.8 438.9h0M2072.9 438.9h0M2074.6 438.9h0M2075.6 438.9h0M2077.7 438.9h0M2078.7 438.9h0M2080.5 438.9h0M2082 438.9h0M2083 438.9h0M2076.8 426.8h0"/>
<path d="M2102.9 438.9L2102.9 430.7L2102.9 423.5L2102.7 417.1L2101.4 411.2L2100.9 405.9L2100.6 401L2099.9 396.5L2097.1 392.3L2093.9 388.3L2091.4 384.6L2089.5 381.1L2089.7 377.8L2092 374.7L2094.8 371.7L2098.3 368.9L2100.3 366.2L2101.5 363.6L2102.3 361.1L2102.7 358.7L2102.7 356.4L2102.7 354.2L2102.8 352L2102.8 349.9L2102.8 347.9L2102.8 346L2102.8 344.1L2102.8 342.3L2102.8 340.5L2102.8 338.8L2102.8 337.1L2102.9 335.5L2102.9 333.9L2102.9 332.4L2102.9 330.9L2102.9 329.4L2102.9 328L2102.9 326.6L2102.9 325.2L2102.9 323.9L2102.9 322.5L2102.9 321.3L2102.9 320L2102.9 318.8L2102.9 317.6L2102.9 316.4L2102.9 315.2L2102.9 314.1L2104.5 314.1L2104.5 315.2L2104.5 316.4L2104.5 317.6L2104.5 318.8L2104.5 320L2104.5 321.3L2104.5 322.5L2104.5 323.9L2104.5 325.2L2104.5 326.6L2104.5 328L2104.5 329.4L2104.5 330.9L2104.5 332.4L2104.5 333.9L2104.5 335.5L2104.6 337.1L2104.6 338.8L2104.6 340.5L2104.6 342.3L2104.6 344.1L2104.6 346L2104.6 347.9L2104.6 349.9L2104.6 352L2104.7 354.2L2104.7 356.4L2104.7 358.7L2105.1 361.1L2105.9 363.6L2107.1 366.2L2109.1 368.9L2112.6 371.7L2115.4 374.7L2117.7 377.8L2117.9 381.1L2116 384.6L2113.5 388.3L2110.3 392.3L2107.5 396.5L2106.8 401L2106.5 405.9L2106 411.2L2104.7 417.1L2104.5 423.5L2104.5 430.7L2104.5 438.9Z" fill="#edf4b8" class="v"/>
<path class="d" d="M2111.6 378.4h0M2101.9 374.3h0M2097.1 380.5h0M2108.2 372.5h0M2109.8 376.4h0M2113.8 390.1h0M2102.7 395h0M2104.4 378.5h0M2097.8 383.8h0M2092.1 369h0M2112.5 389.2h0M2098 389.1h0M2115.5 385.1h0M2100.8 373.9h0M2111.3 392.1h0M2114.1 392.5h0M2108.6 372h0M2106.5 367.3h0M2105.5 378.3h0M2093.2 377.6h0M2103.4 383.4h0M2104.8 378.8h0M2103.2 375h0M2116.1 385.3h0M2103.9 378.9h0M2115.8 370.8h0M2109.4 381.2h0M2093.8 369h0M2113.8 362.8h0M2108 371.2h0M2098.2 395.7h0M2100.1 375.6h0M2116 381.7h0M2092.4 388.3h0M2091.6 384.5h0M2091.7 380.9h0M2116.2 365.6h0M2107.7 385h0M2099 388.5h0M2104.5 381.5h0M2092.8 371.1h0M2099 374.9h0M2097.1 381.2h0M2099.7 392.9h0M2103.5 382h0M2091 314.1h0M2095.9 362.5h0M2114.4 414.2h0M2095.2 438.9h0M2092.7 396.6h0M2092.1 401.4h0M2094.6 406.5h0M2107.5 406.5h0"/>
<path d="M1123.4 307.5V445.5H2130" class="ax"/>
<path d="M1117.1 438.9H1123.4" class="ax"/>
<text x="1113.1" y="446.6" class="tl" text-anchor="end">1</text>
<path d="M1117.1 371.9H1123.4" class="ax"/>
<text x="1113.1" y="379.6" class="tl" text-anchor="end">3</text>
<path d="M1117.1 340.7H1123.4" class="ax"/>
<text x="1113.1" y="348.4" class="tl" text-anchor="end">5</text>
<path d="M1141.9 445.5V451.8" class="ax"/>
<path d="M1174 445.5V451.8" class="ax"/>
<path d="M1206 445.5V451.8" class="ax"/>
<path d="M1238.1 445.5V451.8" class="ax"/>
<path d="M1270.1 445.5V451.8" class="ax"/>
<path d="M1302.2 445.5V451.8" class="ax"/>
<path d="M1334.3 445.5V451.8" class="ax"/>
<path d="M1366.3 445.5V451.8" class="ax"/>
<path d="M1398.4 445.5V451.8" class="ax"/>
<path d="M1430.4 445.5V451.8" class="ax"/>
<path d="M1462.5 445.5V451.8" class="ax"/>
<path d="M1494.6 445.5V451.8" class="ax"/>
<path d="M1526.6 445.5V451.8" class="ax"/>
<path d="M1558.7 445.5V451.8" class="ax"/>
<path d="M1590.7 445.5V451.8" class="ax"/>
<path d="M1622.8 445.5V451.8" class="ax"/>
<path d="M1654.9 445.5V451.8" class="ax"/>
<path d="M1686.9 445.5V451.8" class="ax"/>
<path d="M1719 445.5V451.8" class="ax"/>
<path d="M1751 445.5V451.8" class="ax"/>
<path d="M1783.1 445.5V451.8" class="ax"/>
<path d="M1815.2 445.5V451.8" class="ax"/>
<path d="M1847.2 445.5V451.8" class="ax"/>
<path d="M1879.3 445.5V451.8" class="ax"/>
<path d="M1911.3 445.5V451.8" class="ax"/>
<path d="M1943.4 445.5V451.8" class="ax"/>
<path d="M1975.5 445.5V451.8" class="ax"/>
<path d="M2007.5 445.5V451.8" class="ax"/>
<path d="M2039.6 445.5V451.8" class="ax"/>
<path d="M2071.6 445.5V451.8" class="ax"/>
<path d="M2103.7 445.5V451.8" class="ax"/>
<text x="1623.3" y="287.3" class="tt" text-anchor="middle">Gip</text>
</g>
<g>
<path d="M1129 655.5H1157" class="zl"/>
<path d="M1143 655.5V627.5M1141.5 627.5H1144.5" class="vl"/>
<path class="d" d="M1131.8 655.5h0M1132.7 655.5h0M1134.6 655.5h0M1135.6 655.5h0M1137 655.5h0M1138.8 655.5h0M1140.1 655.5h0M1141.1 655.5h0M1142.5 655.5h0M1144.1 655.5h0M1145.6 655.5h0M1147.4 655.5h0M1148.4 655.5h0M1150.1 655.5h0M1151.3 655.5h0M1152.9 655.5h0M1154.3 655.5h0M1155.7 655.5h0M1131 627.5h0"/>
<path d="M1161.1 655.5H1189.1" class="zl"/>
<path class="d" d="M1164.4 655.5h0M1165.8 655.5h0M1167.5 655.5h0M1168.7 655.5h0M1170.1 655.5h0M1171.3 655.5h0M1173.3 655.5h0M1174.1 655.5h0M1175.5 655.5h0M1177.5 655.5h0M1178.3 655.5h0M1179.9 655.5h0M1181.8 655.5h0M1182.8 655.5h0M1184.4 655.5h0M1185.7 655.5h0"/>
<path d="M1193.1 655.5H1221.1" class="zl"/>
<path class="d" d="M1200.8 655.5h0M1201.9 655.5h0M1203.2 655.5h0M1205 655.5h0M1205.9 655.5h0M1207.5 655.5h0M1208.6 655.5h0M1210.3 655.5h0M1212 655.5h0M1213.2 655.5h0M1214.8 655.5h0M1215.5 655.5h0M1216.9 655.5h0M1218.6 655.5h0"/>
<path d="M1225.2 655.5H1253.2" class="zl"/>
<path class="d" d="M1238.5 655.5h0M1240.3 655.5h0M1241.1 655.5h0M1242.8 655.5h0M1243.8 655.5h0M1244.8 655.5h0M1246.3 655.5h0M1247.9 655.5h0M1249.1 655.5h0M1250.8 655.5h0M1252 655.5h0"/>
<path d="M1257.2 655.5H1285.2" class="zl"/>
<path class="d" d="M1270.2 655.5h0M1275.2 655.5h0M1278.1 655.5h0M1281.1 655.5h0"/>
<path d="M1289.3 655.5H1317.3" class="zl"/>
<path class="d" d="M1291.9 655.5h0M1292.9 655.5h0M1294.3 655.5h0M1295.9 655.5h0M1297.3 655.5h0M1299 655.5h0M1300.5 655.5h0M1302 655.5h0M1303.4 655.5h0M1304.9 655.5h0M1306 655.5h0M1307.6 655.5h0M1309 655.5h0M1310.7 655.5h0M1311.5 655.5h0M1313.3 655.5h0M1314.7 655.5h0"/>
<path d="M1321.4 655.5H1349.4" class="zl"/>
<path class="d" d="M1325 655.5h0M1326.2 655.5h0M1327.9 655.5h0M1328.9 655.5h0M1331 655.5h0M1331.7 655.5h0M1333.1 655.5h0M1334.7 655.5h0M1336.1 655.5h0M1337.6 655.5h0M1339 655.5h0M1340.8 655.5h0M1342.3 655.5h0M1343.4 655.5h0M1344.9 655.5h0"/>
<path d="M1353.4 655.5H1381.4" class="zl"/>
<path d="M1367.4 655.5V585.6M1365.9 585.6H1368.9" class="vl"/>
<path class="d" d="M1355.8 655.5h0M1357.4 655.5h0M1358.9 655.5h0M1359.9 655.5h0M1361.9 655.5h0M1362.9 655.5h0M1364.7 655.5h0M1365.6 655.5h0M1367.3 655.5h0M1368.6 655.5h0M1370.1 655.5h0M1371.8 655.5h0M1373.5 655.5h0M1374.4 655.5h0M1375.7 655.5h0M1377.6 655.5h0M1378.5 655.5h0M1369 585.6h0M1370.8 616.5h0"/>
<path d="M1385 655.5L1386.5 652.8L1388.1 650.1L1390 647.4L1391.7 644.7L1393.4 642L1394.8 639.3L1395.7 636.6L1396.3 633.9L1396.8 631.2L1397.2 628.5L1397.5 625.8L1397.5 623.1L1397.6 620.4L1397.7 617.7L1397.7 615L1397.8 612.2L1397.8 609.5L1397.8 606.8L1397.9 604.1L1397.9 601.4L1397.9 598.7L1397.9 596L1397.9 593.3L1398 590.6L1398 587.9L1398 585.2L1398 582.5L1398 579.8L1398.1 577.1L1398.1 574.4L1398.1 571.7L1398.1 569L1398.1 566.3L1398.2 563.6L1398.2 560.9L1398.2 558.2L1398.2 555.5L1398.2 552.8L1398.2 550.1L1398.2 547.4L1398.3 544.7L1398.3 542L1398.3 539.3L1398.3 536.6L1398.3 533.9L1398.3 531.2L1398.3 528.5L1400.7 528.5L1400.7 531.2L1400.7 533.9L1400.7 536.6L1400.7 539.3L1400.7 542L1400.7 544.7L1400.7 547.4L1400.7 550.1L1400.7 552.8L1400.8 555.5L1400.8 558.2L1400.8 560.9L1400.8 563.6L1400.8 566.3L1400.8 569L1400.9 571.7L1400.9 574.4L1400.9 577.1L1400.9 579.8L1400.9 582.5L1401 585.2L1401 587.9L1401 590.6L1401 593.3L1401 596L1401.1 598.7L1401.1 601.4L1401.1 604.1L1401.1 606.8L1401.2 609.5L1401.2 612.2L1401.2 615L1401.3 617.7L1401.4 620.4L1401.4 623.1L1401.5 625.8L1401.7 628.5L1402.1 631.2L1402.6 633.9L1403.3 636.6L1404.2 639.3L1405.5 642L1407.2 644.7L1408.9 647.4L1410.8 650.1L1412.5 652.8L1414 655.5Z" fill="#1a8791" class="v"/>
<path class="d" d="M1387.1 655.5h0M1389.6 655.5h0M1391.5 655.5h0M1392.6 655.5h0M1394.7 655.5h0M1396.5 655.5h0M1398.4 655.5h0M1401 655.5h0M1402.9 655.5h0M1404.2 655.5h0M1405.3 655.5h0M1407.3 655.5h0M1409.6 655.5h0M1411.5 655.5h0M1394 528.5h0M1406.2 535.6h0M1403.8 550.5h0M1399.5 561.5h0M1407.5 564.8h0M1390.3 585.1h0M1398.3 589.5h0M1395.8 598.9h0M1392.8 605.5h0M1401.3 609.3h0M1409.9 611h0M1403.2 618.1h0M1395.8 622h0M1410.5 631.9h0M1410.5 646.7h0M1395.5 639h0M1401.5 641.8h0"/>
<path d="M1417.5 655.5H1445.5" class="zl"/>
<path class="d" d="M1420.1 655.5h0M1421.6 655.5h0M1423 655.5h0M1424.2 655.5h0M1425.4 655.5h0M1427.1 655.5h0M1429 655.5h0M1429.8 655.5h0M1431.2 655.5h0M1432.6 655.5h0M1434.5 655.5h0M1436 655.5h0M1437.1 655.5h0M1439.1 655.5h0M1440.1 655.5h0M1441.9 655.5h0M1443.2 655.5h0"/>
<path d="M1449.6 655.5H1477.6" class="zl"/>
<path class="d" d="M1452.1 655.5h0M1453.4 655.5h0M1455.3 655.5h0M1456.4 655.5h0M1457.6 655.5h0M1459.7 655.5h0M1460.7 655.5h0M1461.9 655.5h0M1463.8 655.5h0M1465.1 655.5h0M1466.3 655.5h0M1468.1 655.5h0M1469.1 655.5h0M1471 655.5h0M1471.9 655.5h0M1473.3 655.5h0M1475.4 655.5h0"/>
<path d="M1481.7 655.5H1509.7" class="zl"/>
<path d="M1495.7 655.5V567.5M1494.2 567.5H1497.2" class="vl"/>
<path class="d" d="M1484.7 655.5h0M1490.9 655.5h0M1493.6 655.5h0M1502.5 655.5h0M1505.5 655.5h0M1496.2 567.5h0M1487 571.9h0"/>
<path d="M1513.7 655.5H1541.7" class="zl"/>
<path class="d" d="M1516.4 655.5h0M1517.8 655.5h0M1519.3 655.5h0M1520.7 655.5h0M1522.3 655.5h0M1523.7 655.5h0M1524.8 655.5h0M1526.7 655.5h0M1527.6 655.5h0M1529.3 655.5h0M1530.7 655.5h0M1532.4 655.5h0M1533.6 655.5h0M1534.8 655.5h0M1536.7 655.5h0M1537.8 655.5h0M1539.1 655.5h0"/>
<path d="M1545.8 655.5H1573.8" class="zl"/>
<path d="M1559.8 655.5V636.2M1558.3 636.2H1561.3" class="vl"/>
<path class="d" d="M1548 655.5h0M1549.9 655.5h0M1551.1 655.5h0M1552.4 655.5h0M1553.9 655.5h0M1555.1 655.5h0M1556.8 655.5h0M1558.2 655.5h0M1559.8 655.5h0M1561.4 655.5h0M1562.4 655.5h0M1563.8 655.5h0M1565.9 655.5h0M1566.6 655.5h0M1568.7 655.5h0M1569.8 655.5h0M1571.1 655.5h0M1569.6 636.2h0"/>
<path d="M1577.8 655.5H1605.8" class="zl"/>
<path class="d" d="M1580.2 655.5h0M1581.8 655.5h0M1583.2 655.5h0M1585 655.5h0M1585.7 655.5h0M1587.3 655.5h0M1589.1 655.5h0M1590.2 655.5h0M1592 655.5h0M1593.2 655.5h0M1594.5 655.5h0M1595.9 655.5h0M1597.6 655.5h0M1599.2 655.5h0M1600.1 655.5h0M1601.6 655.5h0M1603.5 655.5h0"/>
<path d="M1609.9 655.5H1637.9" class="zl"/>
<path class="d" d="M1612.5 655.5h0M1613.9 655.5h0M1615.5 655.5h0M1617.1 655.5h0M1618.4 655.5h0M1619.6 655.5h0M1620.7 655.5h0M1622.1 655.5h0M1624.2 655.5h0M1625 655.5h0M1626.5 655.5h0M1628.1 655.5h0M1630 655.5h0M1631 655.5h0M1632.4 655.5h0M1633.7 655.5h0M1635.7 655.5h0"/>
<path d="M1642 655.5H1670" class="zl"/>
<path class="d" d="M1644.2 655.5h0M1646.2 655.5h0M1647.6 655.5h0M1648.9 655.5h0M1650 655.5h0M1651.6 655.5h0M1653.2 655.5h0M1654.2 655.5h0M1655.9 655.5h0M1657.5 655.5h0M1658.7 655.5h0M1660.2 655.5h0M1661.8 655.5h0M1663.5 655.5h0M1664.7 655.5h0M1665.9 655.5h0M1667.9 655.5h0"/>
<path d="M1674 655.5H1702" class="zl"/>
<path class="d" d="M1677.9 655.5h0M1681.2 655.5h0M1684.2 655.5h0M1686.8 655.5h0M1688.5 655.5h0M1690.4 655.5h0M1692 655.5h0M1693.1 655.5h0M1694.7 655.5h0M1696.2 655.5h0M1698.1 655.5h0"/>
<path d="M1706.1 655.5H1734.1" class="zl"/>
<path class="d" d="M1709.7 655.5h0M1712.8 655.5h0M1716.1 655.5h0M1719.3 655.5h0M1720.8 655.5h0M1722.4 655.5h0M1723.6 655.5h0M1725.6 655.5h0M1726.7 655.5h0M1728.3 655.5h0M1730.1 655.5h0"/>
<path d="M1738.1 655.5H1766.1" class="zl"/>
<path class="d" d="M1740.6 655.5h0M1742.4 655.5h0M1743.3 655.5h0M1745 655.5h0M1746.6 655.5h0M1748 655.5h0M1749.1 655.5h0M1750.9 655.5h0M1752.1 655.5h0M1753.7 655.5h0M1755.3 655.5h0M1756.6 655.5h0M1757.8 655.5h0M1759.3 655.5h0M1760.7 655.5h0M1762.2 655.5h0M1763.5 655.5h0"/>
<path class="d" d="M1779.6 655.5h0M1795.2 655.5h0"/>
<path d="M1802.3 655.5H1830.3" class="zl"/>
<path class="d" d="M1806.5 655.5h0M1808.2 655.5h0M1809.4 655.5h0M1811.4 655.5h0M1813.3 655.5h0M1814.9 655.5h0M1816.3 655.5h0M1817.8 655.5h0M1819.6 655.5h0M1821.5 655.5h0M1822.9 655.5h0M1824.8 655.5h0M1826.6 655.5h0M1828.3 655.5h0"/>
<path d="M1834.3 655.5H1862.3" class="zl"/>
<path class="d" d="M1840.4 655.5h0M1843.6 655.5h0M1845.9 655.5h0M1849 655.5h0M1851.5 655.5h0M1853.6 655.5h0M1856.1 655.5h0"/>
<path d="M1866.4 655.5H1894.4" class="zl"/>
<path class="d" d="M1868.9 655.5h0M1870.1 655.5h0M1871.4 655.5h0M1873.5 655.5h0M1874.7 655.5h0M1875.9 655.5h0M1877.7 655.5h0M1879.1 655.5h0M1880.5 655.5h0M1881.6 655.5h0M1883.2 655.5h0M1884.6 655.5h0M1886.4 655.5h0M1887.5 655.5h0M1889.4 655.5h0M1890.5 655.5h0M1891.9 655.5h0"/>
<path d="M1898.4 655.5H1926.4" class="zl"/>
<path class="d" d="M1902.5 655.5h0M1904.6 655.5h0M1905.9 655.5h0M1908.1 655.5h0M1910 655.5h0M1911.5 655.5h0M1914.6 655.5h0M1916.4 655.5h0M1918.3 655.5h0M1919.9 655.5h0M1921.7 655.5h0M1923.4 655.5h0"/>
<path d="M1930.5 655.5H1958.5" class="zl"/>
<path class="d" d="M1933.3 655.5h0M1934.8 655.5h0M1935.7 655.5h0M1937.5 655.5h0M1938.5 655.5h0M1940.1 655.5h0M1941.6 655.5h0M1943.4 655.5h0M1944.8 655.5h0M1945.8 655.5h0M1947.1 655.5h0M1948.7 655.5h0M1950.5 655.5h0M1951.6 655.5h0M1953 655.5h0M1954.2 655.5h0M1956.2 655.5h0"/>
<path d="M1962.6 655.5H1990.6" class="zl"/>
<path d="M1976.6 655.5V606M1975.1 606H1978.1" class="vl"/>
<path class="d" d="M1965.2 655.5h0M1966.2 655.5h0M1968 655.5h0M1969.5 655.5h0M1970.9 655.5h0M1972.3 655.5h0M1973.5 655.5h0M1975 655.5h0M1976.6 655.5h0M1977.9 655.5h0M1979.2 655.5h0M1980.9 655.5h0M1982.7 655.5h0M1983.7 655.5h0M1985.3 655.5h0M1986.4 655.5h0M1987.8 655.5h0M1974.8 606h0M1971.1 617h0M1977.2 619.2h0"/>
<path d="M1994.1 655.5L1994.1 653.7L1994.1 651.9L1994.1 650.2L1994.1 648.4L1994.1 646.6L1994.1 644.8L1994.1 643L1994.3 641.3L1994.6 639.5L1995.1 637.7L1995.8 635.9L1996.5 634.2L1997.2 632.4L1997.9 630.6L1998.6 628.8L1999.2 627L1999.6 625.3L2000 623.5L2000.4 621.7L2000.8 619.9L2001.2 618.1L2001.5 616.4L2001.8 614.6L2002.1 612.8L2002.4 611L2002.5 609.3L2002.6 607.5L2002.6 605.7L2002.6 603.9L2002.5 602.1L2002.5 600.4L2002.4 598.6L2002.3 596.8L2002.3 595L2002.2 593.2L2002.2 591.5L2002.1 589.7L2002.1 587.9L2002.1 586.1L2002.1 584.4L2002.1 582.6L2002.1 580.8L2002.1 579L2002.2 577.2L2002.2 575.5L2002.2 573.7L2002.2 571.9L2015 571.9L2015 573.7L2015.1 575.5L2015.1 577.2L2015.1 579L2015.1 580.8L2015.1 582.6L2015.1 584.4L2015.1 586.1L2015.1 587.9L2015.1 589.7L2015.1 591.5L2015 593.2L2015 595L2014.9 596.8L2014.8 598.6L2014.8 600.4L2014.7 602.1L2014.6 603.9L2014.6 605.7L2014.6 607.5L2014.7 609.3L2014.9 611L2015.1 612.8L2015.4 614.6L2015.7 616.4L2016.1 618.1L2016.5 619.9L2016.8 621.7L2017.2 623.5L2017.6 625.3L2018.1 627L2018.7 628.8L2019.3 630.6L2020.1 632.4L2020.8 634.2L2021.5 635.9L2022.1 637.7L2022.6 639.5L2023 641.3L2023.1 643L2023.1 644.8L2023.1 646.6L2023.1 648.4L2023.1 650.2L2023.1 651.9L2023.1 653.7L2023.1 655.5Z" fill="#8bd1aa" class="v"/>
<path class="d" d="M2002.8 571.9h0M2016.9 578h0M2018.9 630.8h0M2018.1 638.5h0M1995.6 655.5h0M2002.8 655.5h0"/>
<path d="M2026.7 655.5H2054.7" class="zl"/>
<path class="d" d="M2028.9 655.5h0M2030.4 655.5h0M2032.5 655.5h0M2033.6 655.5h0M2035.2 655.5h0M2036.9 655.5h0M2038 655.5h0M2040.1 655.5h0M2043.9 655.5h0M2046.3 655.5h0M2048.1 655.5h0M2050.4 655.5h0"/>
<path d="M2058.7 655.5H2086.7" class="zl"/>
<path d="M2072.7 655.5V585.6M2071.2 585.6H2074.2" class="vl"/>
<path class="d" d="M2061.2 655.5h0M2062.9 655.5h0M2064 655.5h0M2065.2 655.5h0M2066.6 655.5h0M2068.7 655.5h0M2069.9 655.5h0M2071 655.5h0M2072.5 655.5h0M2074.4 655.5h0M2075.9 655.5h0M2077.4 655.5h0M2078.3 655.5h0M2080.3 655.5h0M2081.6 655.5h0M2082.6 655.5h0M2084.5 655.5h0M2069.5 585.6h0M2068.9 611.5h0M2065.8 618.6h0M2068.3 619.8h0M2075.6 620.3h0M2062.3 630.8h0M2059.2 632.4h0M2073.2 630.8h0M2072.6 633h0M2083 633.5h0M2068.3 637.4h0M2067.1 640.1h0M2073.8 637.9h0M2076.9 644.5h0M2061.7 648.9h0"/>
<path d="M2090.8 655.5H2118.8" class="zl"/>
<path class="d" d="M2093.4 655.5h0M2094.4 655.5h0M2096.3 655.5h0M2097.4 655.5h0M2098.7 655.5h0M2100.8 655.5h0M2102.1 655.5h0M2103.1 655.5h0M2105 655.5h0M2106.5 655.5h0M2107.7 655.5h0M2109.1 655.5h0M2110.6 655.5h0M2111.7 655.5h0M2113.8 655.5h0M2115 655.5h0M2116.1 655.5h0"/>
<path d="M1124.4 521.9V662.1H2130" class="ax"/>
<path d="M1118.1 655.5H1124.4" class="ax"/>
<text x="1114.1" y="663.2" class="tl" text-anchor="end">0.0</text>
<path d="M1118.1 628H1124.4" class="ax"/>
<text x="1114.1" y="635.7" class="tl" text-anchor="end">0.5</text>
<path d="M1118.1 600.5H1124.4" class="ax"/>
<text x="1114.1" y="608.2" class="tl" text-anchor="end">1.0</text>
<path d="M1118.1 573H1124.4" class="ax"/>
<text x="1114.1" y="580.7" class="tl" text-anchor="end">1.5</text>
<path d="M1118.1 545.5H1124.4" class="ax"/>
<text x="1114.1" y="553.2" class="tl" text-anchor="end">2.0</text>
<path d="M1143 662.1V668.4" class="ax"/>
<path d="M1175.1 662.1V668.4" class="ax"/>
<path d="M1207.1 662.1V668.4" class="ax"/>
<path d="M1239.2 662.1V668.4" class="ax"/>
<path d="M1271.2 662.1V668.4" class="ax"/>
<path d="M1303.3 662.1V668.4" class="ax"/>
<path d="M1335.4 662.1V668.4" class="ax"/>
<path d="M1367.4 662.1V668.4" class="ax"/>
<path d="M1399.5 662.1V668.4" class="ax"/>
<path d="M1431.5 662.1V668.4" class="ax"/>
<path d="M1463.6 662.1V668.4" class="ax"/>
<path d="M1495.7 662.1V668.4" class="ax"/>
<path d="M1527.7 662.1V668.4" class="ax"/>
<path d="M1559.8 662.1V668.4" class="ax"/>
<path d="M1591.8 662.1V668.4" class="ax"/>
<path d="M1623.9 662.1V668.4" class="ax"/>
<path d="M1656 662.1V668.4" class="ax"/>
<path d="M1688 662.1V668.4" class="ax"/>
<path d="M1720.1 662.1V668.4" class="ax"/>
<path d="M1752.1 662.1V668.4" class="ax"/>
<path d="M1784.2 662.1V668.4" class="ax"/>
<path d="M1816.3 662.1V668.4" class="ax"/>
<path d="M1848.3 662.1V668.4" class="ax"/>
<path d="M1880.4 662.1V668.4" class="ax"/>
<path d="M1912.4 662.1V668.4" class="ax"/>
<path d="M1944.5 662.1V668.4" class="ax"/>
<path d="M1976.6 662.1V668.4" class="ax"/>
<path d="M2008.6 662.1V668.4" class="ax"/>
<path d="M2040.7 662.1V668.4" class="ax"/>
<path d="M2072.7 662.1V668.4" class="ax"/>
<path d="M2104.8 662.1V668.4" class="ax"/>
<text x="1624.5" y="503.8" class="tt" text-anchor="middle">Vnn1</text>
</g>
<g>
<path d="M1127.9 867.1H1155.9" class="zl"/>
<path class="d" d="M1130.2 867.1h0M1131.6 867.1h0M1133.4 867.1h0M1134.6 867.1h0M1136.1 867.1h0M1137.2 867.1h0M1138.6 867.1h0M1140.5 867.1h0M1141.4 867.1h0M1143.1 867.1h0M1144.4 867.1h0M1145.6 867.1h0M1147.3 867.1h0M1148.6 867.1h0M1150.5 867.1h0M1151.5 867.1h0M1152.9 867.1h0M1154.4 867.1h0"/>
<path d="M1160 867.1H1188" class="zl"/>
<path class="d" d="M1163.4 867.1h0M1164.4 867.1h0M1166.2 867.1h0M1167.5 867.1h0M1169 867.1h0M1169.8 867.1h0M1171.9 867.1h0M1173.1 867.1h0M1173.7 867.1h0M1175.6 867.1h0M1176.7 867.1h0M1178.1 867.1h0M1179.7 867.1h0M1180.8 867.1h0M1182.4 867.1h0M1183.8 867.1h0"/>
<path d="M1192 867.1H1220" class="zl"/>
<path class="d" d="M1199.6 867.1h0M1200.9 867.1h0M1202.4 867.1h0M1203.7 867.1h0M1204.8 867.1h0M1206.6 867.1h0M1207.9 867.1h0M1209.1 867.1h0M1210.3 867.1h0M1212.3 867.1h0M1213.2 867.1h0M1214.5 867.1h0M1216 867.1h0M1217.2 867.1h0"/>
<path d="M1224.1 867.1H1252.1" class="zl"/>
<path class="d" d="M1237.8 867.1h0M1239 867.1h0M1240.1 867.1h0M1241.2 867.1h0M1242.8 867.1h0M1244.3 867.1h0M1245.6 867.1h0M1246.5 867.1h0M1248.3 867.1h0M1249.2 867.1h0M1250.9 867.1h0"/>
<path d="M1256.1 867.1H1284.1" class="zl"/>
<path class="d" d="M1269.1 867.1h0M1274.1 867.1h0M1277.5 867.1h0M1280.3 867.1h0"/>
<path d="M1288.2 867.1H1316.2" class="zl"/>
<path class="d" d="M1290.6 867.1h0M1291.8 867.1h0M1293.2 867.1h0M1295.3 867.1h0M1296.1 867.1h0M1297.9 867.1h0M1299.2 867.1h0M1300.9 867.1h0M1302.2 867.1h0M1303.5 867.1h0M1305 867.1h0M1306.2 867.1h0M1308.1 867.1h0M1309.3 867.1h0M1310.9 867.1h0M1311.9 867.1h0M1313.6 867.1h0"/>
<path d="M1320.3 867.1H1348.3" class="zl"/>
<path class="d" d="M1323.4 867.1h0M1325 867.1h0M1326.9 867.1h0M1328.1 867.1h0M1329.7 867.1h0M1330.7 867.1h0M1332.4 867.1h0M1333.3 867.1h0M1334.7 867.1h0M1336.4 867.1h0M1338.1 867.1h0M1339.2 867.1h0M1340.2 867.1h0M1342.3 867.1h0M1343.4 867.1h0M1345 867.1h0"/>
<path d="M1352.3 867.1H1380.3" class="zl"/>
<path class="d" d="M1355.1 867.1h0M1356.4 867.1h0M1357.7 867.1h0M1359.2 867.1h0M1360.9 867.1h0M1362.1 867.1h0M1363.8 867.1h0M1365.2 867.1h0M1366.1 867.1h0M1367.4 867.1h0M1369.2 867.1h0M1370.7 867.1h0M1372 867.1h0M1373.4 867.1h0M1374.6 867.1h0M1376.2 867.1h0M1377.6 867.1h0"/>
<path d="M1384.4 867.1H1412.4" class="zl"/>
<path class="d" d="M1387.1 867.1h0M1388.7 867.1h0M1389.9 867.1h0M1391.3 867.1h0M1392.3 867.1h0M1394.2 867.1h0M1395.6 867.1h0M1397.2 867.1h0M1398.5 867.1h0M1399.6 867.1h0M1401.6 867.1h0M1402.6 867.1h0M1404.4 867.1h0M1405.8 867.1h0M1406.9 867.1h0M1408.4 867.1h0M1410.2 867.1h0"/>
<path d="M1426.9 867.1L1426.9 864.7L1426.7 862.2L1426.5 859.8L1425.3 857.3L1422.9 854.9L1420.5 852.4L1418.2 850L1416.2 847.5L1416.2 845.1L1417.2 842.6L1418.5 840.2L1419.6 837.7L1420.9 835.3L1422.2 832.8L1423.5 830.4L1424.4 827.9L1425.2 825.5L1425.9 823L1426.6 820.6L1427.1 818.1L1427.4 815.7L1427.7 813.2L1427.8 810.8L1428 808.3L1428.2 805.9L1428.4 803.4L1429.2 801L1429.2 798.5L1429.2 796.1L1429.2 793.6L1429.2 791.2L1429.2 788.7L1429.2 786.3L1429.2 783.8L1429.2 781.4L1429.2 778.9L1429.2 776.5L1429.2 774L1429.2 771.6L1429.2 769.1L1429.2 766.7L1429.2 764.2L1429.2 761.8L1429.2 759.3L1429.2 756.9L1429.2 754.4L1429.2 752L1431.6 752L1431.6 754.4L1431.6 756.9L1431.6 759.3L1431.6 761.8L1431.6 764.2L1431.6 766.7L1431.6 769.1L1431.6 771.6L1431.6 774L1431.6 776.5L1431.6 778.9L1431.6 781.4L1431.6 783.8L1431.6 786.3L1431.6 788.7L1431.6 791.2L1431.6 793.6L1431.6 796.1L1431.6 798.5L1431.7 801L1432.4 803.4L1432.7 805.9L1432.9 808.3L1433 810.8L1433.2 813.2L1433.4 815.7L1433.8 818.1L1434.3 820.6L1435 823L1435.7 825.5L1436.5 827.9L1437.4 830.4L1438.6 832.8L1439.9 835.3L1441.3 837.7L1442.4 840.2L1443.7 842.6L1444.7 845.1L1444.7 847.5L1442.7 850L1440.4 852.4L1438 854.9L1435.6 857.3L1434.4 859.8L1434.2 862.2L1434 864.7L1433.9 867.1Z" fill="#1b8d91" class="v"/>
<path class="d" d="M1425.7 841.1h0M1421.6 831.9h0M1440.8 847.5h0M1432.5 853.3h0M1424.3 831.3h0M1421.7 857.7h0M1439.9 848.9h0M1420.4 844.6h0M1427.1 849.9h0M1429.7 836h0M1419.8 838h0M1418.4 846.7h0M1436.4 838.9h0M1432.9 834.6h0M1440.3 834h0M1437.1 842.4h0M1423.7 827.5h0M1433.1 840.3h0M1432.7 849.7h0M1434.9 844.7h0M1440.1 837.3h0M1438.2 854.1h0M1419.2 848.5h0M1442.8 844.2h0M1433 842.7h0M1421.3 830.2h0M1437.8 844.5h0M1431.8 856.7h0M1440.7 843.8h0M1431.6 851.2h0M1416.4 867.1h0M1421.4 867.1h0M1425.4 867.1h0M1424.5 808.4h0M1421.5 821h0M1439.2 822h0M1418.4 830.7h0M1430.6 752h0M1430.6 761.9h0M1430.6 757.9h0"/>
<path d="M1448.5 867.1H1476.5" class="zl"/>
<path d="M1462.5 867.1V827.9M1461 827.9H1464" class="vl"/>
<path class="d" d="M1451.4 867.1h0M1452.3 867.1h0M1454.1 867.1h0M1455.9 867.1h0M1457.4 867.1h0M1458.9 867.1h0M1459.9 867.1h0M1462 867.1h0M1463.3 867.1h0M1465 867.1h0M1466.1 867.1h0M1467.6 867.1h0M1469.7 867.1h0M1470.5 867.1h0M1472.8 867.1h0M1474.4 867.1h0M1462.5 827.4h0M1454.5 834.1h0M1453.9 836.6h0M1463.1 835.9h0M1468 833.5h0M1474.1 829.9h0M1451.5 851.7h0M1452.1 855h0M1455.8 851.1h0M1462.5 849.3h0M1466.2 849.9h0M1469.2 850.7h0"/>
<path d="M1480.6 867.1H1508.6" class="zl"/>
<path class="d" d="M1482.9 867.1h0M1484.3 867.1h0M1485.9 867.1h0M1487.4 867.1h0M1488.8 867.1h0M1490.1 867.1h0M1491.9 867.1h0M1493.1 867.1h0M1494.5 867.1h0M1496.2 867.1h0M1497.6 867.1h0M1499.2 867.1h0M1500 867.1h0M1502 867.1h0M1503.2 867.1h0M1504.4 867.1h0M1505.7 867.1h0"/>
<path d="M1512.6 867.1H1540.6" class="zl"/>
<path class="d" d="M1516.7 867.1h0M1519.1 867.1h0M1521 867.1h0M1523.6 867.1h0M1525.4 867.1h0M1528 867.1h0M1530.1 867.1h0M1532.1 867.1h0M1534.1 867.1h0M1536.9 867.1h0"/>
<path d="M1544.7 867.1H1572.7" class="zl"/>
<path class="d" d="M1546.9 867.1h0M1548.3 867.1h0M1550.4 867.1h0M1551.3 867.1h0M1552.7 867.1h0M1554.4 867.1h0M1555.8 867.1h0M1557 867.1h0M1558.6 867.1h0M1559.9 867.1h0M1561.5 867.1h0M1562.9 867.1h0M1564.7 867.1h0M1566.1 867.1h0M1567.7 867.1h0M1568.6 867.1h0M1569.8 867.1h0"/>
<path d="M1580.7 867.1L1579.7 865L1578.7 862.9L1578 860.8L1577.3 858.7L1576.7 856.6L1576.3 854.4L1576.3 852.3L1577 850.2L1578 848.1L1578.9 846L1579.6 843.9L1580.3 841.8L1581 839.7L1581.6 837.6L1582.3 835.5L1583 833.4L1583.7 831.2L1584.4 829.1L1585.1 827L1585.8 824.9L1586.4 822.8L1587.1 820.7L1587.7 818.6L1588.4 816.5L1589 814.4L1589.5 812.3L1589.7 810.2L1589.8 808L1589.8 805.9L1589.8 803.8L1589.8 801.7L1589.8 799.6L1589.8 797.5L1589.9 795.4L1589.9 793.3L1589.9 791.2L1589.9 789.1L1589.9 787L1589.9 784.8L1589.9 782.7L1589.9 780.6L1589.9 778.5L1589.9 776.4L1589.9 774.3L1589.9 772.2L1589.9 770.1L1589.9 768L1591.5 768L1591.5 770.1L1591.5 772.2L1591.5 774.3L1591.5 776.4L1591.5 778.5L1591.6 780.6L1591.6 782.7L1591.6 784.8L1591.6 787L1591.6 789.1L1591.6 791.2L1591.6 793.3L1591.6 795.4L1591.6 797.5L1591.6 799.6L1591.7 801.7L1591.7 803.8L1591.7 805.9L1591.7 808L1591.8 810.2L1592 812.3L1592.5 814.4L1593.1 816.5L1593.8 818.6L1594.4 820.7L1595 822.8L1595.7 824.9L1596.4 827L1597.1 829.1L1597.8 831.2L1598.5 833.4L1599.2 835.5L1599.8 837.6L1600.5 839.7L1601.2 841.8L1601.9 843.9L1602.6 846L1603.4 848.1L1604.4 850.2L1605.1 852.3L1605.2 854.4L1604.8 856.6L1604.2 858.7L1603.5 860.8L1602.7 862.9L1601.8 865L1600.7 867.1Z" fill="#19a694" class="v"/>
<path class="d" d="M1603.1 831.6h0M1580.3 856.6h0M1601.3 838.1h0M1584.8 848h0M1581 849.2h0M1581.4 849.9h0M1593.7 855h0M1599.6 855.7h0M1600.9 842.4h0M1582.6 852.9h0M1601.4 844.2h0M1582.6 834.6h0M1584.2 845.5h0M1599.6 839.1h0M1599.1 849.4h0M1602.5 858.8h0M1596.2 843.2h0M1597.5 860.6h0M1585 863.5h0M1601.6 833h0M1584.4 847h0M1595.5 827h0M1590.7 837.9h0M1593.5 827.9h0M1583.9 863.3h0M1584 851.1h0M1600.3 856.9h0M1588.3 855h0M1596.9 861.6h0M1598.4 846.7h0M1580.9 832.2h0M1585.2 858h0M1593 825.7h0M1585.9 853h0M1587.1 839h0M1585.1 867.1h0M1589.7 867.1h0M1594.7 867.1h0M1599.2 867.1h0M1603.7 867.1h0M1579.4 768.6h0M1585.6 808.8h0M1578.9 827.4h0M1601 832.1h0"/>
<path d="M1616.3 867.1L1616.3 864.8L1616.3 862.5L1616.3 860.2L1616 857.9L1614.7 855.7L1613.3 853.4L1612.2 851.1L1611.1 848.8L1610 846.5L1609.1 844.2L1608.5 841.9L1608.3 839.6L1608.8 837.3L1609.8 835L1611.1 832.8L1612.4 830.5L1613.6 828.2L1614.8 825.9L1616.1 823.6L1617.3 821.3L1618.5 819L1619.5 816.7L1620.2 814.4L1620.8 812.1L1621.3 809.9L1621.7 807.6L1621.8 805.3L1621.8 803L1621.8 800.7L1621.9 798.4L1621.9 796.1L1621.9 793.8L1621.9 791.5L1621.9 789.2L1621.9 787L1622 784.7L1622 782.4L1622 780.1L1622 777.8L1622 775.5L1622 773.2L1622 770.9L1622 768.6L1622 766.3L1622 764.1L1622 761.8L1622 759.5L1623.6 759.5L1623.6 761.8L1623.6 764.1L1623.6 766.3L1623.6 768.6L1623.6 770.9L1623.6 773.2L1623.6 775.5L1623.6 777.8L1623.6 780.1L1623.6 782.4L1623.6 784.7L1623.7 787L1623.7 789.2L1623.7 791.5L1623.7 793.8L1623.7 796.1L1623.7 798.4L1623.8 800.7L1623.8 803L1623.8 805.3L1623.9 807.6L1624.3 809.9L1624.8 812.1L1625.4 814.4L1626.1 816.7L1627.1 819L1628.3 821.3L1629.5 823.6L1630.8 825.9L1632 828.2L1633.2 830.5L1634.5 832.8L1635.8 835L1636.8 837.3L1637.3 839.6L1637.1 841.9L1636.5 844.2L1635.6 846.5L1634.5 848.8L1633.4 851.1L1632.3 853.4L1630.9 855.7L1629.6 857.9L1629.3 860.2L1629.3 862.5L1629.3 864.8L1629.3 867.1Z" fill="#18aa96" class="v"/>
<path class="d" d="M1614.7 837.4h0M1624 849.5h0M1632 835.3h0M1612.2 844.8h0M1632.2 826.5h0M1624.1 849.4h0M1629.5 844.4h0M1630.7 828.6h0M1631.4 844.4h0M1625.3 858.2h0M1616.5 860h0M1633.5 832.1h0M1634 820.6h0M1624.1 848.7h0M1619.3 853.4h0M1633.4 851.9h0M1621.2 835.1h0M1635.1 837.9h0M1631.1 856.2h0M1625.3 842.1h0M1618.8 845.9h0M1621.5 831.2h0M1629.7 841.5h0M1628.2 839.9h0M1623.9 855.4h0M1619.4 830.7h0M1617 829.1h0M1622.8 822.5h0M1617.3 839.9h0M1625.2 816.2h0M1609.8 867.1h0M1612.8 867.1h0M1615.8 867.1h0M1623.7 759.5h0"/>
<path d="M1640.9 867.1H1668.9" class="zl"/>
<path d="M1654.9 867.1V830.7M1653.4 830.7H1656.4" class="vl"/>
<path class="d" d="M1643 867.1h0M1644.9 867.1h0M1646.4 867.1h0M1648 867.1h0M1649.1 867.1h0M1650.9 867.1h0M1652 867.1h0M1653.4 867.1h0M1654.9 867.1h0M1656.9 867.1h0M1657.9 867.1h0M1659.6 867.1h0M1660.9 867.1h0M1662.4 867.1h0M1664.2 867.1h0M1665.4 867.1h0M1666.8 867.1h0M1659.4 830.7h0M1648.4 843.8h0M1657 850.5h0"/>
<path d="M1680.9 820.6L1680.2 818.8L1679.4 817.1L1678.3 815.4L1677.1 813.6L1676 811.9L1675.1 810.2L1674.5 808.5L1674 806.7L1673.5 805L1673 803.3L1672.7 801.5L1672.5 799.8L1672.4 798.1L1672.7 796.3L1673.3 794.6L1674 792.9L1674.9 791.2L1675.9 789.4L1676.9 787.7L1677.9 786L1679.2 784.2L1680.5 782.5L1681.8 780.8L1683 779L1684.1 777.3L1685.2 775.6L1686 773.9L1686.1 772.1L1686.1 770.4L1686.1 768.7L1686.1 766.9L1686.1 765.2L1686.1 763.5L1686.1 761.7L1686 760L1686 758.3L1686 756.5L1686 754.8L1685.9 753.1L1685.9 751.4L1685.8 749.6L1685.8 747.9L1685.7 746.2L1685.6 744.4L1685.4 742.7L1685.2 741L1684.9 739.2L1688.9 739.2L1688.7 741L1688.4 742.7L1688.2 744.4L1688.1 746.2L1688.1 747.9L1688 749.6L1688 751.4L1687.9 753.1L1687.9 754.8L1687.9 756.5L1687.8 758.3L1687.8 760L1687.8 761.7L1687.8 763.5L1687.7 765.2L1687.7 766.9L1687.7 768.7L1687.7 770.4L1687.7 772.1L1687.9 773.9L1688.6 775.6L1689.8 777.3L1690.9 779L1692 780.8L1693.3 782.5L1694.7 784.2L1695.9 786L1697 787.7L1697.9 789.4L1698.9 791.2L1699.8 792.9L1700.6 794.6L1701.1 796.3L1701.4 798.1L1701.4 799.8L1701.2 801.5L1700.8 803.3L1700.4 805L1699.9 806.7L1699.3 808.5L1698.7 810.2L1697.8 811.9L1696.7 813.6L1695.6 815.4L1694.5 817.1L1693.6 818.8L1692.9 820.6Z" fill="#12b899" class="v"/>
<path class="d" d="M1685.7 792.1h0M1679.2 802.7h0M1691.8 787h0M1692.1 807.5h0M1683 794.5h0M1688.2 785.8h0M1676.6 789.4h0M1692.9 816.9h0M1685.9 807.8h0M1691.9 812h0M1687.4 798.2h0M1684.4 803.9h0M1675.8 800.3h0M1692.5 815.6h0M1698 739.9h0M1693.6 820.6h0"/>
<path d="M1705 867.1H1733" class="zl"/>
<path class="d" d="M1712.8 867.1h0M1714.4 867.1h0M1715.9 867.1h0M1717.4 867.1h0M1719.6 867.1h0M1721 867.1h0M1722.4 867.1h0M1723.8 867.1h0M1725.7 867.1h0M1727.1 867.1h0M1729.3 867.1h0M1730.8 867.1h0"/>
<path d="M1737 867.1H1765" class="zl"/>
<path class="d" d="M1739.3 867.1h0M1741.2 867.1h0M1742.7 867.1h0M1744 867.1h0M1745.3 867.1h0M1747 867.1h0M1747.8 867.1h0M1749.4 867.1h0M1751.1 867.1h0M1752.4 867.1h0M1754.1 867.1h0M1755.6 867.1h0M1756.9 867.1h0M1758.6 867.1h0M1759.4 867.1h0M1760.9 867.1h0M1762.6 867.1h0"/>
<path class="d" d="M1778.8 867.1h0M1794.1 867.1h0"/>
<path d="M1808.2 815.3L1806.2 814.1L1804.6 812.8L1803.1 811.6L1801.7 810.3L1800.8 809.1L1800.8 807.8L1802.1 806.6L1804 805.4L1805.4 804.1L1806.7 802.9L1807.8 801.6L1808.8 800.4L1809.5 799.1L1810 797.9L1810.5 796.7L1810.9 795.4L1811.3 794.2L1811.7 792.9L1812 791.7L1812.4 790.4L1812.8 789.2L1813.3 787.9L1813.7 786.7L1814 785.5L1814.2 784.2L1814.4 783L1814.4 781.7L1814.4 780.5L1814.4 779.2L1814.4 778L1814.4 776.7L1814.4 775.5L1814.4 774.3L1814.4 773L1814.4 771.8L1814.4 770.5L1814.4 769.3L1814.4 768L1814.4 766.8L1814.4 765.6L1814.4 764.3L1814.4 763.1L1814.4 761.8L1814.3 760.6L1814 759.3L1813.7 758.1L1813.4 756.8L1817 756.8L1816.6 758.1L1816.3 759.3L1816.1 760.6L1816 761.8L1816 763.1L1816 764.3L1816 765.6L1816 766.8L1816 768L1816 769.3L1816 770.5L1816 771.8L1816 773L1816 774.3L1816 775.5L1816 776.7L1816 778L1816 779.2L1816 780.5L1816 781.7L1816 783L1816.1 784.2L1816.3 785.5L1816.7 786.7L1817.1 787.9L1817.5 789.2L1817.9 790.4L1818.3 791.7L1818.7 792.9L1819 794.2L1819.4 795.4L1819.8 796.7L1820.3 797.9L1820.9 799.1L1821.5 800.4L1822.5 801.6L1823.7 802.9L1824.9 804.1L1826.4 805.4L1828.2 806.6L1829.5 807.8L1829.5 809.1L1828.6 810.3L1827.2 811.6L1825.8 812.8L1824.1 814.1L1822.2 815.3Z" fill="#1dba98" class="v"/>
<path class="d" d="M1826.7 805.2h0M1810.3 808.9h0M1816.3 807.8h0M1804.2 809.8h0M1808.8 798.1h0M1819.7 812.7h0M1806.7 800.1h0M1816.1 803.3h0M1824.8 815.7h0M1819.7 808h0M1808 811.8h0M1813.4 803.7h0M1806.2 792.5h0M1824.6 799.7h0M1815.2 756.8h0M1815.2 759.9h0"/>
<path d="M1833.2 867.1H1861.2" class="zl"/>
<path class="d" d="M1839.3 867.1h0M1841 867.1h0M1845.3 867.1h0M1847.4 867.1h0M1849.8 867.1h0M1852.2 867.1h0M1853.8 867.1h0"/>
<path d="M1865.3 867.1H1893.3" class="zl"/>
<path class="d" d="M1868 867.1h0M1869.6 867.1h0M1870.4 867.1h0M1872.4 867.1h0M1873.2 867.1h0M1875.3 867.1h0M1876.1 867.1h0M1878 867.1h0M1879.1 867.1h0M1880.5 867.1h0M1882.5 867.1h0M1883.8 867.1h0M1885.2 867.1h0M1886.2 867.1h0M1887.9 867.1h0M1889 867.1h0M1890.6 867.1h0"/>
<path d="M1897.3 867.1H1925.3" class="zl"/>
<path class="d" d="M1899.3 867.1h0M1904.5 867.1h0M1906.3 867.1h0M1908.1 867.1h0M1909.2 867.1h0M1911.4 867.1h0M1912.9 867.1h0M1914.2 867.1h0M1916.3 867.1h0M1918.1 867.1h0M1919.5 867.1h0M1921.2 867.1h0"/>
<path d="M1929.4 867.1H1957.4" class="zl"/>
<path d="M1943.4 867.1V806.4M1941.9 806.4H1944.9" class="vl"/>
<path class="d" d="M1931.7 867.1h0M1933.1 867.1h0M1934.9 867.1h0M1936.8 867.1h0M1937.7 867.1h0M1939.5 867.1h0M1941.5 867.1h0M1942.8 867.1h0M1944.3 867.1h0M1946 867.1h0M1946.9 867.1h0M1949 867.1h0M1950.2 867.1h0M1951.9 867.1h0M1953.6 867.1h0M1955.2 867.1h0M1955.8 806.4h0M1939.9 858h0"/>
<path d="M1961.5 867.1H1989.5" class="zl"/>
<path class="d" d="M1963.9 867.1h0M1965.4 867.1h0M1967.1 867.1h0M1968.1 867.1h0M1969.5 867.1h0M1971.2 867.1h0M1972.5 867.1h0M1973.9 867.1h0M1975.7 867.1h0M1977.3 867.1h0M1978.5 867.1h0M1980.1 867.1h0M1981.6 867.1h0M1982.7 867.1h0M1984.3 867.1h0M1985.1 867.1h0M1986.6 867.1h0"/>
<path d="M1993.5 867.1H2021.5" class="zl"/>
<path class="d" d="M1995.5 867.1h0M2002.5 867.1h0M2018.5 867.1h0"/>
<path d="M2025.6 867.1H2053.6" class="zl"/>
<path class="d" d="M2028.6 867.1h0M2030.3 867.1h0M2031.6 867.1h0M2033.2 867.1h0M2035.5 867.1h0M2036.6 867.1h0M2038.4 867.1h0M2041.7 867.1h0M2043.9 867.1h0M2045.8 867.1h0M2047.5 867.1h0M2049.4 867.1h0"/>
<path d="M2057.6 867.1H2085.6" class="zl"/>
<path class="d" d="M2060 867.1h0M2061.8 867.1h0M2063.3 867.1h0M2064.6 867.1h0M2065.8 867.1h0M2067.1 867.1h0M2069 867.1h0M2070.1 867.1h0M2071.7 867.1h0M2072.7 867.1h0M2074.5 867.1h0M2076 867.1h0M2077.1 867.1h0M2078.7 867.1h0M2080.1 867.1h0M2081.8 867.1h0M2083 867.1h0"/>
<path d="M2089.7 867.1H2117.7" class="zl"/>
<path class="d" d="M2092.4 867.1h0M2093.3 867.1h0M2095.5 867.1h0M2096.8 867.1h0M2097.8 867.1h0M2099.8 867.1h0M2100.5 867.1h0M2102 867.1h0M2104 867.1h0M2105.3 867.1h0M2106.6 867.1h0M2108.1 867.1h0M2109.1 867.1h0M2111.1 867.1h0M2112.7 867.1h0M2113.8 867.1h0M2115 867.1h0"/>
<path d="M1122.7 732.6V873.6H2130" class="ax"/>
<path d="M1116.4 867.1H1122.7" class="ax"/>
<text x="1112.4" y="874.8" class="tl" text-anchor="end">0</text>
<path d="M1116.4 826.6H1122.7" class="ax"/>
<text x="1112.4" y="834.3" class="tl" text-anchor="end">2</text>
<path d="M1116.4 786.2H1122.7" class="ax"/>
<text x="1112.4" y="793.9" class="tl" text-anchor="end">4</text>
<path d="M1116.4 745.7H1122.7" class="ax"/>
<text x="1112.4" y="753.4" class="tl" text-anchor="end">6</text>
<path d="M1141.9 873.6V879.9" class="ax"/>
<text transform="translate(1146.9,879.2) rotate(-45)" class="tl" text-anchor="end" dominant-baseline="hanging">S0_a</text>
<path d="M1174 873.6V879.9" class="ax"/>
<text transform="translate(1179,879.2) rotate(-45)" class="tl" text-anchor="end" dominant-baseline="hanging">S0_b</text>
<path d="M1206 873.6V879.9" class="ax"/>
<text transform="translate(1211,879.2) rotate(-45)" class="tl" text-anchor="end" dominant-baseline="hanging">S0_c</text>
<path d="M1238.1 873.6V879.9" class="ax"/>
<text transform="translate(1243.1,879.2) rotate(-45)" class="tl" text-anchor="end" dominant-baseline="hanging">S0_d</text>
<path d="M1270.1 873.6V879.9" class="ax"/>
<text transform="translate(1275.1,879.2) rotate(-45)" class="tl" text-anchor="end" dominant-baseline="hanging">S0_e</text>
<path d="M1302.2 873.6V879.9" class="ax"/>
<text transform="translate(1307.2,879.2) rotate(-45)" class="tl" text-anchor="end" dominant-baseline="hanging">S0_f</text>
<path d="M1334.3 873.6V879.9" class="ax"/>
<text transform="translate(1339.3,879.2) rotate(-45)" class="tl" text-anchor="end" dominant-baseline="hanging">S0_g</text>
<path d="M1366.3 873.6V879.9" class="ax"/>
<text transform="translate(1371.3,879.2) rotate(-45)" class="tl" text-anchor="end" dominant-baseline="hanging">S0_h</text>
<path d="M1398.4 873.6V879.9" class="ax"/>
<text transform="translate(1403.4,879.2) rotate(-45)" class="tl" text-anchor="end" dominant-baseline="hanging">S1_a</text>
<path d="M1430.4 873.6V879.9" class="ax"/>
<text transform="translate(1435.4,879.2) rotate(-45)" class="tl" text-anchor="end" dominant-baseline="hanging">S1_b</text>
<path d="M1462.5 873.6V879.9" class="ax"/>
<text transform="translate(1467.5,879.2) rotate(-45)" class="tl" text-anchor="end" dominant-baseline="hanging">S1_c</text>
<path d="M1494.6 873.6V879.9" class="ax"/>
<text transform="translate(1499.6,879.2) rotate(-45)" class="tl" text-anchor="end" dominant-baseline="hanging">S1_d</text>
<path d="M1526.6 873.6V879.9" class="ax"/>
<text transform="translate(1531.6,879.2) rotate(-45)" class="tl" text-anchor="end" dominant-baseline="hanging">S1_e</text>
<path d="M1558.7 873.6V879.9" class="ax"/>
<text transform="translate(1563.7,879.2) rotate(-45)" class="tl" text-anchor="end" dominant-baseline="hanging">S1_f</text>
<path d="M1590.7 873.6V879.9" class="ax"/>
<text transform="translate(1595.7,879.2) rotate(-45)" class="tl" text-anchor="end" dominant-baseline="hanging">S1_g</text>
<path d="M1622.8 873.6V879.9" class="ax"/>
<text transform="translate(1627.8,879.2) rotate(-45)" class="tl" text-anchor="end" dominant-baseline="hanging">S1_h</text>
<path d="M1654.9 873.6V879.9" class="ax"/>
<text transform="translate(1659.9,879.2) rotate(-45)" class="tl" text-anchor="end" dominant-baseline="hanging">S2_a</text>
<path d="M1686.9 873.6V879.9" class="ax"/>
<text transform="translate(1691.9,879.2) rotate(-45)" class="tl" text-anchor="end" dominant-baseline="hanging">S2_b</text>
<path d="M1719 873.6V879.9" class="ax"/>
<text transform="translate(1724,879.2) rotate(-45)" class="tl" text-anchor="end" dominant-baseline="hanging">S2_c</text>
<path d="M1751 873.6V879.9" class="ax"/>
<text transform="translate(1756,879.2) rotate(-45)" class="tl" text-anchor="end" dominant-baseline="hanging">S2_d</text>
<path d="M1783.1 873.6V879.9" class="ax"/>
<text transform="translate(1788.1,879.2) rotate(-45)" class="tl" text-anchor="end" dominant-baseline="hanging">S2_e</text>
<path d="M1815.2 873.6V879.9" class="ax"/>
<text transform="translate(1820.2,879.2) rotate(-45)" class="tl" text-anchor="end" dominant-baseline="hanging">S2_f</text>
<path d="M1847.2 873.6V879.9" class="ax"/>
<text transform="translate(1852.2,879.2) rotate(-45)" class="tl" text-anchor="end" dominant-baseline="hanging">S2_g</text>
<path d="M1879.3 873.6V879.9" class="ax"/>
<text transform="translate(1884.3,879.2) rotate(-45)" class="tl" text-anchor="end" dominant-baseline="hanging">S3_a</text>
<path d="M1911.3 873.6V879.9" class="ax"/>
<text transform="translate(1916.3,879.2) rotate(-45)" class="tl" text-anchor="end" dominant-baseline="hanging">S3_b</text>
<path d="M1943.4 873.6V879.9" class="ax"/>
<text transform="translate(1948.4,879.2) rotate(-45)" class="tl" text-anchor="end" dominant-baseline="hanging">S3_c</text>
<path d="M1975.5 873.6V879.9" class="ax"/>
<text transform="translate(1980.5,879.2) rotate(-45)" class="tl" text-anchor="end" dominant-baseline="hanging">S3_d</text>
<path d="M2007.5 873.6V879.9" class="ax"/>
<text transform="translate(2012.5,879.2) rotate(-45)" class="tl" text-anchor="end" dominant-baseline="hanging">S3_e</text>
<path d="M2039.6 873.6V879.9" class="ax"/>
<text transform="translate(2044.6,879.2) rotate(-45)" class="tl" text-anchor="end" dominant-baseline="hanging">S3_f</text>
<path d="M2071.6 873.6V879.9" class="ax"/>
<text transform="translate(2076.6,879.2) rotate(-45)" class="tl" text-anchor="end" dominant-baseline="hanging">S3_g</text>
<path d="M2103.7 873.6V879.9" class="ax"/>
<text transform="translate(2108.7,879.2) rotate(-45)" class="tl" text-anchor="end" dominant-baseline="hanging">S3_h</text>
<text x="1624" y="714.8" class="tt" text-anchor="middle">Zg16</text>
<text x="1624.3" y="954.7" class="id" text-anchor="middle">Identity</text>
</g>
</svg>
</body></html>
